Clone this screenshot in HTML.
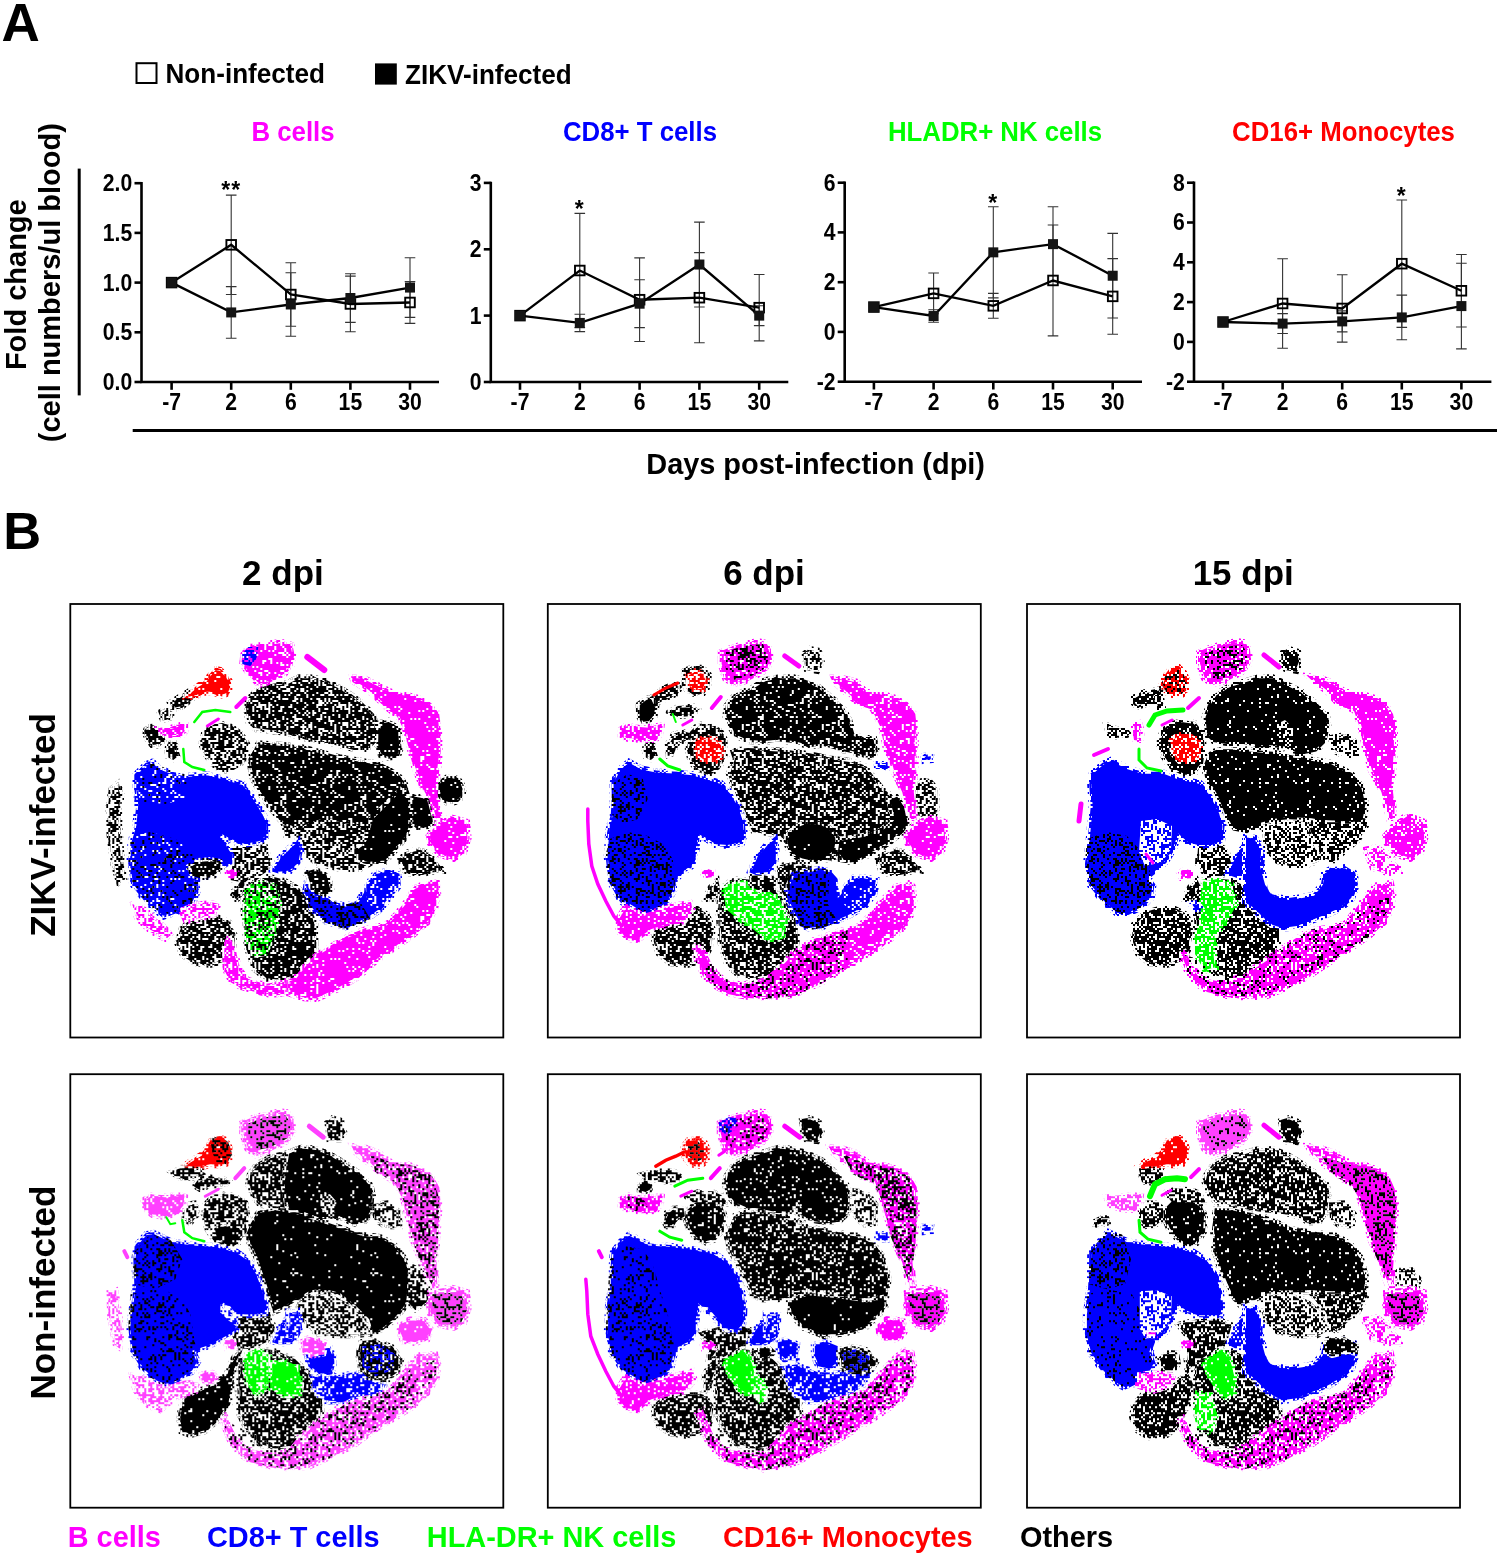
<!DOCTYPE html>
<html><head><meta charset="utf-8"><style>
html,body{margin:0;padding:0;background:#fff;}
svg{display:block;will-change:transform;}
</style></head><body>
<svg width="1500" height="1555" viewBox="0 0 1500 1555">
<text transform="translate(1.50,40.50)" fill="#000" font-family="'Liberation Sans', sans-serif" font-weight="bold" font-size="53">A</text>
<rect x="136.5" y="63.2" width="20" height="19.8" fill="none" stroke="#000" stroke-width="2"/>
<text transform="translate(165.50,83.00) scale(1,1.04)" fill="#000" font-family="'Liberation Sans', sans-serif" font-weight="bold" font-size="26.1">Non-infected</text>
<rect x="375" y="63.4" width="21.8" height="21.2" fill="#000"/>
<text transform="translate(405.00,84.00) scale(1,1.04)" fill="#000" font-family="'Liberation Sans', sans-serif" font-weight="bold" font-size="26.1">ZIKV-infected</text>
<text transform="translate(293.00,140.60) scale(1,1.07)" text-anchor="middle" fill="#ff00ff" font-family="'Liberation Sans', sans-serif" font-weight="bold" font-size="25.8">B cells</text>
<path d="M231.2 195.1V294.5M225.9 195.1h10.6M225.9 294.5h10.6" stroke="#333" stroke-width="1.1" fill="none"/>
<path d="M290.8 262.7V326.3M285.5 262.7h10.6M285.5 326.3h10.6" stroke="#333" stroke-width="1.1" fill="none"/>
<path d="M350.4 276.1V331.8M345.1 276.1h10.6M345.1 331.8h10.6" stroke="#333" stroke-width="1.1" fill="none"/>
<path d="M410.0 281.6V323.4M404.7 281.6h10.6M404.7 323.4h10.6" stroke="#333" stroke-width="1.1" fill="none"/>
<path d="M231.2 286.6V338.3M225.9 286.6h10.6M225.9 338.3h10.6" stroke="#333" stroke-width="1.1" fill="none"/>
<path d="M290.8 272.7V336.3M285.5 272.7h10.6M285.5 336.3h10.6" stroke="#333" stroke-width="1.1" fill="none"/>
<path d="M350.4 273.7V322.4M345.1 273.7h10.6M345.1 322.4h10.6" stroke="#333" stroke-width="1.1" fill="none"/>
<path d="M410.0 257.8V317.4M404.7 257.8h10.6M404.7 317.4h10.6" stroke="#333" stroke-width="1.1" fill="none"/>
<polyline points="171.6,282.6 231.2,244.8 290.8,294.5 350.4,304.0 410.0,302.5" fill="none" stroke="#000" stroke-width="2.35" stroke-linejoin="miter"/>
<polyline points="171.6,282.6 231.2,312.4 290.8,304.5 350.4,298.0 410.0,287.6" fill="none" stroke="#000" stroke-width="2.35" stroke-linejoin="miter"/>
<rect x="166.80" y="277.80" width="9.6" height="9.6" fill="none" stroke="#000" stroke-width="1.9"/>
<rect x="226.40" y="240.03" width="9.6" height="9.6" fill="none" stroke="#000" stroke-width="1.9"/>
<rect x="286.00" y="289.73" width="9.6" height="9.6" fill="none" stroke="#000" stroke-width="1.9"/>
<rect x="345.60" y="299.17" width="9.6" height="9.6" fill="none" stroke="#000" stroke-width="1.9"/>
<rect x="405.20" y="297.68" width="9.6" height="9.6" fill="none" stroke="#000" stroke-width="1.9"/>
<rect x="166.60" y="277.60" width="10" height="10" fill="#141414"/>
<rect x="226.20" y="307.42" width="10" height="10" fill="#141414"/>
<rect x="285.80" y="299.47" width="10" height="10" fill="#141414"/>
<rect x="345.40" y="293.01" width="10" height="10" fill="#141414"/>
<rect x="405.00" y="282.57" width="10" height="10" fill="#141414"/>
<path d="M141.5 182.0V382.0H439.0" fill="none" stroke="#000" stroke-width="2.6" stroke-linejoin="miter"/>
<path d="M134.5 382.0H141.5" stroke="#000" stroke-width="2.6"/>
<text transform="translate(132.30,389.90) scale(1,1.12)" text-anchor="end" fill="#000" font-family="'Liberation Sans', sans-serif" font-weight="bold" font-size="21.2">0.0</text>
<path d="M134.5 332.3H141.5" stroke="#000" stroke-width="2.6"/>
<text transform="translate(132.30,340.20) scale(1,1.12)" text-anchor="end" fill="#000" font-family="'Liberation Sans', sans-serif" font-weight="bold" font-size="21.2">0.5</text>
<path d="M134.5 282.6H141.5" stroke="#000" stroke-width="2.6"/>
<text transform="translate(132.30,290.50) scale(1,1.12)" text-anchor="end" fill="#000" font-family="'Liberation Sans', sans-serif" font-weight="bold" font-size="21.2">1.0</text>
<path d="M134.5 232.9H141.5" stroke="#000" stroke-width="2.6"/>
<text transform="translate(132.30,240.80) scale(1,1.12)" text-anchor="end" fill="#000" font-family="'Liberation Sans', sans-serif" font-weight="bold" font-size="21.2">1.5</text>
<path d="M134.5 183.2H141.5" stroke="#000" stroke-width="2.6"/>
<text transform="translate(132.30,191.10) scale(1,1.12)" text-anchor="end" fill="#000" font-family="'Liberation Sans', sans-serif" font-weight="bold" font-size="21.2">2.0</text>
<path d="M171.6 382.0V389.8" stroke="#000" stroke-width="2.6"/>
<text transform="translate(171.60,409.50) scale(1,1.12)" text-anchor="middle" fill="#000" font-family="'Liberation Sans', sans-serif" font-weight="bold" font-size="21.2">-7</text>
<path d="M231.2 382.0V389.8" stroke="#000" stroke-width="2.6"/>
<text transform="translate(231.20,409.50) scale(1,1.12)" text-anchor="middle" fill="#000" font-family="'Liberation Sans', sans-serif" font-weight="bold" font-size="21.2">2</text>
<path d="M290.8 382.0V389.8" stroke="#000" stroke-width="2.6"/>
<text transform="translate(290.80,409.50) scale(1,1.12)" text-anchor="middle" fill="#000" font-family="'Liberation Sans', sans-serif" font-weight="bold" font-size="21.2">6</text>
<path d="M350.4 382.0V389.8" stroke="#000" stroke-width="2.6"/>
<text transform="translate(350.40,409.50) scale(1,1.12)" text-anchor="middle" fill="#000" font-family="'Liberation Sans', sans-serif" font-weight="bold" font-size="21.2">15</text>
<path d="M410.0 382.0V389.8" stroke="#000" stroke-width="2.6"/>
<text transform="translate(410.00,409.50) scale(1,1.12)" text-anchor="middle" fill="#000" font-family="'Liberation Sans', sans-serif" font-weight="bold" font-size="21.2">30</text>
<text transform="translate(231.20,198.00)" text-anchor="middle" fill="#000" font-family="'Liberation Sans', sans-serif" font-weight="bold" font-size="23" letter-spacing="1">**</text>
<text transform="translate(640.00,140.60) scale(1,1.07)" text-anchor="middle" fill="#0000ff" font-family="'Liberation Sans', sans-serif" font-weight="bold" font-size="25.8">CD8+ T cells</text>
<path d="M579.8 213.4V327.6M574.5 213.4h10.6M574.5 327.6h10.6" stroke="#333" stroke-width="1.1" fill="none"/>
<path d="M639.6 257.9V341.5M634.3 257.9h10.6M634.3 341.5h10.6" stroke="#333" stroke-width="1.1" fill="none"/>
<path d="M699.4 252.6V342.8M694.1 252.6h10.6M694.1 342.8h10.6" stroke="#333" stroke-width="1.1" fill="none"/>
<path d="M759.2 274.5V340.9M753.9 274.5h10.6M753.9 340.9h10.6" stroke="#333" stroke-width="1.1" fill="none"/>
<path d="M579.8 314.3V331.6M574.5 314.3h10.6M574.5 331.6h10.6" stroke="#333" stroke-width="1.1" fill="none"/>
<path d="M639.6 279.8V327.6M634.3 279.8h10.6M634.3 327.6h10.6" stroke="#333" stroke-width="1.1" fill="none"/>
<path d="M699.4 222.1V307.0M694.1 222.1h10.6M694.1 307.0h10.6" stroke="#333" stroke-width="1.1" fill="none"/>
<path d="M759.2 305.7V325.6M753.9 305.7h10.6M753.9 325.6h10.6" stroke="#333" stroke-width="1.1" fill="none"/>
<polyline points="520.0,315.6 579.8,270.5 639.6,299.7 699.4,297.7 759.2,307.7" fill="none" stroke="#000" stroke-width="2.35" stroke-linejoin="miter"/>
<polyline points="520.0,315.6 579.8,322.9 639.6,303.7 699.4,264.5 759.2,315.6" fill="none" stroke="#000" stroke-width="2.35" stroke-linejoin="miter"/>
<rect x="515.20" y="310.83" width="9.6" height="9.6" fill="none" stroke="#000" stroke-width="1.9"/>
<rect x="575.00" y="265.70" width="9.6" height="9.6" fill="none" stroke="#000" stroke-width="1.9"/>
<rect x="634.80" y="294.91" width="9.6" height="9.6" fill="none" stroke="#000" stroke-width="1.9"/>
<rect x="694.60" y="292.91" width="9.6" height="9.6" fill="none" stroke="#000" stroke-width="1.9"/>
<rect x="754.40" y="302.87" width="9.6" height="9.6" fill="none" stroke="#000" stroke-width="1.9"/>
<rect x="515.00" y="310.63" width="10" height="10" fill="#141414"/>
<rect x="574.80" y="317.93" width="10" height="10" fill="#141414"/>
<rect x="634.60" y="298.69" width="10" height="10" fill="#141414"/>
<rect x="694.40" y="259.53" width="10" height="10" fill="#141414"/>
<rect x="754.20" y="310.63" width="10" height="10" fill="#141414"/>
<path d="M490.8 181.7V382.0H788.3" fill="none" stroke="#000" stroke-width="2.6" stroke-linejoin="miter"/>
<path d="M483.8 382.0H490.8" stroke="#000" stroke-width="2.6"/>
<text transform="translate(481.60,389.90) scale(1,1.12)" text-anchor="end" fill="#000" font-family="'Liberation Sans', sans-serif" font-weight="bold" font-size="21.2">0</text>
<path d="M483.8 315.6H490.8" stroke="#000" stroke-width="2.6"/>
<text transform="translate(481.60,323.53) scale(1,1.12)" text-anchor="end" fill="#000" font-family="'Liberation Sans', sans-serif" font-weight="bold" font-size="21.2">1</text>
<path d="M483.8 249.3H490.8" stroke="#000" stroke-width="2.6"/>
<text transform="translate(481.60,257.17) scale(1,1.12)" text-anchor="end" fill="#000" font-family="'Liberation Sans', sans-serif" font-weight="bold" font-size="21.2">2</text>
<path d="M483.8 182.9H490.8" stroke="#000" stroke-width="2.6"/>
<text transform="translate(481.60,190.80) scale(1,1.12)" text-anchor="end" fill="#000" font-family="'Liberation Sans', sans-serif" font-weight="bold" font-size="21.2">3</text>
<path d="M520.0 382.0V389.8" stroke="#000" stroke-width="2.6"/>
<text transform="translate(520.00,409.50) scale(1,1.12)" text-anchor="middle" fill="#000" font-family="'Liberation Sans', sans-serif" font-weight="bold" font-size="21.2">-7</text>
<path d="M579.8 382.0V389.8" stroke="#000" stroke-width="2.6"/>
<text transform="translate(579.80,409.50) scale(1,1.12)" text-anchor="middle" fill="#000" font-family="'Liberation Sans', sans-serif" font-weight="bold" font-size="21.2">2</text>
<path d="M639.6 382.0V389.8" stroke="#000" stroke-width="2.6"/>
<text transform="translate(639.60,409.50) scale(1,1.12)" text-anchor="middle" fill="#000" font-family="'Liberation Sans', sans-serif" font-weight="bold" font-size="21.2">6</text>
<path d="M699.4 382.0V389.8" stroke="#000" stroke-width="2.6"/>
<text transform="translate(699.40,409.50) scale(1,1.12)" text-anchor="middle" fill="#000" font-family="'Liberation Sans', sans-serif" font-weight="bold" font-size="21.2">15</text>
<path d="M759.2 382.0V389.8" stroke="#000" stroke-width="2.6"/>
<text transform="translate(759.20,409.50) scale(1,1.12)" text-anchor="middle" fill="#000" font-family="'Liberation Sans', sans-serif" font-weight="bold" font-size="21.2">30</text>
<text transform="translate(579.80,217.00)" text-anchor="middle" fill="#000" font-family="'Liberation Sans', sans-serif" font-weight="bold" font-size="23" letter-spacing="1">*</text>
<text transform="translate(995.00,140.60) scale(1,1.07)" text-anchor="middle" fill="#00ff00" font-family="'Liberation Sans', sans-serif" font-weight="bold" font-size="25.8">HLADR+ NK cells</text>
<path d="M933.6 273.0V313.8M928.3 273.0h10.6M928.3 313.8h10.6" stroke="#333" stroke-width="1.1" fill="none"/>
<path d="M993.3 293.4V318.3M988.0 293.4h10.6M988.0 318.3h10.6" stroke="#333" stroke-width="1.1" fill="none"/>
<path d="M1053.0 225.0V335.9M1047.7 225.0h10.6M1047.7 335.9h10.6" stroke="#333" stroke-width="1.1" fill="none"/>
<path d="M1112.7 258.6V334.2M1107.4 258.6h10.6M1107.4 334.2h10.6" stroke="#333" stroke-width="1.1" fill="none"/>
<path d="M933.6 309.8V322.2M928.3 309.8h10.6M928.3 322.2h10.6" stroke="#333" stroke-width="1.1" fill="none"/>
<path d="M993.3 206.8V297.9M988.0 206.8h10.6M988.0 297.9h10.6" stroke="#333" stroke-width="1.1" fill="none"/>
<path d="M1053.0 206.8V281.5M1047.7 206.8h10.6M1047.7 281.5h10.6" stroke="#333" stroke-width="1.1" fill="none"/>
<path d="M1112.7 233.4V318.0M1107.4 233.4h10.6M1107.4 318.0h10.6" stroke="#333" stroke-width="1.1" fill="none"/>
<polyline points="873.9,307.1 933.6,293.4 993.3,305.8 1053.0,280.5 1112.7,296.4" fill="none" stroke="#000" stroke-width="2.35" stroke-linejoin="miter"/>
<polyline points="873.9,307.1 933.6,316.0 993.3,252.3 1053.0,244.1 1112.7,275.7" fill="none" stroke="#000" stroke-width="2.35" stroke-linejoin="miter"/>
<rect x="869.10" y="302.27" width="9.6" height="9.6" fill="none" stroke="#000" stroke-width="1.9"/>
<rect x="928.80" y="288.59" width="9.6" height="9.6" fill="none" stroke="#000" stroke-width="1.9"/>
<rect x="988.50" y="301.03" width="9.6" height="9.6" fill="none" stroke="#000" stroke-width="1.9"/>
<rect x="1048.20" y="275.66" width="9.6" height="9.6" fill="none" stroke="#000" stroke-width="1.9"/>
<rect x="1107.90" y="291.58" width="9.6" height="9.6" fill="none" stroke="#000" stroke-width="1.9"/>
<rect x="868.90" y="302.07" width="10" height="10" fill="#141414"/>
<rect x="928.60" y="311.03" width="10" height="10" fill="#141414"/>
<rect x="988.30" y="247.35" width="10" height="10" fill="#141414"/>
<rect x="1048.00" y="239.14" width="10" height="10" fill="#141414"/>
<rect x="1107.70" y="270.73" width="10" height="10" fill="#141414"/>
<path d="M844.7 181.5V381.7H1142.0" fill="none" stroke="#000" stroke-width="2.6" stroke-linejoin="miter"/>
<path d="M837.7 381.7H844.7" stroke="#000" stroke-width="2.6"/>
<text transform="translate(835.50,389.60) scale(1,1.12)" text-anchor="end" fill="#000" font-family="'Liberation Sans', sans-serif" font-weight="bold" font-size="21.2">-2</text>
<path d="M837.7 331.9H844.7" stroke="#000" stroke-width="2.6"/>
<text transform="translate(835.50,339.85) scale(1,1.12)" text-anchor="end" fill="#000" font-family="'Liberation Sans', sans-serif" font-weight="bold" font-size="21.2">0</text>
<path d="M837.7 282.2H844.7" stroke="#000" stroke-width="2.6"/>
<text transform="translate(835.50,290.10) scale(1,1.12)" text-anchor="end" fill="#000" font-family="'Liberation Sans', sans-serif" font-weight="bold" font-size="21.2">2</text>
<path d="M837.7 232.4H844.7" stroke="#000" stroke-width="2.6"/>
<text transform="translate(835.50,240.35) scale(1,1.12)" text-anchor="end" fill="#000" font-family="'Liberation Sans', sans-serif" font-weight="bold" font-size="21.2">4</text>
<path d="M837.7 182.7H844.7" stroke="#000" stroke-width="2.6"/>
<text transform="translate(835.50,190.60) scale(1,1.12)" text-anchor="end" fill="#000" font-family="'Liberation Sans', sans-serif" font-weight="bold" font-size="21.2">6</text>
<path d="M873.9 381.7V389.5" stroke="#000" stroke-width="2.6"/>
<text transform="translate(873.90,409.50) scale(1,1.12)" text-anchor="middle" fill="#000" font-family="'Liberation Sans', sans-serif" font-weight="bold" font-size="21.2">-7</text>
<path d="M933.6 381.7V389.5" stroke="#000" stroke-width="2.6"/>
<text transform="translate(933.60,409.50) scale(1,1.12)" text-anchor="middle" fill="#000" font-family="'Liberation Sans', sans-serif" font-weight="bold" font-size="21.2">2</text>
<path d="M993.3 381.7V389.5" stroke="#000" stroke-width="2.6"/>
<text transform="translate(993.30,409.50) scale(1,1.12)" text-anchor="middle" fill="#000" font-family="'Liberation Sans', sans-serif" font-weight="bold" font-size="21.2">6</text>
<path d="M1053.0 381.7V389.5" stroke="#000" stroke-width="2.6"/>
<text transform="translate(1053.00,409.50) scale(1,1.12)" text-anchor="middle" fill="#000" font-family="'Liberation Sans', sans-serif" font-weight="bold" font-size="21.2">15</text>
<path d="M1112.7 381.7V389.5" stroke="#000" stroke-width="2.6"/>
<text transform="translate(1112.70,409.50) scale(1,1.12)" text-anchor="middle" fill="#000" font-family="'Liberation Sans', sans-serif" font-weight="bold" font-size="21.2">30</text>
<text transform="translate(993.30,211.00)" text-anchor="middle" fill="#000" font-family="'Liberation Sans', sans-serif" font-weight="bold" font-size="23" letter-spacing="1">*</text>
<text transform="translate(1343.50,140.60) scale(1,1.07)" text-anchor="middle" fill="#ff0000" font-family="'Liberation Sans', sans-serif" font-weight="bold" font-size="25.8">CD16+ Monocytes</text>
<path d="M1282.6 258.7V348.3M1277.3 258.7h10.6M1277.3 348.3h10.6" stroke="#333" stroke-width="1.1" fill="none"/>
<path d="M1342.2 274.8V342.1M1336.9 274.8h10.6M1336.9 342.1h10.6" stroke="#333" stroke-width="1.1" fill="none"/>
<path d="M1401.8 200.0V327.4M1396.5 200.0h10.6M1396.5 327.4h10.6" stroke="#333" stroke-width="1.1" fill="none"/>
<path d="M1461.4 254.5V327.0M1456.1 254.5h10.6M1456.1 327.0h10.6" stroke="#333" stroke-width="1.1" fill="none"/>
<path d="M1282.6 313.6V333.5M1277.3 313.6h10.6M1277.3 333.5h10.6" stroke="#333" stroke-width="1.1" fill="none"/>
<path d="M1342.2 310.9V331.9M1336.9 310.9h10.6M1336.9 331.9h10.6" stroke="#333" stroke-width="1.1" fill="none"/>
<path d="M1401.8 295.1V339.7M1396.5 295.1h10.6M1396.5 339.7h10.6" stroke="#333" stroke-width="1.1" fill="none"/>
<path d="M1461.4 263.3V348.9M1456.1 263.3h10.6M1456.1 348.9h10.6" stroke="#333" stroke-width="1.1" fill="none"/>
<polyline points="1223.0,322.0 1282.6,303.5 1342.2,308.5 1401.8,263.7 1461.4,290.8" fill="none" stroke="#000" stroke-width="2.35" stroke-linejoin="miter"/>
<polyline points="1223.0,322.0 1282.6,323.6 1342.2,321.4 1401.8,317.4 1461.4,306.1" fill="none" stroke="#000" stroke-width="2.35" stroke-linejoin="miter"/>
<rect x="1218.20" y="317.20" width="9.6" height="9.6" fill="none" stroke="#000" stroke-width="1.9"/>
<rect x="1277.80" y="298.69" width="9.6" height="9.6" fill="none" stroke="#000" stroke-width="1.9"/>
<rect x="1337.40" y="303.67" width="9.6" height="9.6" fill="none" stroke="#000" stroke-width="1.9"/>
<rect x="1397.00" y="258.89" width="9.6" height="9.6" fill="none" stroke="#000" stroke-width="1.9"/>
<rect x="1456.60" y="285.96" width="9.6" height="9.6" fill="none" stroke="#000" stroke-width="1.9"/>
<rect x="1218.00" y="317.00" width="10" height="10" fill="#141414"/>
<rect x="1277.60" y="318.59" width="10" height="10" fill="#141414"/>
<rect x="1337.20" y="316.40" width="10" height="10" fill="#141414"/>
<rect x="1396.80" y="312.42" width="10" height="10" fill="#141414"/>
<rect x="1456.40" y="301.08" width="10" height="10" fill="#141414"/>
<path d="M1194.0 181.5V381.7H1491.4" fill="none" stroke="#000" stroke-width="2.6" stroke-linejoin="miter"/>
<path d="M1187.0 381.7H1194" stroke="#000" stroke-width="2.6"/>
<text transform="translate(1184.80,389.60) scale(1,1.12)" text-anchor="end" fill="#000" font-family="'Liberation Sans', sans-serif" font-weight="bold" font-size="21.2">-2</text>
<path d="M1187.0 341.9H1194" stroke="#000" stroke-width="2.6"/>
<text transform="translate(1184.80,349.80) scale(1,1.12)" text-anchor="end" fill="#000" font-family="'Liberation Sans', sans-serif" font-weight="bold" font-size="21.2">0</text>
<path d="M1187.0 302.1H1194" stroke="#000" stroke-width="2.6"/>
<text transform="translate(1184.80,310.00) scale(1,1.12)" text-anchor="end" fill="#000" font-family="'Liberation Sans', sans-serif" font-weight="bold" font-size="21.2">2</text>
<path d="M1187.0 262.3H1194" stroke="#000" stroke-width="2.6"/>
<text transform="translate(1184.80,270.20) scale(1,1.12)" text-anchor="end" fill="#000" font-family="'Liberation Sans', sans-serif" font-weight="bold" font-size="21.2">4</text>
<path d="M1187.0 222.5H1194" stroke="#000" stroke-width="2.6"/>
<text transform="translate(1184.80,230.40) scale(1,1.12)" text-anchor="end" fill="#000" font-family="'Liberation Sans', sans-serif" font-weight="bold" font-size="21.2">6</text>
<path d="M1187.0 182.7H1194" stroke="#000" stroke-width="2.6"/>
<text transform="translate(1184.80,190.60) scale(1,1.12)" text-anchor="end" fill="#000" font-family="'Liberation Sans', sans-serif" font-weight="bold" font-size="21.2">8</text>
<path d="M1223.0 381.7V389.5" stroke="#000" stroke-width="2.6"/>
<text transform="translate(1223.00,409.50) scale(1,1.12)" text-anchor="middle" fill="#000" font-family="'Liberation Sans', sans-serif" font-weight="bold" font-size="21.2">-7</text>
<path d="M1282.6 381.7V389.5" stroke="#000" stroke-width="2.6"/>
<text transform="translate(1282.60,409.50) scale(1,1.12)" text-anchor="middle" fill="#000" font-family="'Liberation Sans', sans-serif" font-weight="bold" font-size="21.2">2</text>
<path d="M1342.2 381.7V389.5" stroke="#000" stroke-width="2.6"/>
<text transform="translate(1342.20,409.50) scale(1,1.12)" text-anchor="middle" fill="#000" font-family="'Liberation Sans', sans-serif" font-weight="bold" font-size="21.2">6</text>
<path d="M1401.8 381.7V389.5" stroke="#000" stroke-width="2.6"/>
<text transform="translate(1401.80,409.50) scale(1,1.12)" text-anchor="middle" fill="#000" font-family="'Liberation Sans', sans-serif" font-weight="bold" font-size="21.2">15</text>
<path d="M1461.4 381.7V389.5" stroke="#000" stroke-width="2.6"/>
<text transform="translate(1461.40,409.50) scale(1,1.12)" text-anchor="middle" fill="#000" font-family="'Liberation Sans', sans-serif" font-weight="bold" font-size="21.2">30</text>
<text transform="translate(1401.80,204.00)" text-anchor="middle" fill="#000" font-family="'Liberation Sans', sans-serif" font-weight="bold" font-size="23" letter-spacing="1">*</text>
<text transform="translate(25.80,284.70) rotate(-90)" text-anchor="middle" fill="#000" font-family="'Liberation Sans', sans-serif" font-weight="bold" font-size="29">Fold change</text>
<text transform="translate(60.20,282.70) rotate(-90)" text-anchor="middle" fill="#000" font-family="'Liberation Sans', sans-serif" font-weight="bold" font-size="29">(cell numbers/ul blood)</text>
<path d="M79.2 168.6V395.4" stroke="#000" stroke-width="3"/>
<path d="M132.7 430.5H1497" stroke="#000" stroke-width="2.9"/>
<text transform="translate(815.60,473.60)" text-anchor="middle" fill="#000" font-family="'Liberation Sans', sans-serif" font-weight="bold" font-size="28.9">Days post-infection (dpi)</text>
<text transform="translate(3.30,548.70)" fill="#000" font-family="'Liberation Sans', sans-serif" font-weight="bold" font-size="52.5">B</text>
<text transform="translate(282.90,584.80)" text-anchor="middle" fill="#000" font-family="'Liberation Sans', sans-serif" font-weight="bold" font-size="35">2 dpi</text>
<text transform="translate(764.00,584.80)" text-anchor="middle" fill="#000" font-family="'Liberation Sans', sans-serif" font-weight="bold" font-size="35">6 dpi</text>
<text transform="translate(1243.20,584.80)" text-anchor="middle" fill="#000" font-family="'Liberation Sans', sans-serif" font-weight="bold" font-size="35">15 dpi</text>
<text transform="translate(55.20,825.00) rotate(-90)" text-anchor="middle" fill="#000" font-family="'Liberation Sans', sans-serif" font-weight="bold" font-size="35">ZIKV-infected</text>
<text transform="translate(54.50,1292.60) rotate(-90)" text-anchor="middle" fill="#000" font-family="'Liberation Sans', sans-serif" font-weight="bold" font-size="35">Non-infected</text>
<defs><filter id="rough" x="-2%" y="-2%" width="104%" height="104%" color-interpolation-filters="sRGB"><feTurbulence type="fractalNoise" baseFrequency="0.09" numOctaves="2" seed="5" result="t"/><feDisplacementMap in="SourceGraphic" in2="t" scale="7" xChannelSelector="R" yChannelSelector="G"/></filter><pattern id="p0000001" patternUnits="userSpaceOnUse" width="80" height="80"><path d="M0 0h4v2h-4zM26 0h2v2h-2zM0 2h2v2h-2zM12 2h2v2h-2zM34 2h2v2h-2zM6 4h2v2h-2zM30 4h2v2h-2zM48 4h2v2h-2zM52 4h2v2h-2zM70 4h2v2h-2zM18 6h2v2h-2zM10 10h2v2h-2zM32 10h2v2h-2zM4 12h2v2h-2zM10 12h2v2h-2zM20 12h2v2h-2zM40 14h2v2h-2zM72 14h2v2h-2zM26 16h2v2h-2zM38 16h4v2h-4zM56 16h2v2h-2zM0 18h2v2h-2zM28 18h2v2h-2zM34 18h2v2h-2zM64 18h2v2h-2zM72 18h2v2h-2zM78 18h2v2h-2zM8 20h2v2h-2zM52 20h2v2h-2zM72 22h2v2h-2zM40 26h2v2h-2zM60 26h2v2h-2zM8 28h2v2h-2zM78 30h2v2h-2zM6 32h2v2h-2zM46 32h2v2h-2zM8 36h2v2h-2zM42 36h2v2h-2zM74 36h2v2h-2zM14 38h2v2h-2zM42 38h2v2h-2zM2 40h2v2h-2zM10 40h2v2h-2zM40 40h2v2h-2zM10 42h2v2h-2zM42 42h2v2h-2zM58 42h2v2h-2zM66 42h2v2h-2zM0 44h2v2h-2zM30 44h2v2h-2zM68 44h2v2h-2zM6 46h2v2h-2zM18 46h2v2h-2zM50 46h2v2h-2zM24 48h2v2h-2zM44 48h2v2h-2zM18 50h2v2h-2zM38 50h2v2h-2zM56 50h2v2h-2zM4 54h2v2h-2zM12 56h2v2h-2zM6 58h2v2h-2zM20 58h2v2h-2zM18 60h2v2h-2zM22 60h2v2h-2zM0 62h2v2h-2zM20 62h2v2h-2zM28 62h2v2h-2zM38 62h2v2h-2zM64 62h2v2h-2zM26 64h2v2h-2zM46 64h2v2h-2zM60 64h2v2h-2zM76 64h2v2h-2zM40 66h2v2h-2zM56 66h2v2h-2zM0 68h2v2h-2zM64 68h2v2h-2zM78 68h2v2h-2zM12 70h2v2h-2zM20 70h2v2h-2zM28 70h2v2h-2zM20 72h2v2h-2zM44 72h2v2h-2zM66 72h4v2h-4zM20 74h2v2h-2zM30 74h2v2h-2zM48 74h2v2h-2zM10 76h2v2h-2zM22 76h2v2h-2zM64 76h2v2h-2zM40 78h2v2h-2zM56 78h2v2h-2z" fill="#000000"/></pattern>
<pattern id="p0000002" patternUnits="userSpaceOnUse" width="80" height="80"><path d="M8 0h2v2h-2zM18 0h2v2h-2zM30 0h2v2h-2zM36 0h2v2h-2zM38 2h2v2h-2zM72 2h2v2h-2zM20 4h2v2h-2zM26 4h2v2h-2zM40 4h4v2h-4zM46 4h2v2h-2zM60 4h2v2h-2zM72 4h2v2h-2zM2 6h2v2h-2zM6 6h2v2h-2zM14 6h2v2h-2zM70 6h2v2h-2zM8 8h2v2h-2zM16 8h2v2h-2zM64 8h2v2h-2zM50 10h2v2h-2zM74 10h2v2h-2zM26 12h2v2h-2zM30 12h2v2h-2zM62 12h2v2h-2zM70 12h2v2h-2zM14 14h2v2h-2zM46 14h2v2h-2zM54 14h2v2h-2zM24 16h2v2h-2zM46 16h2v2h-2zM60 16h2v2h-2zM64 16h2v2h-2zM48 18h2v2h-2zM52 18h2v2h-2zM62 18h2v2h-2zM62 20h2v2h-2zM4 22h2v2h-2zM8 22h2v2h-2zM58 22h2v2h-2zM74 22h2v2h-2zM10 24h2v2h-2zM36 24h2v2h-2zM42 24h2v2h-2zM48 24h2v2h-2zM8 26h2v2h-2zM28 26h2v2h-2zM32 26h2v2h-2zM52 26h2v2h-2zM58 26h2v2h-2zM76 26h2v2h-2zM18 28h2v2h-2zM42 28h2v2h-2zM56 28h2v2h-2zM4 30h2v2h-2zM70 30h2v2h-2zM38 32h2v2h-2zM58 32h2v2h-2zM74 32h4v2h-4zM4 34h4v2h-4zM20 34h2v2h-2zM24 34h2v2h-2zM28 34h2v2h-2zM46 34h2v2h-2zM12 36h2v2h-2zM62 36h2v2h-2zM66 36h2v2h-2zM0 38h2v2h-2zM34 38h2v2h-2zM6 40h2v2h-2zM12 40h2v2h-2zM74 40h2v2h-2zM2 42h2v2h-2zM6 42h2v2h-2zM36 42h2v2h-2zM42 42h2v2h-2zM48 42h2v2h-2zM60 42h4v2h-4zM70 42h2v2h-2zM44 44h2v2h-2zM52 44h2v2h-2zM64 44h2v2h-2zM78 44h2v2h-2zM10 46h2v2h-2zM38 46h2v2h-2zM42 46h2v2h-2zM50 46h2v2h-2zM64 46h2v2h-2zM8 48h2v2h-2zM0 50h2v2h-2zM8 50h2v2h-2zM12 50h2v2h-2zM52 50h2v2h-2zM56 50h2v2h-2zM60 50h2v2h-2zM66 50h2v2h-2zM74 50h2v2h-2zM6 54h2v2h-2zM20 54h4v2h-4zM46 54h4v2h-4zM2 56h2v2h-2zM6 56h4v2h-4zM18 56h2v2h-2zM48 56h2v2h-2zM52 56h4v2h-4zM0 58h2v2h-2zM12 58h2v2h-2zM58 58h2v2h-2zM64 58h2v2h-2zM74 58h2v2h-2zM6 60h2v2h-2zM24 60h2v2h-2zM38 60h2v2h-2zM48 60h2v2h-2zM0 62h4v2h-4zM6 62h2v2h-2zM26 62h2v2h-2zM60 62h2v2h-2zM6 64h2v2h-2zM44 64h2v2h-2zM0 66h2v2h-2zM6 66h2v2h-2zM32 66h2v2h-2zM36 66h2v2h-2zM58 66h2v2h-2zM6 68h2v2h-2zM20 68h2v2h-2zM62 68h2v2h-2zM74 68h2v2h-2zM14 70h2v2h-2zM36 70h4v2h-4zM70 70h6v2h-6zM0 72h2v2h-2zM10 72h2v2h-2zM30 72h4v2h-4zM58 72h4v2h-4zM66 72h2v2h-2zM12 74h2v2h-2zM30 74h4v2h-4zM30 76h2v2h-2zM54 76h2v2h-2zM2 78h2v2h-2zM6 78h2v2h-2zM12 78h2v2h-2zM16 78h2v2h-2zM62 78h2v2h-2z" fill="#000000"/></pattern>
<pattern id="p0000003" patternUnits="userSpaceOnUse" width="80" height="80"><path d="M42 0h2v2h-2zM42 2h2v2h-2zM64 2h2v2h-2zM70 2h2v2h-2zM74 2h2v2h-2zM10 4h2v2h-2zM44 4h4v2h-4zM4 6h2v2h-2zM20 6h2v2h-2zM26 6h4v2h-4zM48 6h2v2h-2zM68 6h2v2h-2zM4 8h2v2h-2zM26 8h2v2h-2zM58 8h2v2h-2zM62 8h2v2h-2zM2 10h2v2h-2zM18 10h4v2h-4zM26 10h2v2h-2zM32 10h2v2h-2zM36 10h2v2h-2zM40 10h2v2h-2zM48 10h4v2h-4zM16 12h6v2h-6zM24 12h2v2h-2zM28 12h2v2h-2zM34 12h2v2h-2zM46 12h2v2h-2zM56 12h2v2h-2zM70 12h2v2h-2zM14 14h2v2h-2zM22 14h2v2h-2zM42 14h2v2h-2zM48 14h2v2h-2zM56 14h2v2h-2zM14 16h2v2h-2zM20 16h2v2h-2zM32 16h2v2h-2zM46 16h2v2h-2zM50 16h2v2h-2zM58 16h2v2h-2zM62 16h4v2h-4zM8 18h2v2h-2zM12 18h4v2h-4zM22 18h2v2h-2zM28 18h2v2h-2zM48 18h2v2h-2zM66 18h2v2h-2zM0 20h6v2h-6zM20 20h2v2h-2zM64 20h2v2h-2zM6 22h2v2h-2zM20 22h2v2h-2zM38 22h2v2h-2zM46 22h2v2h-2zM50 22h2v2h-2zM54 22h2v2h-2zM70 22h4v2h-4zM12 24h2v2h-2zM38 24h2v2h-2zM62 24h2v2h-2zM74 24h2v2h-2zM0 26h2v2h-2zM14 26h2v2h-2zM22 26h2v2h-2zM48 26h2v2h-2zM52 26h2v2h-2zM58 26h2v2h-2zM66 26h2v2h-2zM78 26h2v2h-2zM6 28h2v2h-2zM20 28h2v2h-2zM24 28h2v2h-2zM68 28h2v2h-2zM28 30h2v2h-2zM54 30h2v2h-2zM70 30h2v2h-2zM78 30h2v2h-2zM2 32h4v2h-4zM8 32h2v2h-2zM16 32h2v2h-2zM24 32h4v2h-4zM30 32h4v2h-4zM50 32h6v2h-6zM66 32h4v2h-4zM72 32h2v2h-2zM52 34h4v2h-4zM2 36h2v2h-2zM8 36h2v2h-2zM22 36h2v2h-2zM50 36h2v2h-2zM62 36h4v2h-4zM8 38h2v2h-2zM20 38h2v2h-2zM44 38h4v2h-4zM50 38h2v2h-2zM54 38h2v2h-2zM34 40h2v2h-2zM38 40h4v2h-4zM50 40h2v2h-2zM2 42h2v2h-2zM16 42h2v2h-2zM34 42h2v2h-2zM44 42h2v2h-2zM52 42h2v2h-2zM66 42h2v2h-2zM0 44h2v2h-2zM34 44h2v2h-2zM44 44h2v2h-2zM54 44h2v2h-2zM72 44h2v2h-2zM0 46h2v2h-2zM10 46h2v2h-2zM22 46h2v2h-2zM30 46h2v2h-2zM38 46h2v2h-2zM42 46h2v2h-2zM54 46h2v2h-2zM76 46h2v2h-2zM2 48h2v2h-2zM14 48h2v2h-2zM24 48h2v2h-2zM48 48h6v2h-6zM56 48h2v2h-2zM26 50h2v2h-2zM44 50h2v2h-2zM52 50h4v2h-4zM58 50h2v2h-2zM76 50h2v2h-2zM12 52h2v2h-2zM16 52h2v2h-2zM20 52h2v2h-2zM56 52h2v2h-2zM72 52h2v2h-2zM76 52h2v2h-2zM16 54h2v2h-2zM38 54h4v2h-4zM18 56h2v2h-2zM32 56h4v2h-4zM40 56h2v2h-2zM64 56h2v2h-2zM68 56h4v2h-4zM76 56h2v2h-2zM20 58h2v2h-2zM32 58h2v2h-2zM40 58h2v2h-2zM46 58h2v2h-2zM50 58h2v2h-2zM68 58h2v2h-2zM72 58h2v2h-2zM8 60h2v2h-2zM50 60h4v2h-4zM56 60h2v2h-2zM64 60h2v2h-2zM70 60h2v2h-2zM2 62h2v2h-2zM10 62h2v2h-2zM22 62h2v2h-2zM26 62h2v2h-2zM60 62h2v2h-2zM66 62h2v2h-2zM72 62h2v2h-2zM0 64h2v2h-2zM6 64h2v2h-2zM30 64h2v2h-2zM56 64h2v2h-2zM64 64h2v2h-2zM76 64h2v2h-2zM24 66h2v2h-2zM34 66h4v2h-4zM50 66h4v2h-4zM70 66h2v2h-2zM2 68h2v2h-2zM10 68h2v2h-2zM16 68h2v2h-2zM28 68h4v2h-4zM38 68h2v2h-2zM44 68h2v2h-2zM54 68h2v2h-2zM58 68h2v2h-2zM64 68h2v2h-2zM78 68h2v2h-2zM12 70h2v2h-2zM30 70h2v2h-2zM36 70h2v2h-2zM48 70h2v2h-2zM54 70h4v2h-4zM78 70h2v2h-2zM2 72h2v2h-2zM10 72h2v2h-2zM20 72h2v2h-2zM26 74h2v2h-2zM78 74h2v2h-2zM12 76h2v2h-2zM20 76h2v2h-2zM30 76h2v2h-2zM34 76h2v2h-2zM42 76h2v2h-2zM48 76h2v2h-2zM52 76h2v2h-2zM72 76h2v2h-2zM0 78h2v2h-2zM6 78h2v2h-2zM26 78h2v2h-2zM38 78h2v2h-2zM60 78h4v2h-4zM72 78h2v2h-2z" fill="#000000"/></pattern>
<pattern id="p0000004" patternUnits="userSpaceOnUse" width="80" height="80"><path d="M16 0h2v2h-2zM20 0h2v2h-2zM40 0h2v2h-2zM44 0h2v2h-2zM48 0h2v2h-2zM52 0h2v2h-2zM66 0h2v2h-2zM74 0h2v2h-2zM78 0h2v2h-2zM10 2h4v2h-4zM54 2h2v2h-2zM60 2h2v2h-2zM70 2h2v2h-2zM74 2h6v2h-6zM22 4h2v2h-2zM4 6h2v2h-2zM16 6h2v2h-2zM58 6h2v2h-2zM70 6h4v2h-4zM10 8h4v2h-4zM20 8h2v2h-2zM28 8h2v2h-2zM38 8h2v2h-2zM44 8h2v2h-2zM54 8h2v2h-2zM58 8h2v2h-2zM68 8h4v2h-4zM76 8h2v2h-2zM24 10h4v2h-4zM32 10h2v2h-2zM52 10h2v2h-2zM56 10h2v2h-2zM64 10h2v2h-2zM2 12h2v2h-2zM6 12h2v2h-2zM10 12h2v2h-2zM14 12h2v2h-2zM22 12h2v2h-2zM30 12h4v2h-4zM36 12h2v2h-2zM42 12h2v2h-2zM48 12h2v2h-2zM54 12h6v2h-6zM64 12h2v2h-2zM72 12h2v2h-2zM78 12h2v2h-2zM2 14h4v2h-4zM16 14h2v2h-2zM22 14h2v2h-2zM36 14h2v2h-2zM58 14h2v2h-2zM66 14h6v2h-6zM78 14h2v2h-2zM26 16h2v2h-2zM36 16h2v2h-2zM44 16h2v2h-2zM64 16h2v2h-2zM68 16h2v2h-2zM74 16h2v2h-2zM2 18h2v2h-2zM26 18h2v2h-2zM32 18h2v2h-2zM38 18h4v2h-4zM46 18h2v2h-2zM50 18h4v2h-4zM56 18h2v2h-2zM18 20h4v2h-4zM24 20h2v2h-2zM36 20h2v2h-2zM44 20h2v2h-2zM12 22h2v2h-2zM18 22h4v2h-4zM26 22h2v2h-2zM34 22h2v2h-2zM42 22h2v2h-2zM54 22h2v2h-2zM62 22h2v2h-2zM76 22h4v2h-4zM4 24h2v2h-2zM18 24h2v2h-2zM26 24h6v2h-6zM36 24h2v2h-2zM46 24h2v2h-2zM50 24h2v2h-2zM62 24h4v2h-4zM76 24h2v2h-2zM4 26h2v2h-2zM8 26h2v2h-2zM32 26h2v2h-2zM42 26h2v2h-2zM46 26h2v2h-2zM54 26h2v2h-2zM10 28h4v2h-4zM40 28h6v2h-6zM50 28h4v2h-4zM2 30h2v2h-2zM14 30h2v2h-2zM34 30h2v2h-2zM48 30h2v2h-2zM52 30h2v2h-2zM26 32h2v2h-2zM36 32h2v2h-2zM40 32h2v2h-2zM62 32h4v2h-4zM74 32h2v2h-2zM10 34h2v2h-2zM18 34h4v2h-4zM30 34h2v2h-2zM58 34h2v2h-2zM12 36h2v2h-2zM16 36h8v2h-8zM34 36h2v2h-2zM48 36h2v2h-2zM64 36h2v2h-2zM68 36h2v2h-2zM24 38h2v2h-2zM28 38h2v2h-2zM32 38h6v2h-6zM42 38h2v2h-2zM50 38h2v2h-2zM64 38h2v2h-2zM2 40h2v2h-2zM8 40h2v2h-2zM12 40h4v2h-4zM24 40h2v2h-2zM28 40h2v2h-2zM62 40h2v2h-2zM0 42h2v2h-2zM4 42h2v2h-2zM10 42h2v2h-2zM24 42h2v2h-2zM28 42h2v2h-2zM42 42h2v2h-2zM50 42h2v2h-2zM60 42h4v2h-4zM66 42h2v2h-2zM0 44h2v2h-2zM4 44h2v2h-2zM10 44h2v2h-2zM24 44h2v2h-2zM28 44h2v2h-2zM32 44h2v2h-2zM40 44h2v2h-2zM54 44h2v2h-2zM70 44h2v2h-2zM78 44h2v2h-2zM4 46h2v2h-2zM20 46h2v2h-2zM34 46h2v2h-2zM42 46h2v2h-2zM50 46h2v2h-2zM54 46h2v2h-2zM60 46h2v2h-2zM0 48h2v2h-2zM6 48h2v2h-2zM36 48h2v2h-2zM40 48h2v2h-2zM60 48h2v2h-2zM12 50h2v2h-2zM22 50h2v2h-2zM28 50h2v2h-2zM48 50h2v2h-2zM62 50h2v2h-2zM76 50h2v2h-2zM4 52h2v2h-2zM16 52h2v2h-2zM44 52h4v2h-4zM52 52h4v2h-4zM64 52h2v2h-2zM0 54h2v2h-2zM18 54h2v2h-2zM48 54h2v2h-2zM58 54h4v2h-4zM64 54h2v2h-2zM72 54h2v2h-2zM76 54h2v2h-2zM0 56h2v2h-2zM4 56h2v2h-2zM18 56h2v2h-2zM36 56h2v2h-2zM40 56h2v2h-2zM44 56h2v2h-2zM56 56h2v2h-2zM64 56h2v2h-2zM32 58h2v2h-2zM48 58h4v2h-4zM54 58h2v2h-2zM62 58h4v2h-4zM72 58h2v2h-2zM6 60h2v2h-2zM20 60h2v2h-2zM38 60h4v2h-4zM44 60h2v2h-2zM60 60h2v2h-2zM0 62h2v2h-2zM12 62h2v2h-2zM18 62h2v2h-2zM34 62h2v2h-2zM38 62h4v2h-4zM52 62h4v2h-4zM58 62h2v2h-2zM66 62h2v2h-2zM2 64h2v2h-2zM12 64h2v2h-2zM18 64h2v2h-2zM26 64h2v2h-2zM50 64h2v2h-2zM54 64h2v2h-2zM58 64h2v2h-2zM72 64h2v2h-2zM76 64h2v2h-2zM16 66h2v2h-2zM24 66h2v2h-2zM42 66h2v2h-2zM50 66h2v2h-2zM74 66h2v2h-2zM78 66h2v2h-2zM8 68h2v2h-2zM12 68h2v2h-2zM38 68h2v2h-2zM68 68h2v2h-2zM74 68h4v2h-4zM8 70h6v2h-6zM22 70h2v2h-2zM32 70h2v2h-2zM40 70h2v2h-2zM50 70h4v2h-4zM60 70h2v2h-2zM64 70h2v2h-2zM70 70h2v2h-2zM78 70h2v2h-2zM0 72h4v2h-4zM6 72h6v2h-6zM14 72h2v2h-2zM20 72h4v2h-4zM46 72h2v2h-2zM60 72h4v2h-4zM70 72h2v2h-2zM6 74h2v2h-2zM18 74h2v2h-2zM36 74h6v2h-6zM58 74h2v2h-2zM62 74h2v2h-2zM68 74h4v2h-4zM74 74h2v2h-2zM6 76h6v2h-6zM14 76h2v2h-2zM18 76h2v2h-2zM36 76h4v2h-4zM52 76h2v2h-2zM60 76h4v2h-4zM4 78h2v2h-2zM12 78h2v2h-2zM18 78h2v2h-2zM26 78h2v2h-2zM30 78h2v2h-2zM42 78h2v2h-2zM46 78h2v2h-2zM58 78h2v2h-2zM66 78h2v2h-2zM72 78h2v2h-2zM76 78h2v2h-2z" fill="#000000"/></pattern>
<pattern id="p0000005" patternUnits="userSpaceOnUse" width="80" height="80"><path d="M4 0h2v2h-2zM8 0h2v2h-2zM12 0h4v2h-4zM24 0h2v2h-2zM28 0h2v2h-2zM32 0h2v2h-2zM36 0h4v2h-4zM42 0h2v2h-2zM54 0h4v2h-4zM70 0h2v2h-2zM6 2h2v2h-2zM16 2h6v2h-6zM28 2h4v2h-4zM34 2h2v2h-2zM46 2h2v2h-2zM50 2h6v2h-6zM60 2h4v2h-4zM76 2h2v2h-2zM0 4h2v2h-2zM16 4h2v2h-2zM24 4h2v2h-2zM28 4h2v2h-2zM32 4h2v2h-2zM36 4h2v2h-2zM48 4h2v2h-2zM56 4h4v2h-4zM66 4h2v2h-2zM70 4h4v2h-4zM18 6h4v2h-4zM34 6h2v2h-2zM40 6h2v2h-2zM52 6h8v2h-8zM64 6h2v2h-2zM70 6h4v2h-4zM76 6h2v2h-2zM6 8h2v2h-2zM14 8h4v2h-4zM20 8h2v2h-2zM38 8h2v2h-2zM42 8h4v2h-4zM60 8h2v2h-2zM74 8h2v2h-2zM2 10h2v2h-2zM10 10h4v2h-4zM18 10h6v2h-6zM26 10h2v2h-2zM30 10h2v2h-2zM34 10h4v2h-4zM48 10h2v2h-2zM54 10h2v2h-2zM58 10h2v2h-2zM66 10h4v2h-4zM76 10h2v2h-2zM24 12h2v2h-2zM42 12h2v2h-2zM46 12h4v2h-4zM64 12h2v2h-2zM76 12h2v2h-2zM0 14h2v2h-2zM6 14h4v2h-4zM14 14h2v2h-2zM18 14h2v2h-2zM32 14h2v2h-2zM40 14h2v2h-2zM48 14h2v2h-2zM52 14h6v2h-6zM64 14h4v2h-4zM70 14h2v2h-2zM8 16h4v2h-4zM14 16h2v2h-2zM18 16h2v2h-2zM22 16h6v2h-6zM44 16h2v2h-2zM62 16h4v2h-4zM70 16h2v2h-2zM2 18h2v2h-2zM8 18h6v2h-6zM16 18h2v2h-2zM20 18h2v2h-2zM28 18h2v2h-2zM38 18h2v2h-2zM66 18h2v2h-2zM74 18h2v2h-2zM6 20h6v2h-6zM14 20h2v2h-2zM24 20h2v2h-2zM28 20h8v2h-8zM38 20h4v2h-4zM46 20h2v2h-2zM60 20h2v2h-2zM76 20h2v2h-2zM6 22h2v2h-2zM22 22h2v2h-2zM26 22h6v2h-6zM34 22h2v2h-2zM38 22h2v2h-2zM42 22h2v2h-2zM50 22h4v2h-4zM58 22h4v2h-4zM74 22h2v2h-2zM8 24h2v2h-2zM14 24h4v2h-4zM22 24h2v2h-2zM30 24h2v2h-2zM34 24h6v2h-6zM50 24h2v2h-2zM64 24h2v2h-2zM72 24h2v2h-2zM2 26h2v2h-2zM8 26h2v2h-2zM22 26h2v2h-2zM26 26h2v2h-2zM38 26h2v2h-2zM42 26h2v2h-2zM48 26h4v2h-4zM66 26h2v2h-2zM76 26h2v2h-2zM2 28h4v2h-4zM12 28h4v2h-4zM38 28h2v2h-2zM54 28h2v2h-2zM60 28h2v2h-2zM68 28h2v2h-2zM74 28h2v2h-2zM78 28h2v2h-2zM2 30h2v2h-2zM10 30h2v2h-2zM22 30h2v2h-2zM28 30h2v2h-2zM36 30h2v2h-2zM42 30h2v2h-2zM64 30h2v2h-2zM72 30h2v2h-2zM76 30h2v2h-2zM10 32h2v2h-2zM14 32h2v2h-2zM18 32h2v2h-2zM28 32h2v2h-2zM36 32h2v2h-2zM52 32h2v2h-2zM62 32h4v2h-4zM78 32h2v2h-2zM6 34h6v2h-6zM18 34h2v2h-2zM32 34h2v2h-2zM44 34h2v2h-2zM52 34h2v2h-2zM56 34h2v2h-2zM64 34h8v2h-8zM8 36h2v2h-2zM18 36h6v2h-6zM40 36h2v2h-2zM46 36h4v2h-4zM60 36h2v2h-2zM64 36h4v2h-4zM72 36h2v2h-2zM0 38h2v2h-2zM14 38h2v2h-2zM20 38h2v2h-2zM28 38h2v2h-2zM32 38h6v2h-6zM42 38h2v2h-2zM46 38h2v2h-2zM56 38h2v2h-2zM62 38h2v2h-2zM74 38h2v2h-2zM0 40h2v2h-2zM20 40h2v2h-2zM24 40h2v2h-2zM32 40h6v2h-6zM40 40h2v2h-2zM46 40h4v2h-4zM54 40h2v2h-2zM64 40h4v2h-4zM72 40h2v2h-2zM78 40h2v2h-2zM0 42h2v2h-2zM4 42h2v2h-2zM24 42h2v2h-2zM30 42h2v2h-2zM36 42h2v2h-2zM42 42h4v2h-4zM48 42h2v2h-2zM56 42h2v2h-2zM60 42h4v2h-4zM70 42h6v2h-6zM78 42h2v2h-2zM0 44h2v2h-2zM8 44h6v2h-6zM24 44h2v2h-2zM30 44h2v2h-2zM56 44h2v2h-2zM72 44h2v2h-2zM76 44h2v2h-2zM8 46h2v2h-2zM12 46h6v2h-6zM20 46h2v2h-2zM24 46h2v2h-2zM32 46h4v2h-4zM38 46h8v2h-8zM48 46h2v2h-2zM54 46h2v2h-2zM70 46h8v2h-8zM8 48h4v2h-4zM18 48h2v2h-2zM22 48h4v2h-4zM30 48h2v2h-2zM36 48h2v2h-2zM40 48h4v2h-4zM50 48h2v2h-2zM72 48h2v2h-2zM0 50h2v2h-2zM10 50h2v2h-2zM14 50h2v2h-2zM26 50h2v2h-2zM30 50h2v2h-2zM36 50h2v2h-2zM42 50h8v2h-8zM54 50h2v2h-2zM62 50h4v2h-4zM68 50h2v2h-2zM2 52h2v2h-2zM8 52h2v2h-2zM18 52h4v2h-4zM30 52h4v2h-4zM46 52h2v2h-2zM58 52h2v2h-2zM66 52h4v2h-4zM72 52h2v2h-2zM8 54h2v2h-2zM54 54h2v2h-2zM62 54h2v2h-2zM68 54h2v2h-2zM76 54h4v2h-4zM4 56h6v2h-6zM12 56h4v2h-4zM18 56h2v2h-2zM24 56h2v2h-2zM30 56h2v2h-2zM36 56h4v2h-4zM46 56h10v2h-10zM60 56h6v2h-6zM74 56h2v2h-2zM78 56h2v2h-2zM8 58h2v2h-2zM12 58h2v2h-2zM18 58h2v2h-2zM24 58h2v2h-2zM32 58h2v2h-2zM42 58h2v2h-2zM46 58h2v2h-2zM54 58h2v2h-2zM58 58h2v2h-2zM36 60h10v2h-10zM50 60h2v2h-2zM60 60h2v2h-2zM72 60h2v2h-2zM78 60h2v2h-2zM0 62h2v2h-2zM14 62h2v2h-2zM20 62h2v2h-2zM30 62h4v2h-4zM44 62h6v2h-6zM58 62h2v2h-2zM64 62h2v2h-2zM68 62h4v2h-4zM74 62h2v2h-2zM78 62h2v2h-2zM6 64h2v2h-2zM10 64h2v2h-2zM26 64h2v2h-2zM30 64h2v2h-2zM48 64h2v2h-2zM52 64h8v2h-8zM66 64h2v2h-2zM72 64h2v2h-2zM8 66h6v2h-6zM16 66h2v2h-2zM38 66h4v2h-4zM54 66h2v2h-2zM70 66h2v2h-2zM78 66h2v2h-2zM2 68h2v2h-2zM14 68h2v2h-2zM26 68h8v2h-8zM36 68h2v2h-2zM42 68h2v2h-2zM54 68h4v2h-4zM70 68h2v2h-2zM0 70h2v2h-2zM6 70h2v2h-2zM10 70h4v2h-4zM18 70h2v2h-2zM28 70h4v2h-4zM34 70h4v2h-4zM42 70h4v2h-4zM56 70h2v2h-2zM66 70h4v2h-4zM76 70h2v2h-2zM2 72h2v2h-2zM20 72h2v2h-2zM26 72h2v2h-2zM30 72h2v2h-2zM36 72h2v2h-2zM44 72h4v2h-4zM50 72h4v2h-4zM56 72h10v2h-10zM68 72h4v2h-4zM76 72h2v2h-2zM0 74h4v2h-4zM12 74h4v2h-4zM30 74h6v2h-6zM38 74h2v2h-2zM54 74h2v2h-2zM58 74h2v2h-2zM62 74h2v2h-2zM68 74h2v2h-2zM0 76h2v2h-2zM4 76h2v2h-2zM8 76h2v2h-2zM14 76h2v2h-2zM28 76h6v2h-6zM38 76h2v2h-2zM54 76h2v2h-2zM72 76h6v2h-6zM8 78h2v2h-2zM12 78h2v2h-2zM18 78h2v2h-2zM22 78h4v2h-4zM32 78h2v2h-2zM38 78h2v2h-2zM46 78h6v2h-6zM54 78h2v2h-2zM62 78h4v2h-4zM68 78h2v2h-2zM78 78h2v2h-2z" fill="#000000"/></pattern>
<pattern id="p0000006" patternUnits="userSpaceOnUse" width="80" height="80"><path d="M0 0h2v2h-2zM4 0h6v2h-6zM12 0h6v2h-6zM20 0h2v2h-2zM24 0h2v2h-2zM28 0h2v2h-2zM32 0h4v2h-4zM42 0h2v2h-2zM46 0h6v2h-6zM58 0h2v2h-2zM62 0h6v2h-6zM76 0h4v2h-4zM0 2h6v2h-6zM8 2h4v2h-4zM22 2h8v2h-8zM40 2h4v2h-4zM46 2h6v2h-6zM54 2h8v2h-8zM68 2h2v2h-2zM72 2h4v2h-4zM12 4h2v2h-2zM20 4h6v2h-6zM28 4h2v2h-2zM32 4h2v2h-2zM38 4h2v2h-2zM42 4h2v2h-2zM48 4h4v2h-4zM56 4h4v2h-4zM78 4h2v2h-2zM0 6h10v2h-10zM12 6h4v2h-4zM18 6h8v2h-8zM32 6h2v2h-2zM36 6h2v2h-2zM40 6h4v2h-4zM50 6h2v2h-2zM56 6h4v2h-4zM66 6h6v2h-6zM74 6h2v2h-2zM78 6h2v2h-2zM8 8h2v2h-2zM12 8h2v2h-2zM16 8h4v2h-4zM26 8h2v2h-2zM30 8h2v2h-2zM34 8h2v2h-2zM38 8h6v2h-6zM54 8h2v2h-2zM58 8h4v2h-4zM74 8h2v2h-2zM0 10h2v2h-2zM6 10h2v2h-2zM12 10h2v2h-2zM20 10h4v2h-4zM28 10h4v2h-4zM34 10h4v2h-4zM44 10h4v2h-4zM52 10h2v2h-2zM56 10h8v2h-8zM68 10h2v2h-2zM72 10h4v2h-4zM0 12h2v2h-2zM4 12h2v2h-2zM12 12h2v2h-2zM26 12h8v2h-8zM38 12h4v2h-4zM48 12h2v2h-2zM54 12h2v2h-2zM58 12h2v2h-2zM62 12h2v2h-2zM68 12h2v2h-2zM72 12h2v2h-2zM78 12h2v2h-2zM0 14h4v2h-4zM12 14h8v2h-8zM22 14h4v2h-4zM44 14h2v2h-2zM48 14h2v2h-2zM54 14h2v2h-2zM62 14h2v2h-2zM68 14h2v2h-2zM76 14h2v2h-2zM2 16h2v2h-2zM6 16h2v2h-2zM16 16h6v2h-6zM24 16h2v2h-2zM30 16h2v2h-2zM34 16h4v2h-4zM44 16h6v2h-6zM52 16h6v2h-6zM60 16h2v2h-2zM70 16h4v2h-4zM78 16h2v2h-2zM2 18h2v2h-2zM10 18h2v2h-2zM14 18h2v2h-2zM18 18h2v2h-2zM24 18h2v2h-2zM50 18h2v2h-2zM60 18h2v2h-2zM2 20h2v2h-2zM6 20h8v2h-8zM18 20h2v2h-2zM30 20h2v2h-2zM34 20h4v2h-4zM40 20h8v2h-8zM56 20h2v2h-2zM64 20h4v2h-4zM70 20h2v2h-2zM78 20h2v2h-2zM6 22h2v2h-2zM10 22h4v2h-4zM18 22h2v2h-2zM24 22h6v2h-6zM38 22h2v2h-2zM42 22h2v2h-2zM46 22h2v2h-2zM54 22h4v2h-4zM64 22h4v2h-4zM70 22h6v2h-6zM4 24h2v2h-2zM10 24h2v2h-2zM14 24h2v2h-2zM18 24h2v2h-2zM24 24h2v2h-2zM30 24h2v2h-2zM38 24h4v2h-4zM44 24h4v2h-4zM52 24h4v2h-4zM58 24h4v2h-4zM68 24h2v2h-2zM72 24h2v2h-2zM76 24h4v2h-4zM4 26h2v2h-2zM12 26h4v2h-4zM20 26h10v2h-10zM36 26h2v2h-2zM40 26h2v2h-2zM48 26h4v2h-4zM56 26h2v2h-2zM66 26h2v2h-2zM70 26h4v2h-4zM0 28h2v2h-2zM12 28h2v2h-2zM20 28h6v2h-6zM28 28h4v2h-4zM48 28h4v2h-4zM56 28h4v2h-4zM66 28h4v2h-4zM72 28h2v2h-2zM10 30h2v2h-2zM16 30h6v2h-6zM26 30h2v2h-2zM38 30h4v2h-4zM54 30h2v2h-2zM60 30h2v2h-2zM64 30h6v2h-6zM72 30h8v2h-8zM4 32h2v2h-2zM8 32h2v2h-2zM14 32h6v2h-6zM24 32h14v2h-14zM42 32h2v2h-2zM50 32h6v2h-6zM60 32h4v2h-4zM68 32h2v2h-2zM72 32h2v2h-2zM76 32h2v2h-2zM4 34h4v2h-4zM10 34h2v2h-2zM20 34h4v2h-4zM26 34h4v2h-4zM32 34h2v2h-2zM42 34h2v2h-2zM50 34h2v2h-2zM62 34h2v2h-2zM66 34h2v2h-2zM70 34h2v2h-2zM76 34h4v2h-4zM8 36h2v2h-2zM14 36h8v2h-8zM26 36h2v2h-2zM30 36h2v2h-2zM36 36h2v2h-2zM42 36h2v2h-2zM50 36h4v2h-4zM56 36h2v2h-2zM70 36h2v2h-2zM76 36h4v2h-4zM0 38h4v2h-4zM6 38h2v2h-2zM14 38h4v2h-4zM20 38h2v2h-2zM24 38h4v2h-4zM30 38h8v2h-8zM40 38h2v2h-2zM48 38h2v2h-2zM56 38h4v2h-4zM62 38h6v2h-6zM74 38h6v2h-6zM4 40h4v2h-4zM14 40h2v2h-2zM18 40h2v2h-2zM24 40h2v2h-2zM34 40h2v2h-2zM38 40h2v2h-2zM42 40h2v2h-2zM48 40h4v2h-4zM54 40h2v2h-2zM60 40h2v2h-2zM68 40h4v2h-4zM78 40h2v2h-2zM8 42h2v2h-2zM12 42h8v2h-8zM26 42h2v2h-2zM38 42h2v2h-2zM44 42h2v2h-2zM50 42h2v2h-2zM54 42h2v2h-2zM62 42h10v2h-10zM74 42h2v2h-2zM78 42h2v2h-2zM4 44h4v2h-4zM12 44h2v2h-2zM20 44h10v2h-10zM32 44h8v2h-8zM44 44h2v2h-2zM52 44h2v2h-2zM60 44h2v2h-2zM66 44h2v2h-2zM70 44h2v2h-2zM76 44h4v2h-4zM0 46h4v2h-4zM24 46h2v2h-2zM28 46h2v2h-2zM34 46h6v2h-6zM42 46h2v2h-2zM48 46h6v2h-6zM60 46h2v2h-2zM70 46h4v2h-4zM8 48h2v2h-2zM12 48h2v2h-2zM18 48h4v2h-4zM24 48h2v2h-2zM30 48h4v2h-4zM36 48h10v2h-10zM52 48h2v2h-2zM56 48h2v2h-2zM78 48h2v2h-2zM2 50h2v2h-2zM10 50h2v2h-2zM16 50h2v2h-2zM22 50h4v2h-4zM32 50h10v2h-10zM44 50h4v2h-4zM52 50h2v2h-2zM66 50h2v2h-2zM70 50h2v2h-2zM4 52h4v2h-4zM12 52h2v2h-2zM16 52h2v2h-2zM30 52h8v2h-8zM40 52h2v2h-2zM50 52h10v2h-10zM64 52h4v2h-4zM76 52h2v2h-2zM2 54h4v2h-4zM8 54h2v2h-2zM20 54h2v2h-2zM30 54h2v2h-2zM34 54h2v2h-2zM38 54h2v2h-2zM42 54h6v2h-6zM56 54h2v2h-2zM66 54h2v2h-2zM70 54h2v2h-2zM78 54h2v2h-2zM2 56h2v2h-2zM6 56h2v2h-2zM14 56h2v2h-2zM18 56h2v2h-2zM22 56h4v2h-4zM38 56h6v2h-6zM46 56h4v2h-4zM52 56h2v2h-2zM58 56h10v2h-10zM74 56h4v2h-4zM4 58h4v2h-4zM10 58h4v2h-4zM30 58h2v2h-2zM42 58h2v2h-2zM46 58h2v2h-2zM50 58h2v2h-2zM58 58h2v2h-2zM74 58h4v2h-4zM2 60h4v2h-4zM8 60h2v2h-2zM12 60h4v2h-4zM22 60h2v2h-2zM26 60h2v2h-2zM30 60h2v2h-2zM34 60h2v2h-2zM40 60h2v2h-2zM46 60h4v2h-4zM60 60h2v2h-2zM64 60h4v2h-4zM74 60h2v2h-2zM4 62h4v2h-4zM12 62h2v2h-2zM16 62h2v2h-2zM28 62h4v2h-4zM34 62h2v2h-2zM38 62h2v2h-2zM42 62h4v2h-4zM50 62h2v2h-2zM60 62h2v2h-2zM64 62h2v2h-2zM0 64h6v2h-6zM16 64h4v2h-4zM22 64h2v2h-2zM30 64h6v2h-6zM48 64h2v2h-2zM54 64h2v2h-2zM58 64h2v2h-2zM62 64h2v2h-2zM74 64h6v2h-6zM0 66h2v2h-2zM6 66h2v2h-2zM10 66h2v2h-2zM24 66h2v2h-2zM40 66h2v2h-2zM52 66h2v2h-2zM62 66h8v2h-8zM76 66h2v2h-2zM6 68h2v2h-2zM10 68h2v2h-2zM14 68h4v2h-4zM48 68h2v2h-2zM54 68h4v2h-4zM64 68h2v2h-2zM70 68h6v2h-6zM78 68h2v2h-2zM12 70h2v2h-2zM16 70h2v2h-2zM36 70h2v2h-2zM42 70h4v2h-4zM50 70h4v2h-4zM60 70h4v2h-4zM66 70h2v2h-2zM72 70h2v2h-2zM76 70h4v2h-4zM0 72h2v2h-2zM6 72h4v2h-4zM12 72h2v2h-2zM16 72h2v2h-2zM20 72h2v2h-2zM26 72h8v2h-8zM46 72h2v2h-2zM52 72h6v2h-6zM60 72h6v2h-6zM70 72h4v2h-4zM76 72h2v2h-2zM2 74h4v2h-4zM8 74h4v2h-4zM26 74h2v2h-2zM40 74h2v2h-2zM46 74h4v2h-4zM52 74h2v2h-2zM58 74h2v2h-2zM62 74h2v2h-2zM72 74h6v2h-6zM0 76h4v2h-4zM12 76h2v2h-2zM24 76h6v2h-6zM34 76h4v2h-4zM44 76h4v2h-4zM50 76h2v2h-2zM54 76h12v2h-12zM68 76h2v2h-2zM74 76h2v2h-2zM4 78h2v2h-2zM12 78h2v2h-2zM20 78h2v2h-2zM26 78h2v2h-2zM30 78h2v2h-2zM40 78h2v2h-2zM56 78h6v2h-6zM70 78h2v2h-2z" fill="#000000"/></pattern>
<pattern id="p0000ff5" patternUnits="userSpaceOnUse" width="80" height="80"><path d="M4 0h2v2h-2zM8 0h2v2h-2zM12 0h4v2h-4zM24 0h2v2h-2zM28 0h2v2h-2zM32 0h2v2h-2zM36 0h4v2h-4zM42 0h2v2h-2zM54 0h4v2h-4zM70 0h2v2h-2zM6 2h2v2h-2zM16 2h6v2h-6zM28 2h4v2h-4zM34 2h2v2h-2zM46 2h2v2h-2zM50 2h6v2h-6zM60 2h4v2h-4zM76 2h2v2h-2zM0 4h2v2h-2zM16 4h2v2h-2zM24 4h2v2h-2zM28 4h2v2h-2zM32 4h2v2h-2zM36 4h2v2h-2zM48 4h2v2h-2zM56 4h4v2h-4zM66 4h2v2h-2zM70 4h4v2h-4zM18 6h4v2h-4zM34 6h2v2h-2zM40 6h2v2h-2zM52 6h8v2h-8zM64 6h2v2h-2zM70 6h4v2h-4zM76 6h2v2h-2zM6 8h2v2h-2zM14 8h4v2h-4zM20 8h2v2h-2zM38 8h2v2h-2zM42 8h4v2h-4zM60 8h2v2h-2zM74 8h2v2h-2zM2 10h2v2h-2zM10 10h4v2h-4zM18 10h6v2h-6zM26 10h2v2h-2zM30 10h2v2h-2zM34 10h4v2h-4zM48 10h2v2h-2zM54 10h2v2h-2zM58 10h2v2h-2zM66 10h4v2h-4zM76 10h2v2h-2zM24 12h2v2h-2zM42 12h2v2h-2zM46 12h4v2h-4zM64 12h2v2h-2zM76 12h2v2h-2zM0 14h2v2h-2zM6 14h4v2h-4zM14 14h2v2h-2zM18 14h2v2h-2zM32 14h2v2h-2zM40 14h2v2h-2zM48 14h2v2h-2zM52 14h6v2h-6zM64 14h4v2h-4zM70 14h2v2h-2zM8 16h4v2h-4zM14 16h2v2h-2zM18 16h2v2h-2zM22 16h6v2h-6zM44 16h2v2h-2zM62 16h4v2h-4zM70 16h2v2h-2zM2 18h2v2h-2zM8 18h6v2h-6zM16 18h2v2h-2zM20 18h2v2h-2zM28 18h2v2h-2zM38 18h2v2h-2zM66 18h2v2h-2zM74 18h2v2h-2zM6 20h6v2h-6zM14 20h2v2h-2zM24 20h2v2h-2zM28 20h8v2h-8zM38 20h4v2h-4zM46 20h2v2h-2zM60 20h2v2h-2zM76 20h2v2h-2zM6 22h2v2h-2zM22 22h2v2h-2zM26 22h6v2h-6zM34 22h2v2h-2zM38 22h2v2h-2zM42 22h2v2h-2zM50 22h4v2h-4zM58 22h4v2h-4zM74 22h2v2h-2zM8 24h2v2h-2zM14 24h4v2h-4zM22 24h2v2h-2zM30 24h2v2h-2zM34 24h6v2h-6zM50 24h2v2h-2zM64 24h2v2h-2zM72 24h2v2h-2zM2 26h2v2h-2zM8 26h2v2h-2zM22 26h2v2h-2zM26 26h2v2h-2zM38 26h2v2h-2zM42 26h2v2h-2zM48 26h4v2h-4zM66 26h2v2h-2zM76 26h2v2h-2zM2 28h4v2h-4zM12 28h4v2h-4zM38 28h2v2h-2zM54 28h2v2h-2zM60 28h2v2h-2zM68 28h2v2h-2zM74 28h2v2h-2zM78 28h2v2h-2zM2 30h2v2h-2zM10 30h2v2h-2zM22 30h2v2h-2zM28 30h2v2h-2zM36 30h2v2h-2zM42 30h2v2h-2zM64 30h2v2h-2zM72 30h2v2h-2zM76 30h2v2h-2zM10 32h2v2h-2zM14 32h2v2h-2zM18 32h2v2h-2zM28 32h2v2h-2zM36 32h2v2h-2zM52 32h2v2h-2zM62 32h4v2h-4zM78 32h2v2h-2zM6 34h6v2h-6zM18 34h2v2h-2zM32 34h2v2h-2zM44 34h2v2h-2zM52 34h2v2h-2zM56 34h2v2h-2zM64 34h8v2h-8zM8 36h2v2h-2zM18 36h6v2h-6zM40 36h2v2h-2zM46 36h4v2h-4zM60 36h2v2h-2zM64 36h4v2h-4zM72 36h2v2h-2zM0 38h2v2h-2zM14 38h2v2h-2zM20 38h2v2h-2zM28 38h2v2h-2zM32 38h6v2h-6zM42 38h2v2h-2zM46 38h2v2h-2zM56 38h2v2h-2zM62 38h2v2h-2zM74 38h2v2h-2zM0 40h2v2h-2zM20 40h2v2h-2zM24 40h2v2h-2zM32 40h6v2h-6zM40 40h2v2h-2zM46 40h4v2h-4zM54 40h2v2h-2zM64 40h4v2h-4zM72 40h2v2h-2zM78 40h2v2h-2zM0 42h2v2h-2zM4 42h2v2h-2zM24 42h2v2h-2zM30 42h2v2h-2zM36 42h2v2h-2zM42 42h4v2h-4zM48 42h2v2h-2zM56 42h2v2h-2zM60 42h4v2h-4zM70 42h6v2h-6zM78 42h2v2h-2zM0 44h2v2h-2zM8 44h6v2h-6zM24 44h2v2h-2zM30 44h2v2h-2zM56 44h2v2h-2zM72 44h2v2h-2zM76 44h2v2h-2zM8 46h2v2h-2zM12 46h6v2h-6zM20 46h2v2h-2zM24 46h2v2h-2zM32 46h4v2h-4zM38 46h8v2h-8zM48 46h2v2h-2zM54 46h2v2h-2zM70 46h8v2h-8zM8 48h4v2h-4zM18 48h2v2h-2zM22 48h4v2h-4zM30 48h2v2h-2zM36 48h2v2h-2zM40 48h4v2h-4zM50 48h2v2h-2zM72 48h2v2h-2zM0 50h2v2h-2zM10 50h2v2h-2zM14 50h2v2h-2zM26 50h2v2h-2zM30 50h2v2h-2zM36 50h2v2h-2zM42 50h8v2h-8zM54 50h2v2h-2zM62 50h4v2h-4zM68 50h2v2h-2zM2 52h2v2h-2zM8 52h2v2h-2zM18 52h4v2h-4zM30 52h4v2h-4zM46 52h2v2h-2zM58 52h2v2h-2zM66 52h4v2h-4zM72 52h2v2h-2zM8 54h2v2h-2zM54 54h2v2h-2zM62 54h2v2h-2zM68 54h2v2h-2zM76 54h4v2h-4zM4 56h6v2h-6zM12 56h4v2h-4zM18 56h2v2h-2zM24 56h2v2h-2zM30 56h2v2h-2zM36 56h4v2h-4zM46 56h10v2h-10zM60 56h6v2h-6zM74 56h2v2h-2zM78 56h2v2h-2zM8 58h2v2h-2zM12 58h2v2h-2zM18 58h2v2h-2zM24 58h2v2h-2zM32 58h2v2h-2zM42 58h2v2h-2zM46 58h2v2h-2zM54 58h2v2h-2zM58 58h2v2h-2zM36 60h10v2h-10zM50 60h2v2h-2zM60 60h2v2h-2zM72 60h2v2h-2zM78 60h2v2h-2zM0 62h2v2h-2zM14 62h2v2h-2zM20 62h2v2h-2zM30 62h4v2h-4zM44 62h6v2h-6zM58 62h2v2h-2zM64 62h2v2h-2zM68 62h4v2h-4zM74 62h2v2h-2zM78 62h2v2h-2zM6 64h2v2h-2zM10 64h2v2h-2zM26 64h2v2h-2zM30 64h2v2h-2zM48 64h2v2h-2zM52 64h8v2h-8zM66 64h2v2h-2zM72 64h2v2h-2zM8 66h6v2h-6zM16 66h2v2h-2zM38 66h4v2h-4zM54 66h2v2h-2zM70 66h2v2h-2zM78 66h2v2h-2zM2 68h2v2h-2zM14 68h2v2h-2zM26 68h8v2h-8zM36 68h2v2h-2zM42 68h2v2h-2zM54 68h4v2h-4zM70 68h2v2h-2zM0 70h2v2h-2zM6 70h2v2h-2zM10 70h4v2h-4zM18 70h2v2h-2zM28 70h4v2h-4zM34 70h4v2h-4zM42 70h4v2h-4zM56 70h2v2h-2zM66 70h4v2h-4zM76 70h2v2h-2zM2 72h2v2h-2zM20 72h2v2h-2zM26 72h2v2h-2zM30 72h2v2h-2zM36 72h2v2h-2zM44 72h4v2h-4zM50 72h4v2h-4zM56 72h10v2h-10zM68 72h4v2h-4zM76 72h2v2h-2zM0 74h4v2h-4zM12 74h4v2h-4zM30 74h6v2h-6zM38 74h2v2h-2zM54 74h2v2h-2zM58 74h2v2h-2zM62 74h2v2h-2zM68 74h2v2h-2zM0 76h2v2h-2zM4 76h2v2h-2zM8 76h2v2h-2zM14 76h2v2h-2zM28 76h6v2h-6zM38 76h2v2h-2zM54 76h2v2h-2zM72 76h6v2h-6zM8 78h2v2h-2zM12 78h2v2h-2zM18 78h2v2h-2zM22 78h4v2h-4zM32 78h2v2h-2zM38 78h2v2h-2zM46 78h6v2h-6zM54 78h2v2h-2zM62 78h4v2h-4zM68 78h2v2h-2zM78 78h2v2h-2z" fill="#0000ff"/></pattern>
<pattern id="p0000ff6" patternUnits="userSpaceOnUse" width="80" height="80"><path d="M0 0h2v2h-2zM4 0h6v2h-6zM12 0h6v2h-6zM20 0h2v2h-2zM24 0h2v2h-2zM28 0h2v2h-2zM32 0h4v2h-4zM42 0h2v2h-2zM46 0h6v2h-6zM58 0h2v2h-2zM62 0h6v2h-6zM76 0h4v2h-4zM0 2h6v2h-6zM8 2h4v2h-4zM22 2h8v2h-8zM40 2h4v2h-4zM46 2h6v2h-6zM54 2h8v2h-8zM68 2h2v2h-2zM72 2h4v2h-4zM12 4h2v2h-2zM20 4h6v2h-6zM28 4h2v2h-2zM32 4h2v2h-2zM38 4h2v2h-2zM42 4h2v2h-2zM48 4h4v2h-4zM56 4h4v2h-4zM78 4h2v2h-2zM0 6h10v2h-10zM12 6h4v2h-4zM18 6h8v2h-8zM32 6h2v2h-2zM36 6h2v2h-2zM40 6h4v2h-4zM50 6h2v2h-2zM56 6h4v2h-4zM66 6h6v2h-6zM74 6h2v2h-2zM78 6h2v2h-2zM8 8h2v2h-2zM12 8h2v2h-2zM16 8h4v2h-4zM26 8h2v2h-2zM30 8h2v2h-2zM34 8h2v2h-2zM38 8h6v2h-6zM54 8h2v2h-2zM58 8h4v2h-4zM74 8h2v2h-2zM0 10h2v2h-2zM6 10h2v2h-2zM12 10h2v2h-2zM20 10h4v2h-4zM28 10h4v2h-4zM34 10h4v2h-4zM44 10h4v2h-4zM52 10h2v2h-2zM56 10h8v2h-8zM68 10h2v2h-2zM72 10h4v2h-4zM0 12h2v2h-2zM4 12h2v2h-2zM12 12h2v2h-2zM26 12h8v2h-8zM38 12h4v2h-4zM48 12h2v2h-2zM54 12h2v2h-2zM58 12h2v2h-2zM62 12h2v2h-2zM68 12h2v2h-2zM72 12h2v2h-2zM78 12h2v2h-2zM0 14h4v2h-4zM12 14h8v2h-8zM22 14h4v2h-4zM44 14h2v2h-2zM48 14h2v2h-2zM54 14h2v2h-2zM62 14h2v2h-2zM68 14h2v2h-2zM76 14h2v2h-2zM2 16h2v2h-2zM6 16h2v2h-2zM16 16h6v2h-6zM24 16h2v2h-2zM30 16h2v2h-2zM34 16h4v2h-4zM44 16h6v2h-6zM52 16h6v2h-6zM60 16h2v2h-2zM70 16h4v2h-4zM78 16h2v2h-2zM2 18h2v2h-2zM10 18h2v2h-2zM14 18h2v2h-2zM18 18h2v2h-2zM24 18h2v2h-2zM50 18h2v2h-2zM60 18h2v2h-2zM2 20h2v2h-2zM6 20h8v2h-8zM18 20h2v2h-2zM30 20h2v2h-2zM34 20h4v2h-4zM40 20h8v2h-8zM56 20h2v2h-2zM64 20h4v2h-4zM70 20h2v2h-2zM78 20h2v2h-2zM6 22h2v2h-2zM10 22h4v2h-4zM18 22h2v2h-2zM24 22h6v2h-6zM38 22h2v2h-2zM42 22h2v2h-2zM46 22h2v2h-2zM54 22h4v2h-4zM64 22h4v2h-4zM70 22h6v2h-6zM4 24h2v2h-2zM10 24h2v2h-2zM14 24h2v2h-2zM18 24h2v2h-2zM24 24h2v2h-2zM30 24h2v2h-2zM38 24h4v2h-4zM44 24h4v2h-4zM52 24h4v2h-4zM58 24h4v2h-4zM68 24h2v2h-2zM72 24h2v2h-2zM76 24h4v2h-4zM4 26h2v2h-2zM12 26h4v2h-4zM20 26h10v2h-10zM36 26h2v2h-2zM40 26h2v2h-2zM48 26h4v2h-4zM56 26h2v2h-2zM66 26h2v2h-2zM70 26h4v2h-4zM0 28h2v2h-2zM12 28h2v2h-2zM20 28h6v2h-6zM28 28h4v2h-4zM48 28h4v2h-4zM56 28h4v2h-4zM66 28h4v2h-4zM72 28h2v2h-2zM10 30h2v2h-2zM16 30h6v2h-6zM26 30h2v2h-2zM38 30h4v2h-4zM54 30h2v2h-2zM60 30h2v2h-2zM64 30h6v2h-6zM72 30h8v2h-8zM4 32h2v2h-2zM8 32h2v2h-2zM14 32h6v2h-6zM24 32h14v2h-14zM42 32h2v2h-2zM50 32h6v2h-6zM60 32h4v2h-4zM68 32h2v2h-2zM72 32h2v2h-2zM76 32h2v2h-2zM4 34h4v2h-4zM10 34h2v2h-2zM20 34h4v2h-4zM26 34h4v2h-4zM32 34h2v2h-2zM42 34h2v2h-2zM50 34h2v2h-2zM62 34h2v2h-2zM66 34h2v2h-2zM70 34h2v2h-2zM76 34h4v2h-4zM8 36h2v2h-2zM14 36h8v2h-8zM26 36h2v2h-2zM30 36h2v2h-2zM36 36h2v2h-2zM42 36h2v2h-2zM50 36h4v2h-4zM56 36h2v2h-2zM70 36h2v2h-2zM76 36h4v2h-4zM0 38h4v2h-4zM6 38h2v2h-2zM14 38h4v2h-4zM20 38h2v2h-2zM24 38h4v2h-4zM30 38h8v2h-8zM40 38h2v2h-2zM48 38h2v2h-2zM56 38h4v2h-4zM62 38h6v2h-6zM74 38h6v2h-6zM4 40h4v2h-4zM14 40h2v2h-2zM18 40h2v2h-2zM24 40h2v2h-2zM34 40h2v2h-2zM38 40h2v2h-2zM42 40h2v2h-2zM48 40h4v2h-4zM54 40h2v2h-2zM60 40h2v2h-2zM68 40h4v2h-4zM78 40h2v2h-2zM8 42h2v2h-2zM12 42h8v2h-8zM26 42h2v2h-2zM38 42h2v2h-2zM44 42h2v2h-2zM50 42h2v2h-2zM54 42h2v2h-2zM62 42h10v2h-10zM74 42h2v2h-2zM78 42h2v2h-2zM4 44h4v2h-4zM12 44h2v2h-2zM20 44h10v2h-10zM32 44h8v2h-8zM44 44h2v2h-2zM52 44h2v2h-2zM60 44h2v2h-2zM66 44h2v2h-2zM70 44h2v2h-2zM76 44h4v2h-4zM0 46h4v2h-4zM24 46h2v2h-2zM28 46h2v2h-2zM34 46h6v2h-6zM42 46h2v2h-2zM48 46h6v2h-6zM60 46h2v2h-2zM70 46h4v2h-4zM8 48h2v2h-2zM12 48h2v2h-2zM18 48h4v2h-4zM24 48h2v2h-2zM30 48h4v2h-4zM36 48h10v2h-10zM52 48h2v2h-2zM56 48h2v2h-2zM78 48h2v2h-2zM2 50h2v2h-2zM10 50h2v2h-2zM16 50h2v2h-2zM22 50h4v2h-4zM32 50h10v2h-10zM44 50h4v2h-4zM52 50h2v2h-2zM66 50h2v2h-2zM70 50h2v2h-2zM4 52h4v2h-4zM12 52h2v2h-2zM16 52h2v2h-2zM30 52h8v2h-8zM40 52h2v2h-2zM50 52h10v2h-10zM64 52h4v2h-4zM76 52h2v2h-2zM2 54h4v2h-4zM8 54h2v2h-2zM20 54h2v2h-2zM30 54h2v2h-2zM34 54h2v2h-2zM38 54h2v2h-2zM42 54h6v2h-6zM56 54h2v2h-2zM66 54h2v2h-2zM70 54h2v2h-2zM78 54h2v2h-2zM2 56h2v2h-2zM6 56h2v2h-2zM14 56h2v2h-2zM18 56h2v2h-2zM22 56h4v2h-4zM38 56h6v2h-6zM46 56h4v2h-4zM52 56h2v2h-2zM58 56h10v2h-10zM74 56h4v2h-4zM4 58h4v2h-4zM10 58h4v2h-4zM30 58h2v2h-2zM42 58h2v2h-2zM46 58h2v2h-2zM50 58h2v2h-2zM58 58h2v2h-2zM74 58h4v2h-4zM2 60h4v2h-4zM8 60h2v2h-2zM12 60h4v2h-4zM22 60h2v2h-2zM26 60h2v2h-2zM30 60h2v2h-2zM34 60h2v2h-2zM40 60h2v2h-2zM46 60h4v2h-4zM60 60h2v2h-2zM64 60h4v2h-4zM74 60h2v2h-2zM4 62h4v2h-4zM12 62h2v2h-2zM16 62h2v2h-2zM28 62h4v2h-4zM34 62h2v2h-2zM38 62h2v2h-2zM42 62h4v2h-4zM50 62h2v2h-2zM60 62h2v2h-2zM64 62h2v2h-2zM0 64h6v2h-6zM16 64h4v2h-4zM22 64h2v2h-2zM30 64h6v2h-6zM48 64h2v2h-2zM54 64h2v2h-2zM58 64h2v2h-2zM62 64h2v2h-2zM74 64h6v2h-6zM0 66h2v2h-2zM6 66h2v2h-2zM10 66h2v2h-2zM24 66h2v2h-2zM40 66h2v2h-2zM52 66h2v2h-2zM62 66h8v2h-8zM76 66h2v2h-2zM6 68h2v2h-2zM10 68h2v2h-2zM14 68h4v2h-4zM48 68h2v2h-2zM54 68h4v2h-4zM64 68h2v2h-2zM70 68h6v2h-6zM78 68h2v2h-2zM12 70h2v2h-2zM16 70h2v2h-2zM36 70h2v2h-2zM42 70h4v2h-4zM50 70h4v2h-4zM60 70h4v2h-4zM66 70h2v2h-2zM72 70h2v2h-2zM76 70h4v2h-4zM0 72h2v2h-2zM6 72h4v2h-4zM12 72h2v2h-2zM16 72h2v2h-2zM20 72h2v2h-2zM26 72h8v2h-8zM46 72h2v2h-2zM52 72h6v2h-6zM60 72h6v2h-6zM70 72h4v2h-4zM76 72h2v2h-2zM2 74h4v2h-4zM8 74h4v2h-4zM26 74h2v2h-2zM40 74h2v2h-2zM46 74h4v2h-4zM52 74h2v2h-2zM58 74h2v2h-2zM62 74h2v2h-2zM72 74h6v2h-6zM0 76h4v2h-4zM12 76h2v2h-2zM24 76h6v2h-6zM34 76h4v2h-4zM44 76h4v2h-4zM50 76h2v2h-2zM54 76h12v2h-12zM68 76h2v2h-2zM74 76h2v2h-2zM4 78h2v2h-2zM12 78h2v2h-2zM20 78h2v2h-2zM26 78h2v2h-2zM30 78h2v2h-2zM40 78h2v2h-2zM56 78h6v2h-6zM70 78h2v2h-2z" fill="#0000ff"/></pattern>
<pattern id="p0000ff7" patternUnits="userSpaceOnUse" width="80" height="80"><path d="M4 0h6v2h-6zM12 0h8v2h-8zM22 0h2v2h-2zM28 0h2v2h-2zM32 0h2v2h-2zM40 0h6v2h-6zM48 0h2v2h-2zM52 0h2v2h-2zM56 0h2v2h-2zM60 0h8v2h-8zM6 2h2v2h-2zM14 2h4v2h-4zM20 2h2v2h-2zM24 2h2v2h-2zM28 2h2v2h-2zM44 2h4v2h-4zM50 2h6v2h-6zM60 2h2v2h-2zM64 2h4v2h-4zM70 2h2v2h-2zM76 2h4v2h-4zM2 4h4v2h-4zM12 4h2v2h-2zM16 4h2v2h-2zM22 4h2v2h-2zM30 4h2v2h-2zM34 4h4v2h-4zM40 4h6v2h-6zM52 4h2v2h-2zM56 4h4v2h-4zM64 4h6v2h-6zM74 4h4v2h-4zM10 6h4v2h-4zM18 6h8v2h-8zM30 6h2v2h-2zM34 6h2v2h-2zM38 6h6v2h-6zM52 6h4v2h-4zM58 6h2v2h-2zM62 6h12v2h-12zM76 6h2v2h-2zM4 8h4v2h-4zM14 8h8v2h-8zM26 8h2v2h-2zM38 8h2v2h-2zM46 8h2v2h-2zM50 8h2v2h-2zM54 8h8v2h-8zM64 8h6v2h-6zM76 8h4v2h-4zM0 10h6v2h-6zM8 10h6v2h-6zM18 10h2v2h-2zM22 10h4v2h-4zM28 10h2v2h-2zM32 10h6v2h-6zM42 10h2v2h-2zM46 10h2v2h-2zM50 10h2v2h-2zM56 10h2v2h-2zM62 10h2v2h-2zM68 10h2v2h-2zM72 10h6v2h-6zM4 12h4v2h-4zM10 12h6v2h-6zM20 12h4v2h-4zM28 12h2v2h-2zM38 12h2v2h-2zM42 12h4v2h-4zM48 12h2v2h-2zM54 12h2v2h-2zM58 12h4v2h-4zM68 12h2v2h-2zM72 12h2v2h-2zM78 12h2v2h-2zM0 14h6v2h-6zM8 14h2v2h-2zM16 14h4v2h-4zM22 14h4v2h-4zM28 14h6v2h-6zM38 14h8v2h-8zM52 14h2v2h-2zM56 14h4v2h-4zM64 14h4v2h-4zM70 14h4v2h-4zM76 14h4v2h-4zM0 16h4v2h-4zM6 16h2v2h-2zM10 16h6v2h-6zM18 16h2v2h-2zM24 16h4v2h-4zM34 16h2v2h-2zM38 16h6v2h-6zM46 16h2v2h-2zM50 16h8v2h-8zM60 16h2v2h-2zM66 16h2v2h-2zM70 16h2v2h-2zM76 16h2v2h-2zM0 18h4v2h-4zM6 18h2v2h-2zM10 18h2v2h-2zM14 18h4v2h-4zM20 18h4v2h-4zM26 18h4v2h-4zM36 18h14v2h-14zM52 18h2v2h-2zM56 18h4v2h-4zM68 18h2v2h-2zM72 18h2v2h-2zM2 20h2v2h-2zM6 20h2v2h-2zM14 20h6v2h-6zM24 20h2v2h-2zM28 20h2v2h-2zM36 20h6v2h-6zM48 20h2v2h-2zM54 20h2v2h-2zM62 20h14v2h-14zM4 22h6v2h-6zM14 22h4v2h-4zM20 22h4v2h-4zM26 22h4v2h-4zM34 22h6v2h-6zM42 22h6v2h-6zM52 22h2v2h-2zM58 22h2v2h-2zM78 22h2v2h-2zM6 24h2v2h-2zM12 24h8v2h-8zM26 24h6v2h-6zM36 24h2v2h-2zM40 24h4v2h-4zM52 24h2v2h-2zM60 24h4v2h-4zM68 24h6v2h-6zM10 26h4v2h-4zM18 26h2v2h-2zM28 26h2v2h-2zM34 26h2v2h-2zM40 26h2v2h-2zM44 26h4v2h-4zM50 26h6v2h-6zM58 26h2v2h-2zM64 26h6v2h-6zM74 26h6v2h-6zM0 28h8v2h-8zM10 28h2v2h-2zM14 28h2v2h-2zM18 28h4v2h-4zM30 28h4v2h-4zM36 28h6v2h-6zM44 28h2v2h-2zM50 28h4v2h-4zM66 28h4v2h-4zM72 28h4v2h-4zM78 28h2v2h-2zM4 30h2v2h-2zM12 30h2v2h-2zM18 30h2v2h-2zM22 30h6v2h-6zM34 30h6v2h-6zM42 30h2v2h-2zM46 30h2v2h-2zM52 30h4v2h-4zM60 30h4v2h-4zM66 30h2v2h-2zM70 30h6v2h-6zM78 30h2v2h-2zM0 32h2v2h-2zM4 32h10v2h-10zM16 32h6v2h-6zM28 32h2v2h-2zM34 32h2v2h-2zM38 32h2v2h-2zM56 32h6v2h-6zM64 32h2v2h-2zM68 32h2v2h-2zM72 32h2v2h-2zM2 34h2v2h-2zM6 34h2v2h-2zM12 34h2v2h-2zM18 34h4v2h-4zM30 34h4v2h-4zM36 34h2v2h-2zM40 34h2v2h-2zM46 34h6v2h-6zM56 34h2v2h-2zM60 34h4v2h-4zM68 34h8v2h-8zM2 36h2v2h-2zM6 36h2v2h-2zM10 36h4v2h-4zM18 36h2v2h-2zM22 36h2v2h-2zM28 36h2v2h-2zM32 36h2v2h-2zM40 36h6v2h-6zM50 36h2v2h-2zM54 36h4v2h-4zM62 36h6v2h-6zM76 36h4v2h-4zM0 38h2v2h-2zM4 38h2v2h-2zM10 38h6v2h-6zM20 38h2v2h-2zM24 38h4v2h-4zM32 38h4v2h-4zM40 38h4v2h-4zM54 38h4v2h-4zM60 38h2v2h-2zM64 38h2v2h-2zM70 38h2v2h-2zM76 38h4v2h-4zM0 40h2v2h-2zM6 40h4v2h-4zM14 40h2v2h-2zM18 40h4v2h-4zM24 40h4v2h-4zM36 40h12v2h-12zM50 40h6v2h-6zM58 40h8v2h-8zM68 40h6v2h-6zM76 40h2v2h-2zM0 42h12v2h-12zM16 42h2v2h-2zM20 42h10v2h-10zM34 42h10v2h-10zM56 42h4v2h-4zM66 42h12v2h-12zM0 44h2v2h-2zM12 44h2v2h-2zM18 44h2v2h-2zM22 44h6v2h-6zM32 44h2v2h-2zM44 44h2v2h-2zM48 44h4v2h-4zM54 44h4v2h-4zM62 44h2v2h-2zM68 44h4v2h-4zM78 44h2v2h-2zM2 46h2v2h-2zM6 46h2v2h-2zM10 46h2v2h-2zM14 46h4v2h-4zM20 46h2v2h-2zM24 46h8v2h-8zM40 46h2v2h-2zM50 46h2v2h-2zM54 46h4v2h-4zM62 46h4v2h-4zM74 46h2v2h-2zM78 46h2v2h-2zM4 48h2v2h-2zM10 48h4v2h-4zM20 48h2v2h-2zM26 48h2v2h-2zM32 48h6v2h-6zM48 48h2v2h-2zM56 48h2v2h-2zM60 48h2v2h-2zM68 48h2v2h-2zM72 48h2v2h-2zM76 48h4v2h-4zM0 50h4v2h-4zM10 50h4v2h-4zM16 50h4v2h-4zM22 50h4v2h-4zM28 50h2v2h-2zM32 50h6v2h-6zM44 50h2v2h-2zM52 50h2v2h-2zM58 50h2v2h-2zM62 50h2v2h-2zM66 50h4v2h-4zM72 50h2v2h-2zM76 50h4v2h-4zM4 52h4v2h-4zM14 52h2v2h-2zM18 52h6v2h-6zM28 52h2v2h-2zM36 52h2v2h-2zM40 52h2v2h-2zM46 52h6v2h-6zM56 52h2v2h-2zM60 52h2v2h-2zM64 52h12v2h-12zM4 54h4v2h-4zM10 54h6v2h-6zM20 54h2v2h-2zM34 54h2v2h-2zM38 54h4v2h-4zM44 54h2v2h-2zM48 54h6v2h-6zM58 54h6v2h-6zM66 54h2v2h-2zM70 54h2v2h-2zM0 56h2v2h-2zM6 56h6v2h-6zM14 56h4v2h-4zM20 56h4v2h-4zM26 56h2v2h-2zM32 56h4v2h-4zM40 56h4v2h-4zM46 56h2v2h-2zM54 56h2v2h-2zM62 56h2v2h-2zM74 56h2v2h-2zM78 56h2v2h-2zM0 58h2v2h-2zM4 58h2v2h-2zM16 58h2v2h-2zM20 58h2v2h-2zM24 58h4v2h-4zM30 58h8v2h-8zM42 58h2v2h-2zM46 58h6v2h-6zM54 58h2v2h-2zM60 58h2v2h-2zM70 58h2v2h-2zM74 58h6v2h-6zM0 60h2v2h-2zM6 60h2v2h-2zM10 60h8v2h-8zM20 60h12v2h-12zM34 60h4v2h-4zM48 60h2v2h-2zM52 60h4v2h-4zM60 60h2v2h-2zM70 60h10v2h-10zM0 62h2v2h-2zM4 62h2v2h-2zM14 62h6v2h-6zM22 62h4v2h-4zM30 62h2v2h-2zM34 62h6v2h-6zM46 62h6v2h-6zM54 62h8v2h-8zM66 62h4v2h-4zM72 62h2v2h-2zM76 62h4v2h-4zM0 64h2v2h-2zM4 64h6v2h-6zM16 64h2v2h-2zM20 64h2v2h-2zM24 64h2v2h-2zM32 64h2v2h-2zM36 64h2v2h-2zM40 64h2v2h-2zM62 64h2v2h-2zM66 64h2v2h-2zM70 64h2v2h-2zM74 64h4v2h-4zM0 66h6v2h-6zM8 66h6v2h-6zM18 66h2v2h-2zM22 66h10v2h-10zM36 66h4v2h-4zM46 66h6v2h-6zM54 66h2v2h-2zM58 66h4v2h-4zM64 66h4v2h-4zM70 66h2v2h-2zM76 66h4v2h-4zM4 68h2v2h-2zM8 68h4v2h-4zM14 68h2v2h-2zM20 68h2v2h-2zM24 68h2v2h-2zM30 68h2v2h-2zM34 68h6v2h-6zM42 68h6v2h-6zM56 68h2v2h-2zM68 68h10v2h-10zM2 70h4v2h-4zM10 70h2v2h-2zM16 70h2v2h-2zM20 70h2v2h-2zM24 70h10v2h-10zM38 70h4v2h-4zM44 70h4v2h-4zM50 70h4v2h-4zM58 70h8v2h-8zM74 70h4v2h-4zM2 72h4v2h-4zM8 72h2v2h-2zM12 72h2v2h-2zM18 72h2v2h-2zM24 72h4v2h-4zM36 72h2v2h-2zM40 72h4v2h-4zM46 72h2v2h-2zM50 72h2v2h-2zM54 72h4v2h-4zM60 72h8v2h-8zM70 72h2v2h-2zM74 72h6v2h-6zM4 74h2v2h-2zM10 74h2v2h-2zM14 74h4v2h-4zM20 74h2v2h-2zM28 74h2v2h-2zM34 74h8v2h-8zM44 74h2v2h-2zM50 74h4v2h-4zM56 74h2v2h-2zM62 74h4v2h-4zM68 74h6v2h-6zM76 74h2v2h-2zM2 76h6v2h-6zM14 76h4v2h-4zM24 76h2v2h-2zM38 76h4v2h-4zM44 76h2v2h-2zM50 76h6v2h-6zM62 76h4v2h-4zM68 76h6v2h-6zM76 76h2v2h-2zM0 78h2v2h-2zM4 78h4v2h-4zM14 78h2v2h-2zM18 78h14v2h-14zM34 78h4v2h-4zM40 78h2v2h-2zM44 78h10v2h-10zM56 78h6v2h-6zM70 78h2v2h-2zM76 78h4v2h-4z" fill="#0000ff"/></pattern>
<pattern id="p0000ff8" patternUnits="userSpaceOnUse" width="80" height="80"><path d="M2 0h14v2h-14zM18 0h22v2h-22zM44 0h2v2h-2zM48 0h6v2h-6zM64 0h8v2h-8zM74 0h4v2h-4zM0 2h4v2h-4zM8 2h12v2h-12zM22 2h14v2h-14zM40 2h6v2h-6zM48 2h4v2h-4zM62 2h4v2h-4zM68 2h2v2h-2zM72 2h8v2h-8zM0 4h4v2h-4zM6 4h2v2h-2zM14 4h4v2h-4zM20 4h4v2h-4zM26 4h2v2h-2zM30 4h12v2h-12zM48 4h6v2h-6zM58 4h4v2h-4zM66 4h6v2h-6zM74 4h2v2h-2zM0 6h2v2h-2zM14 6h6v2h-6zM22 6h2v2h-2zM28 6h2v2h-2zM36 6h2v2h-2zM40 6h6v2h-6zM48 6h6v2h-6zM56 6h8v2h-8zM66 6h2v2h-2zM70 6h2v2h-2zM76 6h4v2h-4zM6 8h2v2h-2zM10 8h2v2h-2zM16 8h2v2h-2zM20 8h22v2h-22zM44 8h6v2h-6zM52 8h2v2h-2zM58 8h2v2h-2zM68 8h2v2h-2zM72 8h6v2h-6zM0 10h8v2h-8zM12 10h4v2h-4zM22 10h6v2h-6zM36 10h8v2h-8zM56 10h2v2h-2zM60 10h6v2h-6zM68 10h4v2h-4zM76 10h4v2h-4zM0 12h4v2h-4zM6 12h4v2h-4zM12 12h2v2h-2zM16 12h2v2h-2zM22 12h6v2h-6zM30 12h2v2h-2zM34 12h2v2h-2zM40 12h8v2h-8zM50 12h2v2h-2zM56 12h8v2h-8zM66 12h6v2h-6zM74 12h6v2h-6zM2 14h4v2h-4zM12 14h2v2h-2zM16 14h10v2h-10zM32 14h6v2h-6zM40 14h4v2h-4zM46 14h2v2h-2zM50 14h6v2h-6zM62 14h4v2h-4zM68 14h2v2h-2zM74 14h6v2h-6zM10 16h2v2h-2zM14 16h10v2h-10zM28 16h2v2h-2zM36 16h8v2h-8zM48 16h6v2h-6zM62 16h10v2h-10zM74 16h6v2h-6zM0 18h8v2h-8zM10 18h2v2h-2zM16 18h2v2h-2zM22 18h4v2h-4zM30 18h12v2h-12zM44 18h4v2h-4zM50 18h2v2h-2zM54 18h12v2h-12zM68 18h2v2h-2zM74 18h2v2h-2zM2 20h8v2h-8zM12 20h4v2h-4zM20 20h6v2h-6zM28 20h4v2h-4zM36 20h2v2h-2zM40 20h2v2h-2zM44 20h2v2h-2zM50 20h4v2h-4zM58 20h2v2h-2zM62 20h6v2h-6zM72 20h8v2h-8zM2 22h12v2h-12zM18 22h4v2h-4zM26 22h2v2h-2zM30 22h2v2h-2zM40 22h2v2h-2zM46 22h6v2h-6zM58 22h6v2h-6zM70 22h2v2h-2zM74 22h6v2h-6zM0 24h24v2h-24zM26 24h10v2h-10zM38 24h2v2h-2zM44 24h4v2h-4zM50 24h4v2h-4zM58 24h2v2h-2zM62 24h4v2h-4zM70 24h8v2h-8zM2 26h8v2h-8zM14 26h8v2h-8zM26 26h4v2h-4zM32 26h2v2h-2zM36 26h4v2h-4zM42 26h6v2h-6zM52 26h2v2h-2zM64 26h2v2h-2zM68 26h4v2h-4zM74 26h6v2h-6zM2 28h6v2h-6zM10 28h2v2h-2zM14 28h8v2h-8zM28 28h8v2h-8zM38 28h2v2h-2zM42 28h4v2h-4zM48 28h2v2h-2zM54 28h6v2h-6zM62 28h2v2h-2zM66 28h2v2h-2zM70 28h2v2h-2zM76 28h4v2h-4zM2 30h2v2h-2zM8 30h10v2h-10zM24 30h4v2h-4zM30 30h2v2h-2zM34 30h2v2h-2zM42 30h4v2h-4zM50 30h2v2h-2zM54 30h2v2h-2zM58 30h10v2h-10zM70 30h6v2h-6zM78 30h2v2h-2zM2 32h2v2h-2zM8 32h8v2h-8zM20 32h4v2h-4zM26 32h8v2h-8zM36 32h6v2h-6zM46 32h2v2h-2zM50 32h2v2h-2zM54 32h8v2h-8zM66 32h2v2h-2zM74 32h6v2h-6zM0 34h6v2h-6zM10 34h6v2h-6zM18 34h4v2h-4zM26 34h10v2h-10zM38 34h2v2h-2zM56 34h4v2h-4zM68 34h6v2h-6zM76 34h2v2h-2zM2 36h6v2h-6zM12 36h10v2h-10zM24 36h4v2h-4zM30 36h2v2h-2zM36 36h2v2h-2zM40 36h8v2h-8zM50 36h2v2h-2zM66 36h4v2h-4zM72 36h2v2h-2zM78 36h2v2h-2zM2 38h2v2h-2zM6 38h4v2h-4zM14 38h2v2h-2zM22 38h6v2h-6zM30 38h2v2h-2zM38 38h4v2h-4zM48 38h10v2h-10zM60 38h4v2h-4zM66 38h6v2h-6zM74 38h2v2h-2zM78 38h2v2h-2zM2 40h4v2h-4zM10 40h2v2h-2zM16 40h16v2h-16zM34 40h2v2h-2zM38 40h4v2h-4zM48 40h4v2h-4zM54 40h4v2h-4zM64 40h4v2h-4zM70 40h8v2h-8zM0 42h4v2h-4zM10 42h2v2h-2zM14 42h8v2h-8zM26 42h6v2h-6zM34 42h4v2h-4zM40 42h2v2h-2zM46 42h6v2h-6zM54 42h8v2h-8zM64 42h16v2h-16zM0 44h6v2h-6zM8 44h2v2h-2zM12 44h4v2h-4zM26 44h2v2h-2zM34 44h4v2h-4zM46 44h2v2h-2zM50 44h2v2h-2zM54 44h2v2h-2zM58 44h2v2h-2zM62 44h2v2h-2zM70 44h2v2h-2zM74 44h4v2h-4zM0 46h2v2h-2zM4 46h4v2h-4zM10 46h14v2h-14zM28 46h6v2h-6zM46 46h12v2h-12zM60 46h4v2h-4zM66 46h4v2h-4zM76 46h4v2h-4zM0 48h2v2h-2zM8 48h4v2h-4zM16 48h2v2h-2zM20 48h2v2h-2zM26 48h4v2h-4zM32 48h8v2h-8zM44 48h6v2h-6zM52 48h6v2h-6zM60 48h4v2h-4zM66 48h14v2h-14zM0 50h4v2h-4zM8 50h18v2h-18zM30 50h4v2h-4zM36 50h4v2h-4zM48 50h4v2h-4zM56 50h8v2h-8zM66 50h2v2h-2zM70 50h10v2h-10zM0 52h2v2h-2zM4 52h8v2h-8zM14 52h2v2h-2zM20 52h10v2h-10zM34 52h2v2h-2zM40 52h16v2h-16zM62 52h2v2h-2zM68 52h10v2h-10zM0 54h4v2h-4zM6 54h2v2h-2zM14 54h4v2h-4zM22 54h4v2h-4zM28 54h12v2h-12zM44 54h2v2h-2zM48 54h2v2h-2zM52 54h4v2h-4zM58 54h8v2h-8zM68 54h2v2h-2zM72 54h6v2h-6zM0 56h14v2h-14zM18 56h2v2h-2zM22 56h2v2h-2zM26 56h2v2h-2zM30 56h2v2h-2zM34 56h2v2h-2zM38 56h8v2h-8zM50 56h2v2h-2zM54 56h6v2h-6zM64 56h2v2h-2zM70 56h4v2h-4zM76 56h2v2h-2zM4 58h18v2h-18zM28 58h8v2h-8zM42 58h4v2h-4zM50 58h14v2h-14zM70 58h6v2h-6zM0 60h4v2h-4zM12 60h10v2h-10zM24 60h8v2h-8zM34 60h2v2h-2zM42 60h2v2h-2zM46 60h12v2h-12zM64 60h10v2h-10zM76 60h4v2h-4zM0 62h6v2h-6zM10 62h2v2h-2zM14 62h4v2h-4zM22 62h2v2h-2zM26 62h4v2h-4zM32 62h4v2h-4zM38 62h2v2h-2zM42 62h2v2h-2zM46 62h2v2h-2zM50 62h8v2h-8zM60 62h2v2h-2zM64 62h16v2h-16zM2 64h2v2h-2zM6 64h2v2h-2zM10 64h2v2h-2zM16 64h4v2h-4zM22 64h8v2h-8zM32 64h2v2h-2zM36 64h8v2h-8zM46 64h2v2h-2zM50 64h2v2h-2zM54 64h2v2h-2zM58 64h4v2h-4zM64 64h4v2h-4zM74 64h2v2h-2zM0 66h2v2h-2zM6 66h4v2h-4zM14 66h4v2h-4zM20 66h6v2h-6zM30 66h4v2h-4zM44 66h6v2h-6zM54 66h2v2h-2zM62 66h4v2h-4zM70 66h2v2h-2zM78 66h2v2h-2zM0 68h4v2h-4zM6 68h2v2h-2zM10 68h4v2h-4zM16 68h4v2h-4zM26 68h10v2h-10zM38 68h12v2h-12zM54 68h2v2h-2zM58 68h2v2h-2zM64 68h4v2h-4zM70 68h6v2h-6zM78 68h2v2h-2zM4 70h6v2h-6zM12 70h2v2h-2zM18 70h6v2h-6zM28 70h2v2h-2zM32 70h2v2h-2zM36 70h8v2h-8zM46 70h8v2h-8zM56 70h4v2h-4zM64 70h6v2h-6zM74 70h6v2h-6zM0 72h6v2h-6zM8 72h2v2h-2zM12 72h6v2h-6zM20 72h6v2h-6zM28 72h10v2h-10zM46 72h4v2h-4zM52 72h6v2h-6zM60 72h12v2h-12zM74 72h6v2h-6zM2 74h2v2h-2zM6 74h2v2h-2zM12 74h2v2h-2zM22 74h6v2h-6zM32 74h6v2h-6zM42 74h2v2h-2zM46 74h4v2h-4zM52 74h4v2h-4zM68 74h12v2h-12zM6 76h4v2h-4zM14 76h2v2h-2zM22 76h2v2h-2zM26 76h14v2h-14zM50 76h8v2h-8zM60 76h10v2h-10zM72 76h2v2h-2zM76 76h2v2h-2zM2 78h4v2h-4zM12 78h16v2h-16zM30 78h4v2h-4zM36 78h4v2h-4zM42 78h2v2h-2zM46 78h4v2h-4zM52 78h2v2h-2zM56 78h6v2h-6zM64 78h14v2h-14z" fill="#0000ff"/></pattern>
<pattern id="p00ff005" patternUnits="userSpaceOnUse" width="80" height="80"><path d="M4 0h2v2h-2zM8 0h2v2h-2zM12 0h4v2h-4zM24 0h2v2h-2zM28 0h2v2h-2zM32 0h2v2h-2zM36 0h4v2h-4zM42 0h2v2h-2zM54 0h4v2h-4zM70 0h2v2h-2zM6 2h2v2h-2zM16 2h6v2h-6zM28 2h4v2h-4zM34 2h2v2h-2zM46 2h2v2h-2zM50 2h6v2h-6zM60 2h4v2h-4zM76 2h2v2h-2zM0 4h2v2h-2zM16 4h2v2h-2zM24 4h2v2h-2zM28 4h2v2h-2zM32 4h2v2h-2zM36 4h2v2h-2zM48 4h2v2h-2zM56 4h4v2h-4zM66 4h2v2h-2zM70 4h4v2h-4zM18 6h4v2h-4zM34 6h2v2h-2zM40 6h2v2h-2zM52 6h8v2h-8zM64 6h2v2h-2zM70 6h4v2h-4zM76 6h2v2h-2zM6 8h2v2h-2zM14 8h4v2h-4zM20 8h2v2h-2zM38 8h2v2h-2zM42 8h4v2h-4zM60 8h2v2h-2zM74 8h2v2h-2zM2 10h2v2h-2zM10 10h4v2h-4zM18 10h6v2h-6zM26 10h2v2h-2zM30 10h2v2h-2zM34 10h4v2h-4zM48 10h2v2h-2zM54 10h2v2h-2zM58 10h2v2h-2zM66 10h4v2h-4zM76 10h2v2h-2zM24 12h2v2h-2zM42 12h2v2h-2zM46 12h4v2h-4zM64 12h2v2h-2zM76 12h2v2h-2zM0 14h2v2h-2zM6 14h4v2h-4zM14 14h2v2h-2zM18 14h2v2h-2zM32 14h2v2h-2zM40 14h2v2h-2zM48 14h2v2h-2zM52 14h6v2h-6zM64 14h4v2h-4zM70 14h2v2h-2zM8 16h4v2h-4zM14 16h2v2h-2zM18 16h2v2h-2zM22 16h6v2h-6zM44 16h2v2h-2zM62 16h4v2h-4zM70 16h2v2h-2zM2 18h2v2h-2zM8 18h6v2h-6zM16 18h2v2h-2zM20 18h2v2h-2zM28 18h2v2h-2zM38 18h2v2h-2zM66 18h2v2h-2zM74 18h2v2h-2zM6 20h6v2h-6zM14 20h2v2h-2zM24 20h2v2h-2zM28 20h8v2h-8zM38 20h4v2h-4zM46 20h2v2h-2zM60 20h2v2h-2zM76 20h2v2h-2zM6 22h2v2h-2zM22 22h2v2h-2zM26 22h6v2h-6zM34 22h2v2h-2zM38 22h2v2h-2zM42 22h2v2h-2zM50 22h4v2h-4zM58 22h4v2h-4zM74 22h2v2h-2zM8 24h2v2h-2zM14 24h4v2h-4zM22 24h2v2h-2zM30 24h2v2h-2zM34 24h6v2h-6zM50 24h2v2h-2zM64 24h2v2h-2zM72 24h2v2h-2zM2 26h2v2h-2zM8 26h2v2h-2zM22 26h2v2h-2zM26 26h2v2h-2zM38 26h2v2h-2zM42 26h2v2h-2zM48 26h4v2h-4zM66 26h2v2h-2zM76 26h2v2h-2zM2 28h4v2h-4zM12 28h4v2h-4zM38 28h2v2h-2zM54 28h2v2h-2zM60 28h2v2h-2zM68 28h2v2h-2zM74 28h2v2h-2zM78 28h2v2h-2zM2 30h2v2h-2zM10 30h2v2h-2zM22 30h2v2h-2zM28 30h2v2h-2zM36 30h2v2h-2zM42 30h2v2h-2zM64 30h2v2h-2zM72 30h2v2h-2zM76 30h2v2h-2zM10 32h2v2h-2zM14 32h2v2h-2zM18 32h2v2h-2zM28 32h2v2h-2zM36 32h2v2h-2zM52 32h2v2h-2zM62 32h4v2h-4zM78 32h2v2h-2zM6 34h6v2h-6zM18 34h2v2h-2zM32 34h2v2h-2zM44 34h2v2h-2zM52 34h2v2h-2zM56 34h2v2h-2zM64 34h8v2h-8zM8 36h2v2h-2zM18 36h6v2h-6zM40 36h2v2h-2zM46 36h4v2h-4zM60 36h2v2h-2zM64 36h4v2h-4zM72 36h2v2h-2zM0 38h2v2h-2zM14 38h2v2h-2zM20 38h2v2h-2zM28 38h2v2h-2zM32 38h6v2h-6zM42 38h2v2h-2zM46 38h2v2h-2zM56 38h2v2h-2zM62 38h2v2h-2zM74 38h2v2h-2zM0 40h2v2h-2zM20 40h2v2h-2zM24 40h2v2h-2zM32 40h6v2h-6zM40 40h2v2h-2zM46 40h4v2h-4zM54 40h2v2h-2zM64 40h4v2h-4zM72 40h2v2h-2zM78 40h2v2h-2zM0 42h2v2h-2zM4 42h2v2h-2zM24 42h2v2h-2zM30 42h2v2h-2zM36 42h2v2h-2zM42 42h4v2h-4zM48 42h2v2h-2zM56 42h2v2h-2zM60 42h4v2h-4zM70 42h6v2h-6zM78 42h2v2h-2zM0 44h2v2h-2zM8 44h6v2h-6zM24 44h2v2h-2zM30 44h2v2h-2zM56 44h2v2h-2zM72 44h2v2h-2zM76 44h2v2h-2zM8 46h2v2h-2zM12 46h6v2h-6zM20 46h2v2h-2zM24 46h2v2h-2zM32 46h4v2h-4zM38 46h8v2h-8zM48 46h2v2h-2zM54 46h2v2h-2zM70 46h8v2h-8zM8 48h4v2h-4zM18 48h2v2h-2zM22 48h4v2h-4zM30 48h2v2h-2zM36 48h2v2h-2zM40 48h4v2h-4zM50 48h2v2h-2zM72 48h2v2h-2zM0 50h2v2h-2zM10 50h2v2h-2zM14 50h2v2h-2zM26 50h2v2h-2zM30 50h2v2h-2zM36 50h2v2h-2zM42 50h8v2h-8zM54 50h2v2h-2zM62 50h4v2h-4zM68 50h2v2h-2zM2 52h2v2h-2zM8 52h2v2h-2zM18 52h4v2h-4zM30 52h4v2h-4zM46 52h2v2h-2zM58 52h2v2h-2zM66 52h4v2h-4zM72 52h2v2h-2zM8 54h2v2h-2zM54 54h2v2h-2zM62 54h2v2h-2zM68 54h2v2h-2zM76 54h4v2h-4zM4 56h6v2h-6zM12 56h4v2h-4zM18 56h2v2h-2zM24 56h2v2h-2zM30 56h2v2h-2zM36 56h4v2h-4zM46 56h10v2h-10zM60 56h6v2h-6zM74 56h2v2h-2zM78 56h2v2h-2zM8 58h2v2h-2zM12 58h2v2h-2zM18 58h2v2h-2zM24 58h2v2h-2zM32 58h2v2h-2zM42 58h2v2h-2zM46 58h2v2h-2zM54 58h2v2h-2zM58 58h2v2h-2zM36 60h10v2h-10zM50 60h2v2h-2zM60 60h2v2h-2zM72 60h2v2h-2zM78 60h2v2h-2zM0 62h2v2h-2zM14 62h2v2h-2zM20 62h2v2h-2zM30 62h4v2h-4zM44 62h6v2h-6zM58 62h2v2h-2zM64 62h2v2h-2zM68 62h4v2h-4zM74 62h2v2h-2zM78 62h2v2h-2zM6 64h2v2h-2zM10 64h2v2h-2zM26 64h2v2h-2zM30 64h2v2h-2zM48 64h2v2h-2zM52 64h8v2h-8zM66 64h2v2h-2zM72 64h2v2h-2zM8 66h6v2h-6zM16 66h2v2h-2zM38 66h4v2h-4zM54 66h2v2h-2zM70 66h2v2h-2zM78 66h2v2h-2zM2 68h2v2h-2zM14 68h2v2h-2zM26 68h8v2h-8zM36 68h2v2h-2zM42 68h2v2h-2zM54 68h4v2h-4zM70 68h2v2h-2zM0 70h2v2h-2zM6 70h2v2h-2zM10 70h4v2h-4zM18 70h2v2h-2zM28 70h4v2h-4zM34 70h4v2h-4zM42 70h4v2h-4zM56 70h2v2h-2zM66 70h4v2h-4zM76 70h2v2h-2zM2 72h2v2h-2zM20 72h2v2h-2zM26 72h2v2h-2zM30 72h2v2h-2zM36 72h2v2h-2zM44 72h4v2h-4zM50 72h4v2h-4zM56 72h10v2h-10zM68 72h4v2h-4zM76 72h2v2h-2zM0 74h4v2h-4zM12 74h4v2h-4zM30 74h6v2h-6zM38 74h2v2h-2zM54 74h2v2h-2zM58 74h2v2h-2zM62 74h2v2h-2zM68 74h2v2h-2zM0 76h2v2h-2zM4 76h2v2h-2zM8 76h2v2h-2zM14 76h2v2h-2zM28 76h6v2h-6zM38 76h2v2h-2zM54 76h2v2h-2zM72 76h6v2h-6zM8 78h2v2h-2zM12 78h2v2h-2zM18 78h2v2h-2zM22 78h4v2h-4zM32 78h2v2h-2zM38 78h2v2h-2zM46 78h6v2h-6zM54 78h2v2h-2zM62 78h4v2h-4zM68 78h2v2h-2zM78 78h2v2h-2z" fill="#00ff00"/></pattern>
<pattern id="pff00005" patternUnits="userSpaceOnUse" width="80" height="80"><path d="M4 0h2v2h-2zM8 0h2v2h-2zM12 0h4v2h-4zM24 0h2v2h-2zM28 0h2v2h-2zM32 0h2v2h-2zM36 0h4v2h-4zM42 0h2v2h-2zM54 0h4v2h-4zM70 0h2v2h-2zM6 2h2v2h-2zM16 2h6v2h-6zM28 2h4v2h-4zM34 2h2v2h-2zM46 2h2v2h-2zM50 2h6v2h-6zM60 2h4v2h-4zM76 2h2v2h-2zM0 4h2v2h-2zM16 4h2v2h-2zM24 4h2v2h-2zM28 4h2v2h-2zM32 4h2v2h-2zM36 4h2v2h-2zM48 4h2v2h-2zM56 4h4v2h-4zM66 4h2v2h-2zM70 4h4v2h-4zM18 6h4v2h-4zM34 6h2v2h-2zM40 6h2v2h-2zM52 6h8v2h-8zM64 6h2v2h-2zM70 6h4v2h-4zM76 6h2v2h-2zM6 8h2v2h-2zM14 8h4v2h-4zM20 8h2v2h-2zM38 8h2v2h-2zM42 8h4v2h-4zM60 8h2v2h-2zM74 8h2v2h-2zM2 10h2v2h-2zM10 10h4v2h-4zM18 10h6v2h-6zM26 10h2v2h-2zM30 10h2v2h-2zM34 10h4v2h-4zM48 10h2v2h-2zM54 10h2v2h-2zM58 10h2v2h-2zM66 10h4v2h-4zM76 10h2v2h-2zM24 12h2v2h-2zM42 12h2v2h-2zM46 12h4v2h-4zM64 12h2v2h-2zM76 12h2v2h-2zM0 14h2v2h-2zM6 14h4v2h-4zM14 14h2v2h-2zM18 14h2v2h-2zM32 14h2v2h-2zM40 14h2v2h-2zM48 14h2v2h-2zM52 14h6v2h-6zM64 14h4v2h-4zM70 14h2v2h-2zM8 16h4v2h-4zM14 16h2v2h-2zM18 16h2v2h-2zM22 16h6v2h-6zM44 16h2v2h-2zM62 16h4v2h-4zM70 16h2v2h-2zM2 18h2v2h-2zM8 18h6v2h-6zM16 18h2v2h-2zM20 18h2v2h-2zM28 18h2v2h-2zM38 18h2v2h-2zM66 18h2v2h-2zM74 18h2v2h-2zM6 20h6v2h-6zM14 20h2v2h-2zM24 20h2v2h-2zM28 20h8v2h-8zM38 20h4v2h-4zM46 20h2v2h-2zM60 20h2v2h-2zM76 20h2v2h-2zM6 22h2v2h-2zM22 22h2v2h-2zM26 22h6v2h-6zM34 22h2v2h-2zM38 22h2v2h-2zM42 22h2v2h-2zM50 22h4v2h-4zM58 22h4v2h-4zM74 22h2v2h-2zM8 24h2v2h-2zM14 24h4v2h-4zM22 24h2v2h-2zM30 24h2v2h-2zM34 24h6v2h-6zM50 24h2v2h-2zM64 24h2v2h-2zM72 24h2v2h-2zM2 26h2v2h-2zM8 26h2v2h-2zM22 26h2v2h-2zM26 26h2v2h-2zM38 26h2v2h-2zM42 26h2v2h-2zM48 26h4v2h-4zM66 26h2v2h-2zM76 26h2v2h-2zM2 28h4v2h-4zM12 28h4v2h-4zM38 28h2v2h-2zM54 28h2v2h-2zM60 28h2v2h-2zM68 28h2v2h-2zM74 28h2v2h-2zM78 28h2v2h-2zM2 30h2v2h-2zM10 30h2v2h-2zM22 30h2v2h-2zM28 30h2v2h-2zM36 30h2v2h-2zM42 30h2v2h-2zM64 30h2v2h-2zM72 30h2v2h-2zM76 30h2v2h-2zM10 32h2v2h-2zM14 32h2v2h-2zM18 32h2v2h-2zM28 32h2v2h-2zM36 32h2v2h-2zM52 32h2v2h-2zM62 32h4v2h-4zM78 32h2v2h-2zM6 34h6v2h-6zM18 34h2v2h-2zM32 34h2v2h-2zM44 34h2v2h-2zM52 34h2v2h-2zM56 34h2v2h-2zM64 34h8v2h-8zM8 36h2v2h-2zM18 36h6v2h-6zM40 36h2v2h-2zM46 36h4v2h-4zM60 36h2v2h-2zM64 36h4v2h-4zM72 36h2v2h-2zM0 38h2v2h-2zM14 38h2v2h-2zM20 38h2v2h-2zM28 38h2v2h-2zM32 38h6v2h-6zM42 38h2v2h-2zM46 38h2v2h-2zM56 38h2v2h-2zM62 38h2v2h-2zM74 38h2v2h-2zM0 40h2v2h-2zM20 40h2v2h-2zM24 40h2v2h-2zM32 40h6v2h-6zM40 40h2v2h-2zM46 40h4v2h-4zM54 40h2v2h-2zM64 40h4v2h-4zM72 40h2v2h-2zM78 40h2v2h-2zM0 42h2v2h-2zM4 42h2v2h-2zM24 42h2v2h-2zM30 42h2v2h-2zM36 42h2v2h-2zM42 42h4v2h-4zM48 42h2v2h-2zM56 42h2v2h-2zM60 42h4v2h-4zM70 42h6v2h-6zM78 42h2v2h-2zM0 44h2v2h-2zM8 44h6v2h-6zM24 44h2v2h-2zM30 44h2v2h-2zM56 44h2v2h-2zM72 44h2v2h-2zM76 44h2v2h-2zM8 46h2v2h-2zM12 46h6v2h-6zM20 46h2v2h-2zM24 46h2v2h-2zM32 46h4v2h-4zM38 46h8v2h-8zM48 46h2v2h-2zM54 46h2v2h-2zM70 46h8v2h-8zM8 48h4v2h-4zM18 48h2v2h-2zM22 48h4v2h-4zM30 48h2v2h-2zM36 48h2v2h-2zM40 48h4v2h-4zM50 48h2v2h-2zM72 48h2v2h-2zM0 50h2v2h-2zM10 50h2v2h-2zM14 50h2v2h-2zM26 50h2v2h-2zM30 50h2v2h-2zM36 50h2v2h-2zM42 50h8v2h-8zM54 50h2v2h-2zM62 50h4v2h-4zM68 50h2v2h-2zM2 52h2v2h-2zM8 52h2v2h-2zM18 52h4v2h-4zM30 52h4v2h-4zM46 52h2v2h-2zM58 52h2v2h-2zM66 52h4v2h-4zM72 52h2v2h-2zM8 54h2v2h-2zM54 54h2v2h-2zM62 54h2v2h-2zM68 54h2v2h-2zM76 54h4v2h-4zM4 56h6v2h-6zM12 56h4v2h-4zM18 56h2v2h-2zM24 56h2v2h-2zM30 56h2v2h-2zM36 56h4v2h-4zM46 56h10v2h-10zM60 56h6v2h-6zM74 56h2v2h-2zM78 56h2v2h-2zM8 58h2v2h-2zM12 58h2v2h-2zM18 58h2v2h-2zM24 58h2v2h-2zM32 58h2v2h-2zM42 58h2v2h-2zM46 58h2v2h-2zM54 58h2v2h-2zM58 58h2v2h-2zM36 60h10v2h-10zM50 60h2v2h-2zM60 60h2v2h-2zM72 60h2v2h-2zM78 60h2v2h-2zM0 62h2v2h-2zM14 62h2v2h-2zM20 62h2v2h-2zM30 62h4v2h-4zM44 62h6v2h-6zM58 62h2v2h-2zM64 62h2v2h-2zM68 62h4v2h-4zM74 62h2v2h-2zM78 62h2v2h-2zM6 64h2v2h-2zM10 64h2v2h-2zM26 64h2v2h-2zM30 64h2v2h-2zM48 64h2v2h-2zM52 64h8v2h-8zM66 64h2v2h-2zM72 64h2v2h-2zM8 66h6v2h-6zM16 66h2v2h-2zM38 66h4v2h-4zM54 66h2v2h-2zM70 66h2v2h-2zM78 66h2v2h-2zM2 68h2v2h-2zM14 68h2v2h-2zM26 68h8v2h-8zM36 68h2v2h-2zM42 68h2v2h-2zM54 68h4v2h-4zM70 68h2v2h-2zM0 70h2v2h-2zM6 70h2v2h-2zM10 70h4v2h-4zM18 70h2v2h-2zM28 70h4v2h-4zM34 70h4v2h-4zM42 70h4v2h-4zM56 70h2v2h-2zM66 70h4v2h-4zM76 70h2v2h-2zM2 72h2v2h-2zM20 72h2v2h-2zM26 72h2v2h-2zM30 72h2v2h-2zM36 72h2v2h-2zM44 72h4v2h-4zM50 72h4v2h-4zM56 72h10v2h-10zM68 72h4v2h-4zM76 72h2v2h-2zM0 74h4v2h-4zM12 74h4v2h-4zM30 74h6v2h-6zM38 74h2v2h-2zM54 74h2v2h-2zM58 74h2v2h-2zM62 74h2v2h-2zM68 74h2v2h-2zM0 76h2v2h-2zM4 76h2v2h-2zM8 76h2v2h-2zM14 76h2v2h-2zM28 76h6v2h-6zM38 76h2v2h-2zM54 76h2v2h-2zM72 76h6v2h-6zM8 78h2v2h-2zM12 78h2v2h-2zM18 78h2v2h-2zM22 78h4v2h-4zM32 78h2v2h-2zM38 78h2v2h-2zM46 78h6v2h-6zM54 78h2v2h-2zM62 78h4v2h-4zM68 78h2v2h-2zM78 78h2v2h-2z" fill="#ff0000"/></pattern>
<pattern id="pff00ff5" patternUnits="userSpaceOnUse" width="80" height="80"><path d="M4 0h2v2h-2zM8 0h2v2h-2zM12 0h4v2h-4zM24 0h2v2h-2zM28 0h2v2h-2zM32 0h2v2h-2zM36 0h4v2h-4zM42 0h2v2h-2zM54 0h4v2h-4zM70 0h2v2h-2zM6 2h2v2h-2zM16 2h6v2h-6zM28 2h4v2h-4zM34 2h2v2h-2zM46 2h2v2h-2zM50 2h6v2h-6zM60 2h4v2h-4zM76 2h2v2h-2zM0 4h2v2h-2zM16 4h2v2h-2zM24 4h2v2h-2zM28 4h2v2h-2zM32 4h2v2h-2zM36 4h2v2h-2zM48 4h2v2h-2zM56 4h4v2h-4zM66 4h2v2h-2zM70 4h4v2h-4zM18 6h4v2h-4zM34 6h2v2h-2zM40 6h2v2h-2zM52 6h8v2h-8zM64 6h2v2h-2zM70 6h4v2h-4zM76 6h2v2h-2zM6 8h2v2h-2zM14 8h4v2h-4zM20 8h2v2h-2zM38 8h2v2h-2zM42 8h4v2h-4zM60 8h2v2h-2zM74 8h2v2h-2zM2 10h2v2h-2zM10 10h4v2h-4zM18 10h6v2h-6zM26 10h2v2h-2zM30 10h2v2h-2zM34 10h4v2h-4zM48 10h2v2h-2zM54 10h2v2h-2zM58 10h2v2h-2zM66 10h4v2h-4zM76 10h2v2h-2zM24 12h2v2h-2zM42 12h2v2h-2zM46 12h4v2h-4zM64 12h2v2h-2zM76 12h2v2h-2zM0 14h2v2h-2zM6 14h4v2h-4zM14 14h2v2h-2zM18 14h2v2h-2zM32 14h2v2h-2zM40 14h2v2h-2zM48 14h2v2h-2zM52 14h6v2h-6zM64 14h4v2h-4zM70 14h2v2h-2zM8 16h4v2h-4zM14 16h2v2h-2zM18 16h2v2h-2zM22 16h6v2h-6zM44 16h2v2h-2zM62 16h4v2h-4zM70 16h2v2h-2zM2 18h2v2h-2zM8 18h6v2h-6zM16 18h2v2h-2zM20 18h2v2h-2zM28 18h2v2h-2zM38 18h2v2h-2zM66 18h2v2h-2zM74 18h2v2h-2zM6 20h6v2h-6zM14 20h2v2h-2zM24 20h2v2h-2zM28 20h8v2h-8zM38 20h4v2h-4zM46 20h2v2h-2zM60 20h2v2h-2zM76 20h2v2h-2zM6 22h2v2h-2zM22 22h2v2h-2zM26 22h6v2h-6zM34 22h2v2h-2zM38 22h2v2h-2zM42 22h2v2h-2zM50 22h4v2h-4zM58 22h4v2h-4zM74 22h2v2h-2zM8 24h2v2h-2zM14 24h4v2h-4zM22 24h2v2h-2zM30 24h2v2h-2zM34 24h6v2h-6zM50 24h2v2h-2zM64 24h2v2h-2zM72 24h2v2h-2zM2 26h2v2h-2zM8 26h2v2h-2zM22 26h2v2h-2zM26 26h2v2h-2zM38 26h2v2h-2zM42 26h2v2h-2zM48 26h4v2h-4zM66 26h2v2h-2zM76 26h2v2h-2zM2 28h4v2h-4zM12 28h4v2h-4zM38 28h2v2h-2zM54 28h2v2h-2zM60 28h2v2h-2zM68 28h2v2h-2zM74 28h2v2h-2zM78 28h2v2h-2zM2 30h2v2h-2zM10 30h2v2h-2zM22 30h2v2h-2zM28 30h2v2h-2zM36 30h2v2h-2zM42 30h2v2h-2zM64 30h2v2h-2zM72 30h2v2h-2zM76 30h2v2h-2zM10 32h2v2h-2zM14 32h2v2h-2zM18 32h2v2h-2zM28 32h2v2h-2zM36 32h2v2h-2zM52 32h2v2h-2zM62 32h4v2h-4zM78 32h2v2h-2zM6 34h6v2h-6zM18 34h2v2h-2zM32 34h2v2h-2zM44 34h2v2h-2zM52 34h2v2h-2zM56 34h2v2h-2zM64 34h8v2h-8zM8 36h2v2h-2zM18 36h6v2h-6zM40 36h2v2h-2zM46 36h4v2h-4zM60 36h2v2h-2zM64 36h4v2h-4zM72 36h2v2h-2zM0 38h2v2h-2zM14 38h2v2h-2zM20 38h2v2h-2zM28 38h2v2h-2zM32 38h6v2h-6zM42 38h2v2h-2zM46 38h2v2h-2zM56 38h2v2h-2zM62 38h2v2h-2zM74 38h2v2h-2zM0 40h2v2h-2zM20 40h2v2h-2zM24 40h2v2h-2zM32 40h6v2h-6zM40 40h2v2h-2zM46 40h4v2h-4zM54 40h2v2h-2zM64 40h4v2h-4zM72 40h2v2h-2zM78 40h2v2h-2zM0 42h2v2h-2zM4 42h2v2h-2zM24 42h2v2h-2zM30 42h2v2h-2zM36 42h2v2h-2zM42 42h4v2h-4zM48 42h2v2h-2zM56 42h2v2h-2zM60 42h4v2h-4zM70 42h6v2h-6zM78 42h2v2h-2zM0 44h2v2h-2zM8 44h6v2h-6zM24 44h2v2h-2zM30 44h2v2h-2zM56 44h2v2h-2zM72 44h2v2h-2zM76 44h2v2h-2zM8 46h2v2h-2zM12 46h6v2h-6zM20 46h2v2h-2zM24 46h2v2h-2zM32 46h4v2h-4zM38 46h8v2h-8zM48 46h2v2h-2zM54 46h2v2h-2zM70 46h8v2h-8zM8 48h4v2h-4zM18 48h2v2h-2zM22 48h4v2h-4zM30 48h2v2h-2zM36 48h2v2h-2zM40 48h4v2h-4zM50 48h2v2h-2zM72 48h2v2h-2zM0 50h2v2h-2zM10 50h2v2h-2zM14 50h2v2h-2zM26 50h2v2h-2zM30 50h2v2h-2zM36 50h2v2h-2zM42 50h8v2h-8zM54 50h2v2h-2zM62 50h4v2h-4zM68 50h2v2h-2zM2 52h2v2h-2zM8 52h2v2h-2zM18 52h4v2h-4zM30 52h4v2h-4zM46 52h2v2h-2zM58 52h2v2h-2zM66 52h4v2h-4zM72 52h2v2h-2zM8 54h2v2h-2zM54 54h2v2h-2zM62 54h2v2h-2zM68 54h2v2h-2zM76 54h4v2h-4zM4 56h6v2h-6zM12 56h4v2h-4zM18 56h2v2h-2zM24 56h2v2h-2zM30 56h2v2h-2zM36 56h4v2h-4zM46 56h10v2h-10zM60 56h6v2h-6zM74 56h2v2h-2zM78 56h2v2h-2zM8 58h2v2h-2zM12 58h2v2h-2zM18 58h2v2h-2zM24 58h2v2h-2zM32 58h2v2h-2zM42 58h2v2h-2zM46 58h2v2h-2zM54 58h2v2h-2zM58 58h2v2h-2zM36 60h10v2h-10zM50 60h2v2h-2zM60 60h2v2h-2zM72 60h2v2h-2zM78 60h2v2h-2zM0 62h2v2h-2zM14 62h2v2h-2zM20 62h2v2h-2zM30 62h4v2h-4zM44 62h6v2h-6zM58 62h2v2h-2zM64 62h2v2h-2zM68 62h4v2h-4zM74 62h2v2h-2zM78 62h2v2h-2zM6 64h2v2h-2zM10 64h2v2h-2zM26 64h2v2h-2zM30 64h2v2h-2zM48 64h2v2h-2zM52 64h8v2h-8zM66 64h2v2h-2zM72 64h2v2h-2zM8 66h6v2h-6zM16 66h2v2h-2zM38 66h4v2h-4zM54 66h2v2h-2zM70 66h2v2h-2zM78 66h2v2h-2zM2 68h2v2h-2zM14 68h2v2h-2zM26 68h8v2h-8zM36 68h2v2h-2zM42 68h2v2h-2zM54 68h4v2h-4zM70 68h2v2h-2zM0 70h2v2h-2zM6 70h2v2h-2zM10 70h4v2h-4zM18 70h2v2h-2zM28 70h4v2h-4zM34 70h4v2h-4zM42 70h4v2h-4zM56 70h2v2h-2zM66 70h4v2h-4zM76 70h2v2h-2zM2 72h2v2h-2zM20 72h2v2h-2zM26 72h2v2h-2zM30 72h2v2h-2zM36 72h2v2h-2zM44 72h4v2h-4zM50 72h4v2h-4zM56 72h10v2h-10zM68 72h4v2h-4zM76 72h2v2h-2zM0 74h4v2h-4zM12 74h4v2h-4zM30 74h6v2h-6zM38 74h2v2h-2zM54 74h2v2h-2zM58 74h2v2h-2zM62 74h2v2h-2zM68 74h2v2h-2zM0 76h2v2h-2zM4 76h2v2h-2zM8 76h2v2h-2zM14 76h2v2h-2zM28 76h6v2h-6zM38 76h2v2h-2zM54 76h2v2h-2zM72 76h6v2h-6zM8 78h2v2h-2zM12 78h2v2h-2zM18 78h2v2h-2zM22 78h4v2h-4zM32 78h2v2h-2zM38 78h2v2h-2zM46 78h6v2h-6zM54 78h2v2h-2zM62 78h4v2h-4zM68 78h2v2h-2zM78 78h2v2h-2z" fill="#ff00ff"/></pattern>
<pattern id="pff40ff5" patternUnits="userSpaceOnUse" width="80" height="80"><path d="M4 0h2v2h-2zM8 0h2v2h-2zM12 0h4v2h-4zM24 0h2v2h-2zM28 0h2v2h-2zM32 0h2v2h-2zM36 0h4v2h-4zM42 0h2v2h-2zM54 0h4v2h-4zM70 0h2v2h-2zM6 2h2v2h-2zM16 2h6v2h-6zM28 2h4v2h-4zM34 2h2v2h-2zM46 2h2v2h-2zM50 2h6v2h-6zM60 2h4v2h-4zM76 2h2v2h-2zM0 4h2v2h-2zM16 4h2v2h-2zM24 4h2v2h-2zM28 4h2v2h-2zM32 4h2v2h-2zM36 4h2v2h-2zM48 4h2v2h-2zM56 4h4v2h-4zM66 4h2v2h-2zM70 4h4v2h-4zM18 6h4v2h-4zM34 6h2v2h-2zM40 6h2v2h-2zM52 6h8v2h-8zM64 6h2v2h-2zM70 6h4v2h-4zM76 6h2v2h-2zM6 8h2v2h-2zM14 8h4v2h-4zM20 8h2v2h-2zM38 8h2v2h-2zM42 8h4v2h-4zM60 8h2v2h-2zM74 8h2v2h-2zM2 10h2v2h-2zM10 10h4v2h-4zM18 10h6v2h-6zM26 10h2v2h-2zM30 10h2v2h-2zM34 10h4v2h-4zM48 10h2v2h-2zM54 10h2v2h-2zM58 10h2v2h-2zM66 10h4v2h-4zM76 10h2v2h-2zM24 12h2v2h-2zM42 12h2v2h-2zM46 12h4v2h-4zM64 12h2v2h-2zM76 12h2v2h-2zM0 14h2v2h-2zM6 14h4v2h-4zM14 14h2v2h-2zM18 14h2v2h-2zM32 14h2v2h-2zM40 14h2v2h-2zM48 14h2v2h-2zM52 14h6v2h-6zM64 14h4v2h-4zM70 14h2v2h-2zM8 16h4v2h-4zM14 16h2v2h-2zM18 16h2v2h-2zM22 16h6v2h-6zM44 16h2v2h-2zM62 16h4v2h-4zM70 16h2v2h-2zM2 18h2v2h-2zM8 18h6v2h-6zM16 18h2v2h-2zM20 18h2v2h-2zM28 18h2v2h-2zM38 18h2v2h-2zM66 18h2v2h-2zM74 18h2v2h-2zM6 20h6v2h-6zM14 20h2v2h-2zM24 20h2v2h-2zM28 20h8v2h-8zM38 20h4v2h-4zM46 20h2v2h-2zM60 20h2v2h-2zM76 20h2v2h-2zM6 22h2v2h-2zM22 22h2v2h-2zM26 22h6v2h-6zM34 22h2v2h-2zM38 22h2v2h-2zM42 22h2v2h-2zM50 22h4v2h-4zM58 22h4v2h-4zM74 22h2v2h-2zM8 24h2v2h-2zM14 24h4v2h-4zM22 24h2v2h-2zM30 24h2v2h-2zM34 24h6v2h-6zM50 24h2v2h-2zM64 24h2v2h-2zM72 24h2v2h-2zM2 26h2v2h-2zM8 26h2v2h-2zM22 26h2v2h-2zM26 26h2v2h-2zM38 26h2v2h-2zM42 26h2v2h-2zM48 26h4v2h-4zM66 26h2v2h-2zM76 26h2v2h-2zM2 28h4v2h-4zM12 28h4v2h-4zM38 28h2v2h-2zM54 28h2v2h-2zM60 28h2v2h-2zM68 28h2v2h-2zM74 28h2v2h-2zM78 28h2v2h-2zM2 30h2v2h-2zM10 30h2v2h-2zM22 30h2v2h-2zM28 30h2v2h-2zM36 30h2v2h-2zM42 30h2v2h-2zM64 30h2v2h-2zM72 30h2v2h-2zM76 30h2v2h-2zM10 32h2v2h-2zM14 32h2v2h-2zM18 32h2v2h-2zM28 32h2v2h-2zM36 32h2v2h-2zM52 32h2v2h-2zM62 32h4v2h-4zM78 32h2v2h-2zM6 34h6v2h-6zM18 34h2v2h-2zM32 34h2v2h-2zM44 34h2v2h-2zM52 34h2v2h-2zM56 34h2v2h-2zM64 34h8v2h-8zM8 36h2v2h-2zM18 36h6v2h-6zM40 36h2v2h-2zM46 36h4v2h-4zM60 36h2v2h-2zM64 36h4v2h-4zM72 36h2v2h-2zM0 38h2v2h-2zM14 38h2v2h-2zM20 38h2v2h-2zM28 38h2v2h-2zM32 38h6v2h-6zM42 38h2v2h-2zM46 38h2v2h-2zM56 38h2v2h-2zM62 38h2v2h-2zM74 38h2v2h-2zM0 40h2v2h-2zM20 40h2v2h-2zM24 40h2v2h-2zM32 40h6v2h-6zM40 40h2v2h-2zM46 40h4v2h-4zM54 40h2v2h-2zM64 40h4v2h-4zM72 40h2v2h-2zM78 40h2v2h-2zM0 42h2v2h-2zM4 42h2v2h-2zM24 42h2v2h-2zM30 42h2v2h-2zM36 42h2v2h-2zM42 42h4v2h-4zM48 42h2v2h-2zM56 42h2v2h-2zM60 42h4v2h-4zM70 42h6v2h-6zM78 42h2v2h-2zM0 44h2v2h-2zM8 44h6v2h-6zM24 44h2v2h-2zM30 44h2v2h-2zM56 44h2v2h-2zM72 44h2v2h-2zM76 44h2v2h-2zM8 46h2v2h-2zM12 46h6v2h-6zM20 46h2v2h-2zM24 46h2v2h-2zM32 46h4v2h-4zM38 46h8v2h-8zM48 46h2v2h-2zM54 46h2v2h-2zM70 46h8v2h-8zM8 48h4v2h-4zM18 48h2v2h-2zM22 48h4v2h-4zM30 48h2v2h-2zM36 48h2v2h-2zM40 48h4v2h-4zM50 48h2v2h-2zM72 48h2v2h-2zM0 50h2v2h-2zM10 50h2v2h-2zM14 50h2v2h-2zM26 50h2v2h-2zM30 50h2v2h-2zM36 50h2v2h-2zM42 50h8v2h-8zM54 50h2v2h-2zM62 50h4v2h-4zM68 50h2v2h-2zM2 52h2v2h-2zM8 52h2v2h-2zM18 52h4v2h-4zM30 52h4v2h-4zM46 52h2v2h-2zM58 52h2v2h-2zM66 52h4v2h-4zM72 52h2v2h-2zM8 54h2v2h-2zM54 54h2v2h-2zM62 54h2v2h-2zM68 54h2v2h-2zM76 54h4v2h-4zM4 56h6v2h-6zM12 56h4v2h-4zM18 56h2v2h-2zM24 56h2v2h-2zM30 56h2v2h-2zM36 56h4v2h-4zM46 56h10v2h-10zM60 56h6v2h-6zM74 56h2v2h-2zM78 56h2v2h-2zM8 58h2v2h-2zM12 58h2v2h-2zM18 58h2v2h-2zM24 58h2v2h-2zM32 58h2v2h-2zM42 58h2v2h-2zM46 58h2v2h-2zM54 58h2v2h-2zM58 58h2v2h-2zM36 60h10v2h-10zM50 60h2v2h-2zM60 60h2v2h-2zM72 60h2v2h-2zM78 60h2v2h-2zM0 62h2v2h-2zM14 62h2v2h-2zM20 62h2v2h-2zM30 62h4v2h-4zM44 62h6v2h-6zM58 62h2v2h-2zM64 62h2v2h-2zM68 62h4v2h-4zM74 62h2v2h-2zM78 62h2v2h-2zM6 64h2v2h-2zM10 64h2v2h-2zM26 64h2v2h-2zM30 64h2v2h-2zM48 64h2v2h-2zM52 64h8v2h-8zM66 64h2v2h-2zM72 64h2v2h-2zM8 66h6v2h-6zM16 66h2v2h-2zM38 66h4v2h-4zM54 66h2v2h-2zM70 66h2v2h-2zM78 66h2v2h-2zM2 68h2v2h-2zM14 68h2v2h-2zM26 68h8v2h-8zM36 68h2v2h-2zM42 68h2v2h-2zM54 68h4v2h-4zM70 68h2v2h-2zM0 70h2v2h-2zM6 70h2v2h-2zM10 70h4v2h-4zM18 70h2v2h-2zM28 70h4v2h-4zM34 70h4v2h-4zM42 70h4v2h-4zM56 70h2v2h-2zM66 70h4v2h-4zM76 70h2v2h-2zM2 72h2v2h-2zM20 72h2v2h-2zM26 72h2v2h-2zM30 72h2v2h-2zM36 72h2v2h-2zM44 72h4v2h-4zM50 72h4v2h-4zM56 72h10v2h-10zM68 72h4v2h-4zM76 72h2v2h-2zM0 74h4v2h-4zM12 74h4v2h-4zM30 74h6v2h-6zM38 74h2v2h-2zM54 74h2v2h-2zM58 74h2v2h-2zM62 74h2v2h-2zM68 74h2v2h-2zM0 76h2v2h-2zM4 76h2v2h-2zM8 76h2v2h-2zM14 76h2v2h-2zM28 76h6v2h-6zM38 76h2v2h-2zM54 76h2v2h-2zM72 76h6v2h-6zM8 78h2v2h-2zM12 78h2v2h-2zM18 78h2v2h-2zM22 78h4v2h-4zM32 78h2v2h-2zM38 78h2v2h-2zM46 78h6v2h-6zM54 78h2v2h-2zM62 78h4v2h-4zM68 78h2v2h-2zM78 78h2v2h-2z" fill="#ff40ff"/></pattern>
<pattern id="pffffff0" patternUnits="userSpaceOnUse" width="80" height="80"><path d="M20 0h2v2h-2zM52 0h2v2h-2zM6 2h2v2h-2zM16 4h2v2h-2zM54 4h2v2h-2zM60 4h2v2h-2zM4 10h2v2h-2zM46 10h2v2h-2zM46 12h2v2h-2zM46 14h2v2h-2zM52 16h2v2h-2zM6 18h2v2h-2zM64 18h2v2h-2zM14 20h2v2h-2zM60 20h2v2h-2zM40 22h2v2h-2zM66 22h2v2h-2zM48 28h2v2h-2zM24 30h2v2h-2zM62 34h2v2h-2zM18 36h2v2h-2zM60 38h2v2h-2zM64 38h4v2h-4zM62 40h2v2h-2zM70 40h2v2h-2zM2 42h2v2h-2zM18 42h2v2h-2zM30 42h2v2h-2zM44 44h2v2h-2zM52 46h4v2h-4zM8 50h2v2h-2zM56 52h2v2h-2zM18 56h2v2h-2zM32 56h2v2h-2zM60 56h2v2h-2zM18 58h2v2h-2zM0 60h2v2h-2zM46 60h2v2h-2zM8 64h2v2h-2zM2 66h2v2h-2zM46 66h2v2h-2zM74 66h2v2h-2zM78 66h2v2h-2zM44 68h2v2h-2zM62 72h2v2h-2zM78 78h2v2h-2z" fill="#ffffff"/></pattern>
<pattern id="pffffff1" patternUnits="userSpaceOnUse" width="80" height="80"><path d="M0 0h4v2h-4zM26 0h2v2h-2zM0 2h2v2h-2zM12 2h2v2h-2zM34 2h2v2h-2zM6 4h2v2h-2zM30 4h2v2h-2zM48 4h2v2h-2zM52 4h2v2h-2zM70 4h2v2h-2zM18 6h2v2h-2zM10 10h2v2h-2zM32 10h2v2h-2zM4 12h2v2h-2zM10 12h2v2h-2zM20 12h2v2h-2zM40 14h2v2h-2zM72 14h2v2h-2zM26 16h2v2h-2zM38 16h4v2h-4zM56 16h2v2h-2zM0 18h2v2h-2zM28 18h2v2h-2zM34 18h2v2h-2zM64 18h2v2h-2zM72 18h2v2h-2zM78 18h2v2h-2zM8 20h2v2h-2zM52 20h2v2h-2zM72 22h2v2h-2zM40 26h2v2h-2zM60 26h2v2h-2zM8 28h2v2h-2zM78 30h2v2h-2zM6 32h2v2h-2zM46 32h2v2h-2zM8 36h2v2h-2zM42 36h2v2h-2zM74 36h2v2h-2zM14 38h2v2h-2zM42 38h2v2h-2zM2 40h2v2h-2zM10 40h2v2h-2zM40 40h2v2h-2zM10 42h2v2h-2zM42 42h2v2h-2zM58 42h2v2h-2zM66 42h2v2h-2zM0 44h2v2h-2zM30 44h2v2h-2zM68 44h2v2h-2zM6 46h2v2h-2zM18 46h2v2h-2zM50 46h2v2h-2zM24 48h2v2h-2zM44 48h2v2h-2zM18 50h2v2h-2zM38 50h2v2h-2zM56 50h2v2h-2zM4 54h2v2h-2zM12 56h2v2h-2zM6 58h2v2h-2zM20 58h2v2h-2zM18 60h2v2h-2zM22 60h2v2h-2zM0 62h2v2h-2zM20 62h2v2h-2zM28 62h2v2h-2zM38 62h2v2h-2zM64 62h2v2h-2zM26 64h2v2h-2zM46 64h2v2h-2zM60 64h2v2h-2zM76 64h2v2h-2zM40 66h2v2h-2zM56 66h2v2h-2zM0 68h2v2h-2zM64 68h2v2h-2zM78 68h2v2h-2zM12 70h2v2h-2zM20 70h2v2h-2zM28 70h2v2h-2zM20 72h2v2h-2zM44 72h2v2h-2zM66 72h4v2h-4zM20 74h2v2h-2zM30 74h2v2h-2zM48 74h2v2h-2zM10 76h2v2h-2zM22 76h2v2h-2zM64 76h2v2h-2zM40 78h2v2h-2zM56 78h2v2h-2z" fill="#ffffff"/></pattern>
<pattern id="pffffff2" patternUnits="userSpaceOnUse" width="80" height="80"><path d="M8 0h2v2h-2zM18 0h2v2h-2zM30 0h2v2h-2zM36 0h2v2h-2zM38 2h2v2h-2zM72 2h2v2h-2zM20 4h2v2h-2zM26 4h2v2h-2zM40 4h4v2h-4zM46 4h2v2h-2zM60 4h2v2h-2zM72 4h2v2h-2zM2 6h2v2h-2zM6 6h2v2h-2zM14 6h2v2h-2zM70 6h2v2h-2zM8 8h2v2h-2zM16 8h2v2h-2zM64 8h2v2h-2zM50 10h2v2h-2zM74 10h2v2h-2zM26 12h2v2h-2zM30 12h2v2h-2zM62 12h2v2h-2zM70 12h2v2h-2zM14 14h2v2h-2zM46 14h2v2h-2zM54 14h2v2h-2zM24 16h2v2h-2zM46 16h2v2h-2zM60 16h2v2h-2zM64 16h2v2h-2zM48 18h2v2h-2zM52 18h2v2h-2zM62 18h2v2h-2zM62 20h2v2h-2zM4 22h2v2h-2zM8 22h2v2h-2zM58 22h2v2h-2zM74 22h2v2h-2zM10 24h2v2h-2zM36 24h2v2h-2zM42 24h2v2h-2zM48 24h2v2h-2zM8 26h2v2h-2zM28 26h2v2h-2zM32 26h2v2h-2zM52 26h2v2h-2zM58 26h2v2h-2zM76 26h2v2h-2zM18 28h2v2h-2zM42 28h2v2h-2zM56 28h2v2h-2zM4 30h2v2h-2zM70 30h2v2h-2zM38 32h2v2h-2zM58 32h2v2h-2zM74 32h4v2h-4zM4 34h4v2h-4zM20 34h2v2h-2zM24 34h2v2h-2zM28 34h2v2h-2zM46 34h2v2h-2zM12 36h2v2h-2zM62 36h2v2h-2zM66 36h2v2h-2zM0 38h2v2h-2zM34 38h2v2h-2zM6 40h2v2h-2zM12 40h2v2h-2zM74 40h2v2h-2zM2 42h2v2h-2zM6 42h2v2h-2zM36 42h2v2h-2zM42 42h2v2h-2zM48 42h2v2h-2zM60 42h4v2h-4zM70 42h2v2h-2zM44 44h2v2h-2zM52 44h2v2h-2zM64 44h2v2h-2zM78 44h2v2h-2zM10 46h2v2h-2zM38 46h2v2h-2zM42 46h2v2h-2zM50 46h2v2h-2zM64 46h2v2h-2zM8 48h2v2h-2zM0 50h2v2h-2zM8 50h2v2h-2zM12 50h2v2h-2zM52 50h2v2h-2zM56 50h2v2h-2zM60 50h2v2h-2zM66 50h2v2h-2zM74 50h2v2h-2zM6 54h2v2h-2zM20 54h4v2h-4zM46 54h4v2h-4zM2 56h2v2h-2zM6 56h4v2h-4zM18 56h2v2h-2zM48 56h2v2h-2zM52 56h4v2h-4zM0 58h2v2h-2zM12 58h2v2h-2zM58 58h2v2h-2zM64 58h2v2h-2zM74 58h2v2h-2zM6 60h2v2h-2zM24 60h2v2h-2zM38 60h2v2h-2zM48 60h2v2h-2zM0 62h4v2h-4zM6 62h2v2h-2zM26 62h2v2h-2zM60 62h2v2h-2zM6 64h2v2h-2zM44 64h2v2h-2zM0 66h2v2h-2zM6 66h2v2h-2zM32 66h2v2h-2zM36 66h2v2h-2zM58 66h2v2h-2zM6 68h2v2h-2zM20 68h2v2h-2zM62 68h2v2h-2zM74 68h2v2h-2zM14 70h2v2h-2zM36 70h4v2h-4zM70 70h6v2h-6zM0 72h2v2h-2zM10 72h2v2h-2zM30 72h4v2h-4zM58 72h4v2h-4zM66 72h2v2h-2zM12 74h2v2h-2zM30 74h4v2h-4zM30 76h2v2h-2zM54 76h2v2h-2zM2 78h2v2h-2zM6 78h2v2h-2zM12 78h2v2h-2zM16 78h2v2h-2zM62 78h2v2h-2z" fill="#ffffff"/></pattern>
<pattern id="pffffff3" patternUnits="userSpaceOnUse" width="80" height="80"><path d="M42 0h2v2h-2zM42 2h2v2h-2zM64 2h2v2h-2zM70 2h2v2h-2zM74 2h2v2h-2zM10 4h2v2h-2zM44 4h4v2h-4zM4 6h2v2h-2zM20 6h2v2h-2zM26 6h4v2h-4zM48 6h2v2h-2zM68 6h2v2h-2zM4 8h2v2h-2zM26 8h2v2h-2zM58 8h2v2h-2zM62 8h2v2h-2zM2 10h2v2h-2zM18 10h4v2h-4zM26 10h2v2h-2zM32 10h2v2h-2zM36 10h2v2h-2zM40 10h2v2h-2zM48 10h4v2h-4zM16 12h6v2h-6zM24 12h2v2h-2zM28 12h2v2h-2zM34 12h2v2h-2zM46 12h2v2h-2zM56 12h2v2h-2zM70 12h2v2h-2zM14 14h2v2h-2zM22 14h2v2h-2zM42 14h2v2h-2zM48 14h2v2h-2zM56 14h2v2h-2zM14 16h2v2h-2zM20 16h2v2h-2zM32 16h2v2h-2zM46 16h2v2h-2zM50 16h2v2h-2zM58 16h2v2h-2zM62 16h4v2h-4zM8 18h2v2h-2zM12 18h4v2h-4zM22 18h2v2h-2zM28 18h2v2h-2zM48 18h2v2h-2zM66 18h2v2h-2zM0 20h6v2h-6zM20 20h2v2h-2zM64 20h2v2h-2zM6 22h2v2h-2zM20 22h2v2h-2zM38 22h2v2h-2zM46 22h2v2h-2zM50 22h2v2h-2zM54 22h2v2h-2zM70 22h4v2h-4zM12 24h2v2h-2zM38 24h2v2h-2zM62 24h2v2h-2zM74 24h2v2h-2zM0 26h2v2h-2zM14 26h2v2h-2zM22 26h2v2h-2zM48 26h2v2h-2zM52 26h2v2h-2zM58 26h2v2h-2zM66 26h2v2h-2zM78 26h2v2h-2zM6 28h2v2h-2zM20 28h2v2h-2zM24 28h2v2h-2zM68 28h2v2h-2zM28 30h2v2h-2zM54 30h2v2h-2zM70 30h2v2h-2zM78 30h2v2h-2zM2 32h4v2h-4zM8 32h2v2h-2zM16 32h2v2h-2zM24 32h4v2h-4zM30 32h4v2h-4zM50 32h6v2h-6zM66 32h4v2h-4zM72 32h2v2h-2zM52 34h4v2h-4zM2 36h2v2h-2zM8 36h2v2h-2zM22 36h2v2h-2zM50 36h2v2h-2zM62 36h4v2h-4zM8 38h2v2h-2zM20 38h2v2h-2zM44 38h4v2h-4zM50 38h2v2h-2zM54 38h2v2h-2zM34 40h2v2h-2zM38 40h4v2h-4zM50 40h2v2h-2zM2 42h2v2h-2zM16 42h2v2h-2zM34 42h2v2h-2zM44 42h2v2h-2zM52 42h2v2h-2zM66 42h2v2h-2zM0 44h2v2h-2zM34 44h2v2h-2zM44 44h2v2h-2zM54 44h2v2h-2zM72 44h2v2h-2zM0 46h2v2h-2zM10 46h2v2h-2zM22 46h2v2h-2zM30 46h2v2h-2zM38 46h2v2h-2zM42 46h2v2h-2zM54 46h2v2h-2zM76 46h2v2h-2zM2 48h2v2h-2zM14 48h2v2h-2zM24 48h2v2h-2zM48 48h6v2h-6zM56 48h2v2h-2zM26 50h2v2h-2zM44 50h2v2h-2zM52 50h4v2h-4zM58 50h2v2h-2zM76 50h2v2h-2zM12 52h2v2h-2zM16 52h2v2h-2zM20 52h2v2h-2zM56 52h2v2h-2zM72 52h2v2h-2zM76 52h2v2h-2zM16 54h2v2h-2zM38 54h4v2h-4zM18 56h2v2h-2zM32 56h4v2h-4zM40 56h2v2h-2zM64 56h2v2h-2zM68 56h4v2h-4zM76 56h2v2h-2zM20 58h2v2h-2zM32 58h2v2h-2zM40 58h2v2h-2zM46 58h2v2h-2zM50 58h2v2h-2zM68 58h2v2h-2zM72 58h2v2h-2zM8 60h2v2h-2zM50 60h4v2h-4zM56 60h2v2h-2zM64 60h2v2h-2zM70 60h2v2h-2zM2 62h2v2h-2zM10 62h2v2h-2zM22 62h2v2h-2zM26 62h2v2h-2zM60 62h2v2h-2zM66 62h2v2h-2zM72 62h2v2h-2zM0 64h2v2h-2zM6 64h2v2h-2zM30 64h2v2h-2zM56 64h2v2h-2zM64 64h2v2h-2zM76 64h2v2h-2zM24 66h2v2h-2zM34 66h4v2h-4zM50 66h4v2h-4zM70 66h2v2h-2zM2 68h2v2h-2zM10 68h2v2h-2zM16 68h2v2h-2zM28 68h4v2h-4zM38 68h2v2h-2zM44 68h2v2h-2zM54 68h2v2h-2zM58 68h2v2h-2zM64 68h2v2h-2zM78 68h2v2h-2zM12 70h2v2h-2zM30 70h2v2h-2zM36 70h2v2h-2zM48 70h2v2h-2zM54 70h4v2h-4zM78 70h2v2h-2zM2 72h2v2h-2zM10 72h2v2h-2zM20 72h2v2h-2zM26 74h2v2h-2zM78 74h2v2h-2zM12 76h2v2h-2zM20 76h2v2h-2zM30 76h2v2h-2zM34 76h2v2h-2zM42 76h2v2h-2zM48 76h2v2h-2zM52 76h2v2h-2zM72 76h2v2h-2zM0 78h2v2h-2zM6 78h2v2h-2zM26 78h2v2h-2zM38 78h2v2h-2zM60 78h4v2h-4zM72 78h2v2h-2z" fill="#ffffff"/></pattern>
<pattern id="pffffff4" patternUnits="userSpaceOnUse" width="80" height="80"><path d="M16 0h2v2h-2zM20 0h2v2h-2zM40 0h2v2h-2zM44 0h2v2h-2zM48 0h2v2h-2zM52 0h2v2h-2zM66 0h2v2h-2zM74 0h2v2h-2zM78 0h2v2h-2zM10 2h4v2h-4zM54 2h2v2h-2zM60 2h2v2h-2zM70 2h2v2h-2zM74 2h6v2h-6zM22 4h2v2h-2zM4 6h2v2h-2zM16 6h2v2h-2zM58 6h2v2h-2zM70 6h4v2h-4zM10 8h4v2h-4zM20 8h2v2h-2zM28 8h2v2h-2zM38 8h2v2h-2zM44 8h2v2h-2zM54 8h2v2h-2zM58 8h2v2h-2zM68 8h4v2h-4zM76 8h2v2h-2zM24 10h4v2h-4zM32 10h2v2h-2zM52 10h2v2h-2zM56 10h2v2h-2zM64 10h2v2h-2zM2 12h2v2h-2zM6 12h2v2h-2zM10 12h2v2h-2zM14 12h2v2h-2zM22 12h2v2h-2zM30 12h4v2h-4zM36 12h2v2h-2zM42 12h2v2h-2zM48 12h2v2h-2zM54 12h6v2h-6zM64 12h2v2h-2zM72 12h2v2h-2zM78 12h2v2h-2zM2 14h4v2h-4zM16 14h2v2h-2zM22 14h2v2h-2zM36 14h2v2h-2zM58 14h2v2h-2zM66 14h6v2h-6zM78 14h2v2h-2zM26 16h2v2h-2zM36 16h2v2h-2zM44 16h2v2h-2zM64 16h2v2h-2zM68 16h2v2h-2zM74 16h2v2h-2zM2 18h2v2h-2zM26 18h2v2h-2zM32 18h2v2h-2zM38 18h4v2h-4zM46 18h2v2h-2zM50 18h4v2h-4zM56 18h2v2h-2zM18 20h4v2h-4zM24 20h2v2h-2zM36 20h2v2h-2zM44 20h2v2h-2zM12 22h2v2h-2zM18 22h4v2h-4zM26 22h2v2h-2zM34 22h2v2h-2zM42 22h2v2h-2zM54 22h2v2h-2zM62 22h2v2h-2zM76 22h4v2h-4zM4 24h2v2h-2zM18 24h2v2h-2zM26 24h6v2h-6zM36 24h2v2h-2zM46 24h2v2h-2zM50 24h2v2h-2zM62 24h4v2h-4zM76 24h2v2h-2zM4 26h2v2h-2zM8 26h2v2h-2zM32 26h2v2h-2zM42 26h2v2h-2zM46 26h2v2h-2zM54 26h2v2h-2zM10 28h4v2h-4zM40 28h6v2h-6zM50 28h4v2h-4zM2 30h2v2h-2zM14 30h2v2h-2zM34 30h2v2h-2zM48 30h2v2h-2zM52 30h2v2h-2zM26 32h2v2h-2zM36 32h2v2h-2zM40 32h2v2h-2zM62 32h4v2h-4zM74 32h2v2h-2zM10 34h2v2h-2zM18 34h4v2h-4zM30 34h2v2h-2zM58 34h2v2h-2zM12 36h2v2h-2zM16 36h8v2h-8zM34 36h2v2h-2zM48 36h2v2h-2zM64 36h2v2h-2zM68 36h2v2h-2zM24 38h2v2h-2zM28 38h2v2h-2zM32 38h6v2h-6zM42 38h2v2h-2zM50 38h2v2h-2zM64 38h2v2h-2zM2 40h2v2h-2zM8 40h2v2h-2zM12 40h4v2h-4zM24 40h2v2h-2zM28 40h2v2h-2zM62 40h2v2h-2zM0 42h2v2h-2zM4 42h2v2h-2zM10 42h2v2h-2zM24 42h2v2h-2zM28 42h2v2h-2zM42 42h2v2h-2zM50 42h2v2h-2zM60 42h4v2h-4zM66 42h2v2h-2zM0 44h2v2h-2zM4 44h2v2h-2zM10 44h2v2h-2zM24 44h2v2h-2zM28 44h2v2h-2zM32 44h2v2h-2zM40 44h2v2h-2zM54 44h2v2h-2zM70 44h2v2h-2zM78 44h2v2h-2zM4 46h2v2h-2zM20 46h2v2h-2zM34 46h2v2h-2zM42 46h2v2h-2zM50 46h2v2h-2zM54 46h2v2h-2zM60 46h2v2h-2zM0 48h2v2h-2zM6 48h2v2h-2zM36 48h2v2h-2zM40 48h2v2h-2zM60 48h2v2h-2zM12 50h2v2h-2zM22 50h2v2h-2zM28 50h2v2h-2zM48 50h2v2h-2zM62 50h2v2h-2zM76 50h2v2h-2zM4 52h2v2h-2zM16 52h2v2h-2zM44 52h4v2h-4zM52 52h4v2h-4zM64 52h2v2h-2zM0 54h2v2h-2zM18 54h2v2h-2zM48 54h2v2h-2zM58 54h4v2h-4zM64 54h2v2h-2zM72 54h2v2h-2zM76 54h2v2h-2zM0 56h2v2h-2zM4 56h2v2h-2zM18 56h2v2h-2zM36 56h2v2h-2zM40 56h2v2h-2zM44 56h2v2h-2zM56 56h2v2h-2zM64 56h2v2h-2zM32 58h2v2h-2zM48 58h4v2h-4zM54 58h2v2h-2zM62 58h4v2h-4zM72 58h2v2h-2zM6 60h2v2h-2zM20 60h2v2h-2zM38 60h4v2h-4zM44 60h2v2h-2zM60 60h2v2h-2zM0 62h2v2h-2zM12 62h2v2h-2zM18 62h2v2h-2zM34 62h2v2h-2zM38 62h4v2h-4zM52 62h4v2h-4zM58 62h2v2h-2zM66 62h2v2h-2zM2 64h2v2h-2zM12 64h2v2h-2zM18 64h2v2h-2zM26 64h2v2h-2zM50 64h2v2h-2zM54 64h2v2h-2zM58 64h2v2h-2zM72 64h2v2h-2zM76 64h2v2h-2zM16 66h2v2h-2zM24 66h2v2h-2zM42 66h2v2h-2zM50 66h2v2h-2zM74 66h2v2h-2zM78 66h2v2h-2zM8 68h2v2h-2zM12 68h2v2h-2zM38 68h2v2h-2zM68 68h2v2h-2zM74 68h4v2h-4zM8 70h6v2h-6zM22 70h2v2h-2zM32 70h2v2h-2zM40 70h2v2h-2zM50 70h4v2h-4zM60 70h2v2h-2zM64 70h2v2h-2zM70 70h2v2h-2zM78 70h2v2h-2zM0 72h4v2h-4zM6 72h6v2h-6zM14 72h2v2h-2zM20 72h4v2h-4zM46 72h2v2h-2zM60 72h4v2h-4zM70 72h2v2h-2zM6 74h2v2h-2zM18 74h2v2h-2zM36 74h6v2h-6zM58 74h2v2h-2zM62 74h2v2h-2zM68 74h4v2h-4zM74 74h2v2h-2zM6 76h6v2h-6zM14 76h2v2h-2zM18 76h2v2h-2zM36 76h4v2h-4zM52 76h2v2h-2zM60 76h4v2h-4zM4 78h2v2h-2zM12 78h2v2h-2zM18 78h2v2h-2zM26 78h2v2h-2zM30 78h2v2h-2zM42 78h2v2h-2zM46 78h2v2h-2zM58 78h2v2h-2zM66 78h2v2h-2zM72 78h2v2h-2zM76 78h2v2h-2z" fill="#ffffff"/></pattern>
<pattern id="pffffff5" patternUnits="userSpaceOnUse" width="80" height="80"><path d="M4 0h2v2h-2zM8 0h2v2h-2zM12 0h4v2h-4zM24 0h2v2h-2zM28 0h2v2h-2zM32 0h2v2h-2zM36 0h4v2h-4zM42 0h2v2h-2zM54 0h4v2h-4zM70 0h2v2h-2zM6 2h2v2h-2zM16 2h6v2h-6zM28 2h4v2h-4zM34 2h2v2h-2zM46 2h2v2h-2zM50 2h6v2h-6zM60 2h4v2h-4zM76 2h2v2h-2zM0 4h2v2h-2zM16 4h2v2h-2zM24 4h2v2h-2zM28 4h2v2h-2zM32 4h2v2h-2zM36 4h2v2h-2zM48 4h2v2h-2zM56 4h4v2h-4zM66 4h2v2h-2zM70 4h4v2h-4zM18 6h4v2h-4zM34 6h2v2h-2zM40 6h2v2h-2zM52 6h8v2h-8zM64 6h2v2h-2zM70 6h4v2h-4zM76 6h2v2h-2zM6 8h2v2h-2zM14 8h4v2h-4zM20 8h2v2h-2zM38 8h2v2h-2zM42 8h4v2h-4zM60 8h2v2h-2zM74 8h2v2h-2zM2 10h2v2h-2zM10 10h4v2h-4zM18 10h6v2h-6zM26 10h2v2h-2zM30 10h2v2h-2zM34 10h4v2h-4zM48 10h2v2h-2zM54 10h2v2h-2zM58 10h2v2h-2zM66 10h4v2h-4zM76 10h2v2h-2zM24 12h2v2h-2zM42 12h2v2h-2zM46 12h4v2h-4zM64 12h2v2h-2zM76 12h2v2h-2zM0 14h2v2h-2zM6 14h4v2h-4zM14 14h2v2h-2zM18 14h2v2h-2zM32 14h2v2h-2zM40 14h2v2h-2zM48 14h2v2h-2zM52 14h6v2h-6zM64 14h4v2h-4zM70 14h2v2h-2zM8 16h4v2h-4zM14 16h2v2h-2zM18 16h2v2h-2zM22 16h6v2h-6zM44 16h2v2h-2zM62 16h4v2h-4zM70 16h2v2h-2zM2 18h2v2h-2zM8 18h6v2h-6zM16 18h2v2h-2zM20 18h2v2h-2zM28 18h2v2h-2zM38 18h2v2h-2zM66 18h2v2h-2zM74 18h2v2h-2zM6 20h6v2h-6zM14 20h2v2h-2zM24 20h2v2h-2zM28 20h8v2h-8zM38 20h4v2h-4zM46 20h2v2h-2zM60 20h2v2h-2zM76 20h2v2h-2zM6 22h2v2h-2zM22 22h2v2h-2zM26 22h6v2h-6zM34 22h2v2h-2zM38 22h2v2h-2zM42 22h2v2h-2zM50 22h4v2h-4zM58 22h4v2h-4zM74 22h2v2h-2zM8 24h2v2h-2zM14 24h4v2h-4zM22 24h2v2h-2zM30 24h2v2h-2zM34 24h6v2h-6zM50 24h2v2h-2zM64 24h2v2h-2zM72 24h2v2h-2zM2 26h2v2h-2zM8 26h2v2h-2zM22 26h2v2h-2zM26 26h2v2h-2zM38 26h2v2h-2zM42 26h2v2h-2zM48 26h4v2h-4zM66 26h2v2h-2zM76 26h2v2h-2zM2 28h4v2h-4zM12 28h4v2h-4zM38 28h2v2h-2zM54 28h2v2h-2zM60 28h2v2h-2zM68 28h2v2h-2zM74 28h2v2h-2zM78 28h2v2h-2zM2 30h2v2h-2zM10 30h2v2h-2zM22 30h2v2h-2zM28 30h2v2h-2zM36 30h2v2h-2zM42 30h2v2h-2zM64 30h2v2h-2zM72 30h2v2h-2zM76 30h2v2h-2zM10 32h2v2h-2zM14 32h2v2h-2zM18 32h2v2h-2zM28 32h2v2h-2zM36 32h2v2h-2zM52 32h2v2h-2zM62 32h4v2h-4zM78 32h2v2h-2zM6 34h6v2h-6zM18 34h2v2h-2zM32 34h2v2h-2zM44 34h2v2h-2zM52 34h2v2h-2zM56 34h2v2h-2zM64 34h8v2h-8zM8 36h2v2h-2zM18 36h6v2h-6zM40 36h2v2h-2zM46 36h4v2h-4zM60 36h2v2h-2zM64 36h4v2h-4zM72 36h2v2h-2zM0 38h2v2h-2zM14 38h2v2h-2zM20 38h2v2h-2zM28 38h2v2h-2zM32 38h6v2h-6zM42 38h2v2h-2zM46 38h2v2h-2zM56 38h2v2h-2zM62 38h2v2h-2zM74 38h2v2h-2zM0 40h2v2h-2zM20 40h2v2h-2zM24 40h2v2h-2zM32 40h6v2h-6zM40 40h2v2h-2zM46 40h4v2h-4zM54 40h2v2h-2zM64 40h4v2h-4zM72 40h2v2h-2zM78 40h2v2h-2zM0 42h2v2h-2zM4 42h2v2h-2zM24 42h2v2h-2zM30 42h2v2h-2zM36 42h2v2h-2zM42 42h4v2h-4zM48 42h2v2h-2zM56 42h2v2h-2zM60 42h4v2h-4zM70 42h6v2h-6zM78 42h2v2h-2zM0 44h2v2h-2zM8 44h6v2h-6zM24 44h2v2h-2zM30 44h2v2h-2zM56 44h2v2h-2zM72 44h2v2h-2zM76 44h2v2h-2zM8 46h2v2h-2zM12 46h6v2h-6zM20 46h2v2h-2zM24 46h2v2h-2zM32 46h4v2h-4zM38 46h8v2h-8zM48 46h2v2h-2zM54 46h2v2h-2zM70 46h8v2h-8zM8 48h4v2h-4zM18 48h2v2h-2zM22 48h4v2h-4zM30 48h2v2h-2zM36 48h2v2h-2zM40 48h4v2h-4zM50 48h2v2h-2zM72 48h2v2h-2zM0 50h2v2h-2zM10 50h2v2h-2zM14 50h2v2h-2zM26 50h2v2h-2zM30 50h2v2h-2zM36 50h2v2h-2zM42 50h8v2h-8zM54 50h2v2h-2zM62 50h4v2h-4zM68 50h2v2h-2zM2 52h2v2h-2zM8 52h2v2h-2zM18 52h4v2h-4zM30 52h4v2h-4zM46 52h2v2h-2zM58 52h2v2h-2zM66 52h4v2h-4zM72 52h2v2h-2zM8 54h2v2h-2zM54 54h2v2h-2zM62 54h2v2h-2zM68 54h2v2h-2zM76 54h4v2h-4zM4 56h6v2h-6zM12 56h4v2h-4zM18 56h2v2h-2zM24 56h2v2h-2zM30 56h2v2h-2zM36 56h4v2h-4zM46 56h10v2h-10zM60 56h6v2h-6zM74 56h2v2h-2zM78 56h2v2h-2zM8 58h2v2h-2zM12 58h2v2h-2zM18 58h2v2h-2zM24 58h2v2h-2zM32 58h2v2h-2zM42 58h2v2h-2zM46 58h2v2h-2zM54 58h2v2h-2zM58 58h2v2h-2zM36 60h10v2h-10zM50 60h2v2h-2zM60 60h2v2h-2zM72 60h2v2h-2zM78 60h2v2h-2zM0 62h2v2h-2zM14 62h2v2h-2zM20 62h2v2h-2zM30 62h4v2h-4zM44 62h6v2h-6zM58 62h2v2h-2zM64 62h2v2h-2zM68 62h4v2h-4zM74 62h2v2h-2zM78 62h2v2h-2zM6 64h2v2h-2zM10 64h2v2h-2zM26 64h2v2h-2zM30 64h2v2h-2zM48 64h2v2h-2zM52 64h8v2h-8zM66 64h2v2h-2zM72 64h2v2h-2zM8 66h6v2h-6zM16 66h2v2h-2zM38 66h4v2h-4zM54 66h2v2h-2zM70 66h2v2h-2zM78 66h2v2h-2zM2 68h2v2h-2zM14 68h2v2h-2zM26 68h8v2h-8zM36 68h2v2h-2zM42 68h2v2h-2zM54 68h4v2h-4zM70 68h2v2h-2zM0 70h2v2h-2zM6 70h2v2h-2zM10 70h4v2h-4zM18 70h2v2h-2zM28 70h4v2h-4zM34 70h4v2h-4zM42 70h4v2h-4zM56 70h2v2h-2zM66 70h4v2h-4zM76 70h2v2h-2zM2 72h2v2h-2zM20 72h2v2h-2zM26 72h2v2h-2zM30 72h2v2h-2zM36 72h2v2h-2zM44 72h4v2h-4zM50 72h4v2h-4zM56 72h10v2h-10zM68 72h4v2h-4zM76 72h2v2h-2zM0 74h4v2h-4zM12 74h4v2h-4zM30 74h6v2h-6zM38 74h2v2h-2zM54 74h2v2h-2zM58 74h2v2h-2zM62 74h2v2h-2zM68 74h2v2h-2zM0 76h2v2h-2zM4 76h2v2h-2zM8 76h2v2h-2zM14 76h2v2h-2zM28 76h6v2h-6zM38 76h2v2h-2zM54 76h2v2h-2zM72 76h6v2h-6zM8 78h2v2h-2zM12 78h2v2h-2zM18 78h2v2h-2zM22 78h4v2h-4zM32 78h2v2h-2zM38 78h2v2h-2zM46 78h6v2h-6zM54 78h2v2h-2zM62 78h4v2h-4zM68 78h2v2h-2zM78 78h2v2h-2z" fill="#ffffff"/></pattern>
<pattern id="pffffff6" patternUnits="userSpaceOnUse" width="80" height="80"><path d="M0 0h2v2h-2zM4 0h6v2h-6zM12 0h6v2h-6zM20 0h2v2h-2zM24 0h2v2h-2zM28 0h2v2h-2zM32 0h4v2h-4zM42 0h2v2h-2zM46 0h6v2h-6zM58 0h2v2h-2zM62 0h6v2h-6zM76 0h4v2h-4zM0 2h6v2h-6zM8 2h4v2h-4zM22 2h8v2h-8zM40 2h4v2h-4zM46 2h6v2h-6zM54 2h8v2h-8zM68 2h2v2h-2zM72 2h4v2h-4zM12 4h2v2h-2zM20 4h6v2h-6zM28 4h2v2h-2zM32 4h2v2h-2zM38 4h2v2h-2zM42 4h2v2h-2zM48 4h4v2h-4zM56 4h4v2h-4zM78 4h2v2h-2zM0 6h10v2h-10zM12 6h4v2h-4zM18 6h8v2h-8zM32 6h2v2h-2zM36 6h2v2h-2zM40 6h4v2h-4zM50 6h2v2h-2zM56 6h4v2h-4zM66 6h6v2h-6zM74 6h2v2h-2zM78 6h2v2h-2zM8 8h2v2h-2zM12 8h2v2h-2zM16 8h4v2h-4zM26 8h2v2h-2zM30 8h2v2h-2zM34 8h2v2h-2zM38 8h6v2h-6zM54 8h2v2h-2zM58 8h4v2h-4zM74 8h2v2h-2zM0 10h2v2h-2zM6 10h2v2h-2zM12 10h2v2h-2zM20 10h4v2h-4zM28 10h4v2h-4zM34 10h4v2h-4zM44 10h4v2h-4zM52 10h2v2h-2zM56 10h8v2h-8zM68 10h2v2h-2zM72 10h4v2h-4zM0 12h2v2h-2zM4 12h2v2h-2zM12 12h2v2h-2zM26 12h8v2h-8zM38 12h4v2h-4zM48 12h2v2h-2zM54 12h2v2h-2zM58 12h2v2h-2zM62 12h2v2h-2zM68 12h2v2h-2zM72 12h2v2h-2zM78 12h2v2h-2zM0 14h4v2h-4zM12 14h8v2h-8zM22 14h4v2h-4zM44 14h2v2h-2zM48 14h2v2h-2zM54 14h2v2h-2zM62 14h2v2h-2zM68 14h2v2h-2zM76 14h2v2h-2zM2 16h2v2h-2zM6 16h2v2h-2zM16 16h6v2h-6zM24 16h2v2h-2zM30 16h2v2h-2zM34 16h4v2h-4zM44 16h6v2h-6zM52 16h6v2h-6zM60 16h2v2h-2zM70 16h4v2h-4zM78 16h2v2h-2zM2 18h2v2h-2zM10 18h2v2h-2zM14 18h2v2h-2zM18 18h2v2h-2zM24 18h2v2h-2zM50 18h2v2h-2zM60 18h2v2h-2zM2 20h2v2h-2zM6 20h8v2h-8zM18 20h2v2h-2zM30 20h2v2h-2zM34 20h4v2h-4zM40 20h8v2h-8zM56 20h2v2h-2zM64 20h4v2h-4zM70 20h2v2h-2zM78 20h2v2h-2zM6 22h2v2h-2zM10 22h4v2h-4zM18 22h2v2h-2zM24 22h6v2h-6zM38 22h2v2h-2zM42 22h2v2h-2zM46 22h2v2h-2zM54 22h4v2h-4zM64 22h4v2h-4zM70 22h6v2h-6zM4 24h2v2h-2zM10 24h2v2h-2zM14 24h2v2h-2zM18 24h2v2h-2zM24 24h2v2h-2zM30 24h2v2h-2zM38 24h4v2h-4zM44 24h4v2h-4zM52 24h4v2h-4zM58 24h4v2h-4zM68 24h2v2h-2zM72 24h2v2h-2zM76 24h4v2h-4zM4 26h2v2h-2zM12 26h4v2h-4zM20 26h10v2h-10zM36 26h2v2h-2zM40 26h2v2h-2zM48 26h4v2h-4zM56 26h2v2h-2zM66 26h2v2h-2zM70 26h4v2h-4zM0 28h2v2h-2zM12 28h2v2h-2zM20 28h6v2h-6zM28 28h4v2h-4zM48 28h4v2h-4zM56 28h4v2h-4zM66 28h4v2h-4zM72 28h2v2h-2zM10 30h2v2h-2zM16 30h6v2h-6zM26 30h2v2h-2zM38 30h4v2h-4zM54 30h2v2h-2zM60 30h2v2h-2zM64 30h6v2h-6zM72 30h8v2h-8zM4 32h2v2h-2zM8 32h2v2h-2zM14 32h6v2h-6zM24 32h14v2h-14zM42 32h2v2h-2zM50 32h6v2h-6zM60 32h4v2h-4zM68 32h2v2h-2zM72 32h2v2h-2zM76 32h2v2h-2zM4 34h4v2h-4zM10 34h2v2h-2zM20 34h4v2h-4zM26 34h4v2h-4zM32 34h2v2h-2zM42 34h2v2h-2zM50 34h2v2h-2zM62 34h2v2h-2zM66 34h2v2h-2zM70 34h2v2h-2zM76 34h4v2h-4zM8 36h2v2h-2zM14 36h8v2h-8zM26 36h2v2h-2zM30 36h2v2h-2zM36 36h2v2h-2zM42 36h2v2h-2zM50 36h4v2h-4zM56 36h2v2h-2zM70 36h2v2h-2zM76 36h4v2h-4zM0 38h4v2h-4zM6 38h2v2h-2zM14 38h4v2h-4zM20 38h2v2h-2zM24 38h4v2h-4zM30 38h8v2h-8zM40 38h2v2h-2zM48 38h2v2h-2zM56 38h4v2h-4zM62 38h6v2h-6zM74 38h6v2h-6zM4 40h4v2h-4zM14 40h2v2h-2zM18 40h2v2h-2zM24 40h2v2h-2zM34 40h2v2h-2zM38 40h2v2h-2zM42 40h2v2h-2zM48 40h4v2h-4zM54 40h2v2h-2zM60 40h2v2h-2zM68 40h4v2h-4zM78 40h2v2h-2zM8 42h2v2h-2zM12 42h8v2h-8zM26 42h2v2h-2zM38 42h2v2h-2zM44 42h2v2h-2zM50 42h2v2h-2zM54 42h2v2h-2zM62 42h10v2h-10zM74 42h2v2h-2zM78 42h2v2h-2zM4 44h4v2h-4zM12 44h2v2h-2zM20 44h10v2h-10zM32 44h8v2h-8zM44 44h2v2h-2zM52 44h2v2h-2zM60 44h2v2h-2zM66 44h2v2h-2zM70 44h2v2h-2zM76 44h4v2h-4zM0 46h4v2h-4zM24 46h2v2h-2zM28 46h2v2h-2zM34 46h6v2h-6zM42 46h2v2h-2zM48 46h6v2h-6zM60 46h2v2h-2zM70 46h4v2h-4zM8 48h2v2h-2zM12 48h2v2h-2zM18 48h4v2h-4zM24 48h2v2h-2zM30 48h4v2h-4zM36 48h10v2h-10zM52 48h2v2h-2zM56 48h2v2h-2zM78 48h2v2h-2zM2 50h2v2h-2zM10 50h2v2h-2zM16 50h2v2h-2zM22 50h4v2h-4zM32 50h10v2h-10zM44 50h4v2h-4zM52 50h2v2h-2zM66 50h2v2h-2zM70 50h2v2h-2zM4 52h4v2h-4zM12 52h2v2h-2zM16 52h2v2h-2zM30 52h8v2h-8zM40 52h2v2h-2zM50 52h10v2h-10zM64 52h4v2h-4zM76 52h2v2h-2zM2 54h4v2h-4zM8 54h2v2h-2zM20 54h2v2h-2zM30 54h2v2h-2zM34 54h2v2h-2zM38 54h2v2h-2zM42 54h6v2h-6zM56 54h2v2h-2zM66 54h2v2h-2zM70 54h2v2h-2zM78 54h2v2h-2zM2 56h2v2h-2zM6 56h2v2h-2zM14 56h2v2h-2zM18 56h2v2h-2zM22 56h4v2h-4zM38 56h6v2h-6zM46 56h4v2h-4zM52 56h2v2h-2zM58 56h10v2h-10zM74 56h4v2h-4zM4 58h4v2h-4zM10 58h4v2h-4zM30 58h2v2h-2zM42 58h2v2h-2zM46 58h2v2h-2zM50 58h2v2h-2zM58 58h2v2h-2zM74 58h4v2h-4zM2 60h4v2h-4zM8 60h2v2h-2zM12 60h4v2h-4zM22 60h2v2h-2zM26 60h2v2h-2zM30 60h2v2h-2zM34 60h2v2h-2zM40 60h2v2h-2zM46 60h4v2h-4zM60 60h2v2h-2zM64 60h4v2h-4zM74 60h2v2h-2zM4 62h4v2h-4zM12 62h2v2h-2zM16 62h2v2h-2zM28 62h4v2h-4zM34 62h2v2h-2zM38 62h2v2h-2zM42 62h4v2h-4zM50 62h2v2h-2zM60 62h2v2h-2zM64 62h2v2h-2zM0 64h6v2h-6zM16 64h4v2h-4zM22 64h2v2h-2zM30 64h6v2h-6zM48 64h2v2h-2zM54 64h2v2h-2zM58 64h2v2h-2zM62 64h2v2h-2zM74 64h6v2h-6zM0 66h2v2h-2zM6 66h2v2h-2zM10 66h2v2h-2zM24 66h2v2h-2zM40 66h2v2h-2zM52 66h2v2h-2zM62 66h8v2h-8zM76 66h2v2h-2zM6 68h2v2h-2zM10 68h2v2h-2zM14 68h4v2h-4zM48 68h2v2h-2zM54 68h4v2h-4zM64 68h2v2h-2zM70 68h6v2h-6zM78 68h2v2h-2zM12 70h2v2h-2zM16 70h2v2h-2zM36 70h2v2h-2zM42 70h4v2h-4zM50 70h4v2h-4zM60 70h4v2h-4zM66 70h2v2h-2zM72 70h2v2h-2zM76 70h4v2h-4zM0 72h2v2h-2zM6 72h4v2h-4zM12 72h2v2h-2zM16 72h2v2h-2zM20 72h2v2h-2zM26 72h8v2h-8zM46 72h2v2h-2zM52 72h6v2h-6zM60 72h6v2h-6zM70 72h4v2h-4zM76 72h2v2h-2zM2 74h4v2h-4zM8 74h4v2h-4zM26 74h2v2h-2zM40 74h2v2h-2zM46 74h4v2h-4zM52 74h2v2h-2zM58 74h2v2h-2zM62 74h2v2h-2zM72 74h6v2h-6zM0 76h4v2h-4zM12 76h2v2h-2zM24 76h6v2h-6zM34 76h4v2h-4zM44 76h4v2h-4zM50 76h2v2h-2zM54 76h12v2h-12zM68 76h2v2h-2zM74 76h2v2h-2zM4 78h2v2h-2zM12 78h2v2h-2zM20 78h2v2h-2zM26 78h2v2h-2zM30 78h2v2h-2zM40 78h2v2h-2zM56 78h6v2h-6zM70 78h2v2h-2z" fill="#ffffff"/></pattern>
<pattern id="pffffff7" patternUnits="userSpaceOnUse" width="80" height="80"><path d="M4 0h6v2h-6zM12 0h8v2h-8zM22 0h2v2h-2zM28 0h2v2h-2zM32 0h2v2h-2zM40 0h6v2h-6zM48 0h2v2h-2zM52 0h2v2h-2zM56 0h2v2h-2zM60 0h8v2h-8zM6 2h2v2h-2zM14 2h4v2h-4zM20 2h2v2h-2zM24 2h2v2h-2zM28 2h2v2h-2zM44 2h4v2h-4zM50 2h6v2h-6zM60 2h2v2h-2zM64 2h4v2h-4zM70 2h2v2h-2zM76 2h4v2h-4zM2 4h4v2h-4zM12 4h2v2h-2zM16 4h2v2h-2zM22 4h2v2h-2zM30 4h2v2h-2zM34 4h4v2h-4zM40 4h6v2h-6zM52 4h2v2h-2zM56 4h4v2h-4zM64 4h6v2h-6zM74 4h4v2h-4zM10 6h4v2h-4zM18 6h8v2h-8zM30 6h2v2h-2zM34 6h2v2h-2zM38 6h6v2h-6zM52 6h4v2h-4zM58 6h2v2h-2zM62 6h12v2h-12zM76 6h2v2h-2zM4 8h4v2h-4zM14 8h8v2h-8zM26 8h2v2h-2zM38 8h2v2h-2zM46 8h2v2h-2zM50 8h2v2h-2zM54 8h8v2h-8zM64 8h6v2h-6zM76 8h4v2h-4zM0 10h6v2h-6zM8 10h6v2h-6zM18 10h2v2h-2zM22 10h4v2h-4zM28 10h2v2h-2zM32 10h6v2h-6zM42 10h2v2h-2zM46 10h2v2h-2zM50 10h2v2h-2zM56 10h2v2h-2zM62 10h2v2h-2zM68 10h2v2h-2zM72 10h6v2h-6zM4 12h4v2h-4zM10 12h6v2h-6zM20 12h4v2h-4zM28 12h2v2h-2zM38 12h2v2h-2zM42 12h4v2h-4zM48 12h2v2h-2zM54 12h2v2h-2zM58 12h4v2h-4zM68 12h2v2h-2zM72 12h2v2h-2zM78 12h2v2h-2zM0 14h6v2h-6zM8 14h2v2h-2zM16 14h4v2h-4zM22 14h4v2h-4zM28 14h6v2h-6zM38 14h8v2h-8zM52 14h2v2h-2zM56 14h4v2h-4zM64 14h4v2h-4zM70 14h4v2h-4zM76 14h4v2h-4zM0 16h4v2h-4zM6 16h2v2h-2zM10 16h6v2h-6zM18 16h2v2h-2zM24 16h4v2h-4zM34 16h2v2h-2zM38 16h6v2h-6zM46 16h2v2h-2zM50 16h8v2h-8zM60 16h2v2h-2zM66 16h2v2h-2zM70 16h2v2h-2zM76 16h2v2h-2zM0 18h4v2h-4zM6 18h2v2h-2zM10 18h2v2h-2zM14 18h4v2h-4zM20 18h4v2h-4zM26 18h4v2h-4zM36 18h14v2h-14zM52 18h2v2h-2zM56 18h4v2h-4zM68 18h2v2h-2zM72 18h2v2h-2zM2 20h2v2h-2zM6 20h2v2h-2zM14 20h6v2h-6zM24 20h2v2h-2zM28 20h2v2h-2zM36 20h6v2h-6zM48 20h2v2h-2zM54 20h2v2h-2zM62 20h14v2h-14zM4 22h6v2h-6zM14 22h4v2h-4zM20 22h4v2h-4zM26 22h4v2h-4zM34 22h6v2h-6zM42 22h6v2h-6zM52 22h2v2h-2zM58 22h2v2h-2zM78 22h2v2h-2zM6 24h2v2h-2zM12 24h8v2h-8zM26 24h6v2h-6zM36 24h2v2h-2zM40 24h4v2h-4zM52 24h2v2h-2zM60 24h4v2h-4zM68 24h6v2h-6zM10 26h4v2h-4zM18 26h2v2h-2zM28 26h2v2h-2zM34 26h2v2h-2zM40 26h2v2h-2zM44 26h4v2h-4zM50 26h6v2h-6zM58 26h2v2h-2zM64 26h6v2h-6zM74 26h6v2h-6zM0 28h8v2h-8zM10 28h2v2h-2zM14 28h2v2h-2zM18 28h4v2h-4zM30 28h4v2h-4zM36 28h6v2h-6zM44 28h2v2h-2zM50 28h4v2h-4zM66 28h4v2h-4zM72 28h4v2h-4zM78 28h2v2h-2zM4 30h2v2h-2zM12 30h2v2h-2zM18 30h2v2h-2zM22 30h6v2h-6zM34 30h6v2h-6zM42 30h2v2h-2zM46 30h2v2h-2zM52 30h4v2h-4zM60 30h4v2h-4zM66 30h2v2h-2zM70 30h6v2h-6zM78 30h2v2h-2zM0 32h2v2h-2zM4 32h10v2h-10zM16 32h6v2h-6zM28 32h2v2h-2zM34 32h2v2h-2zM38 32h2v2h-2zM56 32h6v2h-6zM64 32h2v2h-2zM68 32h2v2h-2zM72 32h2v2h-2zM2 34h2v2h-2zM6 34h2v2h-2zM12 34h2v2h-2zM18 34h4v2h-4zM30 34h4v2h-4zM36 34h2v2h-2zM40 34h2v2h-2zM46 34h6v2h-6zM56 34h2v2h-2zM60 34h4v2h-4zM68 34h8v2h-8zM2 36h2v2h-2zM6 36h2v2h-2zM10 36h4v2h-4zM18 36h2v2h-2zM22 36h2v2h-2zM28 36h2v2h-2zM32 36h2v2h-2zM40 36h6v2h-6zM50 36h2v2h-2zM54 36h4v2h-4zM62 36h6v2h-6zM76 36h4v2h-4zM0 38h2v2h-2zM4 38h2v2h-2zM10 38h6v2h-6zM20 38h2v2h-2zM24 38h4v2h-4zM32 38h4v2h-4zM40 38h4v2h-4zM54 38h4v2h-4zM60 38h2v2h-2zM64 38h2v2h-2zM70 38h2v2h-2zM76 38h4v2h-4zM0 40h2v2h-2zM6 40h4v2h-4zM14 40h2v2h-2zM18 40h4v2h-4zM24 40h4v2h-4zM36 40h12v2h-12zM50 40h6v2h-6zM58 40h8v2h-8zM68 40h6v2h-6zM76 40h2v2h-2zM0 42h12v2h-12zM16 42h2v2h-2zM20 42h10v2h-10zM34 42h10v2h-10zM56 42h4v2h-4zM66 42h12v2h-12zM0 44h2v2h-2zM12 44h2v2h-2zM18 44h2v2h-2zM22 44h6v2h-6zM32 44h2v2h-2zM44 44h2v2h-2zM48 44h4v2h-4zM54 44h4v2h-4zM62 44h2v2h-2zM68 44h4v2h-4zM78 44h2v2h-2zM2 46h2v2h-2zM6 46h2v2h-2zM10 46h2v2h-2zM14 46h4v2h-4zM20 46h2v2h-2zM24 46h8v2h-8zM40 46h2v2h-2zM50 46h2v2h-2zM54 46h4v2h-4zM62 46h4v2h-4zM74 46h2v2h-2zM78 46h2v2h-2zM4 48h2v2h-2zM10 48h4v2h-4zM20 48h2v2h-2zM26 48h2v2h-2zM32 48h6v2h-6zM48 48h2v2h-2zM56 48h2v2h-2zM60 48h2v2h-2zM68 48h2v2h-2zM72 48h2v2h-2zM76 48h4v2h-4zM0 50h4v2h-4zM10 50h4v2h-4zM16 50h4v2h-4zM22 50h4v2h-4zM28 50h2v2h-2zM32 50h6v2h-6zM44 50h2v2h-2zM52 50h2v2h-2zM58 50h2v2h-2zM62 50h2v2h-2zM66 50h4v2h-4zM72 50h2v2h-2zM76 50h4v2h-4zM4 52h4v2h-4zM14 52h2v2h-2zM18 52h6v2h-6zM28 52h2v2h-2zM36 52h2v2h-2zM40 52h2v2h-2zM46 52h6v2h-6zM56 52h2v2h-2zM60 52h2v2h-2zM64 52h12v2h-12zM4 54h4v2h-4zM10 54h6v2h-6zM20 54h2v2h-2zM34 54h2v2h-2zM38 54h4v2h-4zM44 54h2v2h-2zM48 54h6v2h-6zM58 54h6v2h-6zM66 54h2v2h-2zM70 54h2v2h-2zM0 56h2v2h-2zM6 56h6v2h-6zM14 56h4v2h-4zM20 56h4v2h-4zM26 56h2v2h-2zM32 56h4v2h-4zM40 56h4v2h-4zM46 56h2v2h-2zM54 56h2v2h-2zM62 56h2v2h-2zM74 56h2v2h-2zM78 56h2v2h-2zM0 58h2v2h-2zM4 58h2v2h-2zM16 58h2v2h-2zM20 58h2v2h-2zM24 58h4v2h-4zM30 58h8v2h-8zM42 58h2v2h-2zM46 58h6v2h-6zM54 58h2v2h-2zM60 58h2v2h-2zM70 58h2v2h-2zM74 58h6v2h-6zM0 60h2v2h-2zM6 60h2v2h-2zM10 60h8v2h-8zM20 60h12v2h-12zM34 60h4v2h-4zM48 60h2v2h-2zM52 60h4v2h-4zM60 60h2v2h-2zM70 60h10v2h-10zM0 62h2v2h-2zM4 62h2v2h-2zM14 62h6v2h-6zM22 62h4v2h-4zM30 62h2v2h-2zM34 62h6v2h-6zM46 62h6v2h-6zM54 62h8v2h-8zM66 62h4v2h-4zM72 62h2v2h-2zM76 62h4v2h-4zM0 64h2v2h-2zM4 64h6v2h-6zM16 64h2v2h-2zM20 64h2v2h-2zM24 64h2v2h-2zM32 64h2v2h-2zM36 64h2v2h-2zM40 64h2v2h-2zM62 64h2v2h-2zM66 64h2v2h-2zM70 64h2v2h-2zM74 64h4v2h-4zM0 66h6v2h-6zM8 66h6v2h-6zM18 66h2v2h-2zM22 66h10v2h-10zM36 66h4v2h-4zM46 66h6v2h-6zM54 66h2v2h-2zM58 66h4v2h-4zM64 66h4v2h-4zM70 66h2v2h-2zM76 66h4v2h-4zM4 68h2v2h-2zM8 68h4v2h-4zM14 68h2v2h-2zM20 68h2v2h-2zM24 68h2v2h-2zM30 68h2v2h-2zM34 68h6v2h-6zM42 68h6v2h-6zM56 68h2v2h-2zM68 68h10v2h-10zM2 70h4v2h-4zM10 70h2v2h-2zM16 70h2v2h-2zM20 70h2v2h-2zM24 70h10v2h-10zM38 70h4v2h-4zM44 70h4v2h-4zM50 70h4v2h-4zM58 70h8v2h-8zM74 70h4v2h-4zM2 72h4v2h-4zM8 72h2v2h-2zM12 72h2v2h-2zM18 72h2v2h-2zM24 72h4v2h-4zM36 72h2v2h-2zM40 72h4v2h-4zM46 72h2v2h-2zM50 72h2v2h-2zM54 72h4v2h-4zM60 72h8v2h-8zM70 72h2v2h-2zM74 72h6v2h-6zM4 74h2v2h-2zM10 74h2v2h-2zM14 74h4v2h-4zM20 74h2v2h-2zM28 74h2v2h-2zM34 74h8v2h-8zM44 74h2v2h-2zM50 74h4v2h-4zM56 74h2v2h-2zM62 74h4v2h-4zM68 74h6v2h-6zM76 74h2v2h-2zM2 76h6v2h-6zM14 76h4v2h-4zM24 76h2v2h-2zM38 76h4v2h-4zM44 76h2v2h-2zM50 76h6v2h-6zM62 76h4v2h-4zM68 76h6v2h-6zM76 76h2v2h-2zM0 78h2v2h-2zM4 78h4v2h-4zM14 78h2v2h-2zM18 78h14v2h-14zM34 78h4v2h-4zM40 78h2v2h-2zM44 78h10v2h-10zM56 78h6v2h-6zM70 78h2v2h-2zM76 78h4v2h-4z" fill="#ffffff"/></pattern>
<pattern id="pffffff8" patternUnits="userSpaceOnUse" width="80" height="80"><path d="M2 0h14v2h-14zM18 0h22v2h-22zM44 0h2v2h-2zM48 0h6v2h-6zM64 0h8v2h-8zM74 0h4v2h-4zM0 2h4v2h-4zM8 2h12v2h-12zM22 2h14v2h-14zM40 2h6v2h-6zM48 2h4v2h-4zM62 2h4v2h-4zM68 2h2v2h-2zM72 2h8v2h-8zM0 4h4v2h-4zM6 4h2v2h-2zM14 4h4v2h-4zM20 4h4v2h-4zM26 4h2v2h-2zM30 4h12v2h-12zM48 4h6v2h-6zM58 4h4v2h-4zM66 4h6v2h-6zM74 4h2v2h-2zM0 6h2v2h-2zM14 6h6v2h-6zM22 6h2v2h-2zM28 6h2v2h-2zM36 6h2v2h-2zM40 6h6v2h-6zM48 6h6v2h-6zM56 6h8v2h-8zM66 6h2v2h-2zM70 6h2v2h-2zM76 6h4v2h-4zM6 8h2v2h-2zM10 8h2v2h-2zM16 8h2v2h-2zM20 8h22v2h-22zM44 8h6v2h-6zM52 8h2v2h-2zM58 8h2v2h-2zM68 8h2v2h-2zM72 8h6v2h-6zM0 10h8v2h-8zM12 10h4v2h-4zM22 10h6v2h-6zM36 10h8v2h-8zM56 10h2v2h-2zM60 10h6v2h-6zM68 10h4v2h-4zM76 10h4v2h-4zM0 12h4v2h-4zM6 12h4v2h-4zM12 12h2v2h-2zM16 12h2v2h-2zM22 12h6v2h-6zM30 12h2v2h-2zM34 12h2v2h-2zM40 12h8v2h-8zM50 12h2v2h-2zM56 12h8v2h-8zM66 12h6v2h-6zM74 12h6v2h-6zM2 14h4v2h-4zM12 14h2v2h-2zM16 14h10v2h-10zM32 14h6v2h-6zM40 14h4v2h-4zM46 14h2v2h-2zM50 14h6v2h-6zM62 14h4v2h-4zM68 14h2v2h-2zM74 14h6v2h-6zM10 16h2v2h-2zM14 16h10v2h-10zM28 16h2v2h-2zM36 16h8v2h-8zM48 16h6v2h-6zM62 16h10v2h-10zM74 16h6v2h-6zM0 18h8v2h-8zM10 18h2v2h-2zM16 18h2v2h-2zM22 18h4v2h-4zM30 18h12v2h-12zM44 18h4v2h-4zM50 18h2v2h-2zM54 18h12v2h-12zM68 18h2v2h-2zM74 18h2v2h-2zM2 20h8v2h-8zM12 20h4v2h-4zM20 20h6v2h-6zM28 20h4v2h-4zM36 20h2v2h-2zM40 20h2v2h-2zM44 20h2v2h-2zM50 20h4v2h-4zM58 20h2v2h-2zM62 20h6v2h-6zM72 20h8v2h-8zM2 22h12v2h-12zM18 22h4v2h-4zM26 22h2v2h-2zM30 22h2v2h-2zM40 22h2v2h-2zM46 22h6v2h-6zM58 22h6v2h-6zM70 22h2v2h-2zM74 22h6v2h-6zM0 24h24v2h-24zM26 24h10v2h-10zM38 24h2v2h-2zM44 24h4v2h-4zM50 24h4v2h-4zM58 24h2v2h-2zM62 24h4v2h-4zM70 24h8v2h-8zM2 26h8v2h-8zM14 26h8v2h-8zM26 26h4v2h-4zM32 26h2v2h-2zM36 26h4v2h-4zM42 26h6v2h-6zM52 26h2v2h-2zM64 26h2v2h-2zM68 26h4v2h-4zM74 26h6v2h-6zM2 28h6v2h-6zM10 28h2v2h-2zM14 28h8v2h-8zM28 28h8v2h-8zM38 28h2v2h-2zM42 28h4v2h-4zM48 28h2v2h-2zM54 28h6v2h-6zM62 28h2v2h-2zM66 28h2v2h-2zM70 28h2v2h-2zM76 28h4v2h-4zM2 30h2v2h-2zM8 30h10v2h-10zM24 30h4v2h-4zM30 30h2v2h-2zM34 30h2v2h-2zM42 30h4v2h-4zM50 30h2v2h-2zM54 30h2v2h-2zM58 30h10v2h-10zM70 30h6v2h-6zM78 30h2v2h-2zM2 32h2v2h-2zM8 32h8v2h-8zM20 32h4v2h-4zM26 32h8v2h-8zM36 32h6v2h-6zM46 32h2v2h-2zM50 32h2v2h-2zM54 32h8v2h-8zM66 32h2v2h-2zM74 32h6v2h-6zM0 34h6v2h-6zM10 34h6v2h-6zM18 34h4v2h-4zM26 34h10v2h-10zM38 34h2v2h-2zM56 34h4v2h-4zM68 34h6v2h-6zM76 34h2v2h-2zM2 36h6v2h-6zM12 36h10v2h-10zM24 36h4v2h-4zM30 36h2v2h-2zM36 36h2v2h-2zM40 36h8v2h-8zM50 36h2v2h-2zM66 36h4v2h-4zM72 36h2v2h-2zM78 36h2v2h-2zM2 38h2v2h-2zM6 38h4v2h-4zM14 38h2v2h-2zM22 38h6v2h-6zM30 38h2v2h-2zM38 38h4v2h-4zM48 38h10v2h-10zM60 38h4v2h-4zM66 38h6v2h-6zM74 38h2v2h-2zM78 38h2v2h-2zM2 40h4v2h-4zM10 40h2v2h-2zM16 40h16v2h-16zM34 40h2v2h-2zM38 40h4v2h-4zM48 40h4v2h-4zM54 40h4v2h-4zM64 40h4v2h-4zM70 40h8v2h-8zM0 42h4v2h-4zM10 42h2v2h-2zM14 42h8v2h-8zM26 42h6v2h-6zM34 42h4v2h-4zM40 42h2v2h-2zM46 42h6v2h-6zM54 42h8v2h-8zM64 42h16v2h-16zM0 44h6v2h-6zM8 44h2v2h-2zM12 44h4v2h-4zM26 44h2v2h-2zM34 44h4v2h-4zM46 44h2v2h-2zM50 44h2v2h-2zM54 44h2v2h-2zM58 44h2v2h-2zM62 44h2v2h-2zM70 44h2v2h-2zM74 44h4v2h-4zM0 46h2v2h-2zM4 46h4v2h-4zM10 46h14v2h-14zM28 46h6v2h-6zM46 46h12v2h-12zM60 46h4v2h-4zM66 46h4v2h-4zM76 46h4v2h-4zM0 48h2v2h-2zM8 48h4v2h-4zM16 48h2v2h-2zM20 48h2v2h-2zM26 48h4v2h-4zM32 48h8v2h-8zM44 48h6v2h-6zM52 48h6v2h-6zM60 48h4v2h-4zM66 48h14v2h-14zM0 50h4v2h-4zM8 50h18v2h-18zM30 50h4v2h-4zM36 50h4v2h-4zM48 50h4v2h-4zM56 50h8v2h-8zM66 50h2v2h-2zM70 50h10v2h-10zM0 52h2v2h-2zM4 52h8v2h-8zM14 52h2v2h-2zM20 52h10v2h-10zM34 52h2v2h-2zM40 52h16v2h-16zM62 52h2v2h-2zM68 52h10v2h-10zM0 54h4v2h-4zM6 54h2v2h-2zM14 54h4v2h-4zM22 54h4v2h-4zM28 54h12v2h-12zM44 54h2v2h-2zM48 54h2v2h-2zM52 54h4v2h-4zM58 54h8v2h-8zM68 54h2v2h-2zM72 54h6v2h-6zM0 56h14v2h-14zM18 56h2v2h-2zM22 56h2v2h-2zM26 56h2v2h-2zM30 56h2v2h-2zM34 56h2v2h-2zM38 56h8v2h-8zM50 56h2v2h-2zM54 56h6v2h-6zM64 56h2v2h-2zM70 56h4v2h-4zM76 56h2v2h-2zM4 58h18v2h-18zM28 58h8v2h-8zM42 58h4v2h-4zM50 58h14v2h-14zM70 58h6v2h-6zM0 60h4v2h-4zM12 60h10v2h-10zM24 60h8v2h-8zM34 60h2v2h-2zM42 60h2v2h-2zM46 60h12v2h-12zM64 60h10v2h-10zM76 60h4v2h-4zM0 62h6v2h-6zM10 62h2v2h-2zM14 62h4v2h-4zM22 62h2v2h-2zM26 62h4v2h-4zM32 62h4v2h-4zM38 62h2v2h-2zM42 62h2v2h-2zM46 62h2v2h-2zM50 62h8v2h-8zM60 62h2v2h-2zM64 62h16v2h-16zM2 64h2v2h-2zM6 64h2v2h-2zM10 64h2v2h-2zM16 64h4v2h-4zM22 64h8v2h-8zM32 64h2v2h-2zM36 64h8v2h-8zM46 64h2v2h-2zM50 64h2v2h-2zM54 64h2v2h-2zM58 64h4v2h-4zM64 64h4v2h-4zM74 64h2v2h-2zM0 66h2v2h-2zM6 66h4v2h-4zM14 66h4v2h-4zM20 66h6v2h-6zM30 66h4v2h-4zM44 66h6v2h-6zM54 66h2v2h-2zM62 66h4v2h-4zM70 66h2v2h-2zM78 66h2v2h-2zM0 68h4v2h-4zM6 68h2v2h-2zM10 68h4v2h-4zM16 68h4v2h-4zM26 68h10v2h-10zM38 68h12v2h-12zM54 68h2v2h-2zM58 68h2v2h-2zM64 68h4v2h-4zM70 68h6v2h-6zM78 68h2v2h-2zM4 70h6v2h-6zM12 70h2v2h-2zM18 70h6v2h-6zM28 70h2v2h-2zM32 70h2v2h-2zM36 70h8v2h-8zM46 70h8v2h-8zM56 70h4v2h-4zM64 70h6v2h-6zM74 70h6v2h-6zM0 72h6v2h-6zM8 72h2v2h-2zM12 72h6v2h-6zM20 72h6v2h-6zM28 72h10v2h-10zM46 72h4v2h-4zM52 72h6v2h-6zM60 72h12v2h-12zM74 72h6v2h-6zM2 74h2v2h-2zM6 74h2v2h-2zM12 74h2v2h-2zM22 74h6v2h-6zM32 74h6v2h-6zM42 74h2v2h-2zM46 74h4v2h-4zM52 74h4v2h-4zM68 74h12v2h-12zM6 76h4v2h-4zM14 76h2v2h-2zM22 76h2v2h-2zM26 76h14v2h-14zM50 76h8v2h-8zM60 76h10v2h-10zM72 76h2v2h-2zM76 76h2v2h-2zM2 78h4v2h-4zM12 78h16v2h-16zM30 78h4v2h-4zM36 78h4v2h-4zM42 78h2v2h-2zM46 78h4v2h-4zM52 78h2v2h-2zM56 78h6v2h-6zM64 78h14v2h-14z" fill="#ffffff"/></pattern><clipPath id="clip00"><rect x="0" y="0" width="433" height="433.5"/></clipPath><clipPath id="clip01"><rect x="0" y="0" width="433" height="433.5"/></clipPath><clipPath id="clip02"><rect x="0" y="0" width="433" height="433.5"/></clipPath><clipPath id="clip10"><rect x="0" y="0" width="433" height="433.5"/></clipPath><clipPath id="clip11"><rect x="0" y="0" width="433" height="433.5"/></clipPath><clipPath id="clip12"><rect x="0" y="0" width="433" height="433.5"/></clipPath></defs>
<g transform="translate(70.3,604)" clip-path="url(#clip00)"><g>
<path d="M176.0 96.0L185.0 86.0L200.0 80.0L217.0 78.0L228.6 72.3L240.1 72.3L254.6 75.2L269.1 82.5L280.7 89.7L292.2 98.4L303.8 110.0L307.0 124.0L309.0 135.0L298.0 146.0L283.5 146.0L272.0 143.0L257.5 139.0L246.0 139.0L231.5 134.5L217.0 130.0L200.0 128.0L185.0 126.0L177.0 118.0L175.0 105.0Z" fill="#000000"/>
<path d="M176.0 96.0L185.0 86.0L200.0 80.0L217.0 78.0L228.6 72.3L240.1 72.3L254.6 75.2L269.1 82.5L280.7 89.7L292.2 98.4L303.8 110.0L307.0 124.0L309.0 135.0L298.0 146.0L283.5 146.0L272.0 143.0L257.5 139.0L246.0 139.0L231.5 134.5L217.0 130.0L200.0 128.0L185.0 126.0L177.0 118.0L175.0 105.0Z" fill="url(#pffffff5)"/>
<path d="M176.0 96.0L185.0 86.0L200.0 80.0L217.0 78.0L228.6 72.3L240.1 72.3L254.6 75.2L269.1 82.5L280.7 89.7L292.2 98.4L303.8 110.0L307.0 124.0L309.0 135.0L298.0 146.0L283.5 146.0L272.0 143.0L257.5 139.0L246.0 139.0L231.5 134.5L217.0 130.0L200.0 128.0L185.0 126.0L177.0 118.0L175.0 105.0Z" fill="none" stroke="url(#p0000005)" stroke-width="4"/>
<path d="M176.0 96.0L185.0 86.0L200.0 80.0L217.0 78.0L228.6 72.3L240.1 72.3L254.6 75.2L269.1 82.5L280.7 89.7L292.2 98.4L303.8 110.0L307.0 124.0L309.0 135.0L298.0 146.0L283.5 146.0L272.0 143.0L257.5 139.0L246.0 139.0L231.5 134.5L217.0 130.0L200.0 128.0L185.0 126.0L177.0 118.0L175.0 105.0Z" fill="none" stroke="url(#pffffff6)" stroke-width="4"/>
<path d="M187.8 138.2L227.0 141.0L269.0 152.2L311.0 159.2L325.0 166.2L336.2 180.2L341.8 197.0L341.8 218.0L337.6 232.0L326.4 246.0L315.2 258.6L297.0 260.0L284.4 257.2L283.0 246.0L292.8 239.0L297.0 230.6L283.0 220.8L262.0 216.6L248.0 218.0L227.0 226.4L213.0 220.8L199.0 204.0L189.2 190.0L180.8 173.2L178.0 155.0Z" fill="#000000"/>
<path d="M187.8 138.2L227.0 141.0L269.0 152.2L311.0 159.2L325.0 166.2L336.2 180.2L341.8 197.0L341.8 218.0L337.6 232.0L326.4 246.0L315.2 258.6L297.0 260.0L284.4 257.2L283.0 246.0L292.8 239.0L297.0 230.6L283.0 220.8L262.0 216.6L248.0 218.0L227.0 226.4L213.0 220.8L199.0 204.0L189.2 190.0L180.8 173.2L178.0 155.0Z" fill="url(#pffffff3)"/>
<path d="M187.8 138.2L227.0 141.0L269.0 152.2L311.0 159.2L325.0 166.2L336.2 180.2L341.8 197.0L341.8 218.0L337.6 232.0L326.4 246.0L315.2 258.6L297.0 260.0L284.4 257.2L283.0 246.0L292.8 239.0L297.0 230.6L283.0 220.8L262.0 216.6L248.0 218.0L227.0 226.4L213.0 220.8L199.0 204.0L189.2 190.0L180.8 173.2L178.0 155.0Z" fill="none" stroke="url(#p0000005)" stroke-width="4"/>
<path d="M187.8 138.2L227.0 141.0L269.0 152.2L311.0 159.2L325.0 166.2L336.2 180.2L341.8 197.0L341.8 218.0L337.6 232.0L326.4 246.0L315.2 258.6L297.0 260.0L284.4 257.2L283.0 246.0L292.8 239.0L297.0 230.6L283.0 220.8L262.0 216.6L248.0 218.0L227.0 226.4L213.0 220.8L199.0 204.0L189.2 190.0L180.8 173.2L178.0 155.0Z" fill="none" stroke="url(#pffffff6)" stroke-width="4"/>
<path d="M213.0 221.0L227.0 226.0L248.0 218.0L262.0 216.6L283.0 221.0L297.0 230.6L292.8 239.0L283.0 246.0L284.4 257.2L297.0 262.0L290.0 266.0L270.0 266.0L255.0 262.0L240.0 258.0L234.0 248.0L232.0 236.0L224.0 232.0L215.0 232.0Z" fill="#000000"/>
<path d="M213.0 221.0L227.0 226.0L248.0 218.0L262.0 216.6L283.0 221.0L297.0 230.6L292.8 239.0L283.0 246.0L284.4 257.2L297.0 262.0L290.0 266.0L270.0 266.0L255.0 262.0L240.0 258.0L234.0 248.0L232.0 236.0L224.0 232.0L215.0 232.0Z" fill="url(#pffffff6)"/>
<path d="M213.0 221.0L227.0 226.0L248.0 218.0L262.0 216.6L283.0 221.0L297.0 230.6L292.8 239.0L283.0 246.0L284.4 257.2L297.0 262.0L290.0 266.0L270.0 266.0L255.0 262.0L240.0 258.0L234.0 248.0L232.0 236.0L224.0 232.0L215.0 232.0Z" fill="none" stroke="url(#p0000005)" stroke-width="4"/>
<path d="M213.0 221.0L227.0 226.0L248.0 218.0L262.0 216.6L283.0 221.0L297.0 230.6L292.8 239.0L283.0 246.0L284.4 257.2L297.0 262.0L290.0 266.0L270.0 266.0L255.0 262.0L240.0 258.0L234.0 248.0L232.0 236.0L224.0 232.0L215.0 232.0Z" fill="none" stroke="url(#pffffff6)" stroke-width="4"/>
<path d="M283.0 246.0L292.8 239.0L297.0 230.6L300.0 215.0L315.0 200.0L330.0 185.0L341.8 197.0L341.8 218.0L337.6 232.0L326.4 246.0L315.2 258.6L297.0 260.0L284.4 257.2Z" fill="#000000"/>
<path d="M283.0 246.0L292.8 239.0L297.0 230.6L300.0 215.0L315.0 200.0L330.0 185.0L341.8 197.0L341.8 218.0L337.6 232.0L326.4 246.0L315.2 258.6L297.0 260.0L284.4 257.2Z" fill="url(#pffffff0)"/>
<path d="M283.0 246.0L292.8 239.0L297.0 230.6L300.0 215.0L315.0 200.0L330.0 185.0L341.8 197.0L341.8 218.0L337.6 232.0L326.4 246.0L315.2 258.6L297.0 260.0L284.4 257.2Z" fill="none" stroke="url(#p0000005)" stroke-width="4"/>
<path d="M283.0 246.0L292.8 239.0L297.0 230.6L300.0 215.0L315.0 200.0L330.0 185.0L341.8 197.0L341.8 218.0L337.6 232.0L326.4 246.0L315.2 258.6L297.0 260.0L284.4 257.2Z" fill="none" stroke="url(#pffffff6)" stroke-width="4"/>
<path d="M309.6 118.0L318.3 115.7L327.0 120.1L329.8 130.2L331.3 144.7L328.4 153.4L318.3 154.8L309.6 151.9L306.0 140.0L307.0 128.0Z" fill="#000000"/>
<path d="M309.6 118.0L318.3 115.7L327.0 120.1L329.8 130.2L331.3 144.7L328.4 153.4L318.3 154.8L309.6 151.9L306.0 140.0L307.0 128.0Z" fill="url(#pffffff0)"/>
<path d="M309.6 118.0L318.3 115.7L327.0 120.1L329.8 130.2L331.3 144.7L328.4 153.4L318.3 154.8L309.6 151.9L306.0 140.0L307.0 128.0Z" fill="none" stroke="url(#p0000005)" stroke-width="4"/>
<path d="M309.6 118.0L318.3 115.7L327.0 120.1L329.8 130.2L331.3 144.7L328.4 153.4L318.3 154.8L309.6 151.9L306.0 140.0L307.0 128.0Z" fill="none" stroke="url(#pffffff6)" stroke-width="4"/>
<path d="M341.0 190.0L352.0 192.0L362.0 196.0L367.0 205.0L365.0 218.0L358.0 225.0L348.0 226.0L341.0 220.0Z" fill="#000000"/>
<path d="M341.0 190.0L352.0 192.0L362.0 196.0L367.0 205.0L365.0 218.0L358.0 225.0L348.0 226.0L341.0 220.0Z" fill="url(#pffffff1)"/>
<path d="M341.0 190.0L352.0 192.0L362.0 196.0L367.0 205.0L365.0 218.0L358.0 225.0L348.0 226.0L341.0 220.0Z" fill="none" stroke="url(#p0000005)" stroke-width="4"/>
<path d="M341.0 190.0L352.0 192.0L362.0 196.0L367.0 205.0L365.0 218.0L358.0 225.0L348.0 226.0L341.0 220.0Z" fill="none" stroke="url(#pffffff6)" stroke-width="4"/>
<ellipse cx="380" cy="186" rx="14" ry="14" fill="#000000"/>
<ellipse cx="380" cy="186" rx="14" ry="14" fill="url(#pffffff0)"/>
<ellipse cx="380" cy="186" rx="14" ry="14" fill="none" stroke="url(#p0000005)" stroke-width="4"/>
<ellipse cx="380" cy="186" rx="14" ry="14" fill="none" stroke="url(#pffffff6)" stroke-width="4"/>
<path d="M329.0 255.0L335.0 248.0L345.0 245.0L355.0 247.0L362.0 252.0L370.0 262.0L376.0 270.0L365.0 268.0L352.0 271.0L340.0 271.0L332.0 266.0Z" fill="#000000"/>
<path d="M329.0 255.0L335.0 248.0L345.0 245.0L355.0 247.0L362.0 252.0L370.0 262.0L376.0 270.0L365.0 268.0L352.0 271.0L340.0 271.0L332.0 266.0Z" fill="url(#pffffff4)"/>
<path d="M329.0 255.0L335.0 248.0L345.0 245.0L355.0 247.0L362.0 252.0L370.0 262.0L376.0 270.0L365.0 268.0L352.0 271.0L340.0 271.0L332.0 266.0Z" fill="none" stroke="url(#p0000005)" stroke-width="4"/>
<path d="M329.0 255.0L335.0 248.0L345.0 245.0L355.0 247.0L362.0 252.0L370.0 262.0L376.0 270.0L365.0 268.0L352.0 271.0L340.0 271.0L332.0 266.0Z" fill="none" stroke="url(#pffffff6)" stroke-width="4"/>
<path d="M133.0 128.0L142.0 121.0L152.0 119.0L162.0 122.0L172.0 130.0L178.0 140.0L176.0 152.0L170.0 162.0L160.0 168.0L150.0 167.0L141.0 160.0L134.0 150.0L130.0 140.0Z" fill="#000000"/>
<path d="M133.0 128.0L142.0 121.0L152.0 119.0L162.0 122.0L172.0 130.0L178.0 140.0L176.0 152.0L170.0 162.0L160.0 168.0L150.0 167.0L141.0 160.0L134.0 150.0L130.0 140.0Z" fill="url(#pffffff6)"/>
<path d="M133.0 128.0L142.0 121.0L152.0 119.0L162.0 122.0L172.0 130.0L178.0 140.0L176.0 152.0L170.0 162.0L160.0 168.0L150.0 167.0L141.0 160.0L134.0 150.0L130.0 140.0Z" fill="none" stroke="url(#p0000005)" stroke-width="4"/>
<path d="M133.0 128.0L142.0 121.0L152.0 119.0L162.0 122.0L172.0 130.0L178.0 140.0L176.0 152.0L170.0 162.0L160.0 168.0L150.0 167.0L141.0 160.0L134.0 150.0L130.0 140.0Z" fill="none" stroke="url(#pffffff6)" stroke-width="4"/>
<path d="M98.4 98.4L110.0 91.1L120.0 85.4L125.9 92.6L118.6 98.4L111.4 104.2L104.2 105.6Z" fill="#000000"/>
<path d="M98.4 98.4L110.0 91.1L120.0 85.4L125.9 92.6L118.6 98.4L111.4 104.2L104.2 105.6Z" fill="url(#pffffff3)"/>
<path d="M98.4 98.4L110.0 91.1L120.0 85.4L125.9 92.6L118.6 98.4L111.4 104.2L104.2 105.6Z" fill="none" stroke="url(#p0000005)" stroke-width="4"/>
<path d="M98.4 98.4L110.0 91.1L120.0 85.4L125.9 92.6L118.6 98.4L111.4 104.2L104.2 105.6Z" fill="none" stroke="url(#pffffff6)" stroke-width="4"/>
<path d="M88.0 108.0L96.0 104.0L104.0 106.0L102.0 114.0L92.0 117.0Z" fill="#000000"/>
<path d="M88.0 108.0L96.0 104.0L104.0 106.0L102.0 114.0L92.0 117.0Z" fill="url(#pffffff7)"/>
<path d="M88.0 108.0L96.0 104.0L104.0 106.0L102.0 114.0L92.0 117.0Z" fill="none" stroke="url(#p0000005)" stroke-width="4"/>
<path d="M88.0 108.0L96.0 104.0L104.0 106.0L102.0 114.0L92.0 117.0Z" fill="none" stroke="url(#pffffff6)" stroke-width="4"/>
<path d="M75.0 125.0L80.0 121.0L88.0 122.0L93.0 128.0L95.0 136.0L90.0 142.0L82.0 143.0L77.0 137.0L74.0 130.0Z" fill="#000000"/>
<path d="M75.0 125.0L80.0 121.0L88.0 122.0L93.0 128.0L95.0 136.0L90.0 142.0L82.0 143.0L77.0 137.0L74.0 130.0Z" fill="url(#pffffff2)"/>
<path d="M75.0 125.0L80.0 121.0L88.0 122.0L93.0 128.0L95.0 136.0L90.0 142.0L82.0 143.0L77.0 137.0L74.0 130.0Z" fill="none" stroke="url(#p0000005)" stroke-width="4"/>
<path d="M75.0 125.0L80.0 121.0L88.0 122.0L93.0 128.0L95.0 136.0L90.0 142.0L82.0 143.0L77.0 137.0L74.0 130.0Z" fill="none" stroke="url(#pffffff6)" stroke-width="4"/>
<path d="M97.0 140.0L104.0 137.0L108.0 140.0L106.0 146.0L108.0 152.0L103.0 156.0L97.0 153.0L96.0 146.0Z" fill="#000000"/>
<path d="M97.0 140.0L104.0 137.0L108.0 140.0L106.0 146.0L108.0 152.0L103.0 156.0L97.0 153.0L96.0 146.0Z" fill="url(#pffffff1)"/>
<path d="M97.0 140.0L104.0 137.0L108.0 140.0L106.0 146.0L108.0 152.0L103.0 156.0L97.0 153.0L96.0 146.0Z" fill="none" stroke="url(#p0000005)" stroke-width="4"/>
<path d="M97.0 140.0L104.0 137.0L108.0 140.0L106.0 146.0L108.0 152.0L103.0 156.0L97.0 153.0L96.0 146.0Z" fill="none" stroke="url(#pffffff6)" stroke-width="4"/>
<path d="M150.0 243.0L175.0 243.0L195.0 240.0L200.0 255.0L196.0 268.0L185.0 275.0L170.0 278.0L160.0 276.0L162.0 262.0L158.0 250.0Z" fill="#000000"/>
<path d="M150.0 243.0L175.0 243.0L195.0 240.0L200.0 255.0L196.0 268.0L185.0 275.0L170.0 278.0L160.0 276.0L162.0 262.0L158.0 250.0Z" fill="url(#pffffff6)"/>
<path d="M150.0 243.0L175.0 243.0L195.0 240.0L200.0 255.0L196.0 268.0L185.0 275.0L170.0 278.0L160.0 276.0L162.0 262.0L158.0 250.0Z" fill="none" stroke="url(#p0000005)" stroke-width="4"/>
<path d="M150.0 243.0L175.0 243.0L195.0 240.0L200.0 255.0L196.0 268.0L185.0 275.0L170.0 278.0L160.0 276.0L162.0 262.0L158.0 250.0Z" fill="none" stroke="url(#pffffff6)" stroke-width="4"/>
<path d="M160.0 290.0L175.0 272.0L188.0 268.0L186.0 278.0L172.0 292.0L165.0 298.0Z" fill="#000000"/>
<path d="M160.0 290.0L175.0 272.0L188.0 268.0L186.0 278.0L172.0 292.0L165.0 298.0Z" fill="url(#pffffff5)"/>
<path d="M160.0 290.0L175.0 272.0L188.0 268.0L186.0 278.0L172.0 292.0L165.0 298.0Z" fill="none" stroke="url(#p0000005)" stroke-width="4"/>
<path d="M160.0 290.0L175.0 272.0L188.0 268.0L186.0 278.0L172.0 292.0L165.0 298.0Z" fill="none" stroke="url(#pffffff6)" stroke-width="4"/>
<path d="M110.0 325.0L120.0 315.0L135.0 312.0L150.0 313.0L160.0 318.0L165.0 330.0L164.0 345.0L156.0 357.0L140.0 362.0L125.0 360.0L112.0 352.0L106.0 340.0Z" fill="#000000"/>
<path d="M110.0 325.0L120.0 315.0L135.0 312.0L150.0 313.0L160.0 318.0L165.0 330.0L164.0 345.0L156.0 357.0L140.0 362.0L125.0 360.0L112.0 352.0L106.0 340.0Z" fill="url(#pffffff5)"/>
<path d="M110.0 325.0L120.0 315.0L135.0 312.0L150.0 313.0L160.0 318.0L165.0 330.0L164.0 345.0L156.0 357.0L140.0 362.0L125.0 360.0L112.0 352.0L106.0 340.0Z" fill="none" stroke="url(#p0000005)" stroke-width="4"/>
<path d="M110.0 325.0L120.0 315.0L135.0 312.0L150.0 313.0L160.0 318.0L165.0 330.0L164.0 345.0L156.0 357.0L140.0 362.0L125.0 360.0L112.0 352.0L106.0 340.0Z" fill="none" stroke="url(#pffffff6)" stroke-width="4"/>
<path d="M40.0 185.0L48.0 178.0L52.0 190.0L50.0 220.0L52.0 250.0L55.0 275.0L48.0 280.0L42.0 260.0L38.0 230.0L37.0 205.0Z" fill="#000000"/>
<path d="M40.0 185.0L48.0 178.0L52.0 190.0L50.0 220.0L52.0 250.0L55.0 275.0L48.0 280.0L42.0 260.0L38.0 230.0L37.0 205.0Z" fill="url(#pffffff7)"/>
<path d="M40.0 185.0L48.0 178.0L52.0 190.0L50.0 220.0L52.0 250.0L55.0 275.0L48.0 280.0L42.0 260.0L38.0 230.0L37.0 205.0Z" fill="none" stroke="url(#p0000005)" stroke-width="4"/>
<path d="M40.0 185.0L48.0 178.0L52.0 190.0L50.0 220.0L52.0 250.0L55.0 275.0L48.0 280.0L42.0 260.0L38.0 230.0L37.0 205.0Z" fill="none" stroke="url(#pffffff6)" stroke-width="4"/>
<path d="M176.0 280.0L185.0 272.0L200.0 272.0L215.0 276.0L230.0 285.0L240.0 300.0L246.0 320.0L246.0 345.0L240.0 360.0L228.0 372.0L210.0 378.0L195.0 376.0L183.0 365.0L176.0 345.0L173.0 320.0L172.0 300.0Z" fill="#000000"/>
<path d="M176.0 280.0L185.0 272.0L200.0 272.0L215.0 276.0L230.0 285.0L240.0 300.0L246.0 320.0L246.0 345.0L240.0 360.0L228.0 372.0L210.0 378.0L195.0 376.0L183.0 365.0L176.0 345.0L173.0 320.0L172.0 300.0Z" fill="url(#pffffff4)"/>
<path d="M176.0 280.0L185.0 272.0L200.0 272.0L215.0 276.0L230.0 285.0L240.0 300.0L246.0 320.0L246.0 345.0L240.0 360.0L228.0 372.0L210.0 378.0L195.0 376.0L183.0 365.0L176.0 345.0L173.0 320.0L172.0 300.0Z" fill="none" stroke="url(#p0000005)" stroke-width="4"/>
<path d="M176.0 280.0L185.0 272.0L200.0 272.0L215.0 276.0L230.0 285.0L240.0 300.0L246.0 320.0L246.0 345.0L240.0 360.0L228.0 372.0L210.0 378.0L195.0 376.0L183.0 365.0L176.0 345.0L173.0 320.0L172.0 300.0Z" fill="none" stroke="url(#pffffff6)" stroke-width="4"/>
<path d="M176.0 285.0L190.0 276.0L205.0 282.0L210.0 300.0L205.0 330.0L195.0 350.0L183.0 352.0L176.0 335.0L174.0 310.0Z" fill="#00ff00"/>
<path d="M176.0 285.0L190.0 276.0L205.0 282.0L210.0 300.0L205.0 330.0L195.0 350.0L183.0 352.0L176.0 335.0L174.0 310.0Z" fill="url(#pffffff6)"/>
<path d="M176.0 285.0L190.0 276.0L205.0 282.0L210.0 300.0L205.0 330.0L195.0 350.0L183.0 352.0L176.0 335.0L174.0 310.0Z" fill="none" stroke="url(#p00ff005)" stroke-width="4"/>
<path d="M176.0 285.0L190.0 276.0L205.0 282.0L210.0 300.0L205.0 330.0L195.0 350.0L183.0 352.0L176.0 335.0L174.0 310.0Z" fill="none" stroke="url(#pffffff6)" stroke-width="4"/>
<path d="M176.0 285.0L190.0 276.0L205.0 282.0L210.0 300.0L205.0 330.0L195.0 350.0L183.0 352.0L176.0 335.0L174.0 310.0Z" fill="url(#p0000005)"/>
<path d="M63.7 170.7L75.2 159.1L82.5 156.3L89.7 163.5L101.3 167.8L118.6 170.7L137.4 169.3L153.4 173.6L173.6 179.4L180.8 188.1L188.1 199.7L195.3 212.0L198.3 220.8L197.0 233.0L190.0 239.0L174.0 242.0L160.0 237.0L151.0 232.0L164.0 250.0L163.5 259.0L153.4 264.7L144.7 272.0L133.1 274.9L125.9 277.8L128.8 286.4L124.4 298.0L112.8 306.7L101.3 311.0L92.6 313.9L81.0 303.8L72.3 295.1L60.8 280.7L57.9 260.4L59.3 237.3L64.0 222.0L66.0 200.0L64.0 185.0Z" fill="#0000ff"/>
<path d="M63.7 170.7L75.2 159.1L82.5 156.3L89.7 163.5L101.3 167.8L118.6 170.7L137.4 169.3L153.4 173.6L173.6 179.4L180.8 188.1L188.1 199.7L195.3 212.0L198.3 220.8L197.0 233.0L190.0 239.0L174.0 242.0L160.0 237.0L151.0 232.0L164.0 250.0L163.5 259.0L153.4 264.7L144.7 272.0L133.1 274.9L125.9 277.8L128.8 286.4L124.4 298.0L112.8 306.7L101.3 311.0L92.6 313.9L81.0 303.8L72.3 295.1L60.8 280.7L57.9 260.4L59.3 237.3L64.0 222.0L66.0 200.0L64.0 185.0Z" fill="none" stroke="url(#p0000ff5)" stroke-width="4"/>
<path d="M63.7 170.7L75.2 159.1L82.5 156.3L89.7 163.5L101.3 167.8L118.6 170.7L137.4 169.3L153.4 173.6L173.6 179.4L180.8 188.1L188.1 199.7L195.3 212.0L198.3 220.8L197.0 233.0L190.0 239.0L174.0 242.0L160.0 237.0L151.0 232.0L164.0 250.0L163.5 259.0L153.4 264.7L144.7 272.0L133.1 274.9L125.9 277.8L128.8 286.4L124.4 298.0L112.8 306.7L101.3 311.0L92.6 313.9L81.0 303.8L72.3 295.1L60.8 280.7L57.9 260.4L59.3 237.3L64.0 222.0L66.0 200.0L64.0 185.0Z" fill="none" stroke="url(#pffffff6)" stroke-width="4"/>
<path d="M59.0 232.0L80.0 228.0L105.0 235.0L125.0 250.0L128.0 280.0L124.0 298.0L101.0 311.0L81.0 304.0L61.0 281.0L58.0 258.0Z" fill="url(#pffffff2)"/>
<path d="M59.0 232.0L80.0 228.0L105.0 235.0L125.0 250.0L128.0 280.0L124.0 298.0L101.0 311.0L81.0 304.0L61.0 281.0L58.0 258.0Z" fill="url(#p0000003)"/>
<path d="M64.0 172.0L80.0 158.0L100.0 166.0L118.0 170.0L115.0 195.0L95.0 200.0L70.0 198.0Z" fill="url(#pffffff3)"/>
<path d="M64.0 172.0L80.0 158.0L100.0 166.0L118.0 170.0L115.0 195.0L95.0 200.0L70.0 198.0Z" fill="url(#p0000001)"/>
<path d="M118.0 262.0L128.0 256.0L140.0 255.0L150.0 257.0L153.0 264.0L146.0 272.0L133.0 275.0L122.0 272.0Z" fill="#000000"/>
<path d="M118.0 262.0L128.0 256.0L140.0 255.0L150.0 257.0L153.0 264.0L146.0 272.0L133.0 275.0L122.0 272.0Z" fill="url(#pffffff3)"/>
<path d="M118.0 262.0L128.0 256.0L140.0 255.0L150.0 257.0L153.0 264.0L146.0 272.0L133.0 275.0L122.0 272.0Z" fill="none" stroke="url(#p0000005)" stroke-width="4"/>
<path d="M118.0 262.0L128.0 256.0L140.0 255.0L150.0 257.0L153.0 264.0L146.0 272.0L133.0 275.0L122.0 272.0Z" fill="none" stroke="url(#pffffff6)" stroke-width="4"/>
<path d="M200.4 267.0L208.8 253.0L220.0 241.8L228.4 234.8L232.6 246.0L229.8 260.0L220.0 268.4L208.8 269.8Z" fill="#0000ff"/>
<path d="M200.4 267.0L208.8 253.0L220.0 241.8L228.4 234.8L232.6 246.0L229.8 260.0L220.0 268.4L208.8 269.8Z" fill="none" stroke="url(#p0000ff5)" stroke-width="4"/>
<path d="M200.4 267.0L208.8 253.0L220.0 241.8L228.4 234.8L232.6 246.0L229.8 260.0L220.0 268.4L208.8 269.8Z" fill="none" stroke="url(#pffffff6)" stroke-width="4"/>
<path d="M234.0 288.0L241.0 306.2L255.0 318.8L276.0 324.4L297.0 316.0L311.0 306.2L322.2 292.2L330.6 281.0L329.2 269.8L318.0 265.6L304.0 268.4L295.6 281.0L287.2 296.4L276.0 300.6L262.0 297.8L250.8 288.0L242.4 275.4L236.8 268.4Z" fill="#0000ff"/>
<path d="M234.0 288.0L241.0 306.2L255.0 318.8L276.0 324.4L297.0 316.0L311.0 306.2L322.2 292.2L330.6 281.0L329.2 269.8L318.0 265.6L304.0 268.4L295.6 281.0L287.2 296.4L276.0 300.6L262.0 297.8L250.8 288.0L242.4 275.4L236.8 268.4Z" fill="none" stroke="url(#p0000ff5)" stroke-width="4"/>
<path d="M234.0 288.0L241.0 306.2L255.0 318.8L276.0 324.4L297.0 316.0L311.0 306.2L322.2 292.2L330.6 281.0L329.2 269.8L318.0 265.6L304.0 268.4L295.6 281.0L287.2 296.4L276.0 300.6L262.0 297.8L250.8 288.0L242.4 275.4L236.8 268.4Z" fill="none" stroke="url(#pffffff6)" stroke-width="4"/>
<path d="M234.0 268.0L245.0 265.0L258.0 270.0L262.0 285.0L255.0 293.0L245.0 290.0L238.0 280.0Z" fill="#000000"/>
<path d="M234.0 268.0L245.0 265.0L258.0 270.0L262.0 285.0L255.0 293.0L245.0 290.0L238.0 280.0Z" fill="url(#pffffff2)"/>
<path d="M234.0 268.0L245.0 265.0L258.0 270.0L262.0 285.0L255.0 293.0L245.0 290.0L238.0 280.0Z" fill="none" stroke="url(#p0000005)" stroke-width="4"/>
<path d="M234.0 268.0L245.0 265.0L258.0 270.0L262.0 285.0L255.0 293.0L245.0 290.0L238.0 280.0Z" fill="none" stroke="url(#pffffff6)" stroke-width="4"/>
<path d="M234.0 285.0L250.0 290.0L270.0 300.0L290.0 298.0L300.0 315.0L280.0 326.0L255.0 320.0L240.0 306.0Z" fill="url(#p0000005)"/>
<path d="M295.0 281.0L304.0 268.0L318.0 265.6L329.2 269.8L330.6 281.0L322.2 292.2L311.0 306.2L297.0 300.0Z" fill="url(#pffffff4)"/>
<path d="M172.0 50.0L178.0 42.0L190.0 40.0L200.0 38.0L212.0 37.0L222.0 40.0L224.0 50.0L222.0 62.0L214.0 72.0L205.0 76.0L196.0 80.0L188.0 82.0L183.0 76.0L176.0 68.0L171.0 60.0Z" fill="#ff00ff"/>
<path d="M172.0 50.0L178.0 42.0L190.0 40.0L200.0 38.0L212.0 37.0L222.0 40.0L224.0 50.0L222.0 62.0L214.0 72.0L205.0 76.0L196.0 80.0L188.0 82.0L183.0 76.0L176.0 68.0L171.0 60.0Z" fill="url(#pffffff3)"/>
<path d="M172.0 50.0L178.0 42.0L190.0 40.0L200.0 38.0L212.0 37.0L222.0 40.0L224.0 50.0L222.0 62.0L214.0 72.0L205.0 76.0L196.0 80.0L188.0 82.0L183.0 76.0L176.0 68.0L171.0 60.0Z" fill="none" stroke="url(#pff00ff5)" stroke-width="4"/>
<path d="M172.0 50.0L178.0 42.0L190.0 40.0L200.0 38.0L212.0 37.0L222.0 40.0L224.0 50.0L222.0 62.0L214.0 72.0L205.0 76.0L196.0 80.0L188.0 82.0L183.0 76.0L176.0 68.0L171.0 60.0Z" fill="none" stroke="url(#pffffff6)" stroke-width="4"/>
<path d="M172.0 50.0L178.0 43.0L188.0 43.0L186.0 55.0L180.0 62.0L172.0 60.0Z" fill="url(#p0000ff8)"/>
<path d="M280.7 72.3L292.2 72.3L309.6 81.0L321.2 86.8L335.6 89.7L347.2 92.6L361.7 99.8L368.9 110.0L370.4 123.0L370.4 137.4L370.4 151.9L368.9 166.4L367.5 180.8L367.5 195.3L370.4 209.8L373.3 217.0L364.6 217.0L358.8 195.3L350.1 180.8L342.9 163.5L338.5 144.7L334.2 127.3L327.0 112.8L315.4 104.2L303.8 92.6L292.2 83.9L282.1 78.1Z" fill="#ff00ff"/>
<path d="M280.7 72.3L292.2 72.3L309.6 81.0L321.2 86.8L335.6 89.7L347.2 92.6L361.7 99.8L368.9 110.0L370.4 123.0L370.4 137.4L370.4 151.9L368.9 166.4L367.5 180.8L367.5 195.3L370.4 209.8L373.3 217.0L364.6 217.0L358.8 195.3L350.1 180.8L342.9 163.5L338.5 144.7L334.2 127.3L327.0 112.8L315.4 104.2L303.8 92.6L292.2 83.9L282.1 78.1Z" fill="url(#pffffff2)"/>
<path d="M280.7 72.3L292.2 72.3L309.6 81.0L321.2 86.8L335.6 89.7L347.2 92.6L361.7 99.8L368.9 110.0L370.4 123.0L370.4 137.4L370.4 151.9L368.9 166.4L367.5 180.8L367.5 195.3L370.4 209.8L373.3 217.0L364.6 217.0L358.8 195.3L350.1 180.8L342.9 163.5L338.5 144.7L334.2 127.3L327.0 112.8L315.4 104.2L303.8 92.6L292.2 83.9L282.1 78.1Z" fill="none" stroke="url(#pff00ff5)" stroke-width="4"/>
<path d="M280.7 72.3L292.2 72.3L309.6 81.0L321.2 86.8L335.6 89.7L347.2 92.6L361.7 99.8L368.9 110.0L370.4 123.0L370.4 137.4L370.4 151.9L368.9 166.4L367.5 180.8L367.5 195.3L370.4 209.8L373.3 217.0L364.6 217.0L358.8 195.3L350.1 180.8L342.9 163.5L338.5 144.7L334.2 127.3L327.0 112.8L315.4 104.2L303.8 92.6L292.2 83.9L282.1 78.1Z" fill="none" stroke="url(#pffffff6)" stroke-width="4"/>
<path d="M368.9 217.0L380.0 212.0L397.8 217.0L399.3 234.4L395.0 248.8L383.4 256.0L368.9 251.7L358.8 240.1L357.3 231.5L364.6 222.8Z" fill="#ff00ff"/>
<path d="M368.9 217.0L380.0 212.0L397.8 217.0L399.3 234.4L395.0 248.8L383.4 256.0L368.9 251.7L358.8 240.1L357.3 231.5L364.6 222.8Z" fill="url(#pffffff2)"/>
<path d="M368.9 217.0L380.0 212.0L397.8 217.0L399.3 234.4L395.0 248.8L383.4 256.0L368.9 251.7L358.8 240.1L357.3 231.5L364.6 222.8Z" fill="none" stroke="url(#pff00ff5)" stroke-width="4"/>
<path d="M368.9 217.0L380.0 212.0L397.8 217.0L399.3 234.4L395.0 248.8L383.4 256.0L368.9 251.7L358.8 240.1L357.3 231.5L364.6 222.8Z" fill="none" stroke="url(#pffffff6)" stroke-width="4"/>
<path d="M367.5 277.8L368.9 289.3L366.0 303.8L358.8 318.3L344.3 331.3L325.5 344.3L306.7 357.3L289.3 373.3L267.6 386.3L246.0 396.4L231.5 395.0L217.0 390.0L217.0 376.0L224.2 373.3L234.4 360.2L246.0 350.1L260.4 341.4L277.8 331.3L295.1 324.1L315.4 319.7L324.1 311.0L335.6 296.6L342.9 283.5L355.9 277.8Z" fill="#ff00ff"/>
<path d="M367.5 277.8L368.9 289.3L366.0 303.8L358.8 318.3L344.3 331.3L325.5 344.3L306.7 357.3L289.3 373.3L267.6 386.3L246.0 396.4L231.5 395.0L217.0 390.0L217.0 376.0L224.2 373.3L234.4 360.2L246.0 350.1L260.4 341.4L277.8 331.3L295.1 324.1L315.4 319.7L324.1 311.0L335.6 296.6L342.9 283.5L355.9 277.8Z" fill="url(#pffffff2)"/>
<path d="M367.5 277.8L368.9 289.3L366.0 303.8L358.8 318.3L344.3 331.3L325.5 344.3L306.7 357.3L289.3 373.3L267.6 386.3L246.0 396.4L231.5 395.0L217.0 390.0L217.0 376.0L224.2 373.3L234.4 360.2L246.0 350.1L260.4 341.4L277.8 331.3L295.1 324.1L315.4 319.7L324.1 311.0L335.6 296.6L342.9 283.5L355.9 277.8Z" fill="none" stroke="url(#pff00ff5)" stroke-width="4"/>
<path d="M367.5 277.8L368.9 289.3L366.0 303.8L358.8 318.3L344.3 331.3L325.5 344.3L306.7 357.3L289.3 373.3L267.6 386.3L246.0 396.4L231.5 395.0L217.0 390.0L217.0 376.0L224.2 373.3L234.4 360.2L246.0 350.1L260.4 341.4L277.8 331.3L295.1 324.1L315.4 319.7L324.1 311.0L335.6 296.6L342.9 283.5L355.9 277.8Z" fill="none" stroke="url(#pffffff6)" stroke-width="4"/>
<path d="M217.0 376.0L217.0 390.0L200.0 392.0L185.0 388.0L170.0 384.0L160.0 378.0L155.0 368.0L152.0 350.0L155.0 335.0L160.0 333.0L165.0 345.0L170.0 365.0L178.0 375.0L195.0 380.0Z" fill="#ff00ff"/>
<path d="M217.0 376.0L217.0 390.0L200.0 392.0L185.0 388.0L170.0 384.0L160.0 378.0L155.0 368.0L152.0 350.0L155.0 335.0L160.0 333.0L165.0 345.0L170.0 365.0L178.0 375.0L195.0 380.0Z" fill="url(#pffffff5)"/>
<path d="M217.0 376.0L217.0 390.0L200.0 392.0L185.0 388.0L170.0 384.0L160.0 378.0L155.0 368.0L152.0 350.0L155.0 335.0L160.0 333.0L165.0 345.0L170.0 365.0L178.0 375.0L195.0 380.0Z" fill="none" stroke="url(#pff00ff5)" stroke-width="4"/>
<path d="M217.0 376.0L217.0 390.0L200.0 392.0L185.0 388.0L170.0 384.0L160.0 378.0L155.0 368.0L152.0 350.0L155.0 335.0L160.0 333.0L165.0 345.0L170.0 365.0L178.0 375.0L195.0 380.0Z" fill="none" stroke="url(#pffffff6)" stroke-width="4"/>
<path d="M86.0 124.0L100.0 123.0L110.0 120.0L117.0 119.0L116.0 128.0L112.0 133.0L100.0 133.0L92.0 131.0Z" fill="#ff00ff"/>
<path d="M86.0 124.0L100.0 123.0L110.0 120.0L117.0 119.0L116.0 128.0L112.0 133.0L100.0 133.0L92.0 131.0Z" fill="url(#pffffff3)"/>
<path d="M86.0 124.0L100.0 123.0L110.0 120.0L117.0 119.0L116.0 128.0L112.0 133.0L100.0 133.0L92.0 131.0Z" fill="none" stroke="url(#pff00ff5)" stroke-width="4"/>
<path d="M86.0 124.0L100.0 123.0L110.0 120.0L117.0 119.0L116.0 128.0L112.0 133.0L100.0 133.0L92.0 131.0Z" fill="none" stroke="url(#pffffff6)" stroke-width="4"/>
<path d="M156.0 268.0L162.0 265.0L167.0 268.0L166.0 274.0L158.0 275.0Z" fill="#ff00ff"/>
<path d="M156.0 268.0L162.0 265.0L167.0 268.0L166.0 274.0L158.0 275.0Z" fill="url(#pffffff1)"/>
<path d="M156.0 268.0L162.0 265.0L167.0 268.0L166.0 274.0L158.0 275.0Z" fill="none" stroke="url(#pff00ff5)" stroke-width="4"/>
<path d="M156.0 268.0L162.0 265.0L167.0 268.0L166.0 274.0L158.0 275.0Z" fill="none" stroke="url(#pffffff6)" stroke-width="4"/>
<path d="M62.0 300.0L75.0 305.0L90.0 318.0L101.0 330.0L95.0 336.0L80.0 328.0L66.0 315.0Z" fill="#ff00ff"/>
<path d="M62.0 300.0L75.0 305.0L90.0 318.0L101.0 330.0L95.0 336.0L80.0 328.0L66.0 315.0Z" fill="url(#pffffff7)"/>
<path d="M62.0 300.0L75.0 305.0L90.0 318.0L101.0 330.0L95.0 336.0L80.0 328.0L66.0 315.0Z" fill="none" stroke="url(#pff00ff5)" stroke-width="4"/>
<path d="M62.0 300.0L75.0 305.0L90.0 318.0L101.0 330.0L95.0 336.0L80.0 328.0L66.0 315.0Z" fill="none" stroke="url(#pffffff6)" stroke-width="4"/>
<path d="M110.0 306.0L125.0 300.0L140.0 298.0L149.0 300.0L146.0 310.0L130.0 316.0L115.0 318.0Z" fill="#ff00ff"/>
<path d="M110.0 306.0L125.0 300.0L140.0 298.0L149.0 300.0L146.0 310.0L130.0 316.0L115.0 318.0Z" fill="url(#pffffff7)"/>
<path d="M110.0 306.0L125.0 300.0L140.0 298.0L149.0 300.0L146.0 310.0L130.0 316.0L115.0 318.0Z" fill="none" stroke="url(#pff00ff5)" stroke-width="4"/>
<path d="M110.0 306.0L125.0 300.0L140.0 298.0L149.0 300.0L146.0 310.0L130.0 316.0L115.0 318.0Z" fill="none" stroke="url(#pffffff6)" stroke-width="4"/>
<path d="M137.4 72.3L144.7 63.7L150.5 65.1L156.3 70.9L160.6 76.7L161.3 85.4L158.4 90.4L151.9 92.6L141.8 89.7L134.5 89.7L127.3 92.6L118.6 94.8L114.3 94.0L120.1 86.8L127.3 81.0L134.5 76.7Z" fill="#ff0000"/>
<path d="M137.4 72.3L144.7 63.7L150.5 65.1L156.3 70.9L160.6 76.7L161.3 85.4L158.4 90.4L151.9 92.6L141.8 89.7L134.5 89.7L127.3 92.6L118.6 94.8L114.3 94.0L120.1 86.8L127.3 81.0L134.5 76.7Z" fill="url(#pffffff1)"/>
<path d="M137.4 72.3L144.7 63.7L150.5 65.1L156.3 70.9L160.6 76.7L161.3 85.4L158.4 90.4L151.9 92.6L141.8 89.7L134.5 89.7L127.3 92.6L118.6 94.8L114.3 94.0L120.1 86.8L127.3 81.0L134.5 76.7Z" fill="none" stroke="url(#pff00005)" stroke-width="4"/>
<path d="M137.4 72.3L144.7 63.7L150.5 65.1L156.3 70.9L160.6 76.7L161.3 85.4L158.4 90.4L151.9 92.6L141.8 89.7L134.5 89.7L127.3 92.6L118.6 94.8L114.3 94.0L120.1 86.8L127.3 81.0L134.5 76.7Z" fill="none" stroke="url(#pffffff6)" stroke-width="4"/>
<path d="M166.0 103.0L175.0 94.0" stroke="#ff00ff" stroke-width="4" fill="none" stroke-linecap="round"/>
<path d="M137.0 122.0L148.0 115.0" stroke="#ff00ff" stroke-width="3" fill="none" stroke-linecap="round"/>
<path d="M237.0 53.0L254.0 66.0" stroke="#ff00ff" stroke-width="6" fill="none" stroke-linecap="round"/>
<path d="M124.0 118.0L132.0 108.0L145.0 106.0L160.0 108.0" stroke="#00ff00" stroke-width="2.5" fill="none" stroke-linecap="round"/>
<path d="M113.0 145.0L114.0 158.0L122.0 163.0L134.0 166.0" stroke="#00ff00" stroke-width="2.5" fill="none" stroke-linecap="round"/>
</g></g>
<g transform="translate(547.8,604)" clip-path="url(#clip01)"><g>
<path d="M178.0 101.0L186.6 89.7L202.5 84.0L217.0 75.2L231.5 72.3L246.0 72.3L260.4 76.7L272.0 82.5L282.0 91.0L295.0 101.3L302.4 115.7L306.7 130.2L315.4 133.0L327.0 133.0L329.8 144.7L327.0 153.4L315.4 153.4L303.8 149.0L289.3 146.0L274.9 141.8L260.4 143.2L246.0 138.9L231.5 137.4L217.0 138.9L200.0 138.0L186.0 132.0L180.0 120.0L176.5 112.8Z" fill="#000000"/>
<path d="M178.0 101.0L186.6 89.7L202.5 84.0L217.0 75.2L231.5 72.3L246.0 72.3L260.4 76.7L272.0 82.5L282.0 91.0L295.0 101.3L302.4 115.7L306.7 130.2L315.4 133.0L327.0 133.0L329.8 144.7L327.0 153.4L315.4 153.4L303.8 149.0L289.3 146.0L274.9 141.8L260.4 143.2L246.0 138.9L231.5 137.4L217.0 138.9L200.0 138.0L186.0 132.0L180.0 120.0L176.5 112.8Z" fill="url(#pffffff3)"/>
<path d="M178.0 101.0L186.6 89.7L202.5 84.0L217.0 75.2L231.5 72.3L246.0 72.3L260.4 76.7L272.0 82.5L282.0 91.0L295.0 101.3L302.4 115.7L306.7 130.2L315.4 133.0L327.0 133.0L329.8 144.7L327.0 153.4L315.4 153.4L303.8 149.0L289.3 146.0L274.9 141.8L260.4 143.2L246.0 138.9L231.5 137.4L217.0 138.9L200.0 138.0L186.0 132.0L180.0 120.0L176.5 112.8Z" fill="none" stroke="url(#p0000005)" stroke-width="4"/>
<path d="M178.0 101.0L186.6 89.7L202.5 84.0L217.0 75.2L231.5 72.3L246.0 72.3L260.4 76.7L272.0 82.5L282.0 91.0L295.0 101.3L302.4 115.7L306.7 130.2L315.4 133.0L327.0 133.0L329.8 144.7L327.0 153.4L315.4 153.4L303.8 149.0L289.3 146.0L274.9 141.8L260.4 143.2L246.0 138.9L231.5 137.4L217.0 138.9L200.0 138.0L186.0 132.0L180.0 120.0L176.5 112.8Z" fill="none" stroke="url(#pffffff6)" stroke-width="4"/>
<path d="M182.0 146.0L200.0 144.0L217.0 144.7L240.0 146.0L260.4 149.0L282.0 153.4L303.8 156.3L318.3 162.0L327.0 173.6L335.6 185.2L344.3 191.0L354.4 202.5L361.7 217.0L356.0 225.7L344.3 235.8L329.8 246.0L309.6 257.5L298.0 259.0L279.2 256.0L264.7 258.0L246.0 252.0L238.0 240.0L230.0 232.0L220.0 230.0L205.0 228.0L198.0 215.0L192.0 200.0L186.0 185.0L180.0 170.0L185.0 155.0Z" fill="#000000"/>
<path d="M182.0 146.0L200.0 144.0L217.0 144.7L240.0 146.0L260.4 149.0L282.0 153.4L303.8 156.3L318.3 162.0L327.0 173.6L335.6 185.2L344.3 191.0L354.4 202.5L361.7 217.0L356.0 225.7L344.3 235.8L329.8 246.0L309.6 257.5L298.0 259.0L279.2 256.0L264.7 258.0L246.0 252.0L238.0 240.0L230.0 232.0L220.0 230.0L205.0 228.0L198.0 215.0L192.0 200.0L186.0 185.0L180.0 170.0L185.0 155.0Z" fill="url(#pffffff5)"/>
<path d="M182.0 146.0L200.0 144.0L217.0 144.7L240.0 146.0L260.4 149.0L282.0 153.4L303.8 156.3L318.3 162.0L327.0 173.6L335.6 185.2L344.3 191.0L354.4 202.5L361.7 217.0L356.0 225.7L344.3 235.8L329.8 246.0L309.6 257.5L298.0 259.0L279.2 256.0L264.7 258.0L246.0 252.0L238.0 240.0L230.0 232.0L220.0 230.0L205.0 228.0L198.0 215.0L192.0 200.0L186.0 185.0L180.0 170.0L185.0 155.0Z" fill="none" stroke="url(#p0000005)" stroke-width="4"/>
<path d="M182.0 146.0L200.0 144.0L217.0 144.7L240.0 146.0L260.4 149.0L282.0 153.4L303.8 156.3L318.3 162.0L327.0 173.6L335.6 185.2L344.3 191.0L354.4 202.5L361.7 217.0L356.0 225.7L344.3 235.8L329.8 246.0L309.6 257.5L298.0 259.0L279.2 256.0L264.7 258.0L246.0 252.0L238.0 240.0L230.0 232.0L220.0 230.0L205.0 228.0L198.0 215.0L192.0 200.0L186.0 185.0L180.0 170.0L185.0 155.0Z" fill="none" stroke="url(#pffffff6)" stroke-width="4"/>
<ellipse cx="264" cy="238" rx="26" ry="20" fill="#000000"/>
<ellipse cx="264" cy="238" rx="26" ry="20" fill="url(#pffffff0)"/>
<ellipse cx="264" cy="238" rx="26" ry="20" fill="none" stroke="url(#p0000005)" stroke-width="4"/>
<ellipse cx="264" cy="238" rx="26" ry="20" fill="none" stroke="url(#pffffff6)" stroke-width="4"/>
<path d="M290.0 235.0L310.0 232.0L330.0 228.0L345.0 215.0L340.0 195.0L350.0 190.0L360.0 205.0L362.0 218.0L356.0 228.0L344.0 238.0L330.0 247.0L310.0 258.0L295.0 258.0L288.0 248.0Z" fill="#000000"/>
<path d="M290.0 235.0L310.0 232.0L330.0 228.0L345.0 215.0L340.0 195.0L350.0 190.0L360.0 205.0L362.0 218.0L356.0 228.0L344.0 238.0L330.0 247.0L310.0 258.0L295.0 258.0L288.0 248.0Z" fill="url(#pffffff1)"/>
<path d="M290.0 235.0L310.0 232.0L330.0 228.0L345.0 215.0L340.0 195.0L350.0 190.0L360.0 205.0L362.0 218.0L356.0 228.0L344.0 238.0L330.0 247.0L310.0 258.0L295.0 258.0L288.0 248.0Z" fill="none" stroke="url(#p0000005)" stroke-width="4"/>
<path d="M290.0 235.0L310.0 232.0L330.0 228.0L345.0 215.0L340.0 195.0L350.0 190.0L360.0 205.0L362.0 218.0L356.0 228.0L344.0 238.0L330.0 247.0L310.0 258.0L295.0 258.0L288.0 248.0Z" fill="none" stroke="url(#pffffff6)" stroke-width="4"/>
<path d="M90.0 100.0L98.0 94.0L106.0 92.0L110.0 100.0L108.0 112.0L102.0 119.0L94.0 120.0L90.0 112.0Z" fill="#000000"/>
<path d="M90.0 100.0L98.0 94.0L106.0 92.0L110.0 100.0L108.0 112.0L102.0 119.0L94.0 120.0L90.0 112.0Z" fill="url(#pffffff1)"/>
<path d="M90.0 100.0L98.0 94.0L106.0 92.0L110.0 100.0L108.0 112.0L102.0 119.0L94.0 120.0L90.0 112.0Z" fill="none" stroke="url(#p0000005)" stroke-width="4"/>
<path d="M90.0 100.0L98.0 94.0L106.0 92.0L110.0 100.0L108.0 112.0L102.0 119.0L94.0 120.0L90.0 112.0Z" fill="none" stroke="url(#pffffff6)" stroke-width="4"/>
<path d="M104.0 92.0L115.0 84.0L128.0 78.0L134.0 82.0L130.0 90.0L118.0 96.0L108.0 100.0Z" fill="#000000"/>
<path d="M104.0 92.0L115.0 84.0L128.0 78.0L134.0 82.0L130.0 90.0L118.0 96.0L108.0 100.0Z" fill="url(#pffffff5)"/>
<path d="M104.0 92.0L115.0 84.0L128.0 78.0L134.0 82.0L130.0 90.0L118.0 96.0L108.0 100.0Z" fill="none" stroke="url(#p0000005)" stroke-width="4"/>
<path d="M104.0 92.0L115.0 84.0L128.0 78.0L134.0 82.0L130.0 90.0L118.0 96.0L108.0 100.0Z" fill="none" stroke="url(#pffffff6)" stroke-width="4"/>
<path d="M136.0 66.0L145.0 62.0L155.0 63.0L162.0 70.0L162.0 82.0L156.0 90.0L146.0 91.0L138.0 86.0L135.0 76.0Z" fill="#000000"/>
<path d="M136.0 66.0L145.0 62.0L155.0 63.0L162.0 70.0L162.0 82.0L156.0 90.0L146.0 91.0L138.0 86.0L135.0 76.0Z" fill="url(#pffffff5)"/>
<path d="M136.0 66.0L145.0 62.0L155.0 63.0L162.0 70.0L162.0 82.0L156.0 90.0L146.0 91.0L138.0 86.0L135.0 76.0Z" fill="none" stroke="url(#p0000005)" stroke-width="4"/>
<path d="M136.0 66.0L145.0 62.0L155.0 63.0L162.0 70.0L162.0 82.0L156.0 90.0L146.0 91.0L138.0 86.0L135.0 76.0Z" fill="none" stroke="url(#pffffff6)" stroke-width="4"/>
<path d="M139.0 70.0L147.0 66.0L156.0 68.0L160.0 76.0L157.0 86.0L147.0 88.0L140.0 83.0Z" fill="#ff0000"/>
<path d="M139.0 70.0L147.0 66.0L156.0 68.0L160.0 76.0L157.0 86.0L147.0 88.0L140.0 83.0Z" fill="url(#pffffff5)"/>
<path d="M139.0 70.0L147.0 66.0L156.0 68.0L160.0 76.0L157.0 86.0L147.0 88.0L140.0 83.0Z" fill="none" stroke="url(#pff00005)" stroke-width="4"/>
<path d="M139.0 70.0L147.0 66.0L156.0 68.0L160.0 76.0L157.0 86.0L147.0 88.0L140.0 83.0Z" fill="none" stroke="url(#pffffff6)" stroke-width="4"/>
<path d="M120.0 108.0L130.0 102.0L145.0 101.0L152.0 106.0L145.0 112.0L130.0 113.0Z" fill="#000000"/>
<path d="M120.0 108.0L130.0 102.0L145.0 101.0L152.0 106.0L145.0 112.0L130.0 113.0Z" fill="url(#pffffff5)"/>
<path d="M120.0 108.0L130.0 102.0L145.0 101.0L152.0 106.0L145.0 112.0L130.0 113.0Z" fill="none" stroke="url(#p0000005)" stroke-width="4"/>
<path d="M120.0 108.0L130.0 102.0L145.0 101.0L152.0 106.0L145.0 112.0L130.0 113.0Z" fill="none" stroke="url(#pffffff6)" stroke-width="4"/>
<path d="M119.0 140.0L125.0 130.0L135.0 127.0L145.0 130.0L140.0 136.0L130.0 140.0L126.0 150.0L120.0 152.0Z" fill="#000000"/>
<path d="M119.0 140.0L125.0 130.0L135.0 127.0L145.0 130.0L140.0 136.0L130.0 140.0L126.0 150.0L120.0 152.0Z" fill="url(#pffffff5)"/>
<path d="M119.0 140.0L125.0 130.0L135.0 127.0L145.0 130.0L140.0 136.0L130.0 140.0L126.0 150.0L120.0 152.0Z" fill="none" stroke="url(#p0000005)" stroke-width="4"/>
<path d="M119.0 140.0L125.0 130.0L135.0 127.0L145.0 130.0L140.0 136.0L130.0 140.0L126.0 150.0L120.0 152.0Z" fill="none" stroke="url(#pffffff6)" stroke-width="4"/>
<path d="M97.0 140.0L104.0 137.0L108.0 140.0L106.0 146.0L108.0 152.0L103.0 156.0L97.0 153.0L96.0 146.0Z" fill="#000000"/>
<path d="M97.0 140.0L104.0 137.0L108.0 140.0L106.0 146.0L108.0 152.0L103.0 156.0L97.0 153.0L96.0 146.0Z" fill="url(#pffffff1)"/>
<path d="M97.0 140.0L104.0 137.0L108.0 140.0L106.0 146.0L108.0 152.0L103.0 156.0L97.0 153.0L96.0 146.0Z" fill="none" stroke="url(#p0000005)" stroke-width="4"/>
<path d="M97.0 140.0L104.0 137.0L108.0 140.0L106.0 146.0L108.0 152.0L103.0 156.0L97.0 153.0L96.0 146.0Z" fill="none" stroke="url(#pffffff6)" stroke-width="4"/>
<path d="M142.0 128.0L150.0 120.0L162.0 119.0L172.0 124.0L178.0 135.0L178.0 152.0L172.0 165.0L162.0 171.0L150.0 168.0L142.0 158.0L139.0 145.0Z" fill="#000000"/>
<path d="M142.0 128.0L150.0 120.0L162.0 119.0L172.0 124.0L178.0 135.0L178.0 152.0L172.0 165.0L162.0 171.0L150.0 168.0L142.0 158.0L139.0 145.0Z" fill="url(#pffffff5)"/>
<path d="M142.0 128.0L150.0 120.0L162.0 119.0L172.0 124.0L178.0 135.0L178.0 152.0L172.0 165.0L162.0 171.0L150.0 168.0L142.0 158.0L139.0 145.0Z" fill="none" stroke="url(#p0000005)" stroke-width="4"/>
<path d="M142.0 128.0L150.0 120.0L162.0 119.0L172.0 124.0L178.0 135.0L178.0 152.0L172.0 165.0L162.0 171.0L150.0 168.0L142.0 158.0L139.0 145.0Z" fill="none" stroke="url(#pffffff6)" stroke-width="4"/>
<path d="M147.0 138.0L155.0 133.0L167.0 134.0L175.0 140.0L176.0 152.0L168.0 158.0L156.0 158.0L148.0 152.0Z" fill="#ff0000"/>
<path d="M147.0 138.0L155.0 133.0L167.0 134.0L175.0 140.0L176.0 152.0L168.0 158.0L156.0 158.0L148.0 152.0Z" fill="url(#pffffff5)"/>
<path d="M147.0 138.0L155.0 133.0L167.0 134.0L175.0 140.0L176.0 152.0L168.0 158.0L156.0 158.0L148.0 152.0Z" fill="none" stroke="url(#pff00005)" stroke-width="4"/>
<path d="M147.0 138.0L155.0 133.0L167.0 134.0L175.0 140.0L176.0 152.0L168.0 158.0L156.0 158.0L148.0 152.0Z" fill="none" stroke="url(#pffffff6)" stroke-width="4"/>
<path d="M255.0 50.0L262.0 44.0L272.0 46.0L275.0 58.0L270.0 68.0L258.0 66.0Z" fill="#000000"/>
<path d="M255.0 50.0L262.0 44.0L272.0 46.0L275.0 58.0L270.0 68.0L258.0 66.0Z" fill="url(#pffffff7)"/>
<path d="M255.0 50.0L262.0 44.0L272.0 46.0L275.0 58.0L270.0 68.0L258.0 66.0Z" fill="none" stroke="url(#p0000005)" stroke-width="4"/>
<path d="M255.0 50.0L262.0 44.0L272.0 46.0L275.0 58.0L270.0 68.0L258.0 66.0Z" fill="none" stroke="url(#pffffff6)" stroke-width="4"/>
<path d="M108.0 320.0L118.0 310.0L132.0 305.0L148.0 303.0L160.0 310.0L166.0 325.0L163.0 345.0L155.0 357.0L140.0 362.0L122.0 360.0L110.0 350.0L105.0 335.0Z" fill="#000000"/>
<path d="M108.0 320.0L118.0 310.0L132.0 305.0L148.0 303.0L160.0 310.0L166.0 325.0L163.0 345.0L155.0 357.0L140.0 362.0L122.0 360.0L110.0 350.0L105.0 335.0Z" fill="url(#pffffff5)"/>
<path d="M108.0 320.0L118.0 310.0L132.0 305.0L148.0 303.0L160.0 310.0L166.0 325.0L163.0 345.0L155.0 357.0L140.0 362.0L122.0 360.0L110.0 350.0L105.0 335.0Z" fill="none" stroke="url(#p0000005)" stroke-width="4"/>
<path d="M108.0 320.0L118.0 310.0L132.0 305.0L148.0 303.0L160.0 310.0L166.0 325.0L163.0 345.0L155.0 357.0L140.0 362.0L122.0 360.0L110.0 350.0L105.0 335.0Z" fill="none" stroke="url(#pffffff6)" stroke-width="4"/>
<path d="M156.0 296.0L162.0 283.0L170.0 275.0L172.0 283.0L165.0 298.0Z" fill="#000000"/>
<path d="M156.0 296.0L162.0 283.0L170.0 275.0L172.0 283.0L165.0 298.0Z" fill="url(#pffffff4)"/>
<path d="M156.0 296.0L162.0 283.0L170.0 275.0L172.0 283.0L165.0 298.0Z" fill="none" stroke="url(#p0000005)" stroke-width="4"/>
<path d="M156.0 296.0L162.0 283.0L170.0 275.0L172.0 283.0L165.0 298.0Z" fill="none" stroke="url(#pffffff6)" stroke-width="4"/>
<path d="M329.0 255.0L335.0 248.0L345.0 245.0L355.0 247.0L362.0 252.0L370.0 262.0L376.0 270.0L365.0 268.0L352.0 271.0L340.0 271.0L332.0 266.0Z" fill="#000000"/>
<path d="M329.0 255.0L335.0 248.0L345.0 245.0L355.0 247.0L362.0 252.0L370.0 262.0L376.0 270.0L365.0 268.0L352.0 271.0L340.0 271.0L332.0 266.0Z" fill="url(#pffffff5)"/>
<path d="M329.0 255.0L335.0 248.0L345.0 245.0L355.0 247.0L362.0 252.0L370.0 262.0L376.0 270.0L365.0 268.0L352.0 271.0L340.0 271.0L332.0 266.0Z" fill="none" stroke="url(#p0000005)" stroke-width="4"/>
<path d="M329.0 255.0L335.0 248.0L345.0 245.0L355.0 247.0L362.0 252.0L370.0 262.0L376.0 270.0L365.0 268.0L352.0 271.0L340.0 271.0L332.0 266.0Z" fill="none" stroke="url(#pffffff6)" stroke-width="4"/>
<path d="M368.0 178.0L380.0 174.0L390.0 185.0L390.0 205.0L385.0 217.0L372.0 217.0L368.0 200.0Z" fill="#000000"/>
<path d="M368.0 178.0L380.0 174.0L390.0 185.0L390.0 205.0L385.0 217.0L372.0 217.0L368.0 200.0Z" fill="url(#pffffff7)"/>
<path d="M368.0 178.0L380.0 174.0L390.0 185.0L390.0 205.0L385.0 217.0L372.0 217.0L368.0 200.0Z" fill="none" stroke="url(#p0000005)" stroke-width="4"/>
<path d="M368.0 178.0L380.0 174.0L390.0 185.0L390.0 205.0L385.0 217.0L372.0 217.0L368.0 200.0Z" fill="none" stroke="url(#pffffff6)" stroke-width="4"/>
<path d="M172.0 285.0L185.0 274.0L205.0 276.0L225.0 285.0L240.0 300.0L250.0 320.0L250.0 345.0L240.0 362.0L225.0 372.0L205.0 376.0L190.0 372.0L178.0 360.0L172.0 340.0L170.0 310.0Z" fill="#000000"/>
<path d="M172.0 285.0L185.0 274.0L205.0 276.0L225.0 285.0L240.0 300.0L250.0 320.0L250.0 345.0L240.0 362.0L225.0 372.0L205.0 376.0L190.0 372.0L178.0 360.0L172.0 340.0L170.0 310.0Z" fill="url(#pffffff5)"/>
<path d="M172.0 285.0L185.0 274.0L205.0 276.0L225.0 285.0L240.0 300.0L250.0 320.0L250.0 345.0L240.0 362.0L225.0 372.0L205.0 376.0L190.0 372.0L178.0 360.0L172.0 340.0L170.0 310.0Z" fill="none" stroke="url(#p0000005)" stroke-width="4"/>
<path d="M172.0 285.0L185.0 274.0L205.0 276.0L225.0 285.0L240.0 300.0L250.0 320.0L250.0 345.0L240.0 362.0L225.0 372.0L205.0 376.0L190.0 372.0L178.0 360.0L172.0 340.0L170.0 310.0Z" fill="none" stroke="url(#pffffff6)" stroke-width="4"/>
<path d="M175.0 282.0L195.0 276.0L215.0 282.0L232.0 295.0L240.0 315.0L235.0 335.0L220.0 337.0L205.0 325.0L190.0 315.0L178.0 305.0Z" fill="#00ff00"/>
<path d="M175.0 282.0L195.0 276.0L215.0 282.0L232.0 295.0L240.0 315.0L235.0 335.0L220.0 337.0L205.0 325.0L190.0 315.0L178.0 305.0Z" fill="url(#pffffff5)"/>
<path d="M175.0 282.0L195.0 276.0L215.0 282.0L232.0 295.0L240.0 315.0L235.0 335.0L220.0 337.0L205.0 325.0L190.0 315.0L178.0 305.0Z" fill="none" stroke="url(#p00ff005)" stroke-width="4"/>
<path d="M175.0 282.0L195.0 276.0L215.0 282.0L232.0 295.0L240.0 315.0L235.0 335.0L220.0 337.0L205.0 325.0L190.0 315.0L178.0 305.0Z" fill="none" stroke="url(#pffffff6)" stroke-width="4"/>
<path d="M63.7 178.0L72.3 163.5L81.0 156.3L94.0 163.5L108.5 166.4L130.2 167.8L144.7 169.3L159.0 173.6L173.6 178.0L183.7 188.0L192.4 202.5L197.0 217.0L198.0 230.0L195.0 240.0L180.0 243.0L167.0 242.0L158.0 236.0L152.0 233.0L150.0 245.0L146.0 262.0L135.0 270.0L127.0 278.0L127.3 286.4L121.5 298.0L111.4 306.7L98.4 312.5L86.8 309.6L72.3 298.0L60.8 277.8L57.9 253.2L59.3 228.6L63.0 210.0L64.0 195.0Z" fill="#0000ff"/>
<path d="M63.7 178.0L72.3 163.5L81.0 156.3L94.0 163.5L108.5 166.4L130.2 167.8L144.7 169.3L159.0 173.6L173.6 178.0L183.7 188.0L192.4 202.5L197.0 217.0L198.0 230.0L195.0 240.0L180.0 243.0L167.0 242.0L158.0 236.0L152.0 233.0L150.0 245.0L146.0 262.0L135.0 270.0L127.0 278.0L127.3 286.4L121.5 298.0L111.4 306.7L98.4 312.5L86.8 309.6L72.3 298.0L60.8 277.8L57.9 253.2L59.3 228.6L63.0 210.0L64.0 195.0Z" fill="none" stroke="url(#p0000ff5)" stroke-width="4"/>
<path d="M63.7 178.0L72.3 163.5L81.0 156.3L94.0 163.5L108.5 166.4L130.2 167.8L144.7 169.3L159.0 173.6L173.6 178.0L183.7 188.0L192.4 202.5L197.0 217.0L198.0 230.0L195.0 240.0L180.0 243.0L167.0 242.0L158.0 236.0L152.0 233.0L150.0 245.0L146.0 262.0L135.0 270.0L127.0 278.0L127.3 286.4L121.5 298.0L111.4 306.7L98.4 312.5L86.8 309.6L72.3 298.0L60.8 277.8L57.9 253.2L59.3 228.6L63.0 210.0L64.0 195.0Z" fill="none" stroke="url(#pffffff6)" stroke-width="4"/>
<path d="M62.0 235.0L80.0 228.0L100.0 232.0L115.0 240.0L125.0 255.0L127.0 280.0L120.0 298.0L100.0 311.0L85.0 308.0L70.0 295.0L60.0 275.0L58.0 250.0Z" fill="url(#p0000005)"/>
<path d="M64.0 180.0L80.0 170.0L95.0 175.0L100.0 195.0L90.0 215.0L75.0 220.0L64.0 210.0Z" fill="url(#p0000005)"/>
<path d="M201.0 268.0L208.0 252.0L218.0 240.0L228.0 232.0L230.0 248.0L228.0 262.0L220.0 270.0L208.0 271.0Z" fill="#0000ff"/>
<path d="M201.0 268.0L208.0 252.0L218.0 240.0L228.0 232.0L230.0 248.0L228.0 262.0L220.0 270.0L208.0 271.0Z" fill="none" stroke="url(#p0000ff5)" stroke-width="4"/>
<path d="M201.0 268.0L208.0 252.0L218.0 240.0L228.0 232.0L230.0 248.0L228.0 262.0L220.0 270.0L208.0 271.0Z" fill="none" stroke="url(#pffffff6)" stroke-width="4"/>
<path d="M201.0 272.0L215.0 271.0L228.0 274.0L228.0 288.0L215.0 288.0L203.0 283.0Z" fill="#000000"/>
<path d="M201.0 272.0L215.0 271.0L228.0 274.0L228.0 288.0L215.0 288.0L203.0 283.0Z" fill="url(#pffffff3)"/>
<path d="M201.0 272.0L215.0 271.0L228.0 274.0L228.0 288.0L215.0 288.0L203.0 283.0Z" fill="none" stroke="url(#p0000005)" stroke-width="4"/>
<path d="M201.0 272.0L215.0 271.0L228.0 274.0L228.0 288.0L215.0 288.0L203.0 283.0Z" fill="none" stroke="url(#pffffff6)" stroke-width="4"/>
<path d="M229.0 262.0L245.0 258.0L262.0 262.0L268.0 275.0L265.0 300.0L250.0 302.0L238.0 295.0L230.0 280.0Z" fill="#000000"/>
<path d="M229.0 262.0L245.0 258.0L262.0 262.0L268.0 275.0L265.0 300.0L250.0 302.0L238.0 295.0L230.0 280.0Z" fill="url(#pffffff5)"/>
<path d="M229.0 262.0L245.0 258.0L262.0 262.0L268.0 275.0L265.0 300.0L250.0 302.0L238.0 295.0L230.0 280.0Z" fill="none" stroke="url(#p0000005)" stroke-width="4"/>
<path d="M229.0 262.0L245.0 258.0L262.0 262.0L268.0 275.0L265.0 300.0L250.0 302.0L238.0 295.0L230.0 280.0Z" fill="none" stroke="url(#pffffff6)" stroke-width="4"/>
<path d="M245.0 270.0L252.0 268.0L262.0 266.0L270.0 264.0L282.0 266.0L290.0 275.0L291.0 290.0L296.0 284.0L303.0 273.0L315.0 272.0L330.0 275.0L328.0 290.0L318.0 303.0L305.0 311.0L290.0 318.0L275.0 324.0L262.0 326.0L252.0 322.0L245.0 310.0L240.0 298.0L238.0 285.0Z" fill="#0000ff"/>
<path d="M245.0 270.0L252.0 268.0L262.0 266.0L270.0 264.0L282.0 266.0L290.0 275.0L291.0 290.0L296.0 284.0L303.0 273.0L315.0 272.0L330.0 275.0L328.0 290.0L318.0 303.0L305.0 311.0L290.0 318.0L275.0 324.0L262.0 326.0L252.0 322.0L245.0 310.0L240.0 298.0L238.0 285.0Z" fill="none" stroke="url(#p0000ff5)" stroke-width="4"/>
<path d="M245.0 270.0L252.0 268.0L262.0 266.0L270.0 264.0L282.0 266.0L290.0 275.0L291.0 290.0L296.0 284.0L303.0 273.0L315.0 272.0L330.0 275.0L328.0 290.0L318.0 303.0L305.0 311.0L290.0 318.0L275.0 324.0L262.0 326.0L252.0 322.0L245.0 310.0L240.0 298.0L238.0 285.0Z" fill="none" stroke="url(#pffffff6)" stroke-width="4"/>
<path d="M238.0 272.0L252.0 268.0L270.0 264.0L282.0 266.0L280.0 300.0L290.0 318.0L275.0 324.0L262.0 326.0L252.0 322.0L245.0 310.0L240.0 298.0Z" fill="url(#p0000005)"/>
<path d="M296.0 284.0L303.0 273.0L315.0 272.0L330.0 275.0L328.0 290.0L318.0 303.0L305.0 311.0L296.0 300.0Z" fill="url(#pffffff3)"/>
<path d="M328.0 159.0L340.0 159.0L340.0 165.0L328.0 165.0Z" fill="#0000ff"/>
<path d="M328.0 159.0L340.0 159.0L340.0 165.0L328.0 165.0Z" fill="none" stroke="url(#p0000ff5)" stroke-width="4"/>
<path d="M328.0 159.0L340.0 159.0L340.0 165.0L328.0 165.0Z" fill="none" stroke="url(#pffffff6)" stroke-width="4"/>
<path d="M375.0 151.0L385.0 150.0L385.0 157.0L375.0 158.0Z" fill="#0000ff"/>
<path d="M375.0 151.0L385.0 150.0L385.0 157.0L375.0 158.0Z" fill="none" stroke="url(#p0000ff5)" stroke-width="4"/>
<path d="M375.0 151.0L385.0 150.0L385.0 157.0L375.0 158.0Z" fill="none" stroke="url(#pffffff6)" stroke-width="4"/>
<path d="M172.0 47.7L182.0 43.4L195.0 39.0L209.8 36.0L217.0 37.6L223.0 45.0L224.0 58.0L220.0 66.0L210.0 72.0L198.0 78.0L185.0 81.0L176.5 75.2L172.0 60.8Z" fill="#ff00ff"/>
<path d="M172.0 47.7L182.0 43.4L195.0 39.0L209.8 36.0L217.0 37.6L223.0 45.0L224.0 58.0L220.0 66.0L210.0 72.0L198.0 78.0L185.0 81.0L176.5 75.2L172.0 60.8Z" fill="url(#pffffff3)"/>
<path d="M172.0 47.7L182.0 43.4L195.0 39.0L209.8 36.0L217.0 37.6L223.0 45.0L224.0 58.0L220.0 66.0L210.0 72.0L198.0 78.0L185.0 81.0L176.5 75.2L172.0 60.8Z" fill="none" stroke="url(#pff00ff5)" stroke-width="4"/>
<path d="M172.0 47.7L182.0 43.4L195.0 39.0L209.8 36.0L217.0 37.6L223.0 45.0L224.0 58.0L220.0 66.0L210.0 72.0L198.0 78.0L185.0 81.0L176.5 75.2L172.0 60.8Z" fill="none" stroke="url(#pffffff6)" stroke-width="4"/>
<path d="M178.0 48.0L195.0 42.0L215.0 40.0L222.0 50.0L218.0 64.0L200.0 74.0L185.0 76.0L178.0 65.0Z" fill="url(#p0000006)"/>
<path d="M282.0 72.3L298.0 73.8L309.6 76.7L318.3 86.8L332.7 88.3L347.2 92.6L360.2 98.4L367.5 110.0L368.9 123.0L368.9 144.7L368.9 166.4L366.0 188.0L367.5 202.5L368.9 217.0L361.7 217.0L354.4 188.0L344.3 166.4L337.0 144.7L332.7 123.0L324.0 105.6L311.0 101.3L298.0 89.7L285.0 78.0Z" fill="#ff00ff"/>
<path d="M282.0 72.3L298.0 73.8L309.6 76.7L318.3 86.8L332.7 88.3L347.2 92.6L360.2 98.4L367.5 110.0L368.9 123.0L368.9 144.7L368.9 166.4L366.0 188.0L367.5 202.5L368.9 217.0L361.7 217.0L354.4 188.0L344.3 166.4L337.0 144.7L332.7 123.0L324.0 105.6L311.0 101.3L298.0 89.7L285.0 78.0Z" fill="url(#pffffff3)"/>
<path d="M282.0 72.3L298.0 73.8L309.6 76.7L318.3 86.8L332.7 88.3L347.2 92.6L360.2 98.4L367.5 110.0L368.9 123.0L368.9 144.7L368.9 166.4L366.0 188.0L367.5 202.5L368.9 217.0L361.7 217.0L354.4 188.0L344.3 166.4L337.0 144.7L332.7 123.0L324.0 105.6L311.0 101.3L298.0 89.7L285.0 78.0Z" fill="none" stroke="url(#pff00ff5)" stroke-width="4"/>
<path d="M282.0 72.3L298.0 73.8L309.6 76.7L318.3 86.8L332.7 88.3L347.2 92.6L360.2 98.4L367.5 110.0L368.9 123.0L368.9 144.7L368.9 166.4L366.0 188.0L367.5 202.5L368.9 217.0L361.7 217.0L354.4 188.0L344.3 166.4L337.0 144.7L332.7 123.0L324.0 105.6L311.0 101.3L298.0 89.7L285.0 78.0Z" fill="none" stroke="url(#pffffff6)" stroke-width="4"/>
<path d="M368.9 217.0L380.0 212.0L397.8 217.0L399.3 234.4L395.0 248.8L383.4 256.0L368.9 251.7L358.8 240.1L357.3 231.5L364.6 222.8Z" fill="#ff00ff"/>
<path d="M368.9 217.0L380.0 212.0L397.8 217.0L399.3 234.4L395.0 248.8L383.4 256.0L368.9 251.7L358.8 240.1L357.3 231.5L364.6 222.8Z" fill="url(#pffffff2)"/>
<path d="M368.9 217.0L380.0 212.0L397.8 217.0L399.3 234.4L395.0 248.8L383.4 256.0L368.9 251.7L358.8 240.1L357.3 231.5L364.6 222.8Z" fill="none" stroke="url(#pff00ff5)" stroke-width="4"/>
<path d="M368.9 217.0L380.0 212.0L397.8 217.0L399.3 234.4L395.0 248.8L383.4 256.0L368.9 251.7L358.8 240.1L357.3 231.5L364.6 222.8Z" fill="none" stroke="url(#pffffff6)" stroke-width="4"/>
<path d="M361.7 277.8L366.0 282.0L367.5 296.6L364.6 311.0L354.4 327.0L332.7 344.3L303.8 361.7L274.9 379.0L246.0 392.0L217.0 395.0L200.0 394.0L180.0 390.0L165.0 382.0L155.0 372.0L148.0 355.0L146.0 342.0L152.0 340.0L160.0 352.0L168.0 368.0L178.0 376.0L195.0 380.0L217.0 373.3L231.5 361.7L246.0 347.2L264.7 335.6L289.3 327.0L311.0 321.2L321.2 311.0L332.7 296.6L347.2 282.0Z" fill="#ff00ff"/>
<path d="M361.7 277.8L366.0 282.0L367.5 296.6L364.6 311.0L354.4 327.0L332.7 344.3L303.8 361.7L274.9 379.0L246.0 392.0L217.0 395.0L200.0 394.0L180.0 390.0L165.0 382.0L155.0 372.0L148.0 355.0L146.0 342.0L152.0 340.0L160.0 352.0L168.0 368.0L178.0 376.0L195.0 380.0L217.0 373.3L231.5 361.7L246.0 347.2L264.7 335.6L289.3 327.0L311.0 321.2L321.2 311.0L332.7 296.6L347.2 282.0Z" fill="url(#pffffff3)"/>
<path d="M361.7 277.8L366.0 282.0L367.5 296.6L364.6 311.0L354.4 327.0L332.7 344.3L303.8 361.7L274.9 379.0L246.0 392.0L217.0 395.0L200.0 394.0L180.0 390.0L165.0 382.0L155.0 372.0L148.0 355.0L146.0 342.0L152.0 340.0L160.0 352.0L168.0 368.0L178.0 376.0L195.0 380.0L217.0 373.3L231.5 361.7L246.0 347.2L264.7 335.6L289.3 327.0L311.0 321.2L321.2 311.0L332.7 296.6L347.2 282.0Z" fill="none" stroke="url(#pff00ff5)" stroke-width="4"/>
<path d="M361.7 277.8L366.0 282.0L367.5 296.6L364.6 311.0L354.4 327.0L332.7 344.3L303.8 361.7L274.9 379.0L246.0 392.0L217.0 395.0L200.0 394.0L180.0 390.0L165.0 382.0L155.0 372.0L148.0 355.0L146.0 342.0L152.0 340.0L160.0 352.0L168.0 368.0L178.0 376.0L195.0 380.0L217.0 373.3L231.5 361.7L246.0 347.2L264.7 335.6L289.3 327.0L311.0 321.2L321.2 311.0L332.7 296.6L347.2 282.0Z" fill="none" stroke="url(#pffffff6)" stroke-width="4"/>
<path d="M217.0 373.0L246.0 347.0L275.0 333.0L300.0 326.0L300.0 362.0L275.0 379.0L246.0 392.0L217.0 395.0L190.0 390.0L165.0 382.0L150.0 360.0L160.0 352.0L175.0 374.0L195.0 380.0Z" fill="url(#p0000004)"/>
<path d="M69.0 315.0L78.0 300.0L95.0 310.0L112.0 305.0L130.0 300.0L143.0 298.0L146.0 306.0L137.0 318.0L123.0 321.0L104.0 327.0L90.0 337.0L78.0 336.0L70.0 328.0Z" fill="#ff00ff"/>
<path d="M69.0 315.0L78.0 300.0L95.0 310.0L112.0 305.0L130.0 300.0L143.0 298.0L146.0 306.0L137.0 318.0L123.0 321.0L104.0 327.0L90.0 337.0L78.0 336.0L70.0 328.0Z" fill="url(#pffffff3)"/>
<path d="M69.0 315.0L78.0 300.0L95.0 310.0L112.0 305.0L130.0 300.0L143.0 298.0L146.0 306.0L137.0 318.0L123.0 321.0L104.0 327.0L90.0 337.0L78.0 336.0L70.0 328.0Z" fill="none" stroke="url(#pff00ff5)" stroke-width="4"/>
<path d="M69.0 315.0L78.0 300.0L95.0 310.0L112.0 305.0L130.0 300.0L143.0 298.0L146.0 306.0L137.0 318.0L123.0 321.0L104.0 327.0L90.0 337.0L78.0 336.0L70.0 328.0Z" fill="none" stroke="url(#pffffff6)" stroke-width="4"/>
<path d="M72.0 125.0L80.0 119.0L92.0 121.0L104.0 122.0L115.0 120.0L114.0 130.0L108.0 137.0L95.0 137.0L80.0 136.0L72.0 132.0Z" fill="#ff00ff"/>
<path d="M72.0 125.0L80.0 119.0L92.0 121.0L104.0 122.0L115.0 120.0L114.0 130.0L108.0 137.0L95.0 137.0L80.0 136.0L72.0 132.0Z" fill="url(#pffffff4)"/>
<path d="M72.0 125.0L80.0 119.0L92.0 121.0L104.0 122.0L115.0 120.0L114.0 130.0L108.0 137.0L95.0 137.0L80.0 136.0L72.0 132.0Z" fill="none" stroke="url(#pff00ff5)" stroke-width="4"/>
<path d="M72.0 125.0L80.0 119.0L92.0 121.0L104.0 122.0L115.0 120.0L114.0 130.0L108.0 137.0L95.0 137.0L80.0 136.0L72.0 132.0Z" fill="none" stroke="url(#pffffff6)" stroke-width="4"/>
<path d="M154.0 268.0L160.0 265.0L166.0 267.0L166.0 273.0L156.0 274.0Z" fill="#ff00ff"/>
<path d="M154.0 268.0L160.0 265.0L166.0 267.0L166.0 273.0L156.0 274.0Z" fill="url(#pffffff1)"/>
<path d="M154.0 268.0L160.0 265.0L166.0 267.0L166.0 273.0L156.0 274.0Z" fill="none" stroke="url(#pff00ff5)" stroke-width="4"/>
<path d="M154.0 268.0L160.0 265.0L166.0 267.0L166.0 273.0L156.0 274.0Z" fill="none" stroke="url(#pffffff6)" stroke-width="4"/>
<path d="M40.0 205.0L40.0 217.0L41.0 240.0L44.0 262.0L50.0 280.0L58.0 297.0L66.0 312.0L74.0 322.0" stroke="#ff00ff" stroke-width="3.5" fill="none" stroke-linecap="round"/>
<path d="M164.0 104.0L173.0 93.0" stroke="#ff00ff" stroke-width="4" fill="none" stroke-linecap="round"/>
<path d="M135.0 121.0L144.0 116.0" stroke="#ff00ff" stroke-width="3" fill="none" stroke-linecap="round"/>
<path d="M237.0 52.0L251.0 62.0" stroke="#ff00ff" stroke-width="5" fill="none" stroke-linecap="round"/>
<path d="M112.0 155.0L120.0 162.0L132.0 166.0" stroke="#00ff00" stroke-width="3" fill="none" stroke-linecap="round"/>
<path d="M106.0 91.0L118.0 84.0L130.0 79.0" stroke="#ff0000" stroke-width="3" fill="none" stroke-linecap="round"/>
<path d="M125.0 110.0L128.0 118.0" stroke="#00ff00" stroke-width="2" fill="none" stroke-linecap="round"/>
</g></g>
<g transform="translate(1027,604)" clip-path="url(#clip02)"><g>
<path d="M180.8 101.3L188.0 89.7L202.5 81.0L217.0 76.7L231.5 72.3L246.0 72.3L260.4 79.6L274.9 86.8L289.3 98.4L301.0 110.0L302.4 123.0L299.5 137.4L289.3 147.6L274.9 150.5L260.4 144.7L246.0 143.2L231.5 143.2L217.0 140.0L200.0 140.0L186.0 138.0L178.0 130.2L176.5 112.8Z" fill="#000000"/>
<path d="M180.8 101.3L188.0 89.7L202.5 81.0L217.0 76.7L231.5 72.3L246.0 72.3L260.4 79.6L274.9 86.8L289.3 98.4L301.0 110.0L302.4 123.0L299.5 137.4L289.3 147.6L274.9 150.5L260.4 144.7L246.0 143.2L231.5 143.2L217.0 140.0L200.0 140.0L186.0 138.0L178.0 130.2L176.5 112.8Z" fill="url(#pffffff1)"/>
<path d="M180.8 101.3L188.0 89.7L202.5 81.0L217.0 76.7L231.5 72.3L246.0 72.3L260.4 79.6L274.9 86.8L289.3 98.4L301.0 110.0L302.4 123.0L299.5 137.4L289.3 147.6L274.9 150.5L260.4 144.7L246.0 143.2L231.5 143.2L217.0 140.0L200.0 140.0L186.0 138.0L178.0 130.2L176.5 112.8Z" fill="none" stroke="url(#p0000005)" stroke-width="4"/>
<path d="M180.8 101.3L188.0 89.7L202.5 81.0L217.0 76.7L231.5 72.3L246.0 72.3L260.4 79.6L274.9 86.8L289.3 98.4L301.0 110.0L302.4 123.0L299.5 137.4L289.3 147.6L274.9 150.5L260.4 144.7L246.0 143.2L231.5 143.2L217.0 140.0L200.0 140.0L186.0 138.0L178.0 130.2L176.5 112.8Z" fill="none" stroke="url(#pffffff6)" stroke-width="4"/>
<path d="M250.0 120.0L258.0 116.0L266.0 124.0L267.0 138.0L258.0 142.0L250.0 134.0Z" fill="url(#pffffff6)"/>
<path d="M182.0 148.0L192.0 145.2L220.0 145.2L248.0 148.0L276.0 153.6L304.0 157.8L325.0 169.0L336.2 183.0L340.4 200.0L338.0 214.0L328.0 220.0L312.0 219.0L296.0 218.0L280.0 216.0L262.0 215.2L248.0 216.6L234.0 220.8L220.0 229.2L206.0 226.4L196.2 211.0L189.2 192.8L178.0 173.2L176.5 162.0Z" fill="#000000"/>
<path d="M182.0 148.0L192.0 145.2L220.0 145.2L248.0 148.0L276.0 153.6L304.0 157.8L325.0 169.0L336.2 183.0L340.4 200.0L338.0 214.0L328.0 220.0L312.0 219.0L296.0 218.0L280.0 216.0L262.0 215.2L248.0 216.6L234.0 220.8L220.0 229.2L206.0 226.4L196.2 211.0L189.2 192.8L178.0 173.2L176.5 162.0Z" fill="url(#pffffff1)"/>
<path d="M182.0 148.0L192.0 145.2L220.0 145.2L248.0 148.0L276.0 153.6L304.0 157.8L325.0 169.0L336.2 183.0L340.4 200.0L338.0 214.0L328.0 220.0L312.0 219.0L296.0 218.0L280.0 216.0L262.0 215.2L248.0 216.6L234.0 220.8L220.0 229.2L206.0 226.4L196.2 211.0L189.2 192.8L178.0 173.2L176.5 162.0Z" fill="none" stroke="url(#p0000005)" stroke-width="4"/>
<path d="M182.0 148.0L192.0 145.2L220.0 145.2L248.0 148.0L276.0 153.6L304.0 157.8L325.0 169.0L336.2 183.0L340.4 200.0L338.0 214.0L328.0 220.0L312.0 219.0L296.0 218.0L280.0 216.0L262.0 215.2L248.0 216.6L234.0 220.8L220.0 229.2L206.0 226.4L196.2 211.0L189.2 192.8L178.0 173.2L176.5 162.0Z" fill="none" stroke="url(#pffffff6)" stroke-width="4"/>
<path d="M280.0 216.0L296.0 218.0L312.0 219.0L328.0 220.0L338.0 214.0L340.0 222.0L332.0 236.0L318.0 248.0L306.8 257.2L296.0 254.0L288.0 240.0Z" fill="#000000"/>
<path d="M280.0 216.0L296.0 218.0L312.0 219.0L328.0 220.0L338.0 214.0L340.0 222.0L332.0 236.0L318.0 248.0L306.8 257.2L296.0 254.0L288.0 240.0Z" fill="url(#pffffff6)"/>
<path d="M280.0 216.0L296.0 218.0L312.0 219.0L328.0 220.0L338.0 214.0L340.0 222.0L332.0 236.0L318.0 248.0L306.8 257.2L296.0 254.0L288.0 240.0Z" fill="none" stroke="url(#p0000005)" stroke-width="4"/>
<path d="M280.0 216.0L296.0 218.0L312.0 219.0L328.0 220.0L338.0 214.0L340.0 222.0L332.0 236.0L318.0 248.0L306.8 257.2L296.0 254.0L288.0 240.0Z" fill="none" stroke="url(#pffffff6)" stroke-width="4"/>
<path d="M234.0 221.0L262.0 216.0L280.0 218.0L288.0 240.0L296.0 256.0L280.0 262.0L262.0 262.0L250.0 258.0L240.0 250.0L236.0 235.0Z" fill="#000000"/>
<path d="M234.0 221.0L262.0 216.0L280.0 218.0L288.0 240.0L296.0 256.0L280.0 262.0L262.0 262.0L250.0 258.0L240.0 250.0L236.0 235.0Z" fill="url(#pffffff7)"/>
<path d="M234.0 221.0L262.0 216.0L280.0 218.0L288.0 240.0L296.0 256.0L280.0 262.0L262.0 262.0L250.0 258.0L240.0 250.0L236.0 235.0Z" fill="none" stroke="url(#p0000005)" stroke-width="4"/>
<path d="M234.0 221.0L262.0 216.0L280.0 218.0L288.0 240.0L296.0 256.0L280.0 262.0L262.0 262.0L250.0 258.0L240.0 250.0L236.0 235.0Z" fill="none" stroke="url(#pffffff6)" stroke-width="4"/>
<path d="M304.0 133.0L318.0 130.0L330.0 138.0L330.0 152.0L315.0 152.0L304.0 146.0Z" fill="#000000"/>
<path d="M304.0 133.0L318.0 130.0L330.0 138.0L330.0 152.0L315.0 152.0L304.0 146.0Z" fill="url(#pffffff7)"/>
<path d="M304.0 133.0L318.0 130.0L330.0 138.0L330.0 152.0L315.0 152.0L304.0 146.0Z" fill="none" stroke="url(#p0000005)" stroke-width="4"/>
<path d="M304.0 133.0L318.0 130.0L330.0 138.0L330.0 152.0L315.0 152.0L304.0 146.0Z" fill="none" stroke="url(#pffffff6)" stroke-width="4"/>
<path d="M255.0 48.0L262.0 44.0L272.0 47.0L274.0 58.0L270.0 68.0L258.0 66.0L254.0 58.0Z" fill="#000000"/>
<path d="M255.0 48.0L262.0 44.0L272.0 47.0L274.0 58.0L270.0 68.0L258.0 66.0L254.0 58.0Z" fill="url(#pffffff3)"/>
<path d="M255.0 48.0L262.0 44.0L272.0 47.0L274.0 58.0L270.0 68.0L258.0 66.0L254.0 58.0Z" fill="none" stroke="url(#p0000005)" stroke-width="4"/>
<path d="M255.0 48.0L262.0 44.0L272.0 47.0L274.0 58.0L270.0 68.0L258.0 66.0L254.0 58.0Z" fill="none" stroke="url(#pffffff6)" stroke-width="4"/>
<path d="M134.0 128.0L142.0 120.0L155.0 116.0L168.0 118.0L176.0 128.0L178.0 145.0L176.0 160.0L168.0 170.0L155.0 171.0L143.0 165.0L135.0 152.0L131.0 140.0Z" fill="#000000"/>
<path d="M134.0 128.0L142.0 120.0L155.0 116.0L168.0 118.0L176.0 128.0L178.0 145.0L176.0 160.0L168.0 170.0L155.0 171.0L143.0 165.0L135.0 152.0L131.0 140.0Z" fill="url(#pffffff3)"/>
<path d="M134.0 128.0L142.0 120.0L155.0 116.0L168.0 118.0L176.0 128.0L178.0 145.0L176.0 160.0L168.0 170.0L155.0 171.0L143.0 165.0L135.0 152.0L131.0 140.0Z" fill="none" stroke="url(#p0000005)" stroke-width="4"/>
<path d="M134.0 128.0L142.0 120.0L155.0 116.0L168.0 118.0L176.0 128.0L178.0 145.0L176.0 160.0L168.0 170.0L155.0 171.0L143.0 165.0L135.0 152.0L131.0 140.0Z" fill="none" stroke="url(#pffffff6)" stroke-width="4"/>
<path d="M143.0 135.0L152.0 130.0L165.0 130.0L174.0 138.0L174.0 152.0L166.0 158.0L152.0 158.0L145.0 150.0Z" fill="#ff0000"/>
<path d="M143.0 135.0L152.0 130.0L165.0 130.0L174.0 138.0L174.0 152.0L166.0 158.0L152.0 158.0L145.0 150.0Z" fill="url(#pffffff5)"/>
<path d="M143.0 135.0L152.0 130.0L165.0 130.0L174.0 138.0L174.0 152.0L166.0 158.0L152.0 158.0L145.0 150.0Z" fill="none" stroke="url(#pff00005)" stroke-width="4"/>
<path d="M143.0 135.0L152.0 130.0L165.0 130.0L174.0 138.0L174.0 152.0L166.0 158.0L152.0 158.0L145.0 150.0Z" fill="none" stroke="url(#pffffff6)" stroke-width="4"/>
<path d="M133.0 82.0L137.0 72.0L143.0 64.0L152.0 62.0L158.0 68.0L162.0 78.0L161.0 88.0L155.0 92.0L145.0 92.0L137.0 89.0Z" fill="#ff0000"/>
<path d="M133.0 82.0L137.0 72.0L143.0 64.0L152.0 62.0L158.0 68.0L162.0 78.0L161.0 88.0L155.0 92.0L145.0 92.0L137.0 89.0Z" fill="url(#pffffff4)"/>
<path d="M133.0 82.0L137.0 72.0L143.0 64.0L152.0 62.0L158.0 68.0L162.0 78.0L161.0 88.0L155.0 92.0L145.0 92.0L137.0 89.0Z" fill="none" stroke="url(#pff00005)" stroke-width="4"/>
<path d="M133.0 82.0L137.0 72.0L143.0 64.0L152.0 62.0L158.0 68.0L162.0 78.0L161.0 88.0L155.0 92.0L145.0 92.0L137.0 89.0Z" fill="none" stroke="url(#pffffff6)" stroke-width="4"/>
<path d="M135.0 78.0L142.0 66.0L155.0 66.0L160.0 80.0L155.0 90.0L140.0 90.0Z" fill="url(#p0000005)"/>
<path d="M106.0 93.0L114.0 88.0L124.0 86.0L134.0 84.0L136.0 92.0L132.0 100.0L122.0 100.0L110.0 104.0L106.0 100.0Z" fill="#000000"/>
<path d="M106.0 93.0L114.0 88.0L124.0 86.0L134.0 84.0L136.0 92.0L132.0 100.0L122.0 100.0L110.0 104.0L106.0 100.0Z" fill="url(#pffffff5)"/>
<path d="M106.0 93.0L114.0 88.0L124.0 86.0L134.0 84.0L136.0 92.0L132.0 100.0L122.0 100.0L110.0 104.0L106.0 100.0Z" fill="none" stroke="url(#p0000005)" stroke-width="4"/>
<path d="M106.0 93.0L114.0 88.0L124.0 86.0L134.0 84.0L136.0 92.0L132.0 100.0L122.0 100.0L110.0 104.0L106.0 100.0Z" fill="none" stroke="url(#pffffff6)" stroke-width="4"/>
<path d="M129.0 93.0L135.0 93.0L137.0 104.0L131.0 104.0Z" fill="#000000"/>
<path d="M129.0 93.0L135.0 93.0L137.0 104.0L131.0 104.0Z" fill="url(#pffffff4)"/>
<path d="M129.0 93.0L135.0 93.0L137.0 104.0L131.0 104.0Z" fill="none" stroke="url(#p0000005)" stroke-width="4"/>
<path d="M129.0 93.0L135.0 93.0L137.0 104.0L131.0 104.0Z" fill="none" stroke="url(#pffffff6)" stroke-width="4"/>
<path d="M78.0 120.0L90.0 122.0L100.0 124.0L105.0 130.0L95.0 134.0L82.0 133.0Z" fill="#000000"/>
<path d="M78.0 120.0L90.0 122.0L100.0 124.0L105.0 130.0L95.0 134.0L82.0 133.0Z" fill="url(#pffffff7)"/>
<path d="M78.0 120.0L90.0 122.0L100.0 124.0L105.0 130.0L95.0 134.0L82.0 133.0Z" fill="none" stroke="url(#p0000005)" stroke-width="4"/>
<path d="M78.0 120.0L90.0 122.0L100.0 124.0L105.0 130.0L95.0 134.0L82.0 133.0Z" fill="none" stroke="url(#pffffff6)" stroke-width="4"/>
<path d="M170.0 285.0L183.0 274.0L205.0 276.0L225.0 285.0L240.0 300.0L252.0 320.0L252.0 345.0L240.0 362.0L225.0 372.0L205.0 376.0L190.0 372.0L178.0 360.0L168.0 340.0L167.0 310.0Z" fill="#000000"/>
<path d="M170.0 285.0L183.0 274.0L205.0 276.0L225.0 285.0L240.0 300.0L252.0 320.0L252.0 345.0L240.0 362.0L225.0 372.0L205.0 376.0L190.0 372.0L178.0 360.0L168.0 340.0L167.0 310.0Z" fill="url(#pffffff5)"/>
<path d="M170.0 285.0L183.0 274.0L205.0 276.0L225.0 285.0L240.0 300.0L252.0 320.0L252.0 345.0L240.0 362.0L225.0 372.0L205.0 376.0L190.0 372.0L178.0 360.0L168.0 340.0L167.0 310.0Z" fill="none" stroke="url(#p0000005)" stroke-width="4"/>
<path d="M170.0 285.0L183.0 274.0L205.0 276.0L225.0 285.0L240.0 300.0L252.0 320.0L252.0 345.0L240.0 362.0L225.0 372.0L205.0 376.0L190.0 372.0L178.0 360.0L168.0 340.0L167.0 310.0Z" fill="none" stroke="url(#pffffff6)" stroke-width="4"/>
<path d="M174.0 276.0L190.0 273.0L205.0 280.0L210.0 300.0L200.0 318.0L190.0 330.0L188.0 345.0L190.0 365.0L178.0 368.0L168.0 350.0L168.0 330.0L174.0 315.0L173.0 295.0Z" fill="#00ff00"/>
<path d="M174.0 276.0L190.0 273.0L205.0 280.0L210.0 300.0L200.0 318.0L190.0 330.0L188.0 345.0L190.0 365.0L178.0 368.0L168.0 350.0L168.0 330.0L174.0 315.0L173.0 295.0Z" fill="url(#pffffff5)"/>
<path d="M174.0 276.0L190.0 273.0L205.0 280.0L210.0 300.0L200.0 318.0L190.0 330.0L188.0 345.0L190.0 365.0L178.0 368.0L168.0 350.0L168.0 330.0L174.0 315.0L173.0 295.0Z" fill="none" stroke="url(#p00ff005)" stroke-width="4"/>
<path d="M174.0 276.0L190.0 273.0L205.0 280.0L210.0 300.0L200.0 318.0L190.0 330.0L188.0 345.0L190.0 365.0L178.0 368.0L168.0 350.0L168.0 330.0L174.0 315.0L173.0 295.0Z" fill="none" stroke="url(#pffffff6)" stroke-width="4"/>
<path d="M106.0 320.0L118.0 308.0L132.0 304.0L148.0 304.0L160.0 310.0L166.0 325.0L163.0 345.0L155.0 357.0L140.0 362.0L122.0 360.0L110.0 350.0L105.0 335.0Z" fill="#000000"/>
<path d="M106.0 320.0L118.0 308.0L132.0 304.0L148.0 304.0L160.0 310.0L166.0 325.0L163.0 345.0L155.0 357.0L140.0 362.0L122.0 360.0L110.0 350.0L105.0 335.0Z" fill="url(#pffffff5)"/>
<path d="M106.0 320.0L118.0 308.0L132.0 304.0L148.0 304.0L160.0 310.0L166.0 325.0L163.0 345.0L155.0 357.0L140.0 362.0L122.0 360.0L110.0 350.0L105.0 335.0Z" fill="none" stroke="url(#p0000005)" stroke-width="4"/>
<path d="M106.0 320.0L118.0 308.0L132.0 304.0L148.0 304.0L160.0 310.0L166.0 325.0L163.0 345.0L155.0 357.0L140.0 362.0L122.0 360.0L110.0 350.0L105.0 335.0Z" fill="none" stroke="url(#pffffff6)" stroke-width="4"/>
<path d="M156.0 296.0L162.0 283.0L170.0 275.0L174.0 283.0L166.0 298.0Z" fill="#000000"/>
<path d="M156.0 296.0L162.0 283.0L170.0 275.0L174.0 283.0L166.0 298.0Z" fill="url(#pffffff5)"/>
<path d="M156.0 296.0L162.0 283.0L170.0 275.0L174.0 283.0L166.0 298.0Z" fill="none" stroke="url(#p0000005)" stroke-width="4"/>
<path d="M156.0 296.0L162.0 283.0L170.0 275.0L174.0 283.0L166.0 298.0Z" fill="none" stroke="url(#pffffff6)" stroke-width="4"/>
<path d="M171.0 243.0L190.0 240.0L200.0 245.0L205.0 262.0L195.0 272.0L180.0 274.0L170.0 260.0Z" fill="#000000"/>
<path d="M171.0 243.0L190.0 240.0L200.0 245.0L205.0 262.0L195.0 272.0L180.0 274.0L170.0 260.0Z" fill="url(#pffffff6)"/>
<path d="M171.0 243.0L190.0 240.0L200.0 245.0L205.0 262.0L195.0 272.0L180.0 274.0L170.0 260.0Z" fill="none" stroke="url(#p0000005)" stroke-width="4"/>
<path d="M171.0 243.0L190.0 240.0L200.0 245.0L205.0 262.0L195.0 272.0L180.0 274.0L170.0 260.0Z" fill="none" stroke="url(#pffffff6)" stroke-width="4"/>
<path d="M63.7 169.3L75.2 159.0L84.0 154.8L101.3 163.5L115.7 167.8L137.4 167.8L152.0 173.6L173.6 178.0L185.2 191.0L193.9 208.3L197.6 222.0L196.0 238.0L185.0 243.0L170.0 243.0L160.0 240.0L152.0 233.0L148.0 245.0L140.0 258.0L128.0 270.0L121.5 274.9L127.3 282.0L125.9 293.7L115.7 303.8L101.3 311.0L89.7 311.0L75.2 298.0L62.2 282.0L57.9 260.4L60.8 234.4L63.7 202.5L62.2 180.8Z" fill="#0000ff"/>
<path d="M63.7 169.3L75.2 159.0L84.0 154.8L101.3 163.5L115.7 167.8L137.4 167.8L152.0 173.6L173.6 178.0L185.2 191.0L193.9 208.3L197.6 222.0L196.0 238.0L185.0 243.0L170.0 243.0L160.0 240.0L152.0 233.0L148.0 245.0L140.0 258.0L128.0 270.0L121.5 274.9L127.3 282.0L125.9 293.7L115.7 303.8L101.3 311.0L89.7 311.0L75.2 298.0L62.2 282.0L57.9 260.4L60.8 234.4L63.7 202.5L62.2 180.8Z" fill="none" stroke="url(#p0000ff5)" stroke-width="4"/>
<path d="M63.7 169.3L75.2 159.0L84.0 154.8L101.3 163.5L115.7 167.8L137.4 167.8L152.0 173.6L173.6 178.0L185.2 191.0L193.9 208.3L197.6 222.0L196.0 238.0L185.0 243.0L170.0 243.0L160.0 240.0L152.0 233.0L148.0 245.0L140.0 258.0L128.0 270.0L121.5 274.9L127.3 282.0L125.9 293.7L115.7 303.8L101.3 311.0L89.7 311.0L75.2 298.0L62.2 282.0L57.9 260.4L60.8 234.4L63.7 202.5L62.2 180.8Z" fill="none" stroke="url(#pffffff6)" stroke-width="4"/>
<path d="M60.0 235.0L80.0 228.0L100.0 232.0L112.0 245.0L122.0 262.0L125.0 285.0L115.0 303.0L95.0 311.0L78.0 300.0L63.0 282.0L58.0 258.0Z" fill="url(#p0000005)"/>
<path d="M114.0 217.0L130.0 215.0L145.0 222.0L144.0 245.0L135.0 258.0L118.0 262.0L112.0 248.0Z" fill="url(#pffffff8)"/>
<path d="M199.0 270.0L206.0 254.0L216.0 242.0L226.0 232.0L234.0 240.0L238.0 255.0L236.0 268.0L226.0 274.0L210.0 274.0Z" fill="#0000ff"/>
<path d="M199.0 270.0L206.0 254.0L216.0 242.0L226.0 232.0L234.0 240.0L238.0 255.0L236.0 268.0L226.0 274.0L210.0 274.0Z" fill="none" stroke="url(#p0000ff5)" stroke-width="4"/>
<path d="M199.0 270.0L206.0 254.0L216.0 242.0L226.0 232.0L234.0 240.0L238.0 255.0L236.0 268.0L226.0 274.0L210.0 274.0Z" fill="none" stroke="url(#pffffff6)" stroke-width="4"/>
<path d="M217.0 231.0L229.0 233.0L236.0 250.0L235.0 262.0L240.0 280.0L250.0 292.0L262.0 294.0L275.0 292.0L286.0 290.0L294.0 280.0L296.0 268.0L305.0 263.0L318.0 262.0L328.0 268.0L331.0 280.0L326.0 295.0L315.0 305.0L300.0 312.0L285.0 318.0L270.0 324.0L255.0 326.0L245.0 323.0L235.0 315.0L225.0 305.0L217.0 300.0Z" fill="#0000ff"/>
<path d="M217.0 231.0L229.0 233.0L236.0 250.0L235.0 262.0L240.0 280.0L250.0 292.0L262.0 294.0L275.0 292.0L286.0 290.0L294.0 280.0L296.0 268.0L305.0 263.0L318.0 262.0L328.0 268.0L331.0 280.0L326.0 295.0L315.0 305.0L300.0 312.0L285.0 318.0L270.0 324.0L255.0 326.0L245.0 323.0L235.0 315.0L225.0 305.0L217.0 300.0Z" fill="none" stroke="url(#p0000ff5)" stroke-width="4"/>
<path d="M217.0 231.0L229.0 233.0L236.0 250.0L235.0 262.0L240.0 280.0L250.0 292.0L262.0 294.0L275.0 292.0L286.0 290.0L294.0 280.0L296.0 268.0L305.0 263.0L318.0 262.0L328.0 268.0L331.0 280.0L326.0 295.0L315.0 305.0L300.0 312.0L285.0 318.0L270.0 324.0L255.0 326.0L245.0 323.0L235.0 315.0L225.0 305.0L217.0 300.0Z" fill="none" stroke="url(#pffffff6)" stroke-width="4"/>
<ellipse cx="248" cy="280" rx="8" ry="11" fill="#ffffff"/>
<path d="M162.0 299.0L170.0 298.0L175.0 304.0L168.0 308.0Z" fill="#0000ff"/>
<path d="M162.0 299.0L170.0 298.0L175.0 304.0L168.0 308.0Z" fill="none" stroke="url(#p0000ff5)" stroke-width="4"/>
<path d="M162.0 299.0L170.0 298.0L175.0 304.0L168.0 308.0Z" fill="none" stroke="url(#pffffff6)" stroke-width="4"/>
<path d="M171.0 48.0L182.0 43.0L195.0 39.0L210.0 36.0L217.0 37.0L223.0 45.0L224.0 58.0L220.0 66.0L210.0 72.0L198.0 78.0L185.0 81.0L176.0 75.0L171.0 60.0Z" fill="#ff00ff"/>
<path d="M171.0 48.0L182.0 43.0L195.0 39.0L210.0 36.0L217.0 37.0L223.0 45.0L224.0 58.0L220.0 66.0L210.0 72.0L198.0 78.0L185.0 81.0L176.0 75.0L171.0 60.0Z" fill="url(#pffffff4)"/>
<path d="M171.0 48.0L182.0 43.0L195.0 39.0L210.0 36.0L217.0 37.0L223.0 45.0L224.0 58.0L220.0 66.0L210.0 72.0L198.0 78.0L185.0 81.0L176.0 75.0L171.0 60.0Z" fill="none" stroke="url(#pff00ff5)" stroke-width="4"/>
<path d="M171.0 48.0L182.0 43.0L195.0 39.0L210.0 36.0L217.0 37.0L223.0 45.0L224.0 58.0L220.0 66.0L210.0 72.0L198.0 78.0L185.0 81.0L176.0 75.0L171.0 60.0Z" fill="none" stroke="url(#pffffff6)" stroke-width="4"/>
<path d="M176.0 50.0L195.0 43.0L215.0 41.0L221.0 50.0L217.0 64.0L200.0 73.0L186.0 76.0L177.0 64.0Z" fill="url(#p0000005)"/>
<path d="M279.2 70.9L292.2 72.3L306.7 78.1L318.3 86.8L332.7 88.3L347.2 92.6L358.8 98.4L366.0 110.0L368.9 123.0L368.9 144.7L367.5 166.4L366.0 188.0L367.5 202.5L367.5 217.0L361.7 217.0L354.4 188.0L342.9 166.4L337.0 144.7L332.7 123.0L327.0 107.0L311.0 101.3L301.0 89.7L288.0 79.6Z" fill="#ff00ff"/>
<path d="M279.2 70.9L292.2 72.3L306.7 78.1L318.3 86.8L332.7 88.3L347.2 92.6L358.8 98.4L366.0 110.0L368.9 123.0L368.9 144.7L367.5 166.4L366.0 188.0L367.5 202.5L367.5 217.0L361.7 217.0L354.4 188.0L342.9 166.4L337.0 144.7L332.7 123.0L327.0 107.0L311.0 101.3L301.0 89.7L288.0 79.6Z" fill="url(#pffffff2)"/>
<path d="M279.2 70.9L292.2 72.3L306.7 78.1L318.3 86.8L332.7 88.3L347.2 92.6L358.8 98.4L366.0 110.0L368.9 123.0L368.9 144.7L367.5 166.4L366.0 188.0L367.5 202.5L367.5 217.0L361.7 217.0L354.4 188.0L342.9 166.4L337.0 144.7L332.7 123.0L327.0 107.0L311.0 101.3L301.0 89.7L288.0 79.6Z" fill="none" stroke="url(#pff00ff5)" stroke-width="4"/>
<path d="M279.2 70.9L292.2 72.3L306.7 78.1L318.3 86.8L332.7 88.3L347.2 92.6L358.8 98.4L366.0 110.0L368.9 123.0L368.9 144.7L367.5 166.4L366.0 188.0L367.5 202.5L367.5 217.0L361.7 217.0L354.4 188.0L342.9 166.4L337.0 144.7L332.7 123.0L327.0 107.0L311.0 101.3L301.0 89.7L288.0 79.6Z" fill="none" stroke="url(#pffffff6)" stroke-width="4"/>
<path d="M368.9 217.0L380.0 210.0L397.8 217.0L399.3 234.4L395.0 248.8L383.4 256.0L368.9 251.7L358.8 240.1L357.3 231.5L364.6 222.8Z" fill="#ff00ff"/>
<path d="M368.9 217.0L380.0 210.0L397.8 217.0L399.3 234.4L395.0 248.8L383.4 256.0L368.9 251.7L358.8 240.1L357.3 231.5L364.6 222.8Z" fill="url(#pffffff3)"/>
<path d="M368.9 217.0L380.0 210.0L397.8 217.0L399.3 234.4L395.0 248.8L383.4 256.0L368.9 251.7L358.8 240.1L357.3 231.5L364.6 222.8Z" fill="none" stroke="url(#pff00ff5)" stroke-width="4"/>
<path d="M368.9 217.0L380.0 210.0L397.8 217.0L399.3 234.4L395.0 248.8L383.4 256.0L368.9 251.7L358.8 240.1L357.3 231.5L364.6 222.8Z" fill="none" stroke="url(#pffffff6)" stroke-width="4"/>
<path d="M337.0 245.0L350.0 242.0L362.0 252.0L372.0 262.0L376.0 270.0L360.0 270.0L345.0 265.0Z" fill="#ff00ff"/>
<path d="M337.0 245.0L350.0 242.0L362.0 252.0L372.0 262.0L376.0 270.0L360.0 270.0L345.0 265.0Z" fill="url(#pffffff7)"/>
<path d="M337.0 245.0L350.0 242.0L362.0 252.0L372.0 262.0L376.0 270.0L360.0 270.0L345.0 265.0Z" fill="none" stroke="url(#pff00ff5)" stroke-width="4"/>
<path d="M337.0 245.0L350.0 242.0L362.0 252.0L372.0 262.0L376.0 270.0L360.0 270.0L345.0 265.0Z" fill="none" stroke="url(#pffffff6)" stroke-width="4"/>
<path d="M364.6 277.8L367.5 289.3L366.0 303.8L358.8 318.3L342.9 332.7L325.5 344.3L303.8 358.8L282.0 373.3L260.4 384.8L238.7 393.5L217.0 395.0L200.0 393.0L180.0 388.0L168.0 380.0L160.0 370.0L152.0 350.0L158.0 347.0L166.0 362.0L175.0 374.0L195.0 378.0L217.0 370.4L228.6 361.7L246.0 350.1L264.7 337.0L282.0 325.5L303.8 322.6L318.3 318.3L327.0 306.7L337.0 293.7L347.2 280.7Z" fill="#ff00ff"/>
<path d="M364.6 277.8L367.5 289.3L366.0 303.8L358.8 318.3L342.9 332.7L325.5 344.3L303.8 358.8L282.0 373.3L260.4 384.8L238.7 393.5L217.0 395.0L200.0 393.0L180.0 388.0L168.0 380.0L160.0 370.0L152.0 350.0L158.0 347.0L166.0 362.0L175.0 374.0L195.0 378.0L217.0 370.4L228.6 361.7L246.0 350.1L264.7 337.0L282.0 325.5L303.8 322.6L318.3 318.3L327.0 306.7L337.0 293.7L347.2 280.7Z" fill="url(#pffffff4)"/>
<path d="M364.6 277.8L367.5 289.3L366.0 303.8L358.8 318.3L342.9 332.7L325.5 344.3L303.8 358.8L282.0 373.3L260.4 384.8L238.7 393.5L217.0 395.0L200.0 393.0L180.0 388.0L168.0 380.0L160.0 370.0L152.0 350.0L158.0 347.0L166.0 362.0L175.0 374.0L195.0 378.0L217.0 370.4L228.6 361.7L246.0 350.1L264.7 337.0L282.0 325.5L303.8 322.6L318.3 318.3L327.0 306.7L337.0 293.7L347.2 280.7Z" fill="none" stroke="url(#pff00ff5)" stroke-width="4"/>
<path d="M364.6 277.8L367.5 289.3L366.0 303.8L358.8 318.3L342.9 332.7L325.5 344.3L303.8 358.8L282.0 373.3L260.4 384.8L238.7 393.5L217.0 395.0L200.0 393.0L180.0 388.0L168.0 380.0L160.0 370.0L152.0 350.0L158.0 347.0L166.0 362.0L175.0 374.0L195.0 378.0L217.0 370.4L228.6 361.7L246.0 350.1L264.7 337.0L282.0 325.5L303.8 322.6L318.3 318.3L327.0 306.7L337.0 293.7L347.2 280.7Z" fill="none" stroke="url(#pffffff6)" stroke-width="4"/>
<path d="M217.0 370.0L246.0 350.0L282.0 326.0L318.0 318.0L340.0 300.0L360.0 290.0L366.0 300.0L343.0 332.0L303.0 359.0L260.0 385.0L217.0 395.0L180.0 388.0L160.0 370.0L155.0 350.0Z" fill="url(#p0000003)"/>
<path d="M151.0 268.0L158.0 265.0L166.0 267.0L166.0 274.0L154.0 275.0Z" fill="#ff00ff"/>
<path d="M151.0 268.0L158.0 265.0L166.0 267.0L166.0 274.0L154.0 275.0Z" fill="url(#pffffff1)"/>
<path d="M151.0 268.0L158.0 265.0L166.0 267.0L166.0 274.0L154.0 275.0Z" fill="none" stroke="url(#pff00ff5)" stroke-width="4"/>
<path d="M151.0 268.0L158.0 265.0L166.0 267.0L166.0 274.0L154.0 275.0Z" fill="none" stroke="url(#pffffff6)" stroke-width="4"/>
<path d="M105.0 120.0L113.0 118.0L116.0 128.0L114.0 137.0L107.0 136.0Z" fill="#ff00ff"/>
<path d="M105.0 120.0L113.0 118.0L116.0 128.0L114.0 137.0L107.0 136.0Z" fill="url(#pffffff5)"/>
<path d="M105.0 120.0L113.0 118.0L116.0 128.0L114.0 137.0L107.0 136.0Z" fill="none" stroke="url(#pff00ff5)" stroke-width="4"/>
<path d="M105.0 120.0L113.0 118.0L116.0 128.0L114.0 137.0L107.0 136.0Z" fill="none" stroke="url(#pffffff6)" stroke-width="4"/>
<path d="M237.0 51.0L252.0 63.0" stroke="#ff00ff" stroke-width="5" fill="none" stroke-linecap="round"/>
<path d="M161.0 104.0L172.0 94.0" stroke="#ff00ff" stroke-width="4" fill="none" stroke-linecap="round"/>
<path d="M135.0 121.0L145.0 116.0" stroke="#ff00ff" stroke-width="3" fill="none" stroke-linecap="round"/>
<path d="M67.0 151.0L81.0 145.0" stroke="#ff00ff" stroke-width="4" fill="none" stroke-linecap="round"/>
<path d="M119.0 250.0L126.0 259.0" stroke="#ff00ff" stroke-width="3" fill="none" stroke-linecap="round"/>
<path d="M54.0 200.0L52.0 217.0" stroke="#ff00ff" stroke-width="5" fill="none" stroke-linecap="round"/>
<path d="M122.0 121.0L128.0 111.0L140.0 107.0L156.0 106.0" stroke="#00ff00" stroke-width="5" fill="none" stroke-linecap="round"/>
<path d="M112.0 145.0L112.0 156.0L120.0 164.0L134.0 167.0" stroke="#00ff00" stroke-width="3" fill="none" stroke-linecap="round"/>
</g></g>
<g transform="translate(70.3,1074.2)" clip-path="url(#clip10)"><g>
<path d="M178.0 101.0L186.0 89.0L200.0 82.0L217.0 78.0L231.5 72.3L246.0 73.8L260.4 79.6L274.9 88.3L289.3 98.4L301.0 110.0L303.8 123.0L302.4 137.4L295.0 147.6L283.5 150.5L272.0 144.7L260.4 144.7L246.0 144.7L231.5 138.9L217.0 136.0L200.0 134.0L188.0 130.0L180.0 120.0L177.0 110.0Z" fill="#000000"/>
<path d="M178.0 101.0L186.0 89.0L200.0 82.0L217.0 78.0L231.5 72.3L246.0 73.8L260.4 79.6L274.9 88.3L289.3 98.4L301.0 110.0L303.8 123.0L302.4 137.4L295.0 147.6L283.5 150.5L272.0 144.7L260.4 144.7L246.0 144.7L231.5 138.9L217.0 136.0L200.0 134.0L188.0 130.0L180.0 120.0L177.0 110.0Z" fill="url(#pffffff5)"/>
<path d="M178.0 101.0L186.0 89.0L200.0 82.0L217.0 78.0L231.5 72.3L246.0 73.8L260.4 79.6L274.9 88.3L289.3 98.4L301.0 110.0L303.8 123.0L302.4 137.4L295.0 147.6L283.5 150.5L272.0 144.7L260.4 144.7L246.0 144.7L231.5 138.9L217.0 136.0L200.0 134.0L188.0 130.0L180.0 120.0L177.0 110.0Z" fill="none" stroke="url(#p0000005)" stroke-width="4"/>
<path d="M178.0 101.0L186.0 89.0L200.0 82.0L217.0 78.0L231.5 72.3L246.0 73.8L260.4 79.6L274.9 88.3L289.3 98.4L301.0 110.0L303.8 123.0L302.4 137.4L295.0 147.6L283.5 150.5L272.0 144.7L260.4 144.7L246.0 144.7L231.5 138.9L217.0 136.0L200.0 134.0L188.0 130.0L180.0 120.0L177.0 110.0Z" fill="none" stroke="url(#pffffff6)" stroke-width="4"/>
<path d="M217.0 78.0L231.5 72.3L246.0 73.8L260.4 79.6L274.9 88.3L289.3 98.4L301.0 110.0L303.8 123.0L302.4 137.4L295.0 147.6L283.5 150.5L272.0 144.7L260.4 144.7L246.0 144.7L231.5 138.9L217.0 136.0L212.0 110.0Z" fill="#000000"/>
<path d="M217.0 78.0L231.5 72.3L246.0 73.8L260.4 79.6L274.9 88.3L289.3 98.4L301.0 110.0L303.8 123.0L302.4 137.4L295.0 147.6L283.5 150.5L272.0 144.7L260.4 144.7L246.0 144.7L231.5 138.9L217.0 136.0L212.0 110.0Z" fill="url(#pffffff1)"/>
<path d="M217.0 78.0L231.5 72.3L246.0 73.8L260.4 79.6L274.9 88.3L289.3 98.4L301.0 110.0L303.8 123.0L302.4 137.4L295.0 147.6L283.5 150.5L272.0 144.7L260.4 144.7L246.0 144.7L231.5 138.9L217.0 136.0L212.0 110.0Z" fill="none" stroke="url(#p0000005)" stroke-width="4"/>
<path d="M217.0 78.0L231.5 72.3L246.0 73.8L260.4 79.6L274.9 88.3L289.3 98.4L301.0 110.0L303.8 123.0L302.4 137.4L295.0 147.6L283.5 150.5L272.0 144.7L260.4 144.7L246.0 144.7L231.5 138.9L217.0 136.0L212.0 110.0Z" fill="none" stroke="url(#pffffff6)" stroke-width="4"/>
<path d="M250.0 122.0L258.0 118.0L265.0 126.0L265.0 138.0L256.0 140.0L250.0 133.0Z" fill="url(#pffffff7)"/>
<path d="M301.0 130.0L318.0 128.0L330.0 138.0L330.0 153.0L315.0 153.0L303.0 145.0Z" fill="#000000"/>
<path d="M301.0 130.0L318.0 128.0L330.0 138.0L330.0 153.0L315.0 153.0L303.0 145.0Z" fill="url(#pffffff7)"/>
<path d="M301.0 130.0L318.0 128.0L330.0 138.0L330.0 153.0L315.0 153.0L303.0 145.0Z" fill="none" stroke="url(#p0000005)" stroke-width="4"/>
<path d="M301.0 130.0L318.0 128.0L330.0 138.0L330.0 153.0L315.0 153.0L303.0 145.0Z" fill="none" stroke="url(#pffffff6)" stroke-width="4"/>
<path d="M187.8 136.8L206.0 134.0L227.0 138.2L248.0 145.2L269.0 152.2L290.0 159.2L311.0 162.0L325.0 170.4L334.8 183.0L340.4 197.0L340.4 218.0L336.2 232.0L325.0 246.0L311.0 257.2L301.2 260.0L297.0 246.0L283.0 232.0L269.0 220.8L255.0 216.6L241.0 218.0L227.0 226.4L213.0 234.8L203.2 239.0L199.0 225.0L192.0 204.0L185.0 183.0L178.0 169.0L176.0 160.0L180.0 150.0Z" fill="#000000"/>
<path d="M187.8 136.8L206.0 134.0L227.0 138.2L248.0 145.2L269.0 152.2L290.0 159.2L311.0 162.0L325.0 170.4L334.8 183.0L340.4 197.0L340.4 218.0L336.2 232.0L325.0 246.0L311.0 257.2L301.2 260.0L297.0 246.0L283.0 232.0L269.0 220.8L255.0 216.6L241.0 218.0L227.0 226.4L213.0 234.8L203.2 239.0L199.0 225.0L192.0 204.0L185.0 183.0L178.0 169.0L176.0 160.0L180.0 150.0Z" fill="url(#pffffff0)"/>
<path d="M187.8 136.8L206.0 134.0L227.0 138.2L248.0 145.2L269.0 152.2L290.0 159.2L311.0 162.0L325.0 170.4L334.8 183.0L340.4 197.0L340.4 218.0L336.2 232.0L325.0 246.0L311.0 257.2L301.2 260.0L297.0 246.0L283.0 232.0L269.0 220.8L255.0 216.6L241.0 218.0L227.0 226.4L213.0 234.8L203.2 239.0L199.0 225.0L192.0 204.0L185.0 183.0L178.0 169.0L176.0 160.0L180.0 150.0Z" fill="none" stroke="url(#p0000005)" stroke-width="4"/>
<path d="M187.8 136.8L206.0 134.0L227.0 138.2L248.0 145.2L269.0 152.2L290.0 159.2L311.0 162.0L325.0 170.4L334.8 183.0L340.4 197.0L340.4 218.0L336.2 232.0L325.0 246.0L311.0 257.2L301.2 260.0L297.0 246.0L283.0 232.0L269.0 220.8L255.0 216.6L241.0 218.0L227.0 226.4L213.0 234.8L203.2 239.0L199.0 225.0L192.0 204.0L185.0 183.0L178.0 169.0L176.0 160.0L180.0 150.0Z" fill="none" stroke="url(#pffffff6)" stroke-width="4"/>
<path d="M340.0 190.0L350.0 192.0L360.0 205.0L362.0 217.0L356.0 228.0L345.0 236.0L338.0 228.0Z" fill="#000000"/>
<path d="M340.0 190.0L350.0 192.0L360.0 205.0L362.0 217.0L356.0 228.0L345.0 236.0L338.0 228.0Z" fill="url(#pffffff6)"/>
<path d="M340.0 190.0L350.0 192.0L360.0 205.0L362.0 217.0L356.0 228.0L345.0 236.0L338.0 228.0Z" fill="none" stroke="url(#p0000005)" stroke-width="4"/>
<path d="M340.0 190.0L350.0 192.0L360.0 205.0L362.0 217.0L356.0 228.0L345.0 236.0L338.0 228.0Z" fill="none" stroke="url(#pffffff6)" stroke-width="4"/>
<path d="M227.0 226.0L255.0 217.0L283.0 232.0L297.0 246.0L301.0 260.0L285.0 262.0L265.0 262.0L245.0 260.0L235.0 250.0L228.0 240.0Z" fill="#000000"/>
<path d="M227.0 226.0L255.0 217.0L283.0 232.0L297.0 246.0L301.0 260.0L285.0 262.0L265.0 262.0L245.0 260.0L235.0 250.0L228.0 240.0Z" fill="url(#pffffff7)"/>
<path d="M227.0 226.0L255.0 217.0L283.0 232.0L297.0 246.0L301.0 260.0L285.0 262.0L265.0 262.0L245.0 260.0L235.0 250.0L228.0 240.0Z" fill="none" stroke="url(#p0000005)" stroke-width="4"/>
<path d="M227.0 226.0L255.0 217.0L283.0 232.0L297.0 246.0L301.0 260.0L285.0 262.0L265.0 262.0L245.0 260.0L235.0 250.0L228.0 240.0Z" fill="none" stroke="url(#pffffff6)" stroke-width="4"/>
<path d="M256.0 48.0L262.0 43.0L272.0 46.0L275.0 58.0L270.0 66.0L258.0 66.0Z" fill="#000000"/>
<path d="M256.0 48.0L262.0 43.0L272.0 46.0L275.0 58.0L270.0 66.0L258.0 66.0Z" fill="url(#pffffff6)"/>
<path d="M256.0 48.0L262.0 43.0L272.0 46.0L275.0 58.0L270.0 66.0L258.0 66.0Z" fill="none" stroke="url(#p0000005)" stroke-width="4"/>
<path d="M256.0 48.0L262.0 43.0L272.0 46.0L275.0 58.0L270.0 66.0L258.0 66.0Z" fill="none" stroke="url(#pffffff6)" stroke-width="4"/>
<path d="M112.0 92.0L120.0 86.0L130.0 80.0L137.0 72.0L140.0 66.0L147.0 62.0L155.0 64.0L160.0 72.0L162.0 82.0L158.0 90.0L150.0 92.0L140.0 92.0L130.0 94.0L118.0 95.0Z" fill="#ff0000"/>
<path d="M112.0 92.0L120.0 86.0L130.0 80.0L137.0 72.0L140.0 66.0L147.0 62.0L155.0 64.0L160.0 72.0L162.0 82.0L158.0 90.0L150.0 92.0L140.0 92.0L130.0 94.0L118.0 95.0Z" fill="url(#pffffff1)"/>
<path d="M112.0 92.0L120.0 86.0L130.0 80.0L137.0 72.0L140.0 66.0L147.0 62.0L155.0 64.0L160.0 72.0L162.0 82.0L158.0 90.0L150.0 92.0L140.0 92.0L130.0 94.0L118.0 95.0Z" fill="none" stroke="url(#pff00005)" stroke-width="4"/>
<path d="M112.0 92.0L120.0 86.0L130.0 80.0L137.0 72.0L140.0 66.0L147.0 62.0L155.0 64.0L160.0 72.0L162.0 82.0L158.0 90.0L150.0 92.0L140.0 92.0L130.0 94.0L118.0 95.0Z" fill="none" stroke="url(#pffffff6)" stroke-width="4"/>
<path d="M140.0 64.0L150.0 62.0L158.0 68.0L162.0 80.0L156.0 90.0L146.0 88.0L142.0 78.0Z" fill="url(#p0000006)"/>
<path d="M100.0 98.0L112.0 93.0L130.0 95.0L136.0 100.0L125.0 104.0L110.0 105.0Z" fill="#000000"/>
<path d="M100.0 98.0L112.0 93.0L130.0 95.0L136.0 100.0L125.0 104.0L110.0 105.0Z" fill="url(#pffffff6)"/>
<path d="M100.0 98.0L112.0 93.0L130.0 95.0L136.0 100.0L125.0 104.0L110.0 105.0Z" fill="none" stroke="url(#p0000005)" stroke-width="4"/>
<path d="M100.0 98.0L112.0 93.0L130.0 95.0L136.0 100.0L125.0 104.0L110.0 105.0Z" fill="none" stroke="url(#pffffff6)" stroke-width="4"/>
<path d="M123.0 112.0L128.0 105.0L140.0 102.0L152.0 104.0L160.0 106.0L155.0 112.0L140.0 112.0L130.0 116.0Z" fill="#000000"/>
<path d="M123.0 112.0L128.0 105.0L140.0 102.0L152.0 104.0L160.0 106.0L155.0 112.0L140.0 112.0L130.0 116.0Z" fill="url(#pffffff3)"/>
<path d="M123.0 112.0L128.0 105.0L140.0 102.0L152.0 104.0L160.0 106.0L155.0 112.0L140.0 112.0L130.0 116.0Z" fill="none" stroke="url(#p0000005)" stroke-width="4"/>
<path d="M123.0 112.0L128.0 105.0L140.0 102.0L152.0 104.0L160.0 106.0L155.0 112.0L140.0 112.0L130.0 116.0Z" fill="none" stroke="url(#pffffff6)" stroke-width="4"/>
<path d="M134.0 130.0L142.0 122.0L155.0 119.0L168.0 121.0L176.0 128.0L178.0 142.0L176.0 158.0L168.0 170.0L155.0 172.0L143.0 166.0L136.0 155.0L133.0 142.0Z" fill="#000000"/>
<path d="M134.0 130.0L142.0 122.0L155.0 119.0L168.0 121.0L176.0 128.0L178.0 142.0L176.0 158.0L168.0 170.0L155.0 172.0L143.0 166.0L136.0 155.0L133.0 142.0Z" fill="url(#pffffff6)"/>
<path d="M134.0 130.0L142.0 122.0L155.0 119.0L168.0 121.0L176.0 128.0L178.0 142.0L176.0 158.0L168.0 170.0L155.0 172.0L143.0 166.0L136.0 155.0L133.0 142.0Z" fill="none" stroke="url(#p0000005)" stroke-width="4"/>
<path d="M134.0 130.0L142.0 122.0L155.0 119.0L168.0 121.0L176.0 128.0L178.0 142.0L176.0 158.0L168.0 170.0L155.0 172.0L143.0 166.0L136.0 155.0L133.0 142.0Z" fill="none" stroke="url(#pffffff6)" stroke-width="4"/>
<path d="M142.0 152.0L155.0 150.0L170.0 152.0L174.0 160.0L168.0 170.0L155.0 172.0L145.0 166.0Z" fill="#000000"/>
<path d="M142.0 152.0L155.0 150.0L170.0 152.0L174.0 160.0L168.0 170.0L155.0 172.0L145.0 166.0Z" fill="url(#pffffff2)"/>
<path d="M142.0 152.0L155.0 150.0L170.0 152.0L174.0 160.0L168.0 170.0L155.0 172.0L145.0 166.0Z" fill="none" stroke="url(#p0000005)" stroke-width="4"/>
<path d="M142.0 152.0L155.0 150.0L170.0 152.0L174.0 160.0L168.0 170.0L155.0 172.0L145.0 166.0Z" fill="none" stroke="url(#pffffff6)" stroke-width="4"/>
<path d="M115.0 130.0L125.0 128.0L128.0 140.0L120.0 150.0L113.0 145.0Z" fill="#000000"/>
<path d="M115.0 130.0L125.0 128.0L128.0 140.0L120.0 150.0L113.0 145.0Z" fill="url(#pffffff7)"/>
<path d="M115.0 130.0L125.0 128.0L128.0 140.0L120.0 150.0L113.0 145.0Z" fill="none" stroke="url(#p0000005)" stroke-width="4"/>
<path d="M115.0 130.0L125.0 128.0L128.0 140.0L120.0 150.0L113.0 145.0Z" fill="none" stroke="url(#pffffff6)" stroke-width="4"/>
<path d="M170.0 285.0L183.0 274.0L205.0 276.0L225.0 285.0L240.0 300.0L252.0 320.0L252.0 345.0L240.0 362.0L225.0 372.0L205.0 376.0L190.0 372.0L178.0 360.0L168.0 340.0L167.0 310.0Z" fill="#000000"/>
<path d="M170.0 285.0L183.0 274.0L205.0 276.0L225.0 285.0L240.0 300.0L252.0 320.0L252.0 345.0L240.0 362.0L225.0 372.0L205.0 376.0L190.0 372.0L178.0 360.0L168.0 340.0L167.0 310.0Z" fill="url(#pffffff5)"/>
<path d="M170.0 285.0L183.0 274.0L205.0 276.0L225.0 285.0L240.0 300.0L252.0 320.0L252.0 345.0L240.0 362.0L225.0 372.0L205.0 376.0L190.0 372.0L178.0 360.0L168.0 340.0L167.0 310.0Z" fill="none" stroke="url(#p0000005)" stroke-width="4"/>
<path d="M170.0 285.0L183.0 274.0L205.0 276.0L225.0 285.0L240.0 300.0L252.0 320.0L252.0 345.0L240.0 362.0L225.0 372.0L205.0 376.0L190.0 372.0L178.0 360.0L168.0 340.0L167.0 310.0Z" fill="none" stroke="url(#pffffff6)" stroke-width="4"/>
<path d="M199.0 288.0L212.0 285.0L228.0 292.0L232.0 310.0L230.0 322.0L215.0 322.0L200.0 315.0Z" fill="#00ff00"/>
<path d="M199.0 288.0L212.0 285.0L228.0 292.0L232.0 310.0L230.0 322.0L215.0 322.0L200.0 315.0Z" fill="url(#pffffff1)"/>
<path d="M199.0 288.0L212.0 285.0L228.0 292.0L232.0 310.0L230.0 322.0L215.0 322.0L200.0 315.0Z" fill="none" stroke="url(#p00ff005)" stroke-width="4"/>
<path d="M199.0 288.0L212.0 285.0L228.0 292.0L232.0 310.0L230.0 322.0L215.0 322.0L200.0 315.0Z" fill="none" stroke="url(#pffffff6)" stroke-width="4"/>
<path d="M176.0 276.0L190.0 274.0L200.0 282.0L200.0 300.0L196.0 315.0L185.0 322.0L176.0 310.0L174.0 292.0Z" fill="#00ff00"/>
<path d="M176.0 276.0L190.0 274.0L200.0 282.0L200.0 300.0L196.0 315.0L185.0 322.0L176.0 310.0L174.0 292.0Z" fill="url(#pffffff5)"/>
<path d="M176.0 276.0L190.0 274.0L200.0 282.0L200.0 300.0L196.0 315.0L185.0 322.0L176.0 310.0L174.0 292.0Z" fill="none" stroke="url(#p00ff005)" stroke-width="4"/>
<path d="M176.0 276.0L190.0 274.0L200.0 282.0L200.0 300.0L196.0 315.0L185.0 322.0L176.0 310.0L174.0 292.0Z" fill="none" stroke="url(#pffffff6)" stroke-width="4"/>
<path d="M108.0 345.0L110.0 330.0L118.0 320.0L130.0 315.0L145.0 308.0L155.0 300.0L160.0 288.0L166.0 278.0L172.0 276.0L166.0 295.0L163.0 310.0L160.0 330.0L150.0 345.0L135.0 358.0L120.0 362.0L110.0 358.0Z" fill="#000000"/>
<path d="M108.0 345.0L110.0 330.0L118.0 320.0L130.0 315.0L145.0 308.0L155.0 300.0L160.0 288.0L166.0 278.0L172.0 276.0L166.0 295.0L163.0 310.0L160.0 330.0L150.0 345.0L135.0 358.0L120.0 362.0L110.0 358.0Z" fill="url(#pffffff1)"/>
<path d="M108.0 345.0L110.0 330.0L118.0 320.0L130.0 315.0L145.0 308.0L155.0 300.0L160.0 288.0L166.0 278.0L172.0 276.0L166.0 295.0L163.0 310.0L160.0 330.0L150.0 345.0L135.0 358.0L120.0 362.0L110.0 358.0Z" fill="none" stroke="url(#p0000005)" stroke-width="4"/>
<path d="M108.0 345.0L110.0 330.0L118.0 320.0L130.0 315.0L145.0 308.0L155.0 300.0L160.0 288.0L166.0 278.0L172.0 276.0L166.0 295.0L163.0 310.0L160.0 330.0L150.0 345.0L135.0 358.0L120.0 362.0L110.0 358.0Z" fill="none" stroke="url(#pffffff6)" stroke-width="4"/>
<path d="M150.0 240.0L175.0 238.0L200.0 240.0L205.0 255.0L196.0 268.0L180.0 275.0L168.0 274.0L162.0 262.0L158.0 250.0Z" fill="#000000"/>
<path d="M150.0 240.0L175.0 238.0L200.0 240.0L205.0 255.0L196.0 268.0L180.0 275.0L168.0 274.0L162.0 262.0L158.0 250.0Z" fill="url(#pffffff5)"/>
<path d="M150.0 240.0L175.0 238.0L200.0 240.0L205.0 255.0L196.0 268.0L180.0 275.0L168.0 274.0L162.0 262.0L158.0 250.0Z" fill="none" stroke="url(#p0000005)" stroke-width="4"/>
<path d="M150.0 240.0L175.0 238.0L200.0 240.0L205.0 255.0L196.0 268.0L180.0 275.0L168.0 274.0L162.0 262.0L158.0 250.0Z" fill="none" stroke="url(#pffffff6)" stroke-width="4"/>
<path d="M65.1 170.7L75.2 159.0L84.0 157.7L101.3 166.4L123.0 169.3L144.7 170.7L166.4 176.5L179.4 185.2L188.0 199.7L193.9 217.0L197.6 230.0L196.0 240.0L185.0 242.0L170.0 242.0L158.0 236.0L152.0 230.0L156.3 234.4L169.3 246.0L166.4 257.5L152.0 266.2L137.4 273.4L124.4 277.8L128.8 288.0L123.0 298.0L110.0 306.7L95.5 315.4L86.8 309.6L72.3 296.6L60.8 277.8L57.9 253.2L60.8 231.5L64.0 210.0L63.0 185.0Z" fill="#0000ff"/>
<path d="M65.1 170.7L75.2 159.0L84.0 157.7L101.3 166.4L123.0 169.3L144.7 170.7L166.4 176.5L179.4 185.2L188.0 199.7L193.9 217.0L197.6 230.0L196.0 240.0L185.0 242.0L170.0 242.0L158.0 236.0L152.0 230.0L156.3 234.4L169.3 246.0L166.4 257.5L152.0 266.2L137.4 273.4L124.4 277.8L128.8 288.0L123.0 298.0L110.0 306.7L95.5 315.4L86.8 309.6L72.3 296.6L60.8 277.8L57.9 253.2L60.8 231.5L64.0 210.0L63.0 185.0Z" fill="none" stroke="url(#p0000ff5)" stroke-width="4"/>
<path d="M65.1 170.7L75.2 159.0L84.0 157.7L101.3 166.4L123.0 169.3L144.7 170.7L166.4 176.5L179.4 185.2L188.0 199.7L193.9 217.0L197.6 230.0L196.0 240.0L185.0 242.0L170.0 242.0L158.0 236.0L152.0 230.0L156.3 234.4L169.3 246.0L166.4 257.5L152.0 266.2L137.4 273.4L124.4 277.8L128.8 288.0L123.0 298.0L110.0 306.7L95.5 315.4L86.8 309.6L72.3 296.6L60.8 277.8L57.9 253.2L60.8 231.5L64.0 210.0L63.0 185.0Z" fill="none" stroke="url(#pffffff6)" stroke-width="4"/>
<path d="M62.0 180.0L80.0 160.0L100.0 165.0L112.0 185.0L105.0 205.0L85.0 215.0L64.0 210.0Z" fill="url(#p0000005)"/>
<path d="M60.0 220.0L85.0 215.0L110.0 220.0L120.0 240.0L125.0 270.0L122.0 295.0L105.0 308.0L90.0 312.0L72.0 296.0L60.0 275.0L58.0 250.0Z" fill="url(#p0000004)"/>
<path d="M150.0 230.0L160.0 232.0L168.0 244.0L166.0 252.0L158.0 246.0L150.0 238.0Z" fill="url(#pffffff8)"/>
<path d="M202.0 268.0L208.0 252.0L218.0 242.0L228.0 236.0L230.0 250.0L228.0 262.0L220.0 270.0L208.0 270.0Z" fill="#0000ff"/>
<path d="M202.0 268.0L208.0 252.0L218.0 242.0L228.0 236.0L230.0 250.0L228.0 262.0L220.0 270.0L208.0 270.0Z" fill="url(#pffffff5)"/>
<path d="M202.0 268.0L208.0 252.0L218.0 242.0L228.0 236.0L230.0 250.0L228.0 262.0L220.0 270.0L208.0 270.0Z" fill="none" stroke="url(#p0000ff5)" stroke-width="4"/>
<path d="M202.0 268.0L208.0 252.0L218.0 242.0L228.0 236.0L230.0 250.0L228.0 262.0L220.0 270.0L208.0 270.0Z" fill="none" stroke="url(#pffffff6)" stroke-width="4"/>
<path d="M234.0 274.0L245.0 271.0L260.0 272.0L266.0 285.0L262.0 300.0L248.0 302.0L238.0 292.0Z" fill="#0000ff"/>
<path d="M234.0 274.0L245.0 271.0L260.0 272.0L266.0 285.0L262.0 300.0L248.0 302.0L238.0 292.0Z" fill="none" stroke="url(#p0000ff5)" stroke-width="4"/>
<path d="M234.0 274.0L245.0 271.0L260.0 272.0L266.0 285.0L262.0 300.0L248.0 302.0L238.0 292.0Z" fill="none" stroke="url(#pffffff6)" stroke-width="4"/>
<path d="M241.0 300.0L255.0 302.0L275.0 300.0L290.0 296.0L305.0 300.0L318.0 305.0L312.0 318.0L295.0 326.0L275.0 330.0L255.0 328.0L244.0 318.0Z" fill="#0000ff"/>
<path d="M241.0 300.0L255.0 302.0L275.0 300.0L290.0 296.0L305.0 300.0L318.0 305.0L312.0 318.0L295.0 326.0L275.0 330.0L255.0 328.0L244.0 318.0Z" fill="url(#pffffff4)"/>
<path d="M241.0 300.0L255.0 302.0L275.0 300.0L290.0 296.0L305.0 300.0L318.0 305.0L312.0 318.0L295.0 326.0L275.0 330.0L255.0 328.0L244.0 318.0Z" fill="none" stroke="url(#p0000ff5)" stroke-width="4"/>
<path d="M241.0 300.0L255.0 302.0L275.0 300.0L290.0 296.0L305.0 300.0L318.0 305.0L312.0 318.0L295.0 326.0L275.0 330.0L255.0 328.0L244.0 318.0Z" fill="none" stroke="url(#pffffff6)" stroke-width="4"/>
<path d="M290.0 267.0L305.0 265.0L322.0 272.0L332.0 285.0L328.0 300.0L316.0 308.0L300.0 306.0L290.0 296.0L287.0 280.0Z" fill="#000000"/>
<path d="M290.0 267.0L305.0 265.0L322.0 272.0L332.0 285.0L328.0 300.0L316.0 308.0L300.0 306.0L290.0 296.0L287.0 280.0Z" fill="url(#pffffff5)"/>
<path d="M290.0 267.0L305.0 265.0L322.0 272.0L332.0 285.0L328.0 300.0L316.0 308.0L300.0 306.0L290.0 296.0L287.0 280.0Z" fill="none" stroke="url(#p0000005)" stroke-width="4"/>
<path d="M290.0 267.0L305.0 265.0L322.0 272.0L332.0 285.0L328.0 300.0L316.0 308.0L300.0 306.0L290.0 296.0L287.0 280.0Z" fill="none" stroke="url(#pffffff6)" stroke-width="4"/>
<path d="M292.0 272.0L310.0 270.0L325.0 280.0L322.0 296.0L305.0 302.0L292.0 292.0Z" fill="url(#p0000ff6)"/>
<path d="M217.0 236.0L230.0 238.0L232.0 255.0L228.0 264.0L217.0 262.0Z" fill="#0000ff"/>
<path d="M217.0 236.0L230.0 238.0L232.0 255.0L228.0 264.0L217.0 262.0Z" fill="url(#pffffff5)"/>
<path d="M217.0 236.0L230.0 238.0L232.0 255.0L228.0 264.0L217.0 262.0Z" fill="none" stroke="url(#p0000ff5)" stroke-width="4"/>
<path d="M217.0 236.0L230.0 238.0L232.0 255.0L228.0 264.0L217.0 262.0Z" fill="none" stroke="url(#pffffff6)" stroke-width="4"/>
<path d="M171.0 48.0L182.0 43.0L195.0 39.0L210.0 36.0L217.0 37.0L223.0 45.0L224.0 58.0L220.0 66.0L210.0 72.0L198.0 78.0L185.0 82.0L176.0 75.0L171.0 60.0Z" fill="#ff40ff"/>
<path d="M171.0 48.0L182.0 43.0L195.0 39.0L210.0 36.0L217.0 37.0L223.0 45.0L224.0 58.0L220.0 66.0L210.0 72.0L198.0 78.0L185.0 82.0L176.0 75.0L171.0 60.0Z" fill="url(#pffffff5)"/>
<path d="M171.0 48.0L182.0 43.0L195.0 39.0L210.0 36.0L217.0 37.0L223.0 45.0L224.0 58.0L220.0 66.0L210.0 72.0L198.0 78.0L185.0 82.0L176.0 75.0L171.0 60.0Z" fill="none" stroke="url(#pff40ff5)" stroke-width="4"/>
<path d="M171.0 48.0L182.0 43.0L195.0 39.0L210.0 36.0L217.0 37.0L223.0 45.0L224.0 58.0L220.0 66.0L210.0 72.0L198.0 78.0L185.0 82.0L176.0 75.0L171.0 60.0Z" fill="none" stroke="url(#pffffff6)" stroke-width="4"/>
<path d="M176.0 50.0L195.0 43.0L215.0 41.0L221.0 50.0L217.0 64.0L200.0 73.0L186.0 76.0L177.0 64.0Z" fill="url(#p0000005)"/>
<path d="M280.7 70.9L295.0 72.3L309.6 78.1L321.2 86.8L335.6 88.3L350.1 94.0L361.7 99.8L368.9 112.8L370.4 130.2L368.9 152.0L367.5 173.6L366.0 195.3L367.5 217.0L361.7 217.0L350.1 188.0L341.4 166.4L337.0 144.7L331.3 123.0L324.0 108.5L309.6 99.8L298.0 89.7L285.0 79.6Z" fill="#ff40ff"/>
<path d="M280.7 70.9L295.0 72.3L309.6 78.1L321.2 86.8L335.6 88.3L350.1 94.0L361.7 99.8L368.9 112.8L370.4 130.2L368.9 152.0L367.5 173.6L366.0 195.3L367.5 217.0L361.7 217.0L350.1 188.0L341.4 166.4L337.0 144.7L331.3 123.0L324.0 108.5L309.6 99.8L298.0 89.7L285.0 79.6Z" fill="url(#pffffff4)"/>
<path d="M280.7 70.9L295.0 72.3L309.6 78.1L321.2 86.8L335.6 88.3L350.1 94.0L361.7 99.8L368.9 112.8L370.4 130.2L368.9 152.0L367.5 173.6L366.0 195.3L367.5 217.0L361.7 217.0L350.1 188.0L341.4 166.4L337.0 144.7L331.3 123.0L324.0 108.5L309.6 99.8L298.0 89.7L285.0 79.6Z" fill="none" stroke="url(#pff40ff5)" stroke-width="4"/>
<path d="M280.7 70.9L295.0 72.3L309.6 78.1L321.2 86.8L335.6 88.3L350.1 94.0L361.7 99.8L368.9 112.8L370.4 130.2L368.9 152.0L367.5 173.6L366.0 195.3L367.5 217.0L361.7 217.0L350.1 188.0L341.4 166.4L337.0 144.7L331.3 123.0L324.0 108.5L309.6 99.8L298.0 89.7L285.0 79.6Z" fill="none" stroke="url(#pffffff6)" stroke-width="4"/>
<path d="M300.0 80.0L320.0 88.0L345.0 92.0L362.0 102.0L369.0 125.0L368.0 160.0L366.0 200.0L361.0 210.0L350.0 188.0L340.0 160.0L335.0 130.0L325.0 108.0L305.0 98.0Z" fill="url(#p0000005)"/>
<path d="M358.8 217.0L380.0 212.0L397.8 217.0L399.3 234.4L395.0 248.8L383.4 254.6L368.9 251.7L358.8 240.1L357.3 231.5Z" fill="#ff40ff"/>
<path d="M358.8 217.0L380.0 212.0L397.8 217.0L399.3 234.4L395.0 248.8L383.4 254.6L368.9 251.7L358.8 240.1L357.3 231.5Z" fill="url(#pffffff5)"/>
<path d="M358.8 217.0L380.0 212.0L397.8 217.0L399.3 234.4L395.0 248.8L383.4 254.6L368.9 251.7L358.8 240.1L357.3 231.5Z" fill="none" stroke="url(#pff40ff5)" stroke-width="4"/>
<path d="M358.8 217.0L380.0 212.0L397.8 217.0L399.3 234.4L395.0 248.8L383.4 254.6L368.9 251.7L358.8 240.1L357.3 231.5Z" fill="none" stroke="url(#pffffff6)" stroke-width="4"/>
<path d="M362.0 220.0L390.0 218.0L397.0 235.0L390.0 250.0L372.0 250.0L362.0 238.0Z" fill="url(#p0000005)"/>
<path d="M329.2 248.0L340.0 244.0L355.0 245.0L361.7 255.0L358.0 266.0L345.0 270.0L332.0 268.0L328.0 258.0Z" fill="#ff40ff"/>
<path d="M329.2 248.0L340.0 244.0L355.0 245.0L361.7 255.0L358.0 266.0L345.0 270.0L332.0 268.0L328.0 258.0Z" fill="url(#pffffff2)"/>
<path d="M329.2 248.0L340.0 244.0L355.0 245.0L361.7 255.0L358.0 266.0L345.0 270.0L332.0 268.0L328.0 258.0Z" fill="none" stroke="url(#pff40ff5)" stroke-width="4"/>
<path d="M329.2 248.0L340.0 244.0L355.0 245.0L361.7 255.0L358.0 266.0L345.0 270.0L332.0 268.0L328.0 258.0Z" fill="none" stroke="url(#pffffff6)" stroke-width="4"/>
<path d="M366.0 279.2L368.9 289.3L367.5 303.8L358.8 318.3L344.3 332.7L325.5 344.3L303.8 357.3L282.0 373.3L260.4 383.4L238.7 393.5L217.0 395.0L200.0 393.0L180.0 388.0L168.0 380.0L160.0 370.0L150.0 345.0L155.0 340.0L166.0 362.0L175.0 374.0L195.0 378.0L217.0 376.0L228.6 361.7L246.0 347.2L264.7 334.2L282.0 325.5L306.7 321.2L321.2 312.5L332.7 296.6L347.2 279.2Z" fill="#ff40ff"/>
<path d="M366.0 279.2L368.9 289.3L367.5 303.8L358.8 318.3L344.3 332.7L325.5 344.3L303.8 357.3L282.0 373.3L260.4 383.4L238.7 393.5L217.0 395.0L200.0 393.0L180.0 388.0L168.0 380.0L160.0 370.0L150.0 345.0L155.0 340.0L166.0 362.0L175.0 374.0L195.0 378.0L217.0 376.0L228.6 361.7L246.0 347.2L264.7 334.2L282.0 325.5L306.7 321.2L321.2 312.5L332.7 296.6L347.2 279.2Z" fill="url(#pffffff5)"/>
<path d="M366.0 279.2L368.9 289.3L367.5 303.8L358.8 318.3L344.3 332.7L325.5 344.3L303.8 357.3L282.0 373.3L260.4 383.4L238.7 393.5L217.0 395.0L200.0 393.0L180.0 388.0L168.0 380.0L160.0 370.0L150.0 345.0L155.0 340.0L166.0 362.0L175.0 374.0L195.0 378.0L217.0 376.0L228.6 361.7L246.0 347.2L264.7 334.2L282.0 325.5L306.7 321.2L321.2 312.5L332.7 296.6L347.2 279.2Z" fill="none" stroke="url(#pff40ff5)" stroke-width="4"/>
<path d="M366.0 279.2L368.9 289.3L367.5 303.8L358.8 318.3L344.3 332.7L325.5 344.3L303.8 357.3L282.0 373.3L260.4 383.4L238.7 393.5L217.0 395.0L200.0 393.0L180.0 388.0L168.0 380.0L160.0 370.0L150.0 345.0L155.0 340.0L166.0 362.0L175.0 374.0L195.0 378.0L217.0 376.0L228.6 361.7L246.0 347.2L264.7 334.2L282.0 325.5L306.7 321.2L321.2 312.5L332.7 296.6L347.2 279.2Z" fill="none" stroke="url(#pffffff6)" stroke-width="4"/>
<path d="M217.0 376.0L246.0 347.0L282.0 326.0L318.0 316.0L340.0 295.0L366.0 285.0L366.0 300.0L343.0 332.0L303.0 358.0L260.0 384.0L217.0 395.0L180.0 388.0L160.0 370.0L152.0 345.0Z" fill="url(#p0000004)"/>
<path d="M229.8 265.0L240.0 262.8L256.4 268.0L254.0 280.0L242.0 282.4L232.0 278.0Z" fill="#ff40ff"/>
<path d="M229.8 265.0L240.0 262.8L256.4 268.0L254.0 280.0L242.0 282.4L232.0 278.0Z" fill="url(#pffffff2)"/>
<path d="M229.8 265.0L240.0 262.8L256.4 268.0L254.0 280.0L242.0 282.4L232.0 278.0Z" fill="none" stroke="url(#pff40ff5)" stroke-width="4"/>
<path d="M229.8 265.0L240.0 262.8L256.4 268.0L254.0 280.0L242.0 282.4L232.0 278.0Z" fill="none" stroke="url(#pffffff6)" stroke-width="4"/>
<path d="M72.0 126.0L80.0 120.0L95.0 121.0L110.0 120.0L116.0 122.0L115.0 132.0L108.0 140.0L95.0 144.0L82.0 142.0L74.0 136.0Z" fill="#ff40ff"/>
<path d="M72.0 126.0L80.0 120.0L95.0 121.0L110.0 120.0L116.0 122.0L115.0 132.0L108.0 140.0L95.0 144.0L82.0 142.0L74.0 136.0Z" fill="url(#pffffff3)"/>
<path d="M72.0 126.0L80.0 120.0L95.0 121.0L110.0 120.0L116.0 122.0L115.0 132.0L108.0 140.0L95.0 144.0L82.0 142.0L74.0 136.0Z" fill="none" stroke="url(#pff40ff5)" stroke-width="4"/>
<path d="M72.0 126.0L80.0 120.0L95.0 121.0L110.0 120.0L116.0 122.0L115.0 132.0L108.0 140.0L95.0 144.0L82.0 142.0L74.0 136.0Z" fill="none" stroke="url(#pffffff6)" stroke-width="4"/>
<path d="M130.0 300.0L140.0 297.0L147.6 300.0L145.0 309.6L132.0 309.0Z" fill="#ff40ff"/>
<path d="M130.0 300.0L140.0 297.0L147.6 300.0L145.0 309.6L132.0 309.0Z" fill="url(#pffffff2)"/>
<path d="M130.0 300.0L140.0 297.0L147.6 300.0L145.0 309.6L132.0 309.0Z" fill="none" stroke="url(#pff40ff5)" stroke-width="4"/>
<path d="M130.0 300.0L140.0 297.0L147.6 300.0L145.0 309.6L132.0 309.0Z" fill="none" stroke="url(#pffffff6)" stroke-width="4"/>
<path d="M60.0 300.0L75.0 304.0L95.0 312.0L115.0 306.0L130.0 309.0L126.0 318.0L105.0 325.0L90.0 337.0L75.0 332.0L64.0 316.0Z" fill="#ff40ff"/>
<path d="M60.0 300.0L75.0 304.0L95.0 312.0L115.0 306.0L130.0 309.0L126.0 318.0L105.0 325.0L90.0 337.0L75.0 332.0L64.0 316.0Z" fill="url(#pffffff7)"/>
<path d="M60.0 300.0L75.0 304.0L95.0 312.0L115.0 306.0L130.0 309.0L126.0 318.0L105.0 325.0L90.0 337.0L75.0 332.0L64.0 316.0Z" fill="none" stroke="url(#pff40ff5)" stroke-width="4"/>
<path d="M60.0 300.0L75.0 304.0L95.0 312.0L115.0 306.0L130.0 309.0L126.0 318.0L105.0 325.0L90.0 337.0L75.0 332.0L64.0 316.0Z" fill="none" stroke="url(#pffffff6)" stroke-width="4"/>
<path d="M38.0 217.0L46.0 215.0L50.0 240.0L52.0 260.0L50.0 275.0L44.0 270.0L39.0 245.0Z" fill="#ff40ff"/>
<path d="M38.0 217.0L46.0 215.0L50.0 240.0L52.0 260.0L50.0 275.0L44.0 270.0L39.0 245.0Z" fill="url(#pffffff7)"/>
<path d="M38.0 217.0L46.0 215.0L50.0 240.0L52.0 260.0L50.0 275.0L44.0 270.0L39.0 245.0Z" fill="none" stroke="url(#pff40ff5)" stroke-width="4"/>
<path d="M38.0 217.0L46.0 215.0L50.0 240.0L52.0 260.0L50.0 275.0L44.0 270.0L39.0 245.0Z" fill="none" stroke="url(#pffffff6)" stroke-width="4"/>
<path d="M154.8 266.0L162.0 264.7L166.4 268.0L165.0 275.0L156.0 275.0Z" fill="#ff40ff"/>
<path d="M154.8 266.0L162.0 264.7L166.4 268.0L165.0 275.0L156.0 275.0Z" fill="url(#pffffff1)"/>
<path d="M154.8 266.0L162.0 264.7L166.4 268.0L165.0 275.0L156.0 275.0Z" fill="none" stroke="url(#pff40ff5)" stroke-width="4"/>
<path d="M154.8 266.0L162.0 264.7L166.4 268.0L165.0 275.0L156.0 275.0Z" fill="none" stroke="url(#pffffff6)" stroke-width="4"/>
<path d="M239.0 52.0L253.0 63.0" stroke="#ff40ff" stroke-width="5" fill="none" stroke-linecap="round"/>
<path d="M165.0 104.0L174.0 94.0" stroke="#ff40ff" stroke-width="4" fill="none" stroke-linecap="round"/>
<path d="M135.0 122.0L148.0 115.0" stroke="#ff40ff" stroke-width="3" fill="none" stroke-linecap="round"/>
<path d="M54.0 177.0L57.0 183.0" stroke="#ff40ff" stroke-width="4" fill="none" stroke-linecap="round"/>
<path d="M112.0 146.0L114.0 158.0L122.0 164.0L134.0 167.0" stroke="#00ff00" stroke-width="2.5" fill="none" stroke-linecap="round"/>
<path d="M96.0 143.0L100.0 150.0L105.0 149.0" stroke="#00ff00" stroke-width="2" fill="none" stroke-linecap="round"/>
</g></g>
<g transform="translate(547.8,1074.2)" clip-path="url(#clip11)"><g>
<path d="M178.0 101.0L186.0 89.0L200.0 82.0L217.0 76.7L231.5 72.3L246.0 73.8L260.4 78.1L274.9 85.4L289.3 98.4L299.5 110.0L302.4 123.0L301.0 138.9L292.2 147.6L279.2 149.0L260.4 146.0L246.0 140.3L231.5 138.9L217.0 138.9L200.0 136.0L186.0 130.0L178.0 120.0L176.0 110.0Z" fill="#000000"/>
<path d="M178.0 101.0L186.0 89.0L200.0 82.0L217.0 76.7L231.5 72.3L246.0 73.8L260.4 78.1L274.9 85.4L289.3 98.4L299.5 110.0L302.4 123.0L301.0 138.9L292.2 147.6L279.2 149.0L260.4 146.0L246.0 140.3L231.5 138.9L217.0 138.9L200.0 136.0L186.0 130.0L178.0 120.0L176.0 110.0Z" fill="url(#pffffff2)"/>
<path d="M178.0 101.0L186.0 89.0L200.0 82.0L217.0 76.7L231.5 72.3L246.0 73.8L260.4 78.1L274.9 85.4L289.3 98.4L299.5 110.0L302.4 123.0L301.0 138.9L292.2 147.6L279.2 149.0L260.4 146.0L246.0 140.3L231.5 138.9L217.0 138.9L200.0 136.0L186.0 130.0L178.0 120.0L176.0 110.0Z" fill="none" stroke="url(#p0000005)" stroke-width="4"/>
<path d="M178.0 101.0L186.0 89.0L200.0 82.0L217.0 76.7L231.5 72.3L246.0 73.8L260.4 78.1L274.9 85.4L289.3 98.4L299.5 110.0L302.4 123.0L301.0 138.9L292.2 147.6L279.2 149.0L260.4 146.0L246.0 140.3L231.5 138.9L217.0 138.9L200.0 136.0L186.0 130.0L178.0 120.0L176.0 110.0Z" fill="none" stroke="url(#pffffff6)" stroke-width="4"/>
<path d="M244.5 131.0L250.0 128.0L254.6 134.0L252.0 141.8L245.0 140.0Z" fill="url(#pffffff6)"/>
<path d="M306.7 116.0L320.0 118.0L328.4 130.0L328.0 150.0L315.0 152.0L306.0 140.0Z" fill="#000000"/>
<path d="M306.7 116.0L320.0 118.0L328.4 130.0L328.0 150.0L315.0 152.0L306.0 140.0Z" fill="url(#pffffff7)"/>
<path d="M306.7 116.0L320.0 118.0L328.4 130.0L328.0 150.0L315.0 152.0L306.0 140.0Z" fill="none" stroke="url(#p0000005)" stroke-width="4"/>
<path d="M306.7 116.0L320.0 118.0L328.4 130.0L328.0 150.0L315.0 152.0L306.0 140.0Z" fill="none" stroke="url(#pffffff6)" stroke-width="4"/>
<path d="M178.2 162.0L186.6 141.0L206.2 135.4L234.2 141.0L262.2 152.2L250.0 180.0L220.0 175.0L195.0 180.0L182.0 176.0Z" fill="#000000"/>
<path d="M178.2 162.0L186.6 141.0L206.2 135.4L234.2 141.0L262.2 152.2L250.0 180.0L220.0 175.0L195.0 180.0L182.0 176.0Z" fill="url(#pffffff5)"/>
<path d="M178.2 162.0L186.6 141.0L206.2 135.4L234.2 141.0L262.2 152.2L250.0 180.0L220.0 175.0L195.0 180.0L182.0 176.0Z" fill="none" stroke="url(#p0000005)" stroke-width="4"/>
<path d="M178.2 162.0L186.6 141.0L206.2 135.4L234.2 141.0L262.2 152.2L250.0 180.0L220.0 175.0L195.0 180.0L182.0 176.0Z" fill="none" stroke="url(#pffffff6)" stroke-width="4"/>
<path d="M186.6 141.0L206.2 135.4L234.2 141.0L262.2 152.2L290.2 157.8L311.2 160.6L325.2 167.6L336.4 183.0L342.0 204.0L339.2 225.0L332.2 240.4L318.2 254.4L297.2 260.0L276.2 262.8L255.2 254.4L241.2 239.0L239.8 225.0L227.2 226.4L213.2 226.4L203.4 220.8L196.4 206.8L189.4 190.0L181.0 176.0L178.0 162.0Z" fill="#000000"/>
<path d="M186.6 141.0L206.2 135.4L234.2 141.0L262.2 152.2L290.2 157.8L311.2 160.6L325.2 167.6L336.4 183.0L342.0 204.0L339.2 225.0L332.2 240.4L318.2 254.4L297.2 260.0L276.2 262.8L255.2 254.4L241.2 239.0L239.8 225.0L227.2 226.4L213.2 226.4L203.4 220.8L196.4 206.8L189.4 190.0L181.0 176.0L178.0 162.0Z" fill="url(#pffffff4)"/>
<path d="M186.6 141.0L206.2 135.4L234.2 141.0L262.2 152.2L290.2 157.8L311.2 160.6L325.2 167.6L336.4 183.0L342.0 204.0L339.2 225.0L332.2 240.4L318.2 254.4L297.2 260.0L276.2 262.8L255.2 254.4L241.2 239.0L239.8 225.0L227.2 226.4L213.2 226.4L203.4 220.8L196.4 206.8L189.4 190.0L181.0 176.0L178.0 162.0Z" fill="none" stroke="url(#p0000005)" stroke-width="4"/>
<path d="M186.6 141.0L206.2 135.4L234.2 141.0L262.2 152.2L290.2 157.8L311.2 160.6L325.2 167.6L336.4 183.0L342.0 204.0L339.2 225.0L332.2 240.4L318.2 254.4L297.2 260.0L276.2 262.8L255.2 254.4L241.2 239.0L239.8 225.0L227.2 226.4L213.2 226.4L203.4 220.8L196.4 206.8L189.4 190.0L181.0 176.0L178.0 162.0Z" fill="none" stroke="url(#pffffff6)" stroke-width="4"/>
<path d="M240.0 226.0L262.0 219.0L290.0 222.0L318.0 226.0L338.0 222.0L339.0 232.0L332.0 241.0L318.0 254.0L297.0 260.0L276.0 262.8L255.0 254.0L242.0 240.0Z" fill="#000000"/>
<path d="M240.0 226.0L262.0 219.0L290.0 222.0L318.0 226.0L338.0 222.0L339.0 232.0L332.0 241.0L318.0 254.0L297.0 260.0L276.0 262.8L255.0 254.0L242.0 240.0Z" fill="url(#pffffff0)"/>
<path d="M240.0 226.0L262.0 219.0L290.0 222.0L318.0 226.0L338.0 222.0L339.0 232.0L332.0 241.0L318.0 254.0L297.0 260.0L276.0 262.8L255.0 254.0L242.0 240.0Z" fill="none" stroke="url(#p0000005)" stroke-width="4"/>
<path d="M240.0 226.0L262.0 219.0L290.0 222.0L318.0 226.0L338.0 222.0L339.0 232.0L332.0 241.0L318.0 254.0L297.0 260.0L276.0 262.8L255.0 254.0L242.0 240.0Z" fill="none" stroke="url(#pffffff6)" stroke-width="4"/>
<path d="M240.0 218.0L265.0 214.0L290.0 219.0L290.0 223.0L265.0 219.0L241.0 222.0Z" fill="url(#pffffff7)"/>
<path d="M253.0 45.0L262.0 43.0L272.0 47.0L275.0 58.0L270.0 68.0L258.0 67.0L254.0 58.0Z" fill="#000000"/>
<path d="M253.0 45.0L262.0 43.0L272.0 47.0L275.0 58.0L270.0 68.0L258.0 67.0L254.0 58.0Z" fill="url(#pffffff2)"/>
<path d="M253.0 45.0L262.0 43.0L272.0 47.0L275.0 58.0L270.0 68.0L258.0 67.0L254.0 58.0Z" fill="none" stroke="url(#p0000005)" stroke-width="4"/>
<path d="M253.0 45.0L262.0 43.0L272.0 47.0L275.0 58.0L270.0 68.0L258.0 67.0L254.0 58.0Z" fill="none" stroke="url(#pffffff6)" stroke-width="4"/>
<path d="M134.5 72.0L140.0 65.0L150.0 63.0L158.0 68.0L162.0 78.0L160.0 88.0L152.0 92.6L142.0 91.0L136.0 84.0Z" fill="#ff0000"/>
<path d="M134.5 72.0L140.0 65.0L150.0 63.0L158.0 68.0L162.0 78.0L160.0 88.0L152.0 92.6L142.0 91.0L136.0 84.0Z" fill="url(#pffffff5)"/>
<path d="M134.5 72.0L140.0 65.0L150.0 63.0L158.0 68.0L162.0 78.0L160.0 88.0L152.0 92.6L142.0 91.0L136.0 84.0Z" fill="none" stroke="url(#pff00005)" stroke-width="4"/>
<path d="M134.5 72.0L140.0 65.0L150.0 63.0L158.0 68.0L162.0 78.0L160.0 88.0L152.0 92.6L142.0 91.0L136.0 84.0Z" fill="none" stroke="url(#pffffff6)" stroke-width="4"/>
<path d="M140.0 70.0L150.0 67.0L156.0 74.0L156.0 84.0L148.0 88.0L141.0 82.0Z" fill="url(#p0000005)"/>
<path d="M108.0 92.0L118.0 86.0L128.0 82.0L136.0 78.0" stroke="#ff0000" stroke-width="3.5" fill="none" stroke-linecap="round"/>
<path d="M91.0 110.0L96.0 106.0L104.0 108.0L105.0 116.0L98.0 120.0L91.0 118.0Z" fill="#000000"/>
<path d="M91.0 110.0L96.0 106.0L104.0 108.0L105.0 116.0L98.0 120.0L91.0 118.0Z" fill="url(#pffffff1)"/>
<path d="M91.0 110.0L96.0 106.0L104.0 108.0L105.0 116.0L98.0 120.0L91.0 118.0Z" fill="none" stroke="url(#p0000005)" stroke-width="4"/>
<path d="M91.0 110.0L96.0 106.0L104.0 108.0L105.0 116.0L98.0 120.0L91.0 118.0Z" fill="none" stroke="url(#pffffff6)" stroke-width="4"/>
<path d="M93.0 100.0L110.0 96.0L125.0 96.0L134.0 100.0L130.0 108.0L115.0 108.0L100.0 106.0Z" fill="#000000"/>
<path d="M93.0 100.0L110.0 96.0L125.0 96.0L134.0 100.0L130.0 108.0L115.0 108.0L100.0 106.0Z" fill="url(#pffffff6)"/>
<path d="M93.0 100.0L110.0 96.0L125.0 96.0L134.0 100.0L130.0 108.0L115.0 108.0L100.0 106.0Z" fill="none" stroke="url(#p0000005)" stroke-width="4"/>
<path d="M93.0 100.0L110.0 96.0L125.0 96.0L134.0 100.0L130.0 108.0L115.0 108.0L100.0 106.0Z" fill="none" stroke="url(#pffffff6)" stroke-width="4"/>
<path d="M116.0 148.0L118.0 138.0L126.0 133.0L136.0 134.0L137.0 142.0L130.0 146.0L125.0 153.0L118.0 153.0Z" fill="#000000"/>
<path d="M116.0 148.0L118.0 138.0L126.0 133.0L136.0 134.0L137.0 142.0L130.0 146.0L125.0 153.0L118.0 153.0Z" fill="url(#pffffff2)"/>
<path d="M116.0 148.0L118.0 138.0L126.0 133.0L136.0 134.0L137.0 142.0L130.0 146.0L125.0 153.0L118.0 153.0Z" fill="none" stroke="url(#p0000005)" stroke-width="4"/>
<path d="M116.0 148.0L118.0 138.0L126.0 133.0L136.0 134.0L137.0 142.0L130.0 146.0L125.0 153.0L118.0 153.0Z" fill="none" stroke="url(#pffffff6)" stroke-width="4"/>
<path d="M137.0 122.0L150.0 117.0L165.0 117.0L176.0 122.0L178.0 130.0L160.0 128.0L145.0 128.0Z" fill="#000000"/>
<path d="M137.0 122.0L150.0 117.0L165.0 117.0L176.0 122.0L178.0 130.0L160.0 128.0L145.0 128.0Z" fill="url(#pffffff6)"/>
<path d="M137.0 122.0L150.0 117.0L165.0 117.0L176.0 122.0L178.0 130.0L160.0 128.0L145.0 128.0Z" fill="none" stroke="url(#p0000005)" stroke-width="4"/>
<path d="M137.0 122.0L150.0 117.0L165.0 117.0L176.0 122.0L178.0 130.0L160.0 128.0L145.0 128.0Z" fill="none" stroke="url(#pffffff6)" stroke-width="4"/>
<path d="M138.0 137.0L148.0 128.0L162.0 127.0L174.0 131.0L178.0 142.0L176.0 155.0L168.0 166.0L158.0 169.3L148.0 165.0L140.0 155.0L137.0 145.0Z" fill="#000000"/>
<path d="M138.0 137.0L148.0 128.0L162.0 127.0L174.0 131.0L178.0 142.0L176.0 155.0L168.0 166.0L158.0 169.3L148.0 165.0L140.0 155.0L137.0 145.0Z" fill="url(#pffffff2)"/>
<path d="M138.0 137.0L148.0 128.0L162.0 127.0L174.0 131.0L178.0 142.0L176.0 155.0L168.0 166.0L158.0 169.3L148.0 165.0L140.0 155.0L137.0 145.0Z" fill="none" stroke="url(#p0000005)" stroke-width="4"/>
<path d="M138.0 137.0L148.0 128.0L162.0 127.0L174.0 131.0L178.0 142.0L176.0 155.0L168.0 166.0L158.0 169.3L148.0 165.0L140.0 155.0L137.0 145.0Z" fill="none" stroke="url(#pffffff6)" stroke-width="4"/>
<path d="M170.0 285.0L183.0 274.0L205.0 276.0L225.0 285.0L240.0 300.0L252.0 320.0L254.0 345.0L245.0 362.0L230.0 372.0L210.0 376.0L190.0 372.0L178.0 360.0L168.0 340.0L167.0 310.0Z" fill="#000000"/>
<path d="M170.0 285.0L183.0 274.0L205.0 276.0L225.0 285.0L240.0 300.0L252.0 320.0L254.0 345.0L245.0 362.0L230.0 372.0L210.0 376.0L190.0 372.0L178.0 360.0L168.0 340.0L167.0 310.0Z" fill="url(#pffffff5)"/>
<path d="M170.0 285.0L183.0 274.0L205.0 276.0L225.0 285.0L240.0 300.0L252.0 320.0L254.0 345.0L245.0 362.0L230.0 372.0L210.0 376.0L190.0 372.0L178.0 360.0L168.0 340.0L167.0 310.0Z" fill="none" stroke="url(#p0000005)" stroke-width="4"/>
<path d="M170.0 285.0L183.0 274.0L205.0 276.0L225.0 285.0L240.0 300.0L252.0 320.0L254.0 345.0L245.0 362.0L230.0 372.0L210.0 376.0L190.0 372.0L178.0 360.0L168.0 340.0L167.0 310.0Z" fill="none" stroke="url(#pffffff6)" stroke-width="4"/>
<path d="M176.0 280.0L186.0 274.0L198.0 276.0L206.0 288.0L210.0 305.0L208.0 318.0L200.0 322.0L190.0 316.0L180.0 302.0L175.0 290.0Z" fill="#00ff00"/>
<path d="M176.0 280.0L186.0 274.0L198.0 276.0L206.0 288.0L210.0 305.0L208.0 318.0L200.0 322.0L190.0 316.0L180.0 302.0L175.0 290.0Z" fill="url(#pffffff1)"/>
<path d="M176.0 280.0L186.0 274.0L198.0 276.0L206.0 288.0L210.0 305.0L208.0 318.0L200.0 322.0L190.0 316.0L180.0 302.0L175.0 290.0Z" fill="none" stroke="url(#p00ff005)" stroke-width="4"/>
<path d="M176.0 280.0L186.0 274.0L198.0 276.0L206.0 288.0L210.0 305.0L208.0 318.0L200.0 322.0L190.0 316.0L180.0 302.0L175.0 290.0Z" fill="none" stroke="url(#pffffff6)" stroke-width="4"/>
<path d="M205.0 300.0L215.0 305.0L220.0 320.0L212.0 330.0L205.0 320.0Z" fill="#00ff00"/>
<path d="M205.0 300.0L215.0 305.0L220.0 320.0L212.0 330.0L205.0 320.0Z" fill="url(#pffffff6)"/>
<path d="M205.0 300.0L215.0 305.0L220.0 320.0L212.0 330.0L205.0 320.0Z" fill="none" stroke="url(#p00ff005)" stroke-width="4"/>
<path d="M205.0 300.0L215.0 305.0L220.0 320.0L212.0 330.0L205.0 320.0Z" fill="none" stroke="url(#pffffff6)" stroke-width="4"/>
<path d="M209.0 274.0L220.0 272.6L226.0 278.0L222.0 285.0L212.0 285.0Z" fill="#000000"/>
<path d="M209.0 274.0L220.0 272.6L226.0 278.0L222.0 285.0L212.0 285.0Z" fill="url(#pffffff2)"/>
<path d="M209.0 274.0L220.0 272.6L226.0 278.0L222.0 285.0L212.0 285.0Z" fill="none" stroke="url(#p0000005)" stroke-width="4"/>
<path d="M209.0 274.0L220.0 272.6L226.0 278.0L222.0 285.0L212.0 285.0Z" fill="none" stroke="url(#pffffff6)" stroke-width="4"/>
<path d="M106.0 330.0L118.0 320.0L132.0 318.0L148.0 318.0L160.0 322.0L166.0 332.0L163.0 348.0L155.0 358.0L140.0 363.0L122.0 360.0L110.0 352.0L105.0 340.0Z" fill="#000000"/>
<path d="M106.0 330.0L118.0 320.0L132.0 318.0L148.0 318.0L160.0 322.0L166.0 332.0L163.0 348.0L155.0 358.0L140.0 363.0L122.0 360.0L110.0 352.0L105.0 340.0Z" fill="url(#pffffff5)"/>
<path d="M106.0 330.0L118.0 320.0L132.0 318.0L148.0 318.0L160.0 322.0L166.0 332.0L163.0 348.0L155.0 358.0L140.0 363.0L122.0 360.0L110.0 352.0L105.0 340.0Z" fill="none" stroke="url(#p0000005)" stroke-width="4"/>
<path d="M106.0 330.0L118.0 320.0L132.0 318.0L148.0 318.0L160.0 322.0L166.0 332.0L163.0 348.0L155.0 358.0L140.0 363.0L122.0 360.0L110.0 352.0L105.0 340.0Z" fill="none" stroke="url(#pffffff6)" stroke-width="4"/>
<path d="M150.0 258.0L170.0 253.0L190.0 250.0L205.0 256.0L200.0 270.0L185.0 280.0L170.0 288.0L160.0 286.0L162.0 272.0Z" fill="#000000"/>
<path d="M150.0 258.0L170.0 253.0L190.0 250.0L205.0 256.0L200.0 270.0L185.0 280.0L170.0 288.0L160.0 286.0L162.0 272.0Z" fill="url(#pffffff5)"/>
<path d="M150.0 258.0L170.0 253.0L190.0 250.0L205.0 256.0L200.0 270.0L185.0 280.0L170.0 288.0L160.0 286.0L162.0 272.0Z" fill="none" stroke="url(#p0000005)" stroke-width="4"/>
<path d="M150.0 258.0L170.0 253.0L190.0 250.0L205.0 256.0L200.0 270.0L185.0 280.0L170.0 288.0L160.0 286.0L162.0 272.0Z" fill="none" stroke="url(#pffffff6)" stroke-width="4"/>
<path d="M156.0 300.0L163.0 288.0L170.0 278.0L174.0 285.0L168.0 300.0L162.0 316.0L156.0 316.0Z" fill="#000000"/>
<path d="M156.0 300.0L163.0 288.0L170.0 278.0L174.0 285.0L168.0 300.0L162.0 316.0L156.0 316.0Z" fill="url(#pffffff5)"/>
<path d="M156.0 300.0L163.0 288.0L170.0 278.0L174.0 285.0L168.0 300.0L162.0 316.0L156.0 316.0Z" fill="none" stroke="url(#p0000005)" stroke-width="4"/>
<path d="M156.0 300.0L163.0 288.0L170.0 278.0L174.0 285.0L168.0 300.0L162.0 316.0L156.0 316.0Z" fill="none" stroke="url(#pffffff6)" stroke-width="4"/>
<path d="M63.7 178.0L72.3 166.4L81.0 159.0L101.3 169.3L123.0 170.7L144.7 173.6L166.4 178.0L182.3 188.0L191.0 202.5L195.3 217.0L197.8 232.0L197.0 250.0L190.0 258.0L178.0 256.0L168.0 248.0L160.0 240.0L152.0 233.0L150.0 245.0L148.0 262.0L140.0 270.0L130.2 275.0L127.3 282.0L124.4 295.0L112.8 306.7L101.3 312.5L89.7 311.0L75.2 298.0L62.2 279.2L57.9 260.4L59.3 228.6L63.0 210.0L63.0 190.0Z" fill="#0000ff"/>
<path d="M63.7 178.0L72.3 166.4L81.0 159.0L101.3 169.3L123.0 170.7L144.7 173.6L166.4 178.0L182.3 188.0L191.0 202.5L195.3 217.0L197.8 232.0L197.0 250.0L190.0 258.0L178.0 256.0L168.0 248.0L160.0 240.0L152.0 233.0L150.0 245.0L148.0 262.0L140.0 270.0L130.2 275.0L127.3 282.0L124.4 295.0L112.8 306.7L101.3 312.5L89.7 311.0L75.2 298.0L62.2 279.2L57.9 260.4L59.3 228.6L63.0 210.0L63.0 190.0Z" fill="none" stroke="url(#p0000ff5)" stroke-width="4"/>
<path d="M63.7 178.0L72.3 166.4L81.0 159.0L101.3 169.3L123.0 170.7L144.7 173.6L166.4 178.0L182.3 188.0L191.0 202.5L195.3 217.0L197.8 232.0L197.0 250.0L190.0 258.0L178.0 256.0L168.0 248.0L160.0 240.0L152.0 233.0L150.0 245.0L148.0 262.0L140.0 270.0L130.2 275.0L127.3 282.0L124.4 295.0L112.8 306.7L101.3 312.5L89.7 311.0L75.2 298.0L62.2 279.2L57.9 260.4L59.3 228.6L63.0 210.0L63.0 190.0Z" fill="none" stroke="url(#pffffff6)" stroke-width="4"/>
<path d="M62.0 185.0L78.0 172.0L95.0 175.0L105.0 190.0L112.0 215.0L120.0 240.0L126.0 270.0L122.0 295.0L105.0 310.0L90.0 311.0L74.0 297.0L61.0 278.0L58.0 255.0L60.0 220.0Z" fill="url(#p0000004)"/>
<path d="M150.0 232.0L160.0 233.0L170.0 245.0L168.0 252.0L158.0 248.0Z" fill="url(#pffffff8)"/>
<path d="M200.6 268.0L206.0 255.0L216.0 245.0L228.0 239.0L231.4 252.0L228.0 265.0L218.0 271.0L206.0 271.0Z" fill="#0000ff"/>
<path d="M200.6 268.0L206.0 255.0L216.0 245.0L228.0 239.0L231.4 252.0L228.0 265.0L218.0 271.0L206.0 271.0Z" fill="none" stroke="url(#p0000ff5)" stroke-width="4"/>
<path d="M200.6 268.0L206.0 255.0L216.0 245.0L228.0 239.0L231.4 252.0L228.0 265.0L218.0 271.0L206.0 271.0Z" fill="none" stroke="url(#pffffff6)" stroke-width="4"/>
<path d="M228.6 266.0L240.0 264.2L251.0 270.0L250.0 285.0L238.0 288.0L230.0 280.0Z" fill="#0000ff"/>
<path d="M228.6 266.0L240.0 264.2L251.0 270.0L250.0 285.0L238.0 288.0L230.0 280.0Z" fill="url(#pffffff4)"/>
<path d="M228.6 266.0L240.0 264.2L251.0 270.0L250.0 285.0L238.0 288.0L230.0 280.0Z" fill="none" stroke="url(#p0000ff5)" stroke-width="4"/>
<path d="M228.6 266.0L240.0 264.2L251.0 270.0L250.0 285.0L238.0 288.0L230.0 280.0Z" fill="none" stroke="url(#pffffff6)" stroke-width="4"/>
<path d="M265.0 270.0L278.0 267.0L290.2 272.0L290.0 290.0L282.0 296.4L270.0 294.0L265.0 282.0Z" fill="#0000ff"/>
<path d="M265.0 270.0L278.0 267.0L290.2 272.0L290.0 290.0L282.0 296.4L270.0 294.0L265.0 282.0Z" fill="none" stroke="url(#p0000ff5)" stroke-width="4"/>
<path d="M265.0 270.0L278.0 267.0L290.2 272.0L290.0 290.0L282.0 296.4L270.0 294.0L265.0 282.0Z" fill="none" stroke="url(#pffffff6)" stroke-width="4"/>
<path d="M234.2 292.0L250.0 290.0L270.0 298.0L290.0 298.0L310.0 296.0L325.0 295.0L318.0 310.0L300.0 322.0L280.0 328.0L260.0 328.0L245.0 320.0L238.0 305.0Z" fill="#0000ff"/>
<path d="M234.2 292.0L250.0 290.0L270.0 298.0L290.0 298.0L310.0 296.0L325.0 295.0L318.0 310.0L300.0 322.0L280.0 328.0L260.0 328.0L245.0 320.0L238.0 305.0Z" fill="url(#pffffff4)"/>
<path d="M234.2 292.0L250.0 290.0L270.0 298.0L290.0 298.0L310.0 296.0L325.0 295.0L318.0 310.0L300.0 322.0L280.0 328.0L260.0 328.0L245.0 320.0L238.0 305.0Z" fill="none" stroke="url(#p0000ff5)" stroke-width="4"/>
<path d="M234.2 292.0L250.0 290.0L270.0 298.0L290.0 298.0L310.0 296.0L325.0 295.0L318.0 310.0L300.0 322.0L280.0 328.0L260.0 328.0L245.0 320.0L238.0 305.0Z" fill="none" stroke="url(#pffffff6)" stroke-width="4"/>
<path d="M290.2 274.0L305.0 271.2L322.0 276.0L329.4 288.0L322.0 299.2L305.0 300.0L292.0 294.0Z" fill="#000000"/>
<path d="M290.2 274.0L305.0 271.2L322.0 276.0L329.4 288.0L322.0 299.2L305.0 300.0L292.0 294.0Z" fill="url(#pffffff5)"/>
<path d="M290.2 274.0L305.0 271.2L322.0 276.0L329.4 288.0L322.0 299.2L305.0 300.0L292.0 294.0Z" fill="none" stroke="url(#p0000005)" stroke-width="4"/>
<path d="M290.2 274.0L305.0 271.2L322.0 276.0L329.4 288.0L322.0 299.2L305.0 300.0L292.0 294.0Z" fill="none" stroke="url(#pffffff6)" stroke-width="4"/>
<path d="M292.0 278.0L308.0 275.0L322.0 282.0L320.0 296.0L300.0 298.0Z" fill="url(#p0000ff5)"/>
<path d="M217.0 238.7L231.5 240.0L231.0 262.0L224.0 267.6L217.0 262.0Z" fill="#0000ff"/>
<path d="M217.0 238.7L231.5 240.0L231.0 262.0L224.0 267.6L217.0 262.0Z" fill="url(#pffffff5)"/>
<path d="M217.0 238.7L231.5 240.0L231.0 262.0L224.0 267.6L217.0 262.0Z" fill="none" stroke="url(#p0000ff5)" stroke-width="4"/>
<path d="M217.0 238.7L231.5 240.0L231.0 262.0L224.0 267.6L217.0 262.0Z" fill="none" stroke="url(#pffffff6)" stroke-width="4"/>
<path d="M328.4 159.0L340.0 159.0L340.0 166.4L328.4 166.4Z" fill="#0000ff"/>
<path d="M328.4 159.0L340.0 159.0L340.0 166.4L328.4 166.4Z" fill="none" stroke="url(#p0000ff5)" stroke-width="4"/>
<path d="M328.4 159.0L340.0 159.0L340.0 166.4L328.4 166.4Z" fill="none" stroke="url(#pffffff6)" stroke-width="4"/>
<path d="M374.7 151.0L384.8 150.5L384.8 158.0L374.7 159.0Z" fill="#0000ff"/>
<path d="M374.7 151.0L384.8 150.5L384.8 158.0L374.7 159.0Z" fill="none" stroke="url(#p0000ff5)" stroke-width="4"/>
<path d="M374.7 151.0L384.8 150.5L384.8 158.0L374.7 159.0Z" fill="none" stroke="url(#pffffff6)" stroke-width="4"/>
<path d="M171.0 48.0L182.0 43.0L195.0 39.0L210.0 36.0L217.0 37.0L223.0 45.0L224.0 58.0L220.0 66.0L210.0 72.0L198.0 78.0L185.0 82.0L176.0 75.0L171.0 60.0Z" fill="#ff00ff"/>
<path d="M171.0 48.0L182.0 43.0L195.0 39.0L210.0 36.0L217.0 37.0L223.0 45.0L224.0 58.0L220.0 66.0L210.0 72.0L198.0 78.0L185.0 82.0L176.0 75.0L171.0 60.0Z" fill="url(#pffffff3)"/>
<path d="M171.0 48.0L182.0 43.0L195.0 39.0L210.0 36.0L217.0 37.0L223.0 45.0L224.0 58.0L220.0 66.0L210.0 72.0L198.0 78.0L185.0 82.0L176.0 75.0L171.0 60.0Z" fill="none" stroke="url(#pff00ff5)" stroke-width="4"/>
<path d="M171.0 48.0L182.0 43.0L195.0 39.0L210.0 36.0L217.0 37.0L223.0 45.0L224.0 58.0L220.0 66.0L210.0 72.0L198.0 78.0L185.0 82.0L176.0 75.0L171.0 60.0Z" fill="none" stroke="url(#pffffff6)" stroke-width="4"/>
<path d="M171.0 48.0L180.0 43.0L190.0 44.0L188.0 55.0L180.0 60.0L172.0 58.0Z" fill="url(#p0000ff7)"/>
<path d="M176.0 50.0L195.0 43.0L215.0 41.0L221.0 50.0L217.0 64.0L200.0 73.0L186.0 76.0L177.0 64.0Z" fill="url(#p0000004)"/>
<path d="M280.7 72.3L292.2 72.3L309.6 78.1L321.2 88.3L335.6 89.7L350.1 94.0L361.7 99.8L368.9 112.8L370.4 130.2L368.9 152.0L367.5 173.6L364.6 188.0L366.0 202.5L367.5 217.0L361.7 217.0L354.4 188.0L344.3 166.4L338.5 144.7L332.7 123.0L327.0 107.0L311.0 102.7L298.0 89.7L285.0 79.6Z" fill="#ff00ff"/>
<path d="M280.7 72.3L292.2 72.3L309.6 78.1L321.2 88.3L335.6 89.7L350.1 94.0L361.7 99.8L368.9 112.8L370.4 130.2L368.9 152.0L367.5 173.6L364.6 188.0L366.0 202.5L367.5 217.0L361.7 217.0L354.4 188.0L344.3 166.4L338.5 144.7L332.7 123.0L327.0 107.0L311.0 102.7L298.0 89.7L285.0 79.6Z" fill="url(#pffffff5)"/>
<path d="M280.7 72.3L292.2 72.3L309.6 78.1L321.2 88.3L335.6 89.7L350.1 94.0L361.7 99.8L368.9 112.8L370.4 130.2L368.9 152.0L367.5 173.6L364.6 188.0L366.0 202.5L367.5 217.0L361.7 217.0L354.4 188.0L344.3 166.4L338.5 144.7L332.7 123.0L327.0 107.0L311.0 102.7L298.0 89.7L285.0 79.6Z" fill="none" stroke="url(#pff00ff5)" stroke-width="4"/>
<path d="M280.7 72.3L292.2 72.3L309.6 78.1L321.2 88.3L335.6 89.7L350.1 94.0L361.7 99.8L368.9 112.8L370.4 130.2L368.9 152.0L367.5 173.6L364.6 188.0L366.0 202.5L367.5 217.0L361.7 217.0L354.4 188.0L344.3 166.4L338.5 144.7L332.7 123.0L327.0 107.0L311.0 102.7L298.0 89.7L285.0 79.6Z" fill="none" stroke="url(#pffffff6)" stroke-width="4"/>
<path d="M295.0 80.0L320.0 90.0L345.0 93.0L362.0 103.0L369.0 125.0L368.0 160.0L365.0 195.0L360.0 205.0L352.0 185.0L342.0 160.0L336.0 130.0L326.0 110.0L305.0 100.0Z" fill="url(#p0000006)"/>
<path d="M356.0 217.0L380.0 212.0L397.8 217.0L399.3 234.4L395.0 248.8L383.4 256.0L368.9 251.7L358.8 240.1L357.3 231.5Z" fill="#ff00ff"/>
<path d="M356.0 217.0L380.0 212.0L397.8 217.0L399.3 234.4L395.0 248.8L383.4 256.0L368.9 251.7L358.8 240.1L357.3 231.5Z" fill="url(#pffffff5)"/>
<path d="M356.0 217.0L380.0 212.0L397.8 217.0L399.3 234.4L395.0 248.8L383.4 256.0L368.9 251.7L358.8 240.1L357.3 231.5Z" fill="none" stroke="url(#pff00ff5)" stroke-width="4"/>
<path d="M356.0 217.0L380.0 212.0L397.8 217.0L399.3 234.4L395.0 248.8L383.4 256.0L368.9 251.7L358.8 240.1L357.3 231.5Z" fill="none" stroke="url(#pffffff6)" stroke-width="4"/>
<path d="M360.0 220.0L390.0 218.0L397.0 235.0L390.0 250.0L372.0 250.0L362.0 238.0Z" fill="url(#p0000005)"/>
<path d="M329.8 250.0L340.0 243.0L356.0 246.0L358.0 258.0L350.0 267.6L336.0 266.0L330.0 258.0Z" fill="#ff00ff"/>
<path d="M329.8 250.0L340.0 243.0L356.0 246.0L358.0 258.0L350.0 267.6L336.0 266.0L330.0 258.0Z" fill="url(#pffffff2)"/>
<path d="M329.8 250.0L340.0 243.0L356.0 246.0L358.0 258.0L350.0 267.6L336.0 266.0L330.0 258.0Z" fill="none" stroke="url(#pff00ff5)" stroke-width="4"/>
<path d="M329.8 250.0L340.0 243.0L356.0 246.0L358.0 258.0L350.0 267.6L336.0 266.0L330.0 258.0Z" fill="none" stroke="url(#pffffff6)" stroke-width="4"/>
<path d="M364.6 277.8L367.5 292.2L366.0 308.0L354.4 325.5L332.7 341.4L303.8 358.8L274.9 376.0L246.0 390.6L217.0 396.4L200.0 393.0L180.0 388.0L168.0 380.0L160.0 370.0L148.0 340.0L155.0 335.0L166.0 362.0L175.0 374.0L195.0 378.0L217.0 379.0L224.2 369.0L241.6 350.1L260.4 340.0L279.2 327.0L303.8 321.2L318.3 315.4L329.8 301.0L342.9 286.4L356.0 274.9Z" fill="#ff00ff"/>
<path d="M364.6 277.8L367.5 292.2L366.0 308.0L354.4 325.5L332.7 341.4L303.8 358.8L274.9 376.0L246.0 390.6L217.0 396.4L200.0 393.0L180.0 388.0L168.0 380.0L160.0 370.0L148.0 340.0L155.0 335.0L166.0 362.0L175.0 374.0L195.0 378.0L217.0 379.0L224.2 369.0L241.6 350.1L260.4 340.0L279.2 327.0L303.8 321.2L318.3 315.4L329.8 301.0L342.9 286.4L356.0 274.9Z" fill="url(#pffffff5)"/>
<path d="M364.6 277.8L367.5 292.2L366.0 308.0L354.4 325.5L332.7 341.4L303.8 358.8L274.9 376.0L246.0 390.6L217.0 396.4L200.0 393.0L180.0 388.0L168.0 380.0L160.0 370.0L148.0 340.0L155.0 335.0L166.0 362.0L175.0 374.0L195.0 378.0L217.0 379.0L224.2 369.0L241.6 350.1L260.4 340.0L279.2 327.0L303.8 321.2L318.3 315.4L329.8 301.0L342.9 286.4L356.0 274.9Z" fill="none" stroke="url(#pff00ff5)" stroke-width="4"/>
<path d="M364.6 277.8L367.5 292.2L366.0 308.0L354.4 325.5L332.7 341.4L303.8 358.8L274.9 376.0L246.0 390.6L217.0 396.4L200.0 393.0L180.0 388.0L168.0 380.0L160.0 370.0L148.0 340.0L155.0 335.0L166.0 362.0L175.0 374.0L195.0 378.0L217.0 379.0L224.2 369.0L241.6 350.1L260.4 340.0L279.2 327.0L303.8 321.2L318.3 315.4L329.8 301.0L342.9 286.4L356.0 274.9Z" fill="none" stroke="url(#pffffff6)" stroke-width="4"/>
<path d="M217.0 379.0L241.0 350.0L279.0 327.0L318.0 315.0L343.0 286.0L364.0 280.0L366.0 305.0L354.0 325.0L303.0 359.0L246.0 390.0L217.0 396.0L180.0 388.0L160.0 370.0L150.0 340.0Z" fill="url(#p0000004)"/>
<path d="M69.0 315.0L78.0 300.0L95.0 310.0L112.0 305.0L130.0 300.0L145.0 296.0L148.0 306.0L137.0 318.0L123.0 321.0L104.0 327.0L90.0 337.0L78.0 336.0L70.0 328.0Z" fill="#ff00ff"/>
<path d="M69.0 315.0L78.0 300.0L95.0 310.0L112.0 305.0L130.0 300.0L145.0 296.0L148.0 306.0L137.0 318.0L123.0 321.0L104.0 327.0L90.0 337.0L78.0 336.0L70.0 328.0Z" fill="url(#pffffff3)"/>
<path d="M69.0 315.0L78.0 300.0L95.0 310.0L112.0 305.0L130.0 300.0L145.0 296.0L148.0 306.0L137.0 318.0L123.0 321.0L104.0 327.0L90.0 337.0L78.0 336.0L70.0 328.0Z" fill="none" stroke="url(#pff00ff5)" stroke-width="4"/>
<path d="M69.0 315.0L78.0 300.0L95.0 310.0L112.0 305.0L130.0 300.0L145.0 296.0L148.0 306.0L137.0 318.0L123.0 321.0L104.0 327.0L90.0 337.0L78.0 336.0L70.0 328.0Z" fill="none" stroke="url(#pffffff6)" stroke-width="4"/>
<path d="M72.0 125.0L80.0 120.0L92.0 121.0L104.0 122.0L115.0 121.0L114.0 131.0L108.0 138.0L95.0 139.0L80.0 137.0L72.0 132.0Z" fill="#ff00ff"/>
<path d="M72.0 125.0L80.0 120.0L92.0 121.0L104.0 122.0L115.0 121.0L114.0 131.0L108.0 138.0L95.0 139.0L80.0 137.0L72.0 132.0Z" fill="url(#pffffff4)"/>
<path d="M72.0 125.0L80.0 120.0L92.0 121.0L104.0 122.0L115.0 121.0L114.0 131.0L108.0 138.0L95.0 139.0L80.0 137.0L72.0 132.0Z" fill="none" stroke="url(#pff00ff5)" stroke-width="4"/>
<path d="M72.0 125.0L80.0 120.0L92.0 121.0L104.0 122.0L115.0 121.0L114.0 131.0L108.0 138.0L95.0 139.0L80.0 137.0L72.0 132.0Z" fill="none" stroke="url(#pffffff6)" stroke-width="4"/>
<path d="M80.0 122.0L95.0 124.0L100.0 132.0L88.0 137.0L78.0 132.0Z" fill="url(#p0000005)"/>
<path d="M153.0 269.0L160.0 268.0L168.4 270.0L166.0 275.4L155.0 275.4Z" fill="#ff00ff"/>
<path d="M153.0 269.0L160.0 268.0L168.4 270.0L166.0 275.4L155.0 275.4Z" fill="url(#pffffff1)"/>
<path d="M153.0 269.0L160.0 268.0L168.4 270.0L166.0 275.4L155.0 275.4Z" fill="none" stroke="url(#pff00ff5)" stroke-width="4"/>
<path d="M153.0 269.0L160.0 268.0L168.4 270.0L166.0 275.4L155.0 275.4Z" fill="none" stroke="url(#pffffff6)" stroke-width="4"/>
<path d="M38.0 205.0L39.0 217.0L40.0 240.0L43.0 262.0L50.0 280.0L58.0 297.0L66.0 312.0L74.0 322.0" stroke="#ff00ff" stroke-width="3.5" fill="none" stroke-linecap="round"/>
<path d="M51.0 177.0L54.0 183.0" stroke="#ff00ff" stroke-width="4" fill="none" stroke-linecap="round"/>
<path d="M237.0 52.0L252.0 63.0" stroke="#ff00ff" stroke-width="5" fill="none" stroke-linecap="round"/>
<path d="M163.0 104.0L172.0 94.0" stroke="#ff00ff" stroke-width="4" fill="none" stroke-linecap="round"/>
<path d="M133.0 122.0L144.0 117.0" stroke="#ff00ff" stroke-width="3" fill="none" stroke-linecap="round"/>
<path d="M171.0 81.0L177.0 77.0" stroke="#ff00ff" stroke-width="3" fill="none" stroke-linecap="round"/>
<path d="M127.0 112.0L140.0 106.0L155.0 104.0" stroke="#00ff00" stroke-width="3" fill="none" stroke-linecap="round"/>
<path d="M112.0 157.0L122.0 163.0L134.0 166.0" stroke="#00ff00" stroke-width="3" fill="none" stroke-linecap="round"/>
</g></g>
<g transform="translate(1027,1074.2)" clip-path="url(#clip12)"><g>
<path d="M178.0 101.0L186.0 89.0L200.0 82.0L217.0 78.0L231.5 73.8L246.0 73.8L260.4 79.6L274.9 88.3L289.3 98.4L301.0 110.0L302.4 123.0L299.5 137.4L292.2 149.0L280.7 149.0L272.0 143.2L260.4 140.3L246.0 138.9L231.5 137.4L217.0 134.5L200.0 132.0L188.0 128.0L180.0 118.0L176.5 108.0Z" fill="#000000"/>
<path d="M178.0 101.0L186.0 89.0L200.0 82.0L217.0 78.0L231.5 73.8L246.0 73.8L260.4 79.6L274.9 88.3L289.3 98.4L301.0 110.0L302.4 123.0L299.5 137.4L292.2 149.0L280.7 149.0L272.0 143.2L260.4 140.3L246.0 138.9L231.5 137.4L217.0 134.5L200.0 132.0L188.0 128.0L180.0 118.0L176.5 108.0Z" fill="url(#pffffff5)"/>
<path d="M178.0 101.0L186.0 89.0L200.0 82.0L217.0 78.0L231.5 73.8L246.0 73.8L260.4 79.6L274.9 88.3L289.3 98.4L301.0 110.0L302.4 123.0L299.5 137.4L292.2 149.0L280.7 149.0L272.0 143.2L260.4 140.3L246.0 138.9L231.5 137.4L217.0 134.5L200.0 132.0L188.0 128.0L180.0 118.0L176.5 108.0Z" fill="none" stroke="url(#p0000005)" stroke-width="4"/>
<path d="M178.0 101.0L186.0 89.0L200.0 82.0L217.0 78.0L231.5 73.8L246.0 73.8L260.4 79.6L274.9 88.3L289.3 98.4L301.0 110.0L302.4 123.0L299.5 137.4L292.2 149.0L280.7 149.0L272.0 143.2L260.4 140.3L246.0 138.9L231.5 137.4L217.0 134.5L200.0 132.0L188.0 128.0L180.0 118.0L176.5 108.0Z" fill="none" stroke="url(#pffffff6)" stroke-width="4"/>
<path d="M253.0 128.0L260.0 126.0L269.0 134.0L268.0 143.0L258.0 141.0Z" fill="url(#pffffff6)"/>
<path d="M302.0 128.0L318.0 128.0L328.0 140.0L326.0 152.0L312.0 152.0L303.0 145.0Z" fill="#000000"/>
<path d="M302.0 128.0L318.0 128.0L328.0 140.0L326.0 152.0L312.0 152.0L303.0 145.0Z" fill="url(#pffffff7)"/>
<path d="M302.0 128.0L318.0 128.0L328.0 140.0L326.0 152.0L312.0 152.0L303.0 145.0Z" fill="none" stroke="url(#p0000005)" stroke-width="4"/>
<path d="M302.0 128.0L318.0 128.0L328.0 140.0L326.0 152.0L312.0 152.0L303.0 145.0Z" fill="none" stroke="url(#pffffff6)" stroke-width="4"/>
<path d="M187.8 134.0L206.0 134.0L227.0 139.6L248.0 146.6L269.0 155.0L290.0 157.8L311.0 160.6L325.0 170.4L334.8 183.0L340.4 204.0L339.0 216.0L325.0 220.0L305.0 219.0L283.0 218.0L262.0 218.0L241.0 219.4L227.0 226.4L213.0 232.0L206.0 226.4L199.0 211.0L192.0 194.2L186.4 176.0L185.0 155.0Z" fill="#000000"/>
<path d="M187.8 134.0L206.0 134.0L227.0 139.6L248.0 146.6L269.0 155.0L290.0 157.8L311.0 160.6L325.0 170.4L334.8 183.0L340.4 204.0L339.0 216.0L325.0 220.0L305.0 219.0L283.0 218.0L262.0 218.0L241.0 219.4L227.0 226.4L213.0 232.0L206.0 226.4L199.0 211.0L192.0 194.2L186.4 176.0L185.0 155.0Z" fill="url(#pffffff1)"/>
<path d="M187.8 134.0L206.0 134.0L227.0 139.6L248.0 146.6L269.0 155.0L290.0 157.8L311.0 160.6L325.0 170.4L334.8 183.0L340.4 204.0L339.0 216.0L325.0 220.0L305.0 219.0L283.0 218.0L262.0 218.0L241.0 219.4L227.0 226.4L213.0 232.0L206.0 226.4L199.0 211.0L192.0 194.2L186.4 176.0L185.0 155.0Z" fill="none" stroke="url(#p0000005)" stroke-width="4"/>
<path d="M187.8 134.0L206.0 134.0L227.0 139.6L248.0 146.6L269.0 155.0L290.0 157.8L311.0 160.6L325.0 170.4L334.8 183.0L340.4 204.0L339.0 216.0L325.0 220.0L305.0 219.0L283.0 218.0L262.0 218.0L241.0 219.4L227.0 226.4L213.0 232.0L206.0 226.4L199.0 211.0L192.0 194.2L186.4 176.0L185.0 155.0Z" fill="none" stroke="url(#pffffff6)" stroke-width="4"/>
<path d="M283.0 218.0L305.0 219.0L325.0 220.0L339.0 216.0L340.4 222.0L332.0 237.6L318.0 250.2L311.0 258.6L304.0 254.4L297.0 239.0Z" fill="#000000"/>
<path d="M283.0 218.0L305.0 219.0L325.0 220.0L339.0 216.0L340.4 222.0L332.0 237.6L318.0 250.2L311.0 258.6L304.0 254.4L297.0 239.0Z" fill="url(#pffffff5)"/>
<path d="M283.0 218.0L305.0 219.0L325.0 220.0L339.0 216.0L340.4 222.0L332.0 237.6L318.0 250.2L311.0 258.6L304.0 254.4L297.0 239.0Z" fill="none" stroke="url(#p0000005)" stroke-width="4"/>
<path d="M283.0 218.0L305.0 219.0L325.0 220.0L339.0 216.0L340.4 222.0L332.0 237.6L318.0 250.2L311.0 258.6L304.0 254.4L297.0 239.0Z" fill="none" stroke="url(#pffffff6)" stroke-width="4"/>
<path d="M234.0 220.0L262.0 218.0L283.0 227.0L297.0 240.0L304.0 255.0L290.0 262.0L270.0 262.0L250.0 258.0L238.0 248.0L234.0 235.0Z" fill="#000000"/>
<path d="M234.0 220.0L262.0 218.0L283.0 227.0L297.0 240.0L304.0 255.0L290.0 262.0L270.0 262.0L250.0 258.0L238.0 248.0L234.0 235.0Z" fill="url(#pffffff7)"/>
<path d="M234.0 220.0L262.0 218.0L283.0 227.0L297.0 240.0L304.0 255.0L290.0 262.0L270.0 262.0L250.0 258.0L238.0 248.0L234.0 235.0Z" fill="none" stroke="url(#p0000005)" stroke-width="4"/>
<path d="M234.0 220.0L262.0 218.0L283.0 227.0L297.0 240.0L304.0 255.0L290.0 262.0L270.0 262.0L250.0 258.0L238.0 248.0L234.0 235.0Z" fill="none" stroke="url(#pffffff6)" stroke-width="4"/>
<path d="M253.0 46.0L262.0 43.0L272.0 47.0L275.0 58.0L270.0 69.0L258.0 68.0L254.0 58.0Z" fill="#000000"/>
<path d="M253.0 46.0L262.0 43.0L272.0 47.0L275.0 58.0L270.0 69.0L258.0 68.0L254.0 58.0Z" fill="url(#pffffff2)"/>
<path d="M253.0 46.0L262.0 43.0L272.0 47.0L275.0 58.0L270.0 69.0L258.0 68.0L254.0 58.0Z" fill="none" stroke="url(#p0000005)" stroke-width="4"/>
<path d="M253.0 46.0L262.0 43.0L272.0 47.0L275.0 58.0L270.0 69.0L258.0 68.0L254.0 58.0Z" fill="none" stroke="url(#pffffff6)" stroke-width="4"/>
<path d="M369.0 195.0L385.0 195.0L393.0 205.0L390.0 217.0L372.0 217.0Z" fill="#000000"/>
<path d="M369.0 195.0L385.0 195.0L393.0 205.0L390.0 217.0L372.0 217.0Z" fill="url(#pffffff8)"/>
<path d="M369.0 195.0L385.0 195.0L393.0 205.0L390.0 217.0L372.0 217.0Z" fill="none" stroke="url(#p0000005)" stroke-width="4"/>
<path d="M369.0 195.0L385.0 195.0L393.0 205.0L390.0 217.0L372.0 217.0Z" fill="none" stroke="url(#pffffff6)" stroke-width="4"/>
<path d="M110.0 92.0L118.0 86.0L128.0 82.0L136.0 74.0L140.0 66.0L147.0 62.0L155.0 63.0L160.0 70.0L162.0 82.0L158.0 90.0L150.0 92.0L140.0 92.0L130.0 94.0L116.0 95.0Z" fill="#ff0000"/>
<path d="M110.0 92.0L118.0 86.0L128.0 82.0L136.0 74.0L140.0 66.0L147.0 62.0L155.0 63.0L160.0 70.0L162.0 82.0L158.0 90.0L150.0 92.0L140.0 92.0L130.0 94.0L116.0 95.0Z" fill="url(#pffffff1)"/>
<path d="M110.0 92.0L118.0 86.0L128.0 82.0L136.0 74.0L140.0 66.0L147.0 62.0L155.0 63.0L160.0 70.0L162.0 82.0L158.0 90.0L150.0 92.0L140.0 92.0L130.0 94.0L116.0 95.0Z" fill="none" stroke="url(#pff00005)" stroke-width="4"/>
<path d="M110.0 92.0L118.0 86.0L128.0 82.0L136.0 74.0L140.0 66.0L147.0 62.0L155.0 63.0L160.0 70.0L162.0 82.0L158.0 90.0L150.0 92.0L140.0 92.0L130.0 94.0L116.0 95.0Z" fill="none" stroke="url(#pffffff6)" stroke-width="4"/>
<path d="M112.0 95.0L125.0 94.0L135.0 96.0L137.0 104.0L128.0 110.0L115.0 108.0Z" fill="#000000"/>
<path d="M112.0 95.0L125.0 94.0L135.0 96.0L137.0 104.0L128.0 110.0L115.0 108.0Z" fill="url(#pffffff6)"/>
<path d="M112.0 95.0L125.0 94.0L135.0 96.0L137.0 104.0L128.0 110.0L115.0 108.0Z" fill="none" stroke="url(#p0000005)" stroke-width="4"/>
<path d="M112.0 95.0L125.0 94.0L135.0 96.0L137.0 104.0L128.0 110.0L115.0 108.0Z" fill="none" stroke="url(#pffffff6)" stroke-width="4"/>
<path d="M67.0 147.0L75.0 143.0L83.0 143.0L82.0 149.0L72.0 152.0L67.0 151.0Z" fill="#000000"/>
<path d="M67.0 147.0L75.0 143.0L83.0 143.0L82.0 149.0L72.0 152.0L67.0 151.0Z" fill="url(#pffffff2)"/>
<path d="M67.0 147.0L75.0 143.0L83.0 143.0L82.0 149.0L72.0 152.0L67.0 151.0Z" fill="none" stroke="url(#p0000005)" stroke-width="4"/>
<path d="M67.0 147.0L75.0 143.0L83.0 143.0L82.0 149.0L72.0 152.0L67.0 151.0Z" fill="none" stroke="url(#pffffff6)" stroke-width="4"/>
<path d="M113.0 135.0L120.0 128.0L130.0 128.0L137.0 135.0L136.0 145.0L128.0 152.0L118.0 153.0L113.0 145.0Z" fill="#000000"/>
<path d="M113.0 135.0L120.0 128.0L130.0 128.0L137.0 135.0L136.0 145.0L128.0 152.0L118.0 153.0L113.0 145.0Z" fill="url(#pffffff6)"/>
<path d="M113.0 135.0L120.0 128.0L130.0 128.0L137.0 135.0L136.0 145.0L128.0 152.0L118.0 153.0L113.0 145.0Z" fill="none" stroke="url(#p0000005)" stroke-width="4"/>
<path d="M113.0 135.0L120.0 128.0L130.0 128.0L137.0 135.0L136.0 145.0L128.0 152.0L118.0 153.0L113.0 145.0Z" fill="none" stroke="url(#pffffff6)" stroke-width="4"/>
<path d="M137.0 118.0L150.0 114.0L165.0 115.0L176.0 120.0L178.0 128.0L160.0 128.0L145.0 128.0Z" fill="#000000"/>
<path d="M137.0 118.0L150.0 114.0L165.0 115.0L176.0 120.0L178.0 128.0L160.0 128.0L145.0 128.0Z" fill="url(#pffffff6)"/>
<path d="M137.0 118.0L150.0 114.0L165.0 115.0L176.0 120.0L178.0 128.0L160.0 128.0L145.0 128.0Z" fill="none" stroke="url(#p0000005)" stroke-width="4"/>
<path d="M137.0 118.0L150.0 114.0L165.0 115.0L176.0 120.0L178.0 128.0L160.0 128.0L145.0 128.0Z" fill="none" stroke="url(#pffffff6)" stroke-width="4"/>
<path d="M137.0 135.0L145.0 127.0L160.0 126.0L174.0 130.0L179.0 142.0L178.0 158.0L170.0 170.0L160.0 172.0L150.0 166.0L141.0 155.0L137.0 145.0Z" fill="#000000"/>
<path d="M137.0 135.0L145.0 127.0L160.0 126.0L174.0 130.0L179.0 142.0L178.0 158.0L170.0 170.0L160.0 172.0L150.0 166.0L141.0 155.0L137.0 145.0Z" fill="url(#pffffff1)"/>
<path d="M137.0 135.0L145.0 127.0L160.0 126.0L174.0 130.0L179.0 142.0L178.0 158.0L170.0 170.0L160.0 172.0L150.0 166.0L141.0 155.0L137.0 145.0Z" fill="none" stroke="url(#p0000005)" stroke-width="4"/>
<path d="M137.0 135.0L145.0 127.0L160.0 126.0L174.0 130.0L179.0 142.0L178.0 158.0L170.0 170.0L160.0 172.0L150.0 166.0L141.0 155.0L137.0 145.0Z" fill="none" stroke="url(#pffffff6)" stroke-width="4"/>
<path d="M168.0 290.0L180.0 276.0L205.0 276.0L225.0 285.0L240.0 300.0L252.0 320.0L254.0 345.0L245.0 362.0L230.0 372.0L210.0 376.0L190.0 372.0L178.0 360.0L168.0 340.0L166.0 310.0Z" fill="#000000"/>
<path d="M168.0 290.0L180.0 276.0L205.0 276.0L225.0 285.0L240.0 300.0L252.0 320.0L254.0 345.0L245.0 362.0L230.0 372.0L210.0 376.0L190.0 372.0L178.0 360.0L168.0 340.0L166.0 310.0Z" fill="url(#pffffff5)"/>
<path d="M168.0 290.0L180.0 276.0L205.0 276.0L225.0 285.0L240.0 300.0L252.0 320.0L254.0 345.0L245.0 362.0L230.0 372.0L210.0 376.0L190.0 372.0L178.0 360.0L168.0 340.0L166.0 310.0Z" fill="none" stroke="url(#p0000005)" stroke-width="4"/>
<path d="M168.0 290.0L180.0 276.0L205.0 276.0L225.0 285.0L240.0 300.0L252.0 320.0L254.0 345.0L245.0 362.0L230.0 372.0L210.0 376.0L190.0 372.0L178.0 360.0L168.0 340.0L166.0 310.0Z" fill="none" stroke="url(#pffffff6)" stroke-width="4"/>
<path d="M176.0 279.0L186.0 274.0L198.0 276.0L206.0 288.0L210.0 305.0L208.0 320.0L200.0 325.0L190.0 318.0L180.0 302.0L175.0 290.0Z" fill="#00ff00"/>
<path d="M176.0 279.0L186.0 274.0L198.0 276.0L206.0 288.0L210.0 305.0L208.0 320.0L200.0 325.0L190.0 318.0L180.0 302.0L175.0 290.0Z" fill="url(#pffffff1)"/>
<path d="M176.0 279.0L186.0 274.0L198.0 276.0L206.0 288.0L210.0 305.0L208.0 320.0L200.0 325.0L190.0 318.0L180.0 302.0L175.0 290.0Z" fill="none" stroke="url(#p00ff005)" stroke-width="4"/>
<path d="M176.0 279.0L186.0 274.0L198.0 276.0L206.0 288.0L210.0 305.0L208.0 320.0L200.0 325.0L190.0 318.0L180.0 302.0L175.0 290.0Z" fill="none" stroke="url(#pffffff6)" stroke-width="4"/>
<path d="M170.0 318.0L185.0 320.0L190.0 340.0L185.0 360.0L172.0 355.0L168.0 335.0Z" fill="#00ff00"/>
<path d="M170.0 318.0L185.0 320.0L190.0 340.0L185.0 360.0L172.0 355.0L168.0 335.0Z" fill="url(#pffffff6)"/>
<path d="M170.0 318.0L185.0 320.0L190.0 340.0L185.0 360.0L172.0 355.0L168.0 335.0Z" fill="none" stroke="url(#p00ff005)" stroke-width="4"/>
<path d="M170.0 318.0L185.0 320.0L190.0 340.0L185.0 360.0L172.0 355.0L168.0 335.0Z" fill="none" stroke="url(#pffffff6)" stroke-width="4"/>
<path d="M106.0 330.0L115.0 320.0L130.0 315.0L145.0 310.0L155.0 303.0L162.0 300.0L166.0 310.0L163.0 330.0L155.0 350.0L140.0 362.0L122.0 364.0L108.0 356.0L104.0 343.0Z" fill="#000000"/>
<path d="M106.0 330.0L115.0 320.0L130.0 315.0L145.0 310.0L155.0 303.0L162.0 300.0L166.0 310.0L163.0 330.0L155.0 350.0L140.0 362.0L122.0 364.0L108.0 356.0L104.0 343.0Z" fill="url(#pffffff4)"/>
<path d="M106.0 330.0L115.0 320.0L130.0 315.0L145.0 310.0L155.0 303.0L162.0 300.0L166.0 310.0L163.0 330.0L155.0 350.0L140.0 362.0L122.0 364.0L108.0 356.0L104.0 343.0Z" fill="none" stroke="url(#p0000005)" stroke-width="4"/>
<path d="M106.0 330.0L115.0 320.0L130.0 315.0L145.0 310.0L155.0 303.0L162.0 300.0L166.0 310.0L163.0 330.0L155.0 350.0L140.0 362.0L122.0 364.0L108.0 356.0L104.0 343.0Z" fill="none" stroke="url(#pffffff6)" stroke-width="4"/>
<path d="M130.0 284.0L140.0 278.0L150.0 278.0L152.0 290.0L146.0 298.0L136.0 297.0Z" fill="#000000"/>
<path d="M130.0 284.0L140.0 278.0L150.0 278.0L152.0 290.0L146.0 298.0L136.0 297.0Z" fill="url(#pffffff1)"/>
<path d="M130.0 284.0L140.0 278.0L150.0 278.0L152.0 290.0L146.0 298.0L136.0 297.0Z" fill="none" stroke="url(#p0000005)" stroke-width="4"/>
<path d="M130.0 284.0L140.0 278.0L150.0 278.0L152.0 290.0L146.0 298.0L136.0 297.0Z" fill="none" stroke="url(#pffffff6)" stroke-width="4"/>
<path d="M150.0 250.0L170.0 245.0L190.0 244.0L205.0 250.0L200.0 268.0L185.0 280.0L170.0 290.0L160.0 300.0L158.0 280.0L162.0 265.0Z" fill="#000000"/>
<path d="M150.0 250.0L170.0 245.0L190.0 244.0L205.0 250.0L200.0 268.0L185.0 280.0L170.0 290.0L160.0 300.0L158.0 280.0L162.0 265.0Z" fill="url(#pffffff5)"/>
<path d="M150.0 250.0L170.0 245.0L190.0 244.0L205.0 250.0L200.0 268.0L185.0 280.0L170.0 290.0L160.0 300.0L158.0 280.0L162.0 265.0Z" fill="none" stroke="url(#p0000005)" stroke-width="4"/>
<path d="M150.0 250.0L170.0 245.0L190.0 244.0L205.0 250.0L200.0 268.0L185.0 280.0L170.0 290.0L160.0 300.0L158.0 280.0L162.0 265.0Z" fill="none" stroke="url(#pffffff6)" stroke-width="4"/>
<path d="M62.2 178.0L72.0 166.0L81.0 156.3L101.3 166.4L123.0 169.3L144.7 170.7L166.4 176.5L182.0 186.0L191.0 200.0L195.0 217.0L196.2 232.0L195.0 243.0L185.0 243.0L170.0 243.0L158.0 238.0L150.0 232.0L146.0 245.0L140.0 258.0L128.0 268.0L124.4 277.8L128.8 289.3L123.0 301.0L110.0 309.6L98.4 315.4L89.7 311.0L75.2 298.0L62.2 279.2L57.9 260.4L57.9 240.0L61.0 215.0L62.0 195.0Z" fill="#0000ff"/>
<path d="M62.2 178.0L72.0 166.0L81.0 156.3L101.3 166.4L123.0 169.3L144.7 170.7L166.4 176.5L182.0 186.0L191.0 200.0L195.0 217.0L196.2 232.0L195.0 243.0L185.0 243.0L170.0 243.0L158.0 238.0L150.0 232.0L146.0 245.0L140.0 258.0L128.0 268.0L124.4 277.8L128.8 289.3L123.0 301.0L110.0 309.6L98.4 315.4L89.7 311.0L75.2 298.0L62.2 279.2L57.9 260.4L57.9 240.0L61.0 215.0L62.0 195.0Z" fill="none" stroke="url(#p0000ff5)" stroke-width="4"/>
<path d="M62.2 178.0L72.0 166.0L81.0 156.3L101.3 166.4L123.0 169.3L144.7 170.7L166.4 176.5L182.0 186.0L191.0 200.0L195.0 217.0L196.2 232.0L195.0 243.0L185.0 243.0L170.0 243.0L158.0 238.0L150.0 232.0L146.0 245.0L140.0 258.0L128.0 268.0L124.4 277.8L128.8 289.3L123.0 301.0L110.0 309.6L98.4 315.4L89.7 311.0L75.2 298.0L62.2 279.2L57.9 260.4L57.9 240.0L61.0 215.0L62.0 195.0Z" fill="none" stroke="url(#pffffff6)" stroke-width="4"/>
<path d="M62.0 180.0L78.0 158.0L95.0 160.0L104.0 185.0L98.0 210.0L80.0 215.0L62.0 210.0Z" fill="url(#p0000005)"/>
<path d="M60.0 220.0L80.0 215.0L105.0 220.0L115.0 240.0L120.0 265.0L126.0 290.0L115.0 308.0L98.0 315.0L78.0 300.0L62.0 280.0L58.0 255.0Z" fill="url(#p0000002)"/>
<path d="M112.8 217.0L130.0 216.0L144.7 222.0L144.0 245.0L135.0 258.0L118.6 264.7L112.8 254.6Z" fill="url(#pffffff8)"/>
<path d="M200.4 270.0L206.0 254.0L216.0 242.0L228.0 234.8L234.0 248.0L232.0 264.0L222.0 274.0L208.0 274.0Z" fill="#0000ff"/>
<path d="M200.4 270.0L206.0 254.0L216.0 242.0L228.0 234.8L234.0 248.0L232.0 264.0L222.0 274.0L208.0 274.0Z" fill="url(#pffffff3)"/>
<path d="M200.4 270.0L206.0 254.0L216.0 242.0L228.0 234.8L234.0 248.0L232.0 264.0L222.0 274.0L208.0 274.0Z" fill="none" stroke="url(#p0000ff5)" stroke-width="4"/>
<path d="M200.4 270.0L206.0 254.0L216.0 242.0L228.0 234.8L234.0 248.0L232.0 264.0L222.0 274.0L208.0 274.0Z" fill="none" stroke="url(#pffffff6)" stroke-width="4"/>
<path d="M217.0 231.5L229.0 233.0L236.0 250.0L235.0 262.0L240.0 280.0L250.0 291.0L262.0 293.0L275.0 291.0L286.0 289.0L294.0 280.0L297.0 266.0L305.0 264.2L318.0 264.0L328.0 268.0L330.6 280.0L326.0 295.0L315.0 305.0L300.0 314.0L285.0 320.0L270.0 326.0L255.0 328.0L245.0 323.0L235.0 315.0L225.0 305.0L217.0 300.0Z" fill="#0000ff"/>
<path d="M217.0 231.5L229.0 233.0L236.0 250.0L235.0 262.0L240.0 280.0L250.0 291.0L262.0 293.0L275.0 291.0L286.0 289.0L294.0 280.0L297.0 266.0L305.0 264.2L318.0 264.0L328.0 268.0L330.6 280.0L326.0 295.0L315.0 305.0L300.0 314.0L285.0 320.0L270.0 326.0L255.0 328.0L245.0 323.0L235.0 315.0L225.0 305.0L217.0 300.0Z" fill="none" stroke="url(#p0000ff5)" stroke-width="4"/>
<path d="M217.0 231.5L229.0 233.0L236.0 250.0L235.0 262.0L240.0 280.0L250.0 291.0L262.0 293.0L275.0 291.0L286.0 289.0L294.0 280.0L297.0 266.0L305.0 264.2L318.0 264.0L328.0 268.0L330.6 280.0L326.0 295.0L315.0 305.0L300.0 314.0L285.0 320.0L270.0 326.0L255.0 328.0L245.0 323.0L235.0 315.0L225.0 305.0L217.0 300.0Z" fill="none" stroke="url(#pffffff6)" stroke-width="4"/>
<ellipse cx="248" cy="279" rx="9" ry="12" fill="#ffffff"/>
<path d="M297.0 266.0L305.0 263.0L318.0 263.0L330.0 270.0L331.0 280.0L320.0 278.0L305.0 282.0L297.0 278.0Z" fill="#000000"/>
<path d="M297.0 266.0L305.0 263.0L318.0 263.0L330.0 270.0L331.0 280.0L320.0 278.0L305.0 282.0L297.0 278.0Z" fill="url(#pffffff2)"/>
<path d="M297.0 266.0L305.0 263.0L318.0 263.0L330.0 270.0L331.0 280.0L320.0 278.0L305.0 282.0L297.0 278.0Z" fill="none" stroke="url(#p0000005)" stroke-width="4"/>
<path d="M297.0 266.0L305.0 263.0L318.0 263.0L330.0 270.0L331.0 280.0L320.0 278.0L305.0 282.0L297.0 278.0Z" fill="none" stroke="url(#pffffff6)" stroke-width="4"/>
<path d="M171.0 48.0L182.0 43.0L195.0 39.0L210.0 36.0L217.0 37.0L223.0 45.0L224.0 58.0L220.0 66.0L210.0 72.0L198.0 78.0L185.0 82.0L176.0 75.0L171.0 60.0Z" fill="#ff40ff"/>
<path d="M171.0 48.0L182.0 43.0L195.0 39.0L210.0 36.0L217.0 37.0L223.0 45.0L224.0 58.0L220.0 66.0L210.0 72.0L198.0 78.0L185.0 82.0L176.0 75.0L171.0 60.0Z" fill="url(#pffffff3)"/>
<path d="M171.0 48.0L182.0 43.0L195.0 39.0L210.0 36.0L217.0 37.0L223.0 45.0L224.0 58.0L220.0 66.0L210.0 72.0L198.0 78.0L185.0 82.0L176.0 75.0L171.0 60.0Z" fill="none" stroke="url(#pff40ff5)" stroke-width="4"/>
<path d="M171.0 48.0L182.0 43.0L195.0 39.0L210.0 36.0L217.0 37.0L223.0 45.0L224.0 58.0L220.0 66.0L210.0 72.0L198.0 78.0L185.0 82.0L176.0 75.0L171.0 60.0Z" fill="none" stroke="url(#pffffff6)" stroke-width="4"/>
<path d="M176.0 50.0L195.0 43.0L215.0 41.0L221.0 50.0L217.0 64.0L200.0 73.0L186.0 76.0L177.0 64.0Z" fill="url(#p0000003)"/>
<path d="M279.2 70.9L292.2 72.3L309.6 78.1L322.6 86.8L338.5 89.7L353.0 95.5L361.7 101.3L367.5 114.3L370.4 130.2L368.9 152.0L367.5 173.6L366.0 195.3L367.5 217.0L361.7 217.0L351.5 188.0L342.9 166.4L337.0 144.7L331.3 123.0L324.0 110.0L311.0 104.2L298.0 92.6L285.0 81.0Z" fill="#ff00ff"/>
<path d="M279.2 70.9L292.2 72.3L309.6 78.1L322.6 86.8L338.5 89.7L353.0 95.5L361.7 101.3L367.5 114.3L370.4 130.2L368.9 152.0L367.5 173.6L366.0 195.3L367.5 217.0L361.7 217.0L351.5 188.0L342.9 166.4L337.0 144.7L331.3 123.0L324.0 110.0L311.0 104.2L298.0 92.6L285.0 81.0Z" fill="url(#pffffff5)"/>
<path d="M279.2 70.9L292.2 72.3L309.6 78.1L322.6 86.8L338.5 89.7L353.0 95.5L361.7 101.3L367.5 114.3L370.4 130.2L368.9 152.0L367.5 173.6L366.0 195.3L367.5 217.0L361.7 217.0L351.5 188.0L342.9 166.4L337.0 144.7L331.3 123.0L324.0 110.0L311.0 104.2L298.0 92.6L285.0 81.0Z" fill="none" stroke="url(#pff00ff5)" stroke-width="4"/>
<path d="M279.2 70.9L292.2 72.3L309.6 78.1L322.6 86.8L338.5 89.7L353.0 95.5L361.7 101.3L367.5 114.3L370.4 130.2L368.9 152.0L367.5 173.6L366.0 195.3L367.5 217.0L361.7 217.0L351.5 188.0L342.9 166.4L337.0 144.7L331.3 123.0L324.0 110.0L311.0 104.2L298.0 92.6L285.0 81.0Z" fill="none" stroke="url(#pffffff6)" stroke-width="4"/>
<path d="M295.0 82.0L320.0 90.0L345.0 93.0L362.0 104.0L369.0 125.0L368.0 160.0L365.0 195.0L360.0 205.0L350.0 185.0L341.0 160.0L335.0 130.0L325.0 112.0L305.0 100.0Z" fill="url(#p0000005)"/>
<path d="M356.0 217.0L380.0 212.0L397.8 217.0L399.3 234.4L395.0 248.8L383.4 254.6L368.9 251.7L358.8 240.1L357.3 231.5Z" fill="#ff00ff"/>
<path d="M356.0 217.0L380.0 212.0L397.8 217.0L399.3 234.4L395.0 248.8L383.4 254.6L368.9 251.7L358.8 240.1L357.3 231.5Z" fill="url(#pffffff5)"/>
<path d="M356.0 217.0L380.0 212.0L397.8 217.0L399.3 234.4L395.0 248.8L383.4 254.6L368.9 251.7L358.8 240.1L357.3 231.5Z" fill="none" stroke="url(#pff00ff5)" stroke-width="4"/>
<path d="M356.0 217.0L380.0 212.0L397.8 217.0L399.3 234.4L395.0 248.8L383.4 254.6L368.9 251.7L358.8 240.1L357.3 231.5Z" fill="none" stroke="url(#pffffff6)" stroke-width="4"/>
<path d="M360.0 220.0L390.0 218.0L397.0 235.0L390.0 250.0L372.0 250.0L362.0 238.0Z" fill="url(#p0000005)"/>
<path d="M335.6 245.0L350.0 242.0L362.0 252.0L372.0 262.0L376.0 270.0L360.0 270.0L345.0 266.0Z" fill="#ff00ff"/>
<path d="M335.6 245.0L350.0 242.0L362.0 252.0L372.0 262.0L376.0 270.0L360.0 270.0L345.0 266.0Z" fill="url(#pffffff7)"/>
<path d="M335.6 245.0L350.0 242.0L362.0 252.0L372.0 262.0L376.0 270.0L360.0 270.0L345.0 266.0Z" fill="none" stroke="url(#pff00ff5)" stroke-width="4"/>
<path d="M335.6 245.0L350.0 242.0L362.0 252.0L372.0 262.0L376.0 270.0L360.0 270.0L345.0 266.0Z" fill="none" stroke="url(#pffffff6)" stroke-width="4"/>
<path d="M364.6 277.8L367.5 289.3L366.0 303.8L358.8 318.3L342.9 332.7L325.5 344.3L303.8 358.8L282.0 373.3L260.4 384.8L238.7 393.5L217.0 395.0L200.0 393.0L180.0 388.0L168.0 380.0L160.0 370.0L150.0 345.0L156.0 342.0L166.0 362.0L175.0 374.0L195.0 378.0L217.0 370.4L228.6 361.7L246.0 350.1L264.7 337.0L282.0 325.5L303.8 322.6L318.3 318.3L327.0 306.7L337.0 293.7L347.2 280.7Z" fill="#ff00ff"/>
<path d="M364.6 277.8L367.5 289.3L366.0 303.8L358.8 318.3L342.9 332.7L325.5 344.3L303.8 358.8L282.0 373.3L260.4 384.8L238.7 393.5L217.0 395.0L200.0 393.0L180.0 388.0L168.0 380.0L160.0 370.0L150.0 345.0L156.0 342.0L166.0 362.0L175.0 374.0L195.0 378.0L217.0 370.4L228.6 361.7L246.0 350.1L264.7 337.0L282.0 325.5L303.8 322.6L318.3 318.3L327.0 306.7L337.0 293.7L347.2 280.7Z" fill="url(#pffffff5)"/>
<path d="M364.6 277.8L367.5 289.3L366.0 303.8L358.8 318.3L342.9 332.7L325.5 344.3L303.8 358.8L282.0 373.3L260.4 384.8L238.7 393.5L217.0 395.0L200.0 393.0L180.0 388.0L168.0 380.0L160.0 370.0L150.0 345.0L156.0 342.0L166.0 362.0L175.0 374.0L195.0 378.0L217.0 370.4L228.6 361.7L246.0 350.1L264.7 337.0L282.0 325.5L303.8 322.6L318.3 318.3L327.0 306.7L337.0 293.7L347.2 280.7Z" fill="none" stroke="url(#pff00ff5)" stroke-width="4"/>
<path d="M364.6 277.8L367.5 289.3L366.0 303.8L358.8 318.3L342.9 332.7L325.5 344.3L303.8 358.8L282.0 373.3L260.4 384.8L238.7 393.5L217.0 395.0L200.0 393.0L180.0 388.0L168.0 380.0L160.0 370.0L150.0 345.0L156.0 342.0L166.0 362.0L175.0 374.0L195.0 378.0L217.0 370.4L228.6 361.7L246.0 350.1L264.7 337.0L282.0 325.5L303.8 322.6L318.3 318.3L327.0 306.7L337.0 293.7L347.2 280.7Z" fill="none" stroke="url(#pffffff6)" stroke-width="4"/>
<path d="M217.0 370.0L246.0 350.0L282.0 326.0L318.0 318.0L340.0 295.0L362.0 283.0L366.0 300.0L343.0 332.0L303.0 359.0L260.0 385.0L217.0 395.0L180.0 388.0L160.0 370.0L152.0 345.0Z" fill="url(#p0000004)"/>
<path d="M110.0 300.0L125.0 298.0L147.0 300.0L145.0 312.0L125.0 318.0L110.0 312.0Z" fill="#ff00ff"/>
<path d="M110.0 300.0L125.0 298.0L147.0 300.0L145.0 312.0L125.0 318.0L110.0 312.0Z" fill="url(#pffffff7)"/>
<path d="M110.0 300.0L125.0 298.0L147.0 300.0L145.0 312.0L125.0 318.0L110.0 312.0Z" fill="none" stroke="url(#pff00ff5)" stroke-width="4"/>
<path d="M110.0 300.0L125.0 298.0L147.0 300.0L145.0 312.0L125.0 318.0L110.0 312.0Z" fill="none" stroke="url(#pffffff6)" stroke-width="4"/>
<path d="M78.0 122.0L95.0 121.0L108.0 120.0L115.0 121.0L114.0 131.0L108.0 137.0L95.0 136.0L82.0 132.0Z" fill="#ff40ff"/>
<path d="M78.0 122.0L95.0 121.0L108.0 120.0L115.0 121.0L114.0 131.0L108.0 137.0L95.0 136.0L82.0 132.0Z" fill="url(#pffffff6)"/>
<path d="M78.0 122.0L95.0 121.0L108.0 120.0L115.0 121.0L114.0 131.0L108.0 137.0L95.0 136.0L82.0 132.0Z" fill="none" stroke="url(#pff40ff5)" stroke-width="4"/>
<path d="M78.0 122.0L95.0 121.0L108.0 120.0L115.0 121.0L114.0 131.0L108.0 137.0L95.0 136.0L82.0 132.0Z" fill="none" stroke="url(#pffffff6)" stroke-width="4"/>
<path d="M152.8 268.0L160.0 266.0L166.8 268.0L166.0 274.0L155.0 274.0Z" fill="#ff00ff"/>
<path d="M152.8 268.0L160.0 266.0L166.8 268.0L166.0 274.0L155.0 274.0Z" fill="url(#pffffff1)"/>
<path d="M152.8 268.0L160.0 266.0L166.8 268.0L166.0 274.0L155.0 274.0Z" fill="none" stroke="url(#pff00ff5)" stroke-width="4"/>
<path d="M152.8 268.0L160.0 266.0L166.8 268.0L166.0 274.0L155.0 274.0Z" fill="none" stroke="url(#pffffff6)" stroke-width="4"/>
<path d="M121.5 258.0L128.8 258.0L128.8 262.0L121.5 262.0Z" fill="#ff00ff"/>
<path d="M121.5 258.0L128.8 258.0L128.8 262.0L121.5 262.0Z" fill="url(#pffffff1)"/>
<path d="M121.5 258.0L128.8 258.0L128.8 262.0L121.5 262.0Z" fill="none" stroke="url(#pff00ff5)" stroke-width="4"/>
<path d="M121.5 258.0L128.8 258.0L128.8 262.0L121.5 262.0Z" fill="none" stroke="url(#pffffff6)" stroke-width="4"/>
<path d="M237.0 51.0L252.0 63.0" stroke="#ff00ff" stroke-width="5" fill="none" stroke-linecap="round"/>
<path d="M164.0 103.0L172.0 95.0" stroke="#ff00ff" stroke-width="4" fill="none" stroke-linecap="round"/>
<path d="M135.0 121.0L144.0 116.0" stroke="#ff00ff" stroke-width="3" fill="none" stroke-linecap="round"/>
<path d="M123.0 122.0L128.0 110.0L138.0 105.0L150.0 104.0L158.0 105.0" stroke="#00ff00" stroke-width="6" fill="none" stroke-linecap="round"/>
<path d="M112.0 146.0L113.0 158.0L121.0 165.0L134.0 168.0" stroke="#00ff00" stroke-width="3" fill="none" stroke-linecap="round"/>
</g></g>
<rect x="70.3" y="604.0" width="433" height="433.5" fill="none" stroke="#000" stroke-width="1.8"/>
<rect x="547.8" y="604.0" width="433" height="433.5" fill="none" stroke="#000" stroke-width="1.8"/>
<rect x="1027.0" y="604.0" width="433" height="433.5" fill="none" stroke="#000" stroke-width="1.8"/>
<rect x="70.3" y="1074.2" width="433" height="433.5" fill="none" stroke="#000" stroke-width="1.8"/>
<rect x="547.8" y="1074.2" width="433" height="433.5" fill="none" stroke="#000" stroke-width="1.8"/>
<rect x="1027.0" y="1074.2" width="433" height="433.5" fill="none" stroke="#000" stroke-width="1.8"/>
<text transform="translate(67.70,1547.00)" fill="#ff00ff" font-family="'Liberation Sans', sans-serif" font-weight="bold" font-size="28.9">B cells</text>
<text transform="translate(207.00,1547.00)" fill="#0000ff" font-family="'Liberation Sans', sans-serif" font-weight="bold" font-size="28.9">CD8+ T cells</text>
<text transform="translate(426.80,1547.00)" fill="#00ff00" font-family="'Liberation Sans', sans-serif" font-weight="bold" font-size="28.9">HLA-DR+ NK cells</text>
<text transform="translate(723.00,1547.00)" fill="#ff0000" font-family="'Liberation Sans', sans-serif" font-weight="bold" font-size="28.9">CD16+ Monocytes</text>
<text transform="translate(1020.00,1547.00)" fill="#000" font-family="'Liberation Sans', sans-serif" font-weight="bold" font-size="28.9">Others</text>
</svg>
</body></html>
